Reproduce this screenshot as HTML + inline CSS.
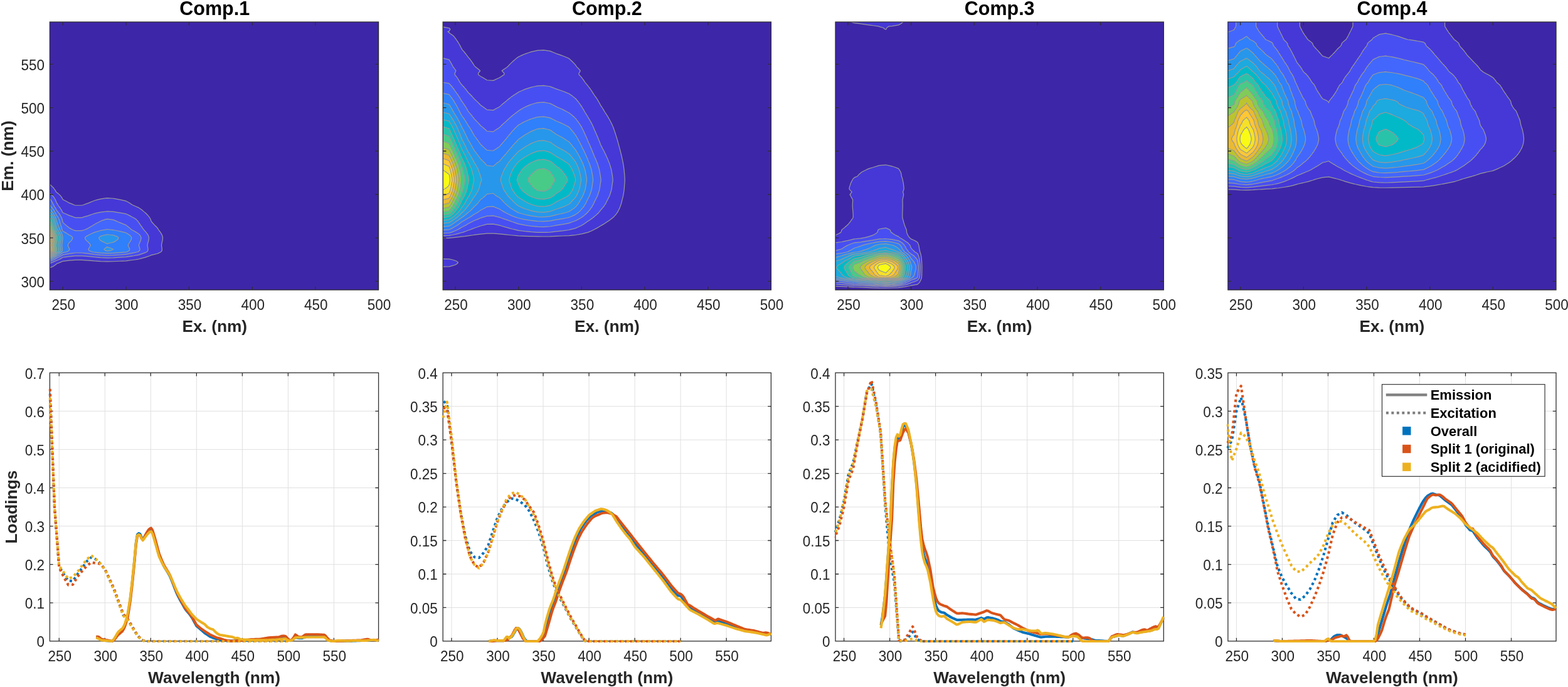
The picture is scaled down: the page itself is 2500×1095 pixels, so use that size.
<!DOCTYPE html>
<html lang="en"><head><meta charset="utf-8"><title>PARAFAC split validation: Comp.1 - Comp.4</title>
<style>html,body{margin:0;padding:0;background:#fff}body{width:2500px;height:1095px;overflow:hidden}svg{display:block}text{font-family:'Liberation Sans', Arial, Helvetica, sans-serif}.t{font-size:22.5px;fill:#262626}.l{font-size:26.3px;font-weight:700;fill:#262626}.h{font-size:30.5px;font-weight:700;fill:#000}.g{font-size:22px;font-weight:700;fill:#000}.ax{fill:none;stroke:#2e2e2e;stroke-width:1.3}.gr{fill:none;stroke:#e0e0e0;stroke-width:1}.cl{fill:none;stroke:#999999;stroke-width:1.2;stroke-linejoin:round}.em{fill:none;stroke-width:4.1;stroke-linejoin:round;stroke-linecap:butt}.ex{fill:none;stroke-width:4.1;stroke-linejoin:round;stroke-dasharray:4 4.47}</style></head><body>
<svg width="2500" height="1095" viewBox="0 0 2500 1095">
<rect width="2500" height="1095" fill="#fff"/>
<g id="eem1">
<clipPath id="cp0"><rect x="79.4" y="35" width="524.15" height="427.05"/></clipPath>
<rect x="79.4" y="35" width="524.15" height="427.05" fill="#3e26a8"/>
<g clip-path="url(#cp0)">
<path fill="#4538d7" fill-rule="evenodd" d="M78.83 426.43 L78.83 427.04 L80.41 426.43 L85.18 424.36 L88.3 422.28 L90.11 420.63 L90.82 420.2 L96.18 418.13 L100.17 416.3 L102.24 416.05 L110.24 415.14 L120.31 414.29 L130.38 414.29 L140.44 415.04 L150.51 415.9 L153.13 416.05 L160.58 416.55 L170.65 416.95 L180.71 416.77 L190.78 416.27 L194.93 416.05 L200.85 415.78 L210.92 414.52 L215.01 413.97 L220.98 413.04 L225.3 411.9 L231.05 410.36 L232.65 409.82 L238.74 407.74 L241.12 406.59 L245.53 405.67 L251.19 404.23 L252.46 403.59 L256.79 401.51 L258.13 399.44 L258.39 397.36 L258.12 395.28 L257.79 393.2 L257.44 391.13 L257.74 389.05 L258.16 386.97 L258.67 384.9 L259.1 382.82 L259.37 380.74 L259.45 378.67 L259.06 376.59 L258.24 374.51 L257.15 372.44 L255.84 370.36 L254.37 368.28 L252.7 366.2 L251.53 364.13 L251.19 363.5 L249.81 362.05 L247.69 359.97 L245.7 357.9 L243.85 355.82 L241.97 353.74 L241.12 352.72 L240.8 351.67 L240.13 349.59 L238.96 347.51 L237.49 345.44 L235.83 343.36 L233.92 341.28 L231.72 339.21 L231.05 338.63 L229.13 337.13 L226.77 335.05 L224.09 332.97 L220.99 330.9 L220.98 330.9 L216.01 328.82 L211.44 326.74 L210.92 326.43 L208.34 324.67 L204.97 322.59 L201.18 320.51 L200.85 320.34 L192.19 318.44 L190.78 318.15 L181.48 316.36 L180.71 316.24 L170.65 315.62 L165.01 316.36 L160.58 317.06 L155.24 318.44 L150.51 319.76 L148.51 320.51 L143.39 322.59 L140.44 323.9 L138.16 324.67 L132.38 326.74 L130.38 327.27 L120.31 327.27 L118.57 326.74 L113.56 324.67 L110.24 323.41 L108.9 322.59 L105.2 320.51 L101.02 318.44 L100.17 318.05 L99.4 316.36 L98.16 314.28 L96.58 312.21 L94.66 310.13 L92.24 308.05 L90.11 306.56 L89.57 305.97 L88.4 303.9 L87.09 301.82 L85.53 299.74 L83.63 297.67 L81.28 295.59 L78.83 293.77 L78.83 295.59 L78.83 297.67 L78.83 299.74 L78.83 301.82 L78.83 303.9 L78.83 305.97 L78.83 308.05 L78.83 310.13 L78.83 312.21 L78.83 314.28 L78.83 316.36 L78.83 318.44 L78.83 320.51 L78.83 322.59 L78.83 324.67 L78.83 326.74 L78.83 328.82 L78.83 330.9 L78.83 332.97 L78.83 335.05 L78.83 337.13 L78.83 339.21 L78.83 341.28 L78.83 343.36 L78.83 345.44 L78.83 347.51 L78.83 349.59 L78.83 351.67 L78.83 353.74 L78.83 355.82 L78.83 357.9 L78.83 359.97 L78.83 362.05 L78.83 364.13 L78.83 366.2 L78.83 368.28 L78.83 370.36 L78.83 372.44 L78.83 374.51 L78.83 376.59 L78.83 378.67 L78.83 380.74 L78.83 382.82 L78.83 384.9 L78.83 386.97 L78.83 389.05 L78.83 391.13 L78.83 393.2 L78.83 395.28 L78.83 397.36 L78.83 399.44 L78.83 401.51 L78.83 403.59 L78.83 405.67 L78.83 407.74 L78.83 409.82 L78.83 411.9 L78.83 413.97 L78.83 416.05 L78.83 418.13 L78.83 420.2 L78.83 422.28 L78.83 424.36 L78.83 426.43Z"/>
<path fill="#484ff2" fill-rule="evenodd" d="M78.83 418.13 L78.83 419.9 L83.69 418.13 L88.56 416.05 L90.11 415.26 L93.57 413.97 L97.44 411.9 L100.17 410.23 L102.9 409.82 L110.24 408.84 L120.31 407.84 L130.38 407.84 L140.44 408.72 L150.51 409.72 L151.99 409.82 L160.58 410.54 L170.65 411.03 L180.71 410.81 L190.78 410.2 L196.41 409.82 L200.85 409.58 L210.92 408.11 L213.33 407.74 L220.98 406.36 L223.32 405.67 L228.94 403.59 L231.05 402.84 L234.17 401.51 L235.77 399.44 L236.09 397.36 L235.76 395.28 L235.37 393.2 L234.94 391.13 L235.31 389.05 L235.81 386.97 L236.43 384.9 L236.95 382.82 L237.27 380.74 L237.37 378.67 L236.9 376.59 L235.92 374.51 L234.6 372.44 L233.02 370.36 L231.25 368.28 L231.05 368.07 L229.23 366.2 L227.81 364.13 L226.4 362.05 L224.87 359.97 L223.44 357.9 L222.1 355.82 L220.98 354.1 L220.65 353.74 L218.94 351.67 L217.11 349.59 L213.91 347.51 L210.92 345.94 L210.06 345.44 L206.2 343.36 L201.79 341.28 L200.85 340.88 L191.67 339.21 L190.78 339.05 L180.71 337.45 L175.25 337.13 L170.65 336.79 L168.48 337.13 L160.58 338.15 L155.63 339.21 L150.51 340.4 L147.7 341.28 L141.72 343.36 L140.44 343.84 L134.87 345.44 L130.38 346.84 L120.31 346.84 L116.41 345.44 L110.24 343.43 L110.11 343.36 L105.79 341.28 L100.79 339.21 L100.17 338.97 L99.14 337.13 L98.09 335.05 L96.9 332.97 L95.52 330.9 L93.89 328.82 L92.4 326.74 L91.23 324.67 L90.11 322.86 L90.01 322.59 L89.2 320.51 L88.29 318.44 L87.25 316.36 L85.88 314.28 L84.14 312.21 L82.01 310.13 L79.34 308.05 L78.83 307.71 L78.83 308.05 L78.83 310.13 L78.83 312.21 L78.83 314.28 L78.83 316.36 L78.83 318.44 L78.83 320.51 L78.83 322.59 L78.83 324.67 L78.83 326.74 L78.83 328.82 L78.83 330.9 L78.83 332.97 L78.83 335.05 L78.83 337.13 L78.83 339.21 L78.83 341.28 L78.83 343.36 L78.83 345.44 L78.83 347.51 L78.83 349.59 L78.83 351.67 L78.83 353.74 L78.83 355.82 L78.83 357.9 L78.83 359.97 L78.83 362.05 L78.83 364.13 L78.83 366.2 L78.83 368.28 L78.83 370.36 L78.83 372.44 L78.83 374.51 L78.83 376.59 L78.83 378.67 L78.83 380.74 L78.83 382.82 L78.83 384.9 L78.83 386.97 L78.83 389.05 L78.83 391.13 L78.83 393.2 L78.83 395.28 L78.83 397.36 L78.83 399.44 L78.83 401.51 L78.83 403.59 L78.83 405.67 L78.83 407.74 L78.83 409.82 L78.83 411.9 L78.83 413.97 L78.83 416.05 L78.83 418.13Z"/>
<path fill="#4367fd" fill-rule="evenodd" d="M78.83 416.05 L78.83 416.87 L81.22 416.05 L86.41 413.97 L89.62 411.9 L90.11 411.59 L94.14 409.82 L98.23 407.74 L100.17 406.3 L103.77 405.67 L110.24 404.32 L115.4 403.59 L120.31 402.99 L130.38 402.99 L136.04 403.59 L140.44 404.14 L150.49 405.67 L150.51 405.67 L160.58 406.66 L170.65 407.23 L180.71 406.97 L190.78 406.26 L198.36 405.67 L200.85 405.46 L209.45 403.59 L210.92 403.3 L219.87 401.51 L220.98 400.84 L222.59 399.44 L223.06 397.36 L222.57 395.28 L221.97 393.2 L221.34 391.13 L221.89 389.05 L222.65 386.97 L223.58 384.9 L224.36 382.82 L224.84 380.74 L225 378.67 L224.28 376.59 L222.8 374.51 L220.98 372.61 L220.75 372.44 L217.51 370.36 L213.88 368.28 L210.92 366.76 L209.94 366.2 L207.49 364.13 L205.05 362.05 L202.41 359.97 L200.85 358.65 L198.83 357.9 L193.76 355.82 L190.78 354.61 L188.57 353.74 L183.77 351.67 L180.71 350.41 L175.58 349.59 L170.65 349.11 L168.33 349.59 L162.32 351.67 L160.58 352.29 L158.02 353.74 L154.03 355.82 L150.51 357.69 L150.21 357.9 L146.85 359.97 L143.27 362.05 L140.44 363.82 L139.79 364.13 L135.08 366.2 L130.38 367.64 L120.31 367.64 L116.23 366.2 L112.14 364.13 L110.24 363.13 L108.98 362.05 L106.4 359.97 L103.98 357.9 L101.72 355.82 L100.17 354.41 L100.03 353.74 L99.6 351.67 L99.16 349.59 L98.37 347.51 L97.39 345.44 L96.27 343.36 L94.99 341.28 L93.51 339.21 L91.78 337.13 L90.21 335.05 L90.11 334.93 L89.18 332.97 L88.03 330.9 L86.68 328.82 L85.44 326.74 L84.47 324.67 L83.4 322.59 L82.18 320.51 L80.82 318.44 L79.26 316.36 L78.83 315.9 L78.83 316.36 L78.83 318.44 L78.83 320.51 L78.83 322.59 L78.83 324.67 L78.83 326.74 L78.83 328.82 L78.83 330.9 L78.83 332.97 L78.83 335.05 L78.83 337.13 L78.83 339.21 L78.83 341.28 L78.83 343.36 L78.83 345.44 L78.83 347.51 L78.83 349.59 L78.83 351.67 L78.83 353.74 L78.83 355.82 L78.83 357.9 L78.83 359.97 L78.83 362.05 L78.83 364.13 L78.83 366.2 L78.83 368.28 L78.83 370.36 L78.83 372.44 L78.83 374.51 L78.83 376.59 L78.83 378.67 L78.83 380.74 L78.83 382.82 L78.83 384.9 L78.83 386.97 L78.83 389.05 L78.83 391.13 L78.83 393.2 L78.83 395.28 L78.83 397.36 L78.83 399.44 L78.83 401.51 L78.83 403.59 L78.83 405.67 L78.83 407.74 L78.83 409.82 L78.83 411.9 L78.83 413.97 L78.83 416.05Z"/>
<path fill="#2f80fa" fill-rule="evenodd" d="M78.83 413.97 L78.83 414.68 L80.8 413.97 L85.08 411.9 L88.7 409.82 L90.11 408.97 L93.02 407.74 L96.56 405.67 L99.06 403.59 L100.17 402.68 L106.34 401.51 L109.98 399.44 L110.24 398.67 L111.01 397.36 L110.24 396.09 L109.95 395.28 L109.06 393.2 L108.1 391.13 L108.93 389.05 L110.07 386.97 L110.24 386.73 L112.32 384.9 L114.32 382.82 L115.54 380.74 L115.94 378.67 L114.12 376.59 L110.34 374.51 L110.24 374.47 L107.32 372.44 L103.74 370.36 L100.18 368.51 L100.08 368.28 L99.19 366.2 L98.56 364.13 L97.93 362.05 L97.25 359.97 L96.61 357.9 L96.02 355.82 L95.41 353.74 L94.85 351.67 L94.25 349.59 L93.2 347.51 L91.89 345.44 L90.41 343.36 L90.11 342.97 L89.33 341.28 L88.24 339.21 L86.97 337.13 L85.8 335.05 L84.49 332.97 L82.96 330.9 L81.16 328.82 L79.51 326.74 L78.83 325.63 L78.83 326.74 L78.83 328.82 L78.83 330.9 L78.83 332.97 L78.83 335.05 L78.83 337.13 L78.83 339.21 L78.83 341.28 L78.83 343.36 L78.83 345.44 L78.83 347.51 L78.83 349.59 L78.83 351.67 L78.83 353.74 L78.83 355.82 L78.83 357.9 L78.83 359.97 L78.83 362.05 L78.83 364.13 L78.83 366.2 L78.83 368.28 L78.83 370.36 L78.83 372.44 L78.83 374.51 L78.83 376.59 L78.83 378.67 L78.83 380.74 L78.83 382.82 L78.83 384.9 L78.83 386.97 L78.83 389.05 L78.83 391.13 L78.83 393.2 L78.83 395.28 L78.83 397.36 L78.83 399.44 L78.83 401.51 L78.83 403.59 L78.83 405.67 L78.83 407.74 L78.83 409.82 L78.83 411.9 L78.83 413.97ZM169.61 403.59 L170.65 403.66 L172.86 403.59 L180.71 403.38 L190.78 402.65 L200.85 401.81 L202.35 401.51 L206.07 399.44 L206.8 397.36 L206.05 395.28 L205.13 393.2 L204.15 391.13 L205 389.05 L206.17 386.97 L207.6 384.9 L208.8 382.82 L209.53 380.74 L209.77 378.67 L208.67 376.59 L206.4 374.51 L203.35 372.44 L200.85 370.99 L198.29 370.36 L190.78 368.62 L189.25 368.28 L180.71 366.53 L176.52 366.2 L170.65 365.51 L167.88 366.2 L160.58 367.44 L157.5 368.28 L150.54 370.36 L150.51 370.37 L145.58 372.44 L141.45 374.51 L140.44 375.17 L137.51 376.59 L135.41 378.67 L135.87 380.74 L137.28 382.82 L139.58 384.9 L140.44 385.57 L141.76 386.97 L143.34 389.05 L144.49 391.13 L143.17 393.2 L141.93 395.28 L140.91 397.36 L141.89 399.44 L146.93 401.51 L150.51 402.03 L160.58 403.06 L169.61 403.59Z"/>
<path fill="#2797eb" fill-rule="evenodd" d="M78.83 411.9 L78.83 412.66 L80.55 411.9 L85.07 409.82 L88.83 407.74 L90.11 406.76 L92.23 405.67 L95.36 403.59 L98.27 401.51 L99.17 399.44 L99.35 397.36 L99.17 395.28 L98.94 393.2 L98.71 391.13 L98.91 389.05 L99.19 386.97 L99.54 384.9 L99.83 382.82 L100.01 380.74 L100.06 378.67 L99.8 376.59 L99.25 374.51 L98.52 372.44 L97.63 370.36 L96.64 368.28 L95.52 366.2 L94.73 364.13 L93.95 362.05 L93.1 359.97 L92.3 357.9 L91.56 355.82 L90.8 353.74 L90.11 351.7 L90.1 351.67 L89.69 349.59 L88.96 347.51 L88.06 345.44 L87.03 343.36 L85.85 341.28 L84.49 339.21 L82.9 337.13 L81.45 335.05 L79.8 332.97 L78.83 331.88 L78.83 332.97 L78.83 335.05 L78.83 337.13 L78.83 339.21 L78.83 341.28 L78.83 343.36 L78.83 345.44 L78.83 347.51 L78.83 349.59 L78.83 351.67 L78.83 353.74 L78.83 355.82 L78.83 357.9 L78.83 359.97 L78.83 362.05 L78.83 364.13 L78.83 366.2 L78.83 368.28 L78.83 370.36 L78.83 372.44 L78.83 374.51 L78.83 376.59 L78.83 378.67 L78.83 380.74 L78.83 382.82 L78.83 384.9 L78.83 386.97 L78.83 389.05 L78.83 391.13 L78.83 393.2 L78.83 395.28 L78.83 397.36 L78.83 399.44 L78.83 401.51 L78.83 403.59 L78.83 405.67 L78.83 407.74 L78.83 409.82 L78.83 411.9ZM168.11 399.44 L170.65 399.89 L176.04 399.44 L180.71 397.5 L180.85 397.36 L180.71 397.23 L175.85 395.28 L170.65 393.56 L168.2 395.28 L165.76 397.36 L168.11 399.44ZM167.8 386.97 L170.65 388.55 L176.69 386.97 L180.71 386.13 L183.03 384.9 L186.34 382.82 L188.36 380.74 L189.02 378.67 L186 376.59 L180.71 374.82 L178.31 374.51 L170.65 373.73 L167.04 374.51 L160.58 376.33 L160 376.59 L157.68 378.67 L158.18 380.74 L159.74 382.82 L160.58 383.52 L163.19 384.9 L167.8 386.97Z"/>
<path fill="#1caadf" fill-rule="evenodd" d="M78.83 409.82 L78.83 410.93 L81.43 409.82 L85.95 407.74 L88.89 405.67 L90.11 404.53 L91.66 403.59 L95.16 401.51 L96.23 399.44 L96.44 397.36 L96.23 395.28 L95.96 393.2 L95.68 391.13 L95.92 389.05 L96.26 386.97 L96.67 384.9 L97.02 382.82 L97.24 380.74 L97.3 378.67 L96.99 376.59 L96.33 374.51 L95.45 372.44 L94.39 370.36 L93.2 368.28 L91.85 366.2 L90.9 364.13 L90.11 362.36 L90.03 362.05 L89.46 359.97 L88.94 357.9 L88.44 355.82 L87.94 353.74 L87.47 351.67 L86.98 349.59 L86.11 347.51 L85.02 345.44 L83.79 343.36 L82.38 341.28 L80.74 339.21 L78.83 337.13 L78.83 339.21 L78.83 341.28 L78.83 343.36 L78.83 345.44 L78.83 347.51 L78.83 349.59 L78.83 351.67 L78.83 353.74 L78.83 355.82 L78.83 357.9 L78.83 359.97 L78.83 362.05 L78.83 364.13 L78.83 366.2 L78.83 368.28 L78.83 370.36 L78.83 372.44 L78.83 374.51 L78.83 376.59 L78.83 378.67 L78.83 380.74 L78.83 382.82 L78.83 384.9 L78.83 386.97 L78.83 389.05 L78.83 391.13 L78.83 393.2 L78.83 395.28 L78.83 397.36 L78.83 399.44 L78.83 401.51 L78.83 403.59 L78.83 405.67 L78.83 407.74 L78.83 409.82Z"/>
<path fill="#01b9c7" fill-rule="evenodd" d="M78.83 407.74 L78.83 409.48 L83.07 407.74 L86.5 405.67 L88.92 403.59 L90.11 402.58 L92.04 401.51 L93.3 399.44 L93.54 397.36 L93.29 395.28 L92.98 393.2 L92.65 391.13 L92.93 389.05 L93.33 386.97 L93.81 384.9 L94.22 382.82 L94.46 380.74 L94.55 378.67 L94.17 376.59 L93.41 374.51 L92.38 372.44 L91.14 370.36 L90.11 368.79 L89.91 368.28 L89.04 366.2 L88.43 364.13 L87.83 362.05 L87.17 359.97 L86.55 357.9 L85.98 355.82 L85.39 353.74 L84.85 351.67 L84.27 349.59 L83.26 347.51 L81.99 345.44 L80.55 343.36 L78.9 341.28 L78.83 341.2 L78.83 341.28 L78.83 343.36 L78.83 345.44 L78.83 347.51 L78.83 349.59 L78.83 351.67 L78.83 353.74 L78.83 355.82 L78.83 357.9 L78.83 359.97 L78.83 362.05 L78.83 364.13 L78.83 366.2 L78.83 368.28 L78.83 370.36 L78.83 372.44 L78.83 374.51 L78.83 376.59 L78.83 378.67 L78.83 380.74 L78.83 382.82 L78.83 384.9 L78.83 386.97 L78.83 389.05 L78.83 391.13 L78.83 393.2 L78.83 395.28 L78.83 397.36 L78.83 399.44 L78.83 401.51 L78.83 403.59 L78.83 405.67 L78.83 407.74Z"/>
<path fill="#29c3aa" fill-rule="evenodd" d="M78.83 407.74 L78.83 408.3 L80.19 407.74 L84.11 405.67 L86.87 403.59 L89.45 401.51 L90.11 399.81 L90.36 399.44 L90.64 397.36 L90.35 395.28 L90.11 393.87 L90.04 393.2 L89.84 391.13 L90.02 389.05 L90.11 388.3 L90.39 386.97 L90.94 384.9 L91.41 382.82 L91.69 380.74 L91.79 378.67 L91.36 376.59 L90.48 374.51 L90.11 373.83 L89.66 372.44 L88.88 370.36 L88.01 368.28 L87.02 366.2 L86.32 364.13 L85.62 362.05 L84.87 359.97 L84.17 357.9 L83.51 355.82 L82.84 353.74 L82.22 351.67 L81.56 349.59 L80.4 347.51 L78.95 345.44 L78.83 345.27 L78.83 345.44 L78.83 347.51 L78.83 349.59 L78.83 351.67 L78.83 353.74 L78.83 355.82 L78.83 357.9 L78.83 359.97 L78.83 362.05 L78.83 364.13 L78.83 366.2 L78.83 368.28 L78.83 370.36 L78.83 372.44 L78.83 374.51 L78.83 376.59 L78.83 378.67 L78.83 380.74 L78.83 382.82 L78.83 384.9 L78.83 386.97 L78.83 389.05 L78.83 391.13 L78.83 393.2 L78.83 395.28 L78.83 397.36 L78.83 399.44 L78.83 401.51 L78.83 403.59 L78.83 405.67 L78.83 407.74Z"/>
<path fill="#48cb86" fill-rule="evenodd" d="M78.83 405.67 L78.83 407.11 L81.72 405.67 L84.83 403.59 L87.73 401.51 L88.62 399.44 L88.8 397.36 L88.61 395.28 L88.4 393.2 L88.16 391.13 L88.36 389.05 L88.64 386.97 L88.99 384.9 L89.28 382.82 L89.45 380.74 L89.51 378.67 L89.25 376.59 L88.7 374.51 L87.97 372.44 L87.09 370.36 L86.1 368.28 L84.99 366.2 L84.2 364.13 L83.42 362.05 L82.58 359.97 L81.78 357.9 L81.05 355.82 L80.29 353.74 L79.59 351.67 L78.85 349.59 L78.83 349.56 L78.83 349.59 L78.83 351.67 L78.83 353.74 L78.83 355.82 L78.83 357.9 L78.83 359.97 L78.83 362.05 L78.83 364.13 L78.83 366.2 L78.83 368.28 L78.83 370.36 L78.83 372.44 L78.83 374.51 L78.83 376.59 L78.83 378.67 L78.83 380.74 L78.83 382.82 L78.83 384.9 L78.83 386.97 L78.83 389.05 L78.83 391.13 L78.83 393.2 L78.83 395.28 L78.83 397.36 L78.83 399.44 L78.83 401.51 L78.83 403.59 L78.83 405.67Z"/>
<path fill="#81cc59" fill-rule="evenodd" d="M78.83 405.67 L78.83 405.91 L79.32 405.67 L82.78 403.59 L86.01 401.51 L87 399.44 L87.19 397.36 L86.99 395.28 L86.75 393.2 L86.48 391.13 L86.71 389.05 L87.02 386.97 L87.4 384.9 L87.72 382.82 L87.92 380.74 L87.98 378.67 L87.69 376.59 L87.09 374.51 L86.27 372.44 L85.29 370.36 L84.2 368.28 L82.96 366.2 L82.09 364.13 L81.22 362.05 L80.28 359.97 L79.4 357.9 L78.83 356.44 L78.83 357.9 L78.83 359.97 L78.83 362.05 L78.83 364.13 L78.83 366.2 L78.83 368.28 L78.83 370.36 L78.83 372.44 L78.83 374.51 L78.83 376.59 L78.83 378.67 L78.83 380.74 L78.83 382.82 L78.83 384.9 L78.83 386.97 L78.83 389.05 L78.83 391.13 L78.83 393.2 L78.83 395.28 L78.83 397.36 L78.83 399.44 L78.83 401.51 L78.83 403.59 L78.83 405.67Z"/>
<path fill="#bbc42f" fill-rule="evenodd" d="M78.83 403.59 L78.83 404.71 L80.74 403.59 L84.28 401.51 L85.37 399.44 L85.59 397.36 L85.37 395.28 L85.1 393.2 L84.81 391.13 L85.06 389.05 L85.4 386.97 L85.82 384.9 L86.17 382.82 L86.39 380.74 L86.46 378.67 L86.14 376.59 L85.47 374.51 L84.57 372.44 L83.5 370.36 L82.29 368.28 L80.93 366.2 L79.97 364.13 L79.02 362.05 L78.83 361.66 L78.83 362.05 L78.83 364.13 L78.83 366.2 L78.83 368.28 L78.83 370.36 L78.83 372.44 L78.83 374.51 L78.83 376.59 L78.83 378.67 L78.83 380.74 L78.83 382.82 L78.83 384.9 L78.83 386.97 L78.83 389.05 L78.83 391.13 L78.83 393.2 L78.83 395.28 L78.83 397.36 L78.83 399.44 L78.83 401.51 L78.83 403.59Z"/>
<path fill="#eaba31" fill-rule="evenodd" d="M78.83 401.51 L78.83 403.53 L82.56 401.51 L83.75 399.44 L83.98 397.36 L83.74 395.28 L83.45 393.2 L83.13 391.13 L83.41 389.05 L83.78 386.97 L84.24 384.9 L84.62 382.82 L84.86 380.74 L84.93 378.67 L84.58 376.59 L83.85 374.51 L82.88 372.44 L81.71 370.36 L80.39 368.28 L78.9 366.2 L78.83 366.05 L78.83 366.2 L78.83 368.28 L78.83 370.36 L78.83 372.44 L78.83 374.51 L78.83 376.59 L78.83 378.67 L78.83 380.74 L78.83 382.82 L78.83 384.9 L78.83 386.97 L78.83 389.05 L78.83 391.13 L78.83 393.2 L78.83 395.28 L78.83 397.36 L78.83 399.44 L78.83 401.51Z"/>
<path fill="#fec735" fill-rule="evenodd" d="M78.83 401.51 L78.83 402.59 L80.84 401.51 L82.13 399.44 L82.38 397.36 L82.12 395.28 L81.8 393.2 L81.46 391.13 L81.75 389.05 L82.16 386.97 L82.65 384.9 L83.07 382.82 L83.32 380.74 L83.41 378.67 L83.03 376.59 L82.24 374.51 L81.18 372.44 L79.91 370.36 L78.83 368.76 L78.83 370.36 L78.83 372.44 L78.83 374.51 L78.83 376.59 L78.83 378.67 L78.83 380.74 L78.83 382.82 L78.83 384.9 L78.83 386.97 L78.83 389.05 L78.83 391.13 L78.83 393.2 L78.83 395.28 L78.83 397.36 L78.83 399.44 L78.83 401.51Z"/>
<path fill="#f5e128" fill-rule="evenodd" d="M78.83 401.51 L78.83 401.66 L79.11 401.51 L80.5 399.44 L80.77 397.36 L80.49 395.28 L80.15 393.2 L79.78 391.13 L80.1 389.05 L80.54 386.97 L81.07 384.9 L81.52 382.82 L81.79 380.74 L81.88 378.67 L81.47 376.59 L80.62 374.51 L79.48 372.44 L78.83 371.42 L78.83 372.44 L78.83 374.51 L78.83 376.59 L78.83 378.67 L78.83 380.74 L78.83 382.82 L78.83 384.9 L78.83 386.97 L78.83 389.05 L78.83 391.13 L78.83 393.2 L78.83 395.28 L78.83 397.36 L78.83 399.44 L78.83 401.51Z"/>
<path fill="#f9fb15" fill-rule="evenodd" d="M78.83 399.44 L78.83 399.5 L78.88 399.44 L79.17 397.36 L78.87 395.28 L78.83 395.08 L78.83 395.28 L78.83 397.36 L78.83 399.44ZM78.83 386.97 L78.83 387.35 L78.92 386.97 L79.49 384.9 L79.97 382.82 L80.26 380.74 L80.36 378.67 L79.92 376.59 L79.01 374.51 L78.83 374.2 L78.83 374.51 L78.83 376.59 L78.83 378.67 L78.83 380.74 L78.83 382.82 L78.83 384.9 L78.83 386.97Z"/>
<path class="cl" d="M78.83 427.04 L80.41 426.43 L85.18 424.36 L88.3 422.28 L90.11 420.63 L90.82 420.2 L96.18 418.13 L100.17 416.3 L102.24 416.05 L110.24 415.14 L120.31 414.29 L130.38 414.29 L140.44 415.04 L150.51 415.9 L153.13 416.05 L160.58 416.55 L170.65 416.95 L180.71 416.77 L190.78 416.27 L194.93 416.05 L200.85 415.78 L210.92 414.52 L215.01 413.97 L220.98 413.04 L225.3 411.9 L231.05 410.36 L232.65 409.82 L238.74 407.74 L241.12 406.59 L245.53 405.67 L251.19 404.23 L252.46 403.59 L256.79 401.51 L258.13 399.44 L258.39 397.36 L258.12 395.28 L257.79 393.2 L257.44 391.13 L257.74 389.05 L258.16 386.97 L258.67 384.9 L259.1 382.82 L259.37 380.74 L259.45 378.67 L259.06 376.59 L258.24 374.51 L257.15 372.44 L255.84 370.36 L254.37 368.28 L252.7 366.2 L251.53 364.13 L251.19 363.5 L249.81 362.05 L247.69 359.97 L245.7 357.9 L243.85 355.82 L241.97 353.74 L241.12 352.72 L240.8 351.67 L240.13 349.59 L238.96 347.51 L237.49 345.44 L235.83 343.36 L233.92 341.28 L231.72 339.21 L231.05 338.63 L229.13 337.13 L226.77 335.05 L224.09 332.97 L220.99 330.9 L220.98 330.9 L216.01 328.82 L211.44 326.74 L210.92 326.43 L208.34 324.67 L204.97 322.59 L201.18 320.51 L200.85 320.34 L192.19 318.44 L190.78 318.15 L181.48 316.36 L180.71 316.24 L170.65 315.62 L165.01 316.36 L160.58 317.06 L155.24 318.44 L150.51 319.76 L148.51 320.51 L143.39 322.59 L140.44 323.9 L138.16 324.67 L132.38 326.74 L130.38 327.27 L120.31 327.27 L118.57 326.74 L113.56 324.67 L110.24 323.41 L108.9 322.59 L105.2 320.51 L101.02 318.44 L100.17 318.05 L99.4 316.36 L98.16 314.28 L96.58 312.21 L94.66 310.13 L92.24 308.05 L90.11 306.56 L89.57 305.97 L88.4 303.9 L87.09 301.82 L85.53 299.74 L83.63 297.67 L81.28 295.59 L78.83 293.77M78.83 419.9 L83.69 418.13 L88.56 416.05 L90.11 415.26 L93.57 413.97 L97.44 411.9 L100.17 410.23 L102.9 409.82 L110.24 408.84 L120.31 407.84 L130.38 407.84 L140.44 408.72 L150.51 409.72 L151.99 409.82 L160.58 410.54 L170.65 411.03 L180.71 410.81 L190.78 410.2 L196.41 409.82 L200.85 409.58 L210.92 408.11 L213.33 407.74 L220.98 406.36 L223.32 405.67 L228.94 403.59 L231.05 402.84 L234.17 401.51 L235.77 399.44 L236.09 397.36 L235.76 395.28 L235.37 393.2 L234.94 391.13 L235.31 389.05 L235.81 386.97 L236.43 384.9 L236.95 382.82 L237.27 380.74 L237.37 378.67 L236.9 376.59 L235.92 374.51 L234.6 372.44 L233.02 370.36 L231.25 368.28 L231.05 368.07 L229.23 366.2 L227.81 364.13 L226.4 362.05 L224.87 359.97 L223.44 357.9 L222.1 355.82 L220.98 354.1 L220.65 353.74 L218.94 351.67 L217.11 349.59 L213.91 347.51 L210.92 345.94 L210.06 345.44 L206.2 343.36 L201.79 341.28 L200.85 340.88 L191.67 339.21 L190.78 339.05 L180.71 337.45 L175.25 337.13 L170.65 336.79 L168.48 337.13 L160.58 338.15 L155.63 339.21 L150.51 340.4 L147.7 341.28 L141.72 343.36 L140.44 343.84 L134.87 345.44 L130.38 346.84 L120.31 346.84 L116.41 345.44 L110.24 343.43 L110.11 343.36 L105.79 341.28 L100.79 339.21 L100.17 338.97 L99.14 337.13 L98.09 335.05 L96.9 332.97 L95.52 330.9 L93.89 328.82 L92.4 326.74 L91.23 324.67 L90.11 322.86 L90.01 322.59 L89.2 320.51 L88.29 318.44 L87.25 316.36 L85.88 314.28 L84.14 312.21 L82.01 310.13 L79.34 308.05 L78.83 307.71M78.83 416.87 L81.22 416.05 L86.41 413.97 L89.62 411.9 L90.11 411.59 L94.14 409.82 L98.23 407.74 L100.17 406.3 L103.77 405.67 L110.24 404.32 L115.4 403.59 L120.31 402.99 L130.38 402.99 L136.04 403.59 L140.44 404.14 L150.49 405.67 L150.51 405.67 L160.58 406.66 L170.65 407.23 L180.71 406.97 L190.78 406.26 L198.36 405.67 L200.85 405.46 L209.45 403.59 L210.92 403.3 L219.87 401.51 L220.98 400.84 L222.59 399.44 L223.06 397.36 L222.57 395.28 L221.97 393.2 L221.34 391.13 L221.89 389.05 L222.65 386.97 L223.58 384.9 L224.36 382.82 L224.84 380.74 L225 378.67 L224.28 376.59 L222.8 374.51 L220.98 372.61 L220.75 372.44 L217.51 370.36 L213.88 368.28 L210.92 366.76 L209.94 366.2 L207.49 364.13 L205.05 362.05 L202.41 359.97 L200.85 358.65 L198.83 357.9 L193.76 355.82 L190.78 354.61 L188.57 353.74 L183.77 351.67 L180.71 350.41 L175.58 349.59 L170.65 349.11 L168.33 349.59 L162.32 351.67 L160.58 352.29 L158.02 353.74 L154.03 355.82 L150.51 357.69 L150.21 357.9 L146.85 359.97 L143.27 362.05 L140.44 363.82 L139.79 364.13 L135.08 366.2 L130.38 367.64 L120.31 367.64 L116.23 366.2 L112.14 364.13 L110.24 363.13 L108.98 362.05 L106.4 359.97 L103.98 357.9 L101.72 355.82 L100.17 354.41 L100.03 353.74 L99.6 351.67 L99.16 349.59 L98.37 347.51 L97.39 345.44 L96.27 343.36 L94.99 341.28 L93.51 339.21 L91.78 337.13 L90.21 335.05 L90.11 334.93 L89.18 332.97 L88.03 330.9 L86.68 328.82 L85.44 326.74 L84.47 324.67 L83.4 322.59 L82.18 320.51 L80.82 318.44 L79.26 316.36 L78.83 315.9M78.83 414.68 L80.8 413.97 L85.08 411.9 L88.7 409.82 L90.11 408.97 L93.02 407.74 L96.56 405.67 L99.06 403.59 L100.17 402.68 L106.34 401.51 L109.98 399.44 L110.24 398.67 L111.01 397.36 L110.24 396.09 L109.95 395.28 L109.06 393.2 L108.1 391.13 L108.93 389.05 L110.07 386.97 L110.24 386.73 L112.32 384.9 L114.32 382.82 L115.54 380.74 L115.94 378.67 L114.12 376.59 L110.34 374.51 L110.24 374.47 L107.32 372.44 L103.74 370.36 L100.18 368.51 L100.08 368.28 L99.19 366.2 L98.56 364.13 L97.93 362.05 L97.25 359.97 L96.61 357.9 L96.02 355.82 L95.41 353.74 L94.85 351.67 L94.25 349.59 L93.2 347.51 L91.89 345.44 L90.41 343.36 L90.11 342.97 L89.33 341.28 L88.24 339.21 L86.97 337.13 L85.8 335.05 L84.49 332.97 L82.96 330.9 L81.16 328.82 L79.51 326.74 L78.83 325.63M169.61 403.59 L170.65 403.66 L172.86 403.59 L180.71 403.38 L190.78 402.65 L200.85 401.81 L202.35 401.51 L206.07 399.44 L206.8 397.36 L206.05 395.28 L205.13 393.2 L204.15 391.13 L205 389.05 L206.17 386.97 L207.6 384.9 L208.8 382.82 L209.53 380.74 L209.77 378.67 L208.67 376.59 L206.4 374.51 L203.35 372.44 L200.85 370.99 L198.29 370.36 L190.78 368.62 L189.25 368.28 L180.71 366.53 L176.52 366.2 L170.65 365.51 L167.88 366.2 L160.58 367.44 L157.5 368.28 L150.54 370.36 L150.51 370.37 L145.58 372.44 L141.45 374.51 L140.44 375.17 L137.51 376.59 L135.41 378.67 L135.87 380.74 L137.28 382.82 L139.58 384.9 L140.44 385.57 L141.76 386.97 L143.34 389.05 L144.49 391.13 L143.17 393.2 L141.93 395.28 L140.91 397.36 L141.89 399.44 L146.93 401.51 L150.51 402.03 L160.58 403.06ZM78.83 412.66 L80.55 411.9 L85.07 409.82 L88.83 407.74 L90.11 406.76 L92.23 405.67 L95.36 403.59 L98.27 401.51 L99.17 399.44 L99.35 397.36 L99.17 395.28 L98.94 393.2 L98.71 391.13 L98.91 389.05 L99.19 386.97 L99.54 384.9 L99.83 382.82 L100.01 380.74 L100.06 378.67 L99.8 376.59 L99.25 374.51 L98.52 372.44 L97.63 370.36 L96.64 368.28 L95.52 366.2 L94.73 364.13 L93.95 362.05 L93.1 359.97 L92.3 357.9 L91.56 355.82 L90.8 353.74 L90.11 351.7 L90.1 351.67 L89.69 349.59 L88.96 347.51 L88.06 345.44 L87.03 343.36 L85.85 341.28 L84.49 339.21 L82.9 337.13 L81.45 335.05 L79.8 332.97 L78.83 331.88M168.11 399.44 L170.65 399.89 L176.04 399.44 L180.71 397.5 L180.85 397.36 L180.71 397.23 L175.85 395.28 L170.65 393.56 L168.2 395.28 L165.76 397.36ZM167.8 386.97 L170.65 388.55 L176.69 386.97 L180.71 386.13 L183.03 384.9 L186.34 382.82 L188.36 380.74 L189.02 378.67 L186 376.59 L180.71 374.82 L178.31 374.51 L170.65 373.73 L167.04 374.51 L160.58 376.33 L160 376.59 L157.68 378.67 L158.18 380.74 L159.74 382.82 L160.58 383.52 L163.19 384.9ZM78.83 410.93 L81.43 409.82 L85.95 407.74 L88.89 405.67 L90.11 404.53 L91.66 403.59 L95.16 401.51 L96.23 399.44 L96.44 397.36 L96.23 395.28 L95.96 393.2 L95.68 391.13 L95.92 389.05 L96.26 386.97 L96.67 384.9 L97.02 382.82 L97.24 380.74 L97.3 378.67 L96.99 376.59 L96.33 374.51 L95.45 372.44 L94.39 370.36 L93.2 368.28 L91.85 366.2 L90.9 364.13 L90.11 362.36 L90.03 362.05 L89.46 359.97 L88.94 357.9 L88.44 355.82 L87.94 353.74 L87.47 351.67 L86.98 349.59 L86.11 347.51 L85.02 345.44 L83.79 343.36 L82.38 341.28 L80.74 339.21 L78.83 337.13M78.83 409.48 L83.07 407.74 L86.5 405.67 L88.92 403.59 L90.11 402.58 L92.04 401.51 L93.3 399.44 L93.54 397.36 L93.29 395.28 L92.98 393.2 L92.65 391.13 L92.93 389.05 L93.33 386.97 L93.81 384.9 L94.22 382.82 L94.46 380.74 L94.55 378.67 L94.17 376.59 L93.41 374.51 L92.38 372.44 L91.14 370.36 L90.11 368.79 L89.91 368.28 L89.04 366.2 L88.43 364.13 L87.83 362.05 L87.17 359.97 L86.55 357.9 L85.98 355.82 L85.39 353.74 L84.85 351.67 L84.27 349.59 L83.26 347.51 L81.99 345.44 L80.55 343.36 L78.9 341.28 L78.83 341.2M78.83 408.3 L80.19 407.74 L84.11 405.67 L86.87 403.59 L89.45 401.51 L90.11 399.81 L90.36 399.44 L90.64 397.36 L90.35 395.28 L90.11 393.87 L90.04 393.2 L89.84 391.13 L90.02 389.05 L90.11 388.3 L90.39 386.97 L90.94 384.9 L91.41 382.82 L91.69 380.74 L91.79 378.67 L91.36 376.59 L90.48 374.51 L90.11 373.83 L89.66 372.44 L88.88 370.36 L88.01 368.28 L87.02 366.2 L86.32 364.13 L85.62 362.05 L84.87 359.97 L84.17 357.9 L83.51 355.82 L82.84 353.74 L82.22 351.67 L81.56 349.59 L80.4 347.51 L78.95 345.44 L78.83 345.27M78.83 407.11 L81.72 405.67 L84.83 403.59 L87.73 401.51 L88.62 399.44 L88.8 397.36 L88.61 395.28 L88.4 393.2 L88.16 391.13 L88.36 389.05 L88.64 386.97 L88.99 384.9 L89.28 382.82 L89.45 380.74 L89.51 378.67 L89.25 376.59 L88.7 374.51 L87.97 372.44 L87.09 370.36 L86.1 368.28 L84.99 366.2 L84.2 364.13 L83.42 362.05 L82.58 359.97 L81.78 357.9 L81.05 355.82 L80.29 353.74 L79.59 351.67 L78.85 349.59 L78.83 349.56M78.83 405.91 L79.32 405.67 L82.78 403.59 L86.01 401.51 L87 399.44 L87.19 397.36 L86.99 395.28 L86.75 393.2 L86.48 391.13 L86.71 389.05 L87.02 386.97 L87.4 384.9 L87.72 382.82 L87.92 380.74 L87.98 378.67 L87.69 376.59 L87.09 374.51 L86.27 372.44 L85.29 370.36 L84.2 368.28 L82.96 366.2 L82.09 364.13 L81.22 362.05 L80.28 359.97 L79.4 357.9 L78.83 356.44M78.83 404.71 L80.74 403.59 L84.28 401.51 L85.37 399.44 L85.59 397.36 L85.37 395.28 L85.1 393.2 L84.81 391.13 L85.06 389.05 L85.4 386.97 L85.82 384.9 L86.17 382.82 L86.39 380.74 L86.46 378.67 L86.14 376.59 L85.47 374.51 L84.57 372.44 L83.5 370.36 L82.29 368.28 L80.93 366.2 L79.97 364.13 L79.02 362.05 L78.83 361.66M78.83 403.53 L82.56 401.51 L83.75 399.44 L83.98 397.36 L83.74 395.28 L83.45 393.2 L83.13 391.13 L83.41 389.05 L83.78 386.97 L84.24 384.9 L84.62 382.82 L84.86 380.74 L84.93 378.67 L84.58 376.59 L83.85 374.51 L82.88 372.44 L81.71 370.36 L80.39 368.28 L78.9 366.2 L78.83 366.05M78.83 402.59 L80.84 401.51 L82.13 399.44 L82.38 397.36 L82.12 395.28 L81.8 393.2 L81.46 391.13 L81.75 389.05 L82.16 386.97 L82.65 384.9 L83.07 382.82 L83.32 380.74 L83.41 378.67 L83.03 376.59 L82.24 374.51 L81.18 372.44 L79.91 370.36 L78.83 368.76M78.83 401.66 L79.11 401.51 L80.5 399.44 L80.77 397.36 L80.49 395.28 L80.15 393.2 L79.78 391.13 L80.1 389.05 L80.54 386.97 L81.07 384.9 L81.52 382.82 L81.79 380.74 L81.88 378.67 L81.47 376.59 L80.62 374.51 L79.48 372.44 L78.83 371.42M78.83 399.5 L78.88 399.44 L79.17 397.36 L78.87 395.28 L78.83 395.08M78.83 387.35 L78.92 386.97 L79.49 384.9 L79.97 382.82 L80.26 380.74 L80.36 378.67 L79.92 376.59 L79.01 374.51 L78.83 374.2"/>
</g>
<path class="ax" d="M100.17 462.05v-5.2M100.17 35v5.2M200.85 462.05v-5.2M200.85 35v5.2M301.52 462.05v-5.2M301.52 35v5.2M402.2 462.05v-5.2M402.2 35v5.2M502.87 462.05v-5.2M502.87 35v5.2M79.4 448.45h5.2M603.55 448.45h-5.2M79.4 379.22h5.2M603.55 379.22h-5.2M79.4 309.99h5.2M603.55 309.99h-5.2M79.4 240.76h5.2M603.55 240.76h-5.2M79.4 171.53h5.2M603.55 171.53h-5.2M79.4 102.3h5.2M603.55 102.3h-5.2"/>
<rect class="ax" x="79.4" y="35" width="524.15" height="427.05"/>
<text class="t" transform="translate(101.17 493.95) scale(1 1.04)" text-anchor="middle">250</text>
<text class="t" transform="translate(201.85 493.95) scale(1 1.04)" text-anchor="middle">300</text>
<text class="t" transform="translate(302.52 493.95) scale(1 1.04)" text-anchor="middle">350</text>
<text class="t" transform="translate(403.2 493.95) scale(1 1.04)" text-anchor="middle">400</text>
<text class="t" transform="translate(503.87 493.95) scale(1 1.04)" text-anchor="middle">450</text>
<text class="t" transform="translate(604.55 493.95) scale(1 1.04)" text-anchor="middle">500</text>
<text class="t" transform="translate(71 457.75) scale(1 1.04)" text-anchor="end">300</text>
<text class="t" transform="translate(71 388.52) scale(1 1.04)" text-anchor="end">350</text>
<text class="t" transform="translate(71 319.29) scale(1 1.04)" text-anchor="end">400</text>
<text class="t" transform="translate(71 250.06) scale(1 1.04)" text-anchor="end">450</text>
<text class="t" transform="translate(71 180.83) scale(1 1.04)" text-anchor="end">500</text>
<text class="t" transform="translate(71 111.6) scale(1 1.04)" text-anchor="end">550</text>
<text class="l" transform="translate(21.3 248.53) rotate(-90)" text-anchor="middle">Em. (nm)</text>
<text class="h" x="342.27" y="24.1" text-anchor="middle">Comp.1</text>
<text class="l" x="342.27" y="528.6" text-anchor="middle">Ex. (nm)</text>
</g>
<g id="load1">
<clipPath id="cq0"><rect x="77.35" y="592.15" width="528.25" height="431.8"/></clipPath>
<path class="gr" d="M94.25 594.2V1021.9M167.27 594.2V1021.9M240.3 594.2V1021.9M313.32 594.2V1021.9M386.35 594.2V1021.9M459.38 594.2V1021.9M532.4 594.2V1021.9M79.4 960.8H603.55M79.4 899.7H603.55M79.4 838.6H603.55M79.4 777.5H603.55M79.4 716.4H603.55M79.4 655.3H603.55"/>
<path class="ax" d="M94.25 1021.9v-5.2M94.25 594.2v5.2M167.27 1021.9v-5.2M167.27 594.2v5.2M240.3 1021.9v-5.2M240.3 594.2v5.2M313.32 1021.9v-5.2M313.32 594.2v5.2M386.35 1021.9v-5.2M386.35 594.2v5.2M459.38 1021.9v-5.2M459.38 594.2v5.2M532.4 1021.9v-5.2M532.4 594.2v5.2M79.4 960.8h5.2M603.55 960.8h-5.2M79.4 899.7h5.2M603.55 899.7h-5.2M79.4 838.6h5.2M603.55 838.6h-5.2M79.4 777.5h5.2M603.55 777.5h-5.2M79.4 716.4h5.2M603.55 716.4h-5.2M79.4 655.3h5.2M603.55 655.3h-5.2"/>
<rect class="ax" x="79.4" y="594.2" width="524.15" height="427.7"/>
<g clip-path="url(#cq0)">
<path class="em" stroke="#0072bd" d="M153.25 1015.56 L155.44 1015.87 L157.64 1016.58 L159.83 1018.41 L162.02 1019.88 L164.21 1020.34 L166.4 1020.79 L168.59 1021.09 L170.78 1021.27 L172.97 1021.45 L175.16 1021.67 L177.35 1021.98 L179.54 1021.55 L181.73 1019.1 L183.92 1016.33 L186.12 1012.67 L188.31 1009.49 L190.5 1007.66 L192.69 1005.92 L194.88 1004.46 L197.07 1001.01 L199.26 996.24 L201.45 988.64 L203.64 980.13 L205.83 967.04 L208.02 952.35 L210.21 933.29 L212.4 912.46 L214.6 890.47 L216.79 865.52 L218.98 851.96 L221.17 850.1 L223.36 851.1 L225.55 856.4 L227.74 859.47 L229.93 856.42 L232.12 853.36 L234.31 850.31 L236.5 847.41 L238.69 844.97 L240.88 844.15 L243.07 847.82 L245.27 855.19 L247.46 862.83 L249.65 871.04 L251.84 879.29 L254.03 886.64 L256.22 891.53 L258.41 896.33 L260.6 900.92 L262.79 904.92 L264.98 908.43 L267.17 911.96 L269.36 915.56 L271.55 919.9 L273.75 925.34 L275.94 930.83 L278.13 936.45 L280.32 942.08 L282.51 947.24 L284.7 951.49 L286.89 955.74 L289.08 959.73 L291.27 963.57 L293.46 967.4 L295.65 971.23 L297.84 973.84 L300.03 976.36 L302.23 979.02 L304.42 982.08 L306.61 985.39 L308.8 989.43 L310.99 993.46 L313.18 997.49 L315.37 999.47 L317.56 1001.3 L319.75 1003.14 L321.94 1005.06 L324.13 1007.04 L326.32 1008.95 L328.51 1010.41 L330.7 1011.86 L332.9 1013.32 L335.09 1014.77 L337.28 1015.65 L339.47 1016.48 L341.66 1017.31 L343.85 1018.15 L346.04 1018.82 L348.23 1019.36 L350.42 1019.85 L352.61 1020.22 L354.8 1020.59 L356.99 1020.95 L359.18 1021.06 L361.38 1021.16 L363.57 1021.25 L365.76 1021.34 L367.95 1021.43 L370.14 1021.52 L372.33 1021.56 L374.52 1021.47 L376.71 1021.38 L378.9 1021.29 L381.09 1021.2 L383.28 1021.11 L385.47 1021.01 L387.66 1020.92 L389.86 1020.83 L392.05 1020.74 L394.24 1020.65 L396.43 1020.56 L398.62 1020.46 L400.81 1020.37 L403 1020.28 L405.19 1020.19 L407.38 1020.1 L409.57 1020.01 L411.76 1019.91 L413.95 1019.82 L416.14 1019.68 L418.33 1019.41 L420.53 1019.13 L422.72 1018.86 L424.91 1018.58 L427.1 1018.31 L429.29 1018.03 L431.48 1017.87 L433.67 1017.78 L435.86 1017.68 L438.05 1017.59 L440.24 1017.5 L442.43 1017.41 L444.62 1017.32 L446.81 1016.97 L449.01 1016.6 L451.2 1016.24 L453.39 1016.75 L455.58 1017.85 L457.77 1018.95 L459.96 1020 L462.15 1020.92 L464.34 1021.15 L466.53 1019.5 L468.72 1017.85 L470.91 1016.2 L473.1 1016.52 L475.29 1016.98 L477.49 1017.31 L479.68 1017.31 L481.87 1017.12 L484.06 1016.38 L486.25 1015.65 L488.44 1014.92 L490.63 1014.87 L492.82 1014.87 L495.01 1014.87 L497.2 1014.87 L499.39 1014.87 L501.58 1014.87 L503.77 1014.87 L505.96 1014.87 L508.16 1014.87 L510.35 1014.87 L512.54 1014.87 L514.73 1014.87 L516.92 1014.87 L519.11 1015.97 L521.3 1017.8 L523.49 1019.63 L525.68 1021.08 L527.87 1021.44 L530.06 1021.81 L532.25 1022.18 L534.44 1022.11 L536.64 1022.02 L538.83 1021.93 L541.02 1021.84 L543.21 1021.75 L545.4 1021.66 L547.59 1021.59 L549.78 1021.59 L551.97 1021.59 L554.16 1021.59 L556.35 1021.59 L558.54 1021.59 L560.73 1021.59 L562.92 1021.53 L565.12 1021.44 L567.31 1021.35 L569.5 1021.26 L571.69 1021.17 L573.88 1021.08 L576.07 1020.98 L578.26 1020.98 L580.45 1020.98 L582.64 1020.98 L584.83 1020.98 L587.02 1020.98 L589.21 1020.98 L591.4 1020.98 L593.59 1020.98 L595.79 1020.98 L597.98 1020.98 L600.17 1020.98 L603.67 1020.98"/>
<path class="ex" stroke="#0072bd" stroke-dashoffset="6.04" d="M79.64 625.05 L86.95 808.35 L94.25 903.05 L101.55 914.66 L108.86 925.66 L116.16 926.27 L123.46 915.27 L130.76 905.5 L138.06 895.11 L145.37 888.39 L152.67 891.45 L159.97 898.17 L167.27 907.33 L174.58 923.22 L181.88 939.71 L189.18 959.88 L196.49 980.04 L203.79 987.37 L211.09 999.59 L218.39 1011.81 L225.69 1020.37 L233 1022.2 L240.3 1022.2 L247.6 1022.2 L254.91 1022.2 L262.21 1022.2 L269.51 1022.2 L276.81 1022.2 L284.12 1022.2 L291.42 1022.2 L298.72 1022.2 L306.02 1022.2 L313.32 1022.2 L320.63 1022.2 L327.93 1022.2 L335.23 1022.2 L342.53 1022.2 L349.84 1022.2 L357.14 1022.2 L364.44 1022.2 L371.75 1022.2 L379.05 1022.2 L386.35 1022.2 L393.65 1022.2 L400.95 1022.2 L408.26 1022.2 L415.56 1022.2 L422.86 1022.2 L430.16 1022.2 L437.47 1022.2 L444.77 1022.2 L452.07 1022.2 L459.38 1022.2"/>
<path class="em" stroke="#d95319" d="M153.25 1014.87 L155.44 1014.87 L157.64 1015.36 L159.83 1017.19 L162.02 1018.66 L164.21 1019.11 L166.4 1019.57 L168.59 1019.98 L170.78 1020.34 L172.97 1020.71 L175.16 1021.14 L177.35 1021.75 L179.54 1021.71 L181.73 1019.88 L183.92 1017.72 L186.12 1014.66 L188.31 1011.94 L190.5 1010.1 L192.69 1008.27 L194.88 1006.44 L197.07 1002.84 L199.26 998.08 L201.45 991.42 L203.64 983.79 L205.83 970.7 L208.02 956.02 L210.21 936.95 L212.4 915.95 L214.6 893.65 L216.79 868.57 L218.98 854.79 L221.17 852.49 L223.36 853.07 L225.55 857.94 L227.74 860.37 L229.93 856.09 L232.12 851.98 L234.31 848.31 L236.5 844.97 L238.69 842.53 L240.88 841.59 L243.07 844.8 L245.27 851.85 L247.46 859.19 L249.65 867.37 L251.84 875.62 L254.03 883.14 L256.22 888.64 L258.41 893.98 L260.6 898.92 L262.79 903.09 L264.98 906.6 L267.17 910.13 L269.36 913.73 L271.55 918.06 L273.75 923.5 L275.94 928.99 L278.13 934.62 L280.32 940.24 L282.51 945.41 L284.7 949.65 L286.89 953.9 L289.08 958 L291.27 962 L293.46 966 L295.65 970 L297.84 972.62 L300.03 975.14 L302.23 977.8 L304.42 980.86 L306.61 984.12 L308.8 987.97 L310.99 991.82 L313.18 995.67 L315.37 997.64 L317.56 999.47 L319.75 1001.3 L321.94 1002.93 L324.13 1004.41 L326.32 1005.9 L328.51 1007.35 L330.7 1008.81 L332.9 1010.26 L335.09 1011.72 L337.28 1012.72 L339.47 1013.69 L341.66 1014.66 L343.85 1015.64 L346.04 1016.38 L348.23 1016.92 L350.42 1017.51 L352.61 1018.24 L354.8 1018.97 L356.99 1019.71 L359.18 1020.27 L361.38 1020.82 L363.57 1021.37 L365.76 1021.59 L367.95 1021.59 L370.14 1021.59 L372.33 1021.56 L374.52 1021.47 L376.71 1021.38 L378.9 1021.29 L381.09 1021.2 L383.28 1021.11 L385.47 1021.01 L387.66 1020.76 L389.86 1020.39 L392.05 1020.02 L394.24 1019.71 L396.43 1019.52 L398.62 1019.34 L400.81 1019.16 L403 1019.06 L405.19 1018.97 L407.38 1018.88 L409.57 1018.78 L411.76 1018.69 L413.95 1018.6 L416.14 1018.44 L418.33 1018.07 L420.53 1017.7 L422.72 1017.34 L424.91 1016.97 L427.1 1016.6 L429.29 1016.24 L431.48 1016.04 L433.67 1015.94 L435.86 1015.85 L438.05 1015.76 L440.24 1015.67 L442.43 1015.58 L444.62 1015.49 L446.81 1014.62 L449.01 1013.71 L451.2 1013.65 L453.39 1013.65 L455.58 1014.3 L457.77 1016.74 L459.96 1018.94 L462.15 1020.47 L464.34 1020.86 L466.53 1018.11 L468.72 1015.11 L470.91 1011.45 L473.1 1012.91 L475.29 1014.75 L477.49 1015.08 L479.68 1015.31 L481.87 1015.05 L484.06 1013.45 L486.25 1011.84 L488.44 1011.2 L490.63 1011.2 L492.82 1011.2 L495.01 1011.2 L497.2 1011.2 L499.39 1011.2 L501.58 1011.2 L503.77 1011.23 L505.96 1011.32 L508.16 1011.41 L510.35 1011.5 L512.54 1011.59 L514.73 1011.68 L516.92 1011.78 L519.11 1013.46 L521.3 1016.21 L523.49 1018.69 L525.68 1020.51 L527.87 1021.06 L530.06 1021.61 L532.25 1022.16 L534.44 1022.11 L536.64 1022.02 L538.83 1021.93 L541.02 1021.84 L543.21 1021.75 L545.4 1021.66 L547.59 1021.56 L549.78 1021.47 L551.97 1021.38 L554.16 1021.29 L556.35 1021.2 L558.54 1021.11 L560.73 1021.01 L562.92 1020.92 L565.12 1020.83 L567.31 1020.74 L569.5 1020.65 L571.69 1020.56 L573.88 1020.46 L576.07 1020.37 L578.26 1020 L580.45 1019.61 L582.64 1019.21 L584.83 1018.82 L587.02 1018.78 L589.21 1019.69 L591.4 1020.37 L593.59 1020.37 L595.79 1020.37 L597.98 1020.37 L600.17 1020.15 L603.67 1019.79"/>
<path class="ex" stroke="#d95319" stroke-dashoffset="4.61" d="M79.64 615.88 L86.95 808.35 L94.25 904.28 L101.55 919.55 L108.86 932.38 L116.16 931.77 L123.46 919.55 L130.76 910.39 L138.06 902.44 L145.37 896.33 L152.67 897.56 L159.97 898.78 L167.27 907.33 L174.58 922.61 L181.88 938.49 L189.18 958.66 L196.49 978.82 L203.79 986.76 L211.09 998.98 L218.39 1011.2 L225.69 1019.76 L233 1022.2 L240.3 1022.2 L247.6 1022.2 L254.91 1022.2 L262.21 1022.2 L269.51 1022.2 L276.81 1022.2 L284.12 1022.2 L291.42 1022.2 L298.72 1022.2 L306.02 1022.2 L313.32 1022.2 L320.63 1022.2 L327.93 1022.2 L335.23 1022.2 L342.53 1022.2 L349.84 1022.2 L357.14 1022.2 L364.44 1022.2 L371.75 1022.2 L379.05 1022.2 L386.35 1022.2 L393.65 1022.2 L400.95 1022.2 L408.26 1022.2 L415.56 1022.2 L422.86 1022.2 L430.16 1022.2 L437.47 1022.2 L444.77 1022.2 L452.07 1022.2 L459.38 1022.2"/>
<path class="em" stroke="#edb120" d="M153.25 1016.33 L155.44 1017.25 L157.64 1018.25 L159.83 1019.47 L162.02 1020.43 L164.21 1020.66 L166.4 1020.89 L168.59 1021.09 L170.78 1021.27 L172.97 1021.45 L175.16 1021.67 L177.35 1021.98 L179.54 1021.39 L181.73 1018.33 L183.92 1015.03 L186.12 1011.06 L188.31 1007.58 L190.5 1005.44 L192.69 1003.48 L194.88 1002.01 L197.07 998.57 L199.26 993.8 L201.45 986.2 L203.64 977.68 L205.83 964.59 L208.02 949.91 L210.21 930.84 L212.4 910.39 L214.6 889 L216.79 865.67 L218.98 853.41 L221.17 851.98 L223.36 853.18 L225.55 858.34 L227.74 861.3 L229.93 858.25 L232.12 855.27 L234.31 852.53 L236.5 849.94 L238.69 847.8 L240.88 847.09 L243.07 850.3 L245.27 857.64 L247.46 865.27 L249.65 873.05 L251.84 880.85 L254.03 887.78 L256.22 892.36 L258.41 896.85 L260.6 901.08 L262.79 904.78 L264.98 908.01 L267.17 911.26 L269.36 914.53 L271.55 918.44 L273.75 923.31 L275.94 928.27 L278.13 933.48 L280.32 938.69 L282.51 943.5 L284.7 947.52 L286.89 951.55 L289.08 955.26 L291.27 958.76 L293.46 962.26 L295.65 965.75 L297.84 968.55 L300.03 971.3 L302.23 974.13 L304.42 977.19 L306.61 980.02 L308.8 982.22 L310.99 984.42 L313.18 986.62 L315.37 988.13 L317.56 989.6 L319.75 991.06 L321.94 992.39 L324.13 993.63 L326.32 995 L328.51 997.22 L330.7 999.44 L332.9 1000.73 L335.09 1001.96 L337.28 1002.61 L339.47 1003.22 L341.66 1005.4 L343.85 1007.69 L346.04 1009.48 L348.23 1010.82 L350.42 1011.91 L352.61 1012.28 L354.8 1012.64 L356.99 1013.01 L359.18 1013.38 L361.38 1013.74 L363.57 1014.11 L365.76 1014.48 L367.95 1014.84 L370.14 1015.21 L372.33 1015.85 L374.52 1017.22 L376.71 1017.03 L378.9 1016.72 L381.09 1017.84 L383.28 1019.06 L385.47 1019.27 L387.66 1019.4 L389.86 1019.53 L392.05 1019.66 L394.24 1019.78 L396.43 1019.87 L398.62 1019.96 L400.81 1020.06 L403 1020.15 L405.19 1020.24 L407.38 1020.33 L409.57 1020.37 L411.76 1020.37 L413.95 1020.37 L416.14 1020.37 L418.33 1020.37 L420.53 1020.37 L422.72 1020.37 L424.91 1020.28 L427.1 1020.19 L429.29 1020.1 L431.48 1020.01 L433.67 1019.91 L435.86 1019.82 L438.05 1019.71 L440.24 1019.52 L442.43 1019.34 L444.62 1019.16 L446.81 1018.9 L449.01 1018.64 L451.2 1018.38 L453.39 1018.12 L455.58 1018.33 L457.77 1019.86 L459.96 1020.98 L462.15 1020.98 L464.34 1020.98 L466.53 1019.88 L468.72 1018.05 L470.91 1016.21 L473.1 1016.09 L475.29 1016.09 L477.49 1016.09 L479.68 1016.09 L481.87 1016.04 L484.06 1015.86 L486.25 1015.67 L488.44 1015.49 L490.63 1015.48 L492.82 1015.48 L495.01 1015.48 L497.2 1015.48 L499.39 1015.48 L501.58 1015.48 L503.77 1015.48 L505.96 1015.48 L508.16 1015.48 L510.35 1015.48 L512.54 1015.48 L514.73 1015.48 L516.92 1015.48 L519.11 1016.95 L521.3 1019.39 L523.49 1020.7 L525.68 1021.25 L527.87 1021.8 L530.06 1022.13 L532.25 1021.87 L534.44 1021.61 L536.64 1021.34 L538.83 1021.08 L541.02 1021.03 L543.21 1021.12 L545.4 1021.22 L547.59 1021.31 L549.78 1021.4 L551.97 1021.49 L554.16 1021.58 L556.35 1021.5 L558.54 1021.41 L560.73 1021.32 L562.92 1021.23 L565.12 1021.14 L567.31 1021.05 L569.5 1020.98 L571.69 1020.98 L573.88 1020.98 L576.07 1020.98 L578.26 1020.98 L580.45 1020.98 L582.64 1020.98 L584.83 1020.87 L587.02 1020.68 L589.21 1020.5 L591.4 1020.31 L593.59 1020.08 L595.79 1019.85 L597.98 1020.09 L600.17 1020.64 L603.67 1021.52"/>
<path class="ex" stroke="#edb120" stroke-dashoffset="6.02" d="M79.64 631.16 L86.95 808.35 L94.25 901.83 L101.55 912.22 L108.86 922.61 L116.16 919.55 L123.46 911.61 L130.76 901.83 L138.06 892.06 L145.37 885.34 L152.67 890.83 L159.97 898.17 L167.27 907.94 L174.58 924.44 L181.88 940.94 L189.18 961.1 L196.49 981.26 L203.79 988.59 L211.09 1000.81 L218.39 1012.42 L225.69 1020.37 L233 1022.2 L240.3 1022.2 L247.6 1022.2 L254.91 1022.2 L262.21 1022.2 L269.51 1022.2 L276.81 1022.2 L284.12 1022.2 L291.42 1022.2 L298.72 1022.2 L306.02 1022.2 L313.32 1022.2 L320.63 1022.2 L327.93 1022.2 L335.23 1022.2 L342.53 1022.2 L349.84 1022.2 L357.14 1022.2 L364.44 1022.2 L371.75 1022.2 L379.05 1022.2 L386.35 1022.2 L393.65 1022.2 L400.95 1022.2 L408.26 1022.2 L415.56 1022.2 L422.86 1022.2 L430.16 1022.2 L437.47 1022.2 L444.77 1022.2 L452.07 1022.2 L459.38 1022.2"/>
</g>
<text class="t" transform="translate(95.15 1053.8) scale(1 1.04)" text-anchor="middle">250</text>
<text class="t" transform="translate(168.17 1053.8) scale(1 1.04)" text-anchor="middle">300</text>
<text class="t" transform="translate(241.2 1053.8) scale(1 1.04)" text-anchor="middle">350</text>
<text class="t" transform="translate(314.22 1053.8) scale(1 1.04)" text-anchor="middle">400</text>
<text class="t" transform="translate(387.25 1053.8) scale(1 1.04)" text-anchor="middle">450</text>
<text class="t" transform="translate(460.27 1053.8) scale(1 1.04)" text-anchor="middle">500</text>
<text class="t" transform="translate(533.3 1053.8) scale(1 1.04)" text-anchor="middle">550</text>
<text class="t" transform="translate(71 1031.2) scale(1 1.04)" text-anchor="end">0</text>
<text class="t" transform="translate(71 970.1) scale(1 1.04)" text-anchor="end">0.1</text>
<text class="t" transform="translate(71 909) scale(1 1.04)" text-anchor="end">0.2</text>
<text class="t" transform="translate(71 847.9) scale(1 1.04)" text-anchor="end">0.3</text>
<text class="t" transform="translate(71 786.8) scale(1 1.04)" text-anchor="end">0.4</text>
<text class="t" transform="translate(71 725.7) scale(1 1.04)" text-anchor="end">0.5</text>
<text class="t" transform="translate(71 664.6) scale(1 1.04)" text-anchor="end">0.6</text>
<text class="t" transform="translate(71 603.5) scale(1 1.04)" text-anchor="end">0.7</text>
<text class="l" transform="translate(27 808.05) rotate(-90)" text-anchor="middle">Loadings</text>
<text class="l" x="341.47" y="1088.5" text-anchor="middle">Wavelength (nm)</text>
</g>
<g id="eem2">
<clipPath id="cp1"><rect x="706.2" y="35" width="523.2" height="427.05"/></clipPath>
<rect x="706.2" y="35" width="523.2" height="427.05" fill="#3e26a8"/>
<g clip-path="url(#cp1)">
<path fill="#4538d7" fill-rule="evenodd" d="M704.68 424.36 L704.68 425.19 L715.96 424.84 L718.42 424.36 L725.75 422.28 L726.03 422.11 L729.13 420.2 L730.47 418.13 L727.49 416.05 L726.03 415.52 L721.7 413.97 L715.96 412.9 L704.68 412.59 L704.68 413.97 L704.68 416.05 L704.68 418.13 L704.68 420.2 L704.68 422.28 L704.68 424.36ZM704.68 378.67 L704.68 379.6 L715.96 379.45 L723.95 378.67 L726.03 378.44 L736.09 377.15 L740.88 376.59 L746.16 375.81 L755.7 374.51 L756.23 374.43 L766.3 373.16 L774.13 372.44 L776.36 372.21 L786.43 372.11 L790.85 372.44 L796.5 372.82 L806.57 373.94 L811.71 374.51 L816.63 375 L826.7 375.83 L836.77 376.33 L843.53 376.59 L846.84 376.7 L856.9 376.95 L866.97 377 L877.04 376.84 L882.9 376.59 L887.11 376.39 L897.17 376.01 L907.24 375.54 L917.31 374.57 L917.69 374.51 L927.38 372.86 L929.42 372.44 L937.36 370.36 L937.44 370.32 L942.47 368.28 L946.63 366.2 L947.51 365.71 L950.74 364.13 L954.41 362.05 L957.53 359.97 L957.58 359.94 L961.41 357.9 L964.82 355.82 L967.65 353.86 L967.81 353.74 L970.89 351.67 L973.88 349.59 L976.49 347.51 L977.71 346.43 L978.77 345.44 L980.67 343.36 L982.39 341.28 L983.94 339.21 L985.21 337.13 L986.29 335.05 L987.29 332.97 L987.78 331.9 L988.22 330.9 L989.06 328.82 L989.77 326.74 L990.44 324.67 L991 322.59 L991.49 320.51 L991.99 318.44 L992.54 316.36 L993.08 314.28 L993.56 312.21 L993.92 310.13 L994.27 308.05 L994.6 305.97 L994.93 303.9 L995.16 301.82 L995.37 299.74 L995.52 297.67 L995.64 295.59 L995.79 293.51 L995.96 291.44 L996.12 289.36 L996.23 287.28 L996.15 285.21 L996.08 283.13 L995.94 281.05 L995.76 278.97 L995.58 276.9 L995.4 274.82 L995.22 272.74 L995.03 270.67 L994.77 268.59 L994.47 266.51 L994.15 264.44 L993.83 262.36 L993.49 260.28 L993.08 258.21 L992.66 256.13 L992.23 254.05 L991.78 251.98 L991.31 249.9 L990.83 247.82 L990.33 245.74 L989.81 243.67 L989.3 241.59 L988.77 239.51 L988.22 237.44 L987.78 235.86 L987.64 235.36 L987.11 233.28 L986.57 231.21 L986.01 229.13 L985.43 227.05 L984.82 224.98 L984.24 222.9 L983.63 220.82 L983 218.74 L982.35 216.67 L981.67 214.59 L981 212.51 L980.34 210.44 L979.65 208.36 L978.93 206.28 L978.18 204.21 L977.71 202.94 L977.41 202.13 L976.52 200.05 L975.56 197.98 L974.56 195.9 L973.5 193.82 L972.38 191.75 L971.23 189.67 L970.06 187.59 L968.83 185.51 L967.65 183.61 L967.53 183.44 L966.18 181.36 L964.76 179.28 L963.53 177.21 L962.33 175.13 L961.06 173.05 L959.73 170.98 L958.33 168.9 L957.58 167.82 L957.08 166.82 L956.01 164.75 L954.88 162.67 L953.67 160.59 L952.4 158.51 L951.04 156.44 L949.61 154.36 L948.07 152.28 L947.51 151.55 L946.66 150.21 L945.32 148.13 L944.05 146.05 L942.7 143.98 L941.26 141.9 L939.72 139.82 L938.07 137.75 L937.44 136.99 L936.44 135.67 L934.77 133.59 L932.97 131.52 L931.54 129.44 L930.16 127.36 L928.7 125.28 L927.38 123.51 L927.14 123.21 L925.21 121.13 L923.1 119.05 L922.96 116.98 L924.17 114.9 L925.33 112.82 L923.68 110.75 L921.71 108.67 L919.59 106.59 L918.17 104.52 L917.31 103.24 L916.57 102.44 L914.62 100.36 L912.57 98.28 L910.43 96.21 L908.17 94.13 L907.24 93.32 L904.66 92.05 L899.73 89.98 L897.17 88.95 L894.2 87.9 L888.03 85.82 L887.11 85.52 L882.89 83.75 L877.63 81.67 L877.04 81.43 L866.97 79.84 L856.9 80.36 L851.31 81.67 L846.84 82.69 L843.55 83.75 L837.41 85.82 L836.77 86.05 L832.5 87.9 L828 89.98 L826.7 90.6 L824.58 92.05 L821.98 94.13 L819.55 96.21 L817.24 98.28 L816.63 98.84 L815.06 100.36 L813 102.44 L811.04 104.52 L809.08 106.59 L806.57 108.37 L806.08 108.67 L802.85 110.75 L800.15 112.82 L802.05 114.9 L804.03 116.98 L803.81 119.05 L800.35 121.13 L797.18 123.21 L796.5 123.76 L793.05 125.28 L788.59 127.36 L786.43 128.41 L776.36 127.77 L775.75 127.36 L772.55 125.28 L769.15 123.21 L766.3 121.8 L765.45 121.13 L762.64 119.05 L762.46 116.98 L764.07 114.9 L765.61 112.82 L763.42 110.75 L760.8 108.67 L757.99 106.59 L756.23 104.65 L756.14 104.52 L754.86 102.44 L753.51 100.36 L752.1 98.28 L750.62 96.21 L749.06 94.13 L747.39 92.05 L746.16 90.73 L745.64 89.98 L744.15 87.9 L742.57 85.82 L740.88 83.75 L739.07 81.67 L737.25 79.59 L736.09 77.92 L735.9 77.52 L734.88 75.44 L733.81 73.36 L732.68 71.28 L731.49 69.21 L730.21 67.13 L728.85 65.05 L727.41 62.98 L726.03 61.11 L725.88 60.9 L724.4 58.82 L722.41 56.75 L719.54 54.67 L716.28 52.59 L715.96 51.61 L713.79 50.52 L715.96 49.86 L716.75 48.44 L717.87 46.36 L715.96 44.56 L714.2 44.29 L704.68 42.56 L704.68 44.29 L704.68 46.36 L704.68 48.44 L704.68 50.52 L704.68 52.59 L704.68 54.67 L704.68 56.75 L704.68 58.82 L704.68 60.9 L704.68 62.98 L704.68 65.05 L704.68 67.13 L704.68 69.21 L704.68 71.28 L704.68 73.36 L704.68 75.44 L704.68 77.52 L704.68 79.59 L704.68 81.67 L704.68 83.75 L704.68 85.82 L704.68 87.9 L704.68 89.98 L704.68 92.05 L704.68 94.13 L704.68 96.21 L704.68 98.28 L704.68 100.36 L704.68 102.44 L704.68 104.52 L704.68 106.59 L704.68 108.67 L704.68 110.75 L704.68 112.82 L704.68 114.9 L704.68 116.98 L704.68 119.05 L704.68 121.13 L704.68 123.21 L704.68 125.28 L704.68 127.36 L704.68 129.44 L704.68 131.52 L704.68 133.59 L704.68 135.67 L704.68 137.75 L704.68 139.82 L704.68 141.9 L704.68 143.98 L704.68 146.05 L704.68 148.13 L704.68 150.21 L704.68 152.28 L704.68 154.36 L704.68 156.44 L704.68 158.51 L704.68 160.59 L704.68 162.67 L704.68 164.75 L704.68 166.82 L704.68 168.9 L704.68 170.98 L704.68 173.05 L704.68 175.13 L704.68 177.21 L704.68 179.28 L704.68 181.36 L704.68 183.44 L704.68 185.51 L704.68 187.59 L704.68 189.67 L704.68 191.75 L704.68 193.82 L704.68 195.9 L704.68 197.98 L704.68 200.05 L704.68 202.13 L704.68 204.21 L704.68 206.28 L704.68 208.36 L704.68 210.44 L704.68 212.51 L704.68 214.59 L704.68 216.67 L704.68 218.74 L704.68 220.82 L704.68 222.9 L704.68 224.98 L704.68 227.05 L704.68 229.13 L704.68 231.21 L704.68 233.28 L704.68 235.36 L704.68 237.44 L704.68 239.51 L704.68 241.59 L704.68 243.67 L704.68 245.74 L704.68 247.82 L704.68 249.9 L704.68 251.98 L704.68 254.05 L704.68 256.13 L704.68 258.21 L704.68 260.28 L704.68 262.36 L704.68 264.44 L704.68 266.51 L704.68 268.59 L704.68 270.67 L704.68 272.74 L704.68 274.82 L704.68 276.9 L704.68 278.97 L704.68 281.05 L704.68 283.13 L704.68 285.21 L704.68 287.28 L704.68 289.36 L704.68 291.44 L704.68 293.51 L704.68 295.59 L704.68 297.67 L704.68 299.74 L704.68 301.82 L704.68 303.9 L704.68 305.97 L704.68 308.05 L704.68 310.13 L704.68 312.21 L704.68 314.28 L704.68 316.36 L704.68 318.44 L704.68 320.51 L704.68 322.59 L704.68 324.67 L704.68 326.74 L704.68 328.82 L704.68 330.9 L704.68 332.97 L704.68 335.05 L704.68 337.13 L704.68 339.21 L704.68 341.28 L704.68 343.36 L704.68 345.44 L704.68 347.51 L704.68 349.59 L704.68 351.67 L704.68 353.74 L704.68 355.82 L704.68 357.9 L704.68 359.97 L704.68 362.05 L704.68 364.13 L704.68 366.2 L704.68 368.28 L704.68 370.36 L704.68 372.44 L704.68 374.51 L704.68 376.59 L704.68 378.67Z"/>
<path fill="#484ff2" fill-rule="evenodd" d="M704.68 374.51 L704.68 375.65 L715.96 375.36 L720.99 374.51 L726.03 373.47 L730.52 372.44 L736.09 370.79 L737.96 370.36 L743.73 368.28 L746.16 367.26 L749.31 366.2 L754.73 364.13 L756.23 363.48 L760.72 362.05 L766.3 360.03 L766.53 359.97 L774.7 357.9 L776.36 357.44 L786.43 357.17 L790.05 357.9 L796.5 359.11 L799.13 359.97 L806.18 362.05 L806.57 362.16 L813.21 364.13 L816.63 365.03 L821.58 366.2 L826.7 367.3 L833.77 368.28 L836.77 368.67 L846.84 369.69 L856.79 370.36 L856.9 370.36 L866.97 370.47 L870.5 370.36 L877.04 370.06 L887.11 368.83 L892.58 368.28 L897.17 367.8 L907.24 366.51 L908.53 366.2 L916.38 364.13 L917.31 363.86 L921.65 362.05 L925.95 359.97 L927.38 359.21 L929.68 357.9 L932.94 355.82 L935.8 353.74 L937.44 352.6 L938.87 351.67 L942.08 349.59 L944.88 347.51 L947.31 345.44 L947.51 345.24 L949.84 343.36 L952.17 341.28 L954.28 339.21 L956 337.13 L957.46 335.05 L957.58 334.88 L959.38 332.97 L961.22 330.9 L962.86 328.82 L964.25 326.74 L965.57 324.67 L966.67 322.59 L967.63 320.51 L967.65 320.48 L968.63 318.44 L969.74 316.36 L970.8 314.28 L971.78 312.21 L972.49 310.13 L973.19 308.05 L973.86 305.97 L974.51 303.9 L974.96 301.82 L975.38 299.74 L975.69 297.67 L975.92 295.59 L976.22 293.51 L976.56 291.44 L976.9 289.36 L977.1 287.28 L976.96 285.21 L976.81 283.13 L976.54 281.05 L976.17 278.97 L975.81 276.9 L975.45 274.82 L975.09 272.74 L974.72 270.67 L974.19 268.59 L973.58 266.51 L972.95 264.44 L972.3 262.36 L971.63 260.28 L970.82 258.21 L969.98 256.13 L969.1 254.05 L968.2 251.98 L967.65 250.72 L967.28 249.9 L966.33 247.82 L965.35 245.74 L964.33 243.67 L963.33 241.59 L962.28 239.51 L961.2 237.44 L960.07 235.36 L959.02 233.28 L957.97 231.21 L957.58 230.46 L957.09 229.13 L956.3 227.05 L955.47 224.98 L954.68 222.9 L953.86 220.82 L953 218.74 L952.12 216.67 L951.19 214.59 L950.29 212.51 L949.39 210.44 L948.45 208.36 L947.51 206.35 L947.49 206.28 L946.69 204.21 L945.85 202.13 L944.91 200.05 L943.88 197.98 L942.8 195.9 L941.66 193.82 L940.47 191.75 L939.23 189.67 L937.98 187.59 L937.44 186.73 L936.76 185.51 L935.54 183.44 L934.25 181.36 L932.88 179.28 L931.71 177.21 L930.55 175.13 L929.34 173.05 L928.07 170.98 L927.38 169.89 L926.73 168.9 L925.34 166.82 L923.86 164.75 L922.3 162.67 L920.64 160.59 L918.88 158.51 L917.31 156.76 L916.92 156.44 L914.33 154.36 L911.57 152.28 L908.62 150.21 L907.24 149.25 L904.32 148.13 L899.28 146.05 L897.17 145.22 L893.58 143.98 L887.26 141.9 L887.11 141.85 L882.18 139.82 L877.04 137.84 L876.39 137.75 L866.97 136.38 L856.9 136.86 L852.76 137.75 L846.84 139.07 L844.44 139.82 L838.14 141.9 L836.77 142.37 L832.99 143.98 L828.38 146.05 L826.7 146.84 L824.79 148.13 L821.49 150.21 L818.32 152.28 L816.63 153.45 L815.37 154.36 L812.63 156.44 L810.06 158.51 L807.63 160.59 L806.57 161.54 L805.11 162.67 L802.55 164.75 L800.14 166.82 L797.85 168.9 L796.5 170.18 L794.96 170.98 L791.08 173.05 L787.39 175.13 L786.43 175.69 L779.03 175.13 L776.36 174.93 L773.96 173.05 L771.18 170.98 L768.25 168.9 L766.3 167.57 L765.62 166.82 L763.66 164.75 L761.58 162.67 L759.38 160.59 L757.04 158.51 L756.23 157.82 L755.1 156.44 L753.31 154.36 L751.4 152.28 L749.37 150.21 L747.26 148.13 L746.16 146.98 L745.51 146.05 L743.99 143.98 L742.37 141.9 L740.63 139.82 L738.77 137.75 L736.78 135.67 L736.09 134.98 L735.12 133.59 L733.58 131.52 L732.35 129.44 L731.16 127.36 L729.9 125.28 L728.57 123.21 L726.89 121.13 L726.03 120.12 L725.17 119.05 L725.07 116.98 L726 114.9 L726.03 114.85 L727 112.82 L726.03 111.38 L725.62 110.75 L724.1 108.67 L722.46 106.59 L721.36 104.52 L720.26 102.44 L719.1 100.36 L717.89 98.28 L716.62 96.21 L715.96 95.16 L712.06 94.13 L704.68 92.28 L704.68 94.13 L704.68 96.21 L704.68 98.28 L704.68 100.36 L704.68 102.44 L704.68 104.52 L704.68 106.59 L704.68 108.67 L704.68 110.75 L704.68 112.82 L704.68 114.9 L704.68 116.98 L704.68 119.05 L704.68 121.13 L704.68 123.21 L704.68 125.28 L704.68 127.36 L704.68 129.44 L704.68 131.52 L704.68 133.59 L704.68 135.67 L704.68 137.75 L704.68 139.82 L704.68 141.9 L704.68 143.98 L704.68 146.05 L704.68 148.13 L704.68 150.21 L704.68 152.28 L704.68 154.36 L704.68 156.44 L704.68 158.51 L704.68 160.59 L704.68 162.67 L704.68 164.75 L704.68 166.82 L704.68 168.9 L704.68 170.98 L704.68 173.05 L704.68 175.13 L704.68 177.21 L704.68 179.28 L704.68 181.36 L704.68 183.44 L704.68 185.51 L704.68 187.59 L704.68 189.67 L704.68 191.75 L704.68 193.82 L704.68 195.9 L704.68 197.98 L704.68 200.05 L704.68 202.13 L704.68 204.21 L704.68 206.28 L704.68 208.36 L704.68 210.44 L704.68 212.51 L704.68 214.59 L704.68 216.67 L704.68 218.74 L704.68 220.82 L704.68 222.9 L704.68 224.98 L704.68 227.05 L704.68 229.13 L704.68 231.21 L704.68 233.28 L704.68 235.36 L704.68 237.44 L704.68 239.51 L704.68 241.59 L704.68 243.67 L704.68 245.74 L704.68 247.82 L704.68 249.9 L704.68 251.98 L704.68 254.05 L704.68 256.13 L704.68 258.21 L704.68 260.28 L704.68 262.36 L704.68 264.44 L704.68 266.51 L704.68 268.59 L704.68 270.67 L704.68 272.74 L704.68 274.82 L704.68 276.9 L704.68 278.97 L704.68 281.05 L704.68 283.13 L704.68 285.21 L704.68 287.28 L704.68 289.36 L704.68 291.44 L704.68 293.51 L704.68 295.59 L704.68 297.67 L704.68 299.74 L704.68 301.82 L704.68 303.9 L704.68 305.97 L704.68 308.05 L704.68 310.13 L704.68 312.21 L704.68 314.28 L704.68 316.36 L704.68 318.44 L704.68 320.51 L704.68 322.59 L704.68 324.67 L704.68 326.74 L704.68 328.82 L704.68 330.9 L704.68 332.97 L704.68 335.05 L704.68 337.13 L704.68 339.21 L704.68 341.28 L704.68 343.36 L704.68 345.44 L704.68 347.51 L704.68 349.59 L704.68 351.67 L704.68 353.74 L704.68 355.82 L704.68 357.9 L704.68 359.97 L704.68 362.05 L704.68 364.13 L704.68 366.2 L704.68 368.28 L704.68 370.36 L704.68 372.44 L704.68 374.51Z"/>
<path fill="#4367fd" fill-rule="evenodd" d="M704.68 370.36 L704.68 371.7 L715.96 371.26 L719.57 370.36 L724.76 368.28 L726.03 367.7 L729.31 366.2 L733.19 364.13 L736.09 362.3 L736.64 362.05 L740.81 359.97 L744.41 357.9 L746.16 356.78 L748.1 355.82 L751.96 353.74 L755.85 351.67 L756.23 351.47 L761.25 349.59 L766.12 347.51 L766.3 347.43 L773 345.44 L776.36 344.28 L786.43 343.94 L792.41 345.44 L796.5 346.34 L799.53 347.51 L805.53 349.59 L806.57 349.92 L811.48 351.67 L816.63 353.48 L817.45 353.74 L823.47 355.82 L826.7 356.84 L831.71 357.9 L836.77 358.9 L843.77 359.97 L846.84 360.42 L856.9 361.44 L866.97 361.66 L877.04 360.99 L882.71 359.97 L887.11 359.14 L895.23 357.9 L897.17 357.58 L906.45 355.82 L907.24 355.66 L912.37 353.74 L917.31 351.94 L917.85 351.67 L922.05 349.59 L925.71 347.51 L927.38 346.46 L928.9 345.44 L931.59 343.36 L934.01 341.28 L936.2 339.21 L937.44 337.78 L938.07 337.13 L939.8 335.05 L941.41 332.97 L942.91 330.9 L944.25 328.82 L945.39 326.74 L946.47 324.67 L947.38 322.59 L947.51 322.24 L948.33 320.51 L949.35 318.44 L950.48 316.36 L951.56 314.28 L952.56 312.21 L953.28 310.13 L953.99 308.05 L954.67 305.97 L955.33 303.9 L955.8 301.82 L956.22 299.74 L956.54 297.67 L956.78 295.59 L957.08 293.51 L957.43 291.44 L957.58 290.51 L957.85 289.36 L958.15 287.28 L957.94 285.21 L957.72 283.13 L957.58 282.39 L957.4 281.05 L957.02 278.97 L956.66 276.9 L956.29 274.82 L955.92 272.74 L955.55 270.67 L955.01 268.59 L954.39 266.51 L953.75 264.44 L953.09 262.36 L952.4 260.28 L951.58 258.21 L950.72 256.13 L949.84 254.05 L948.92 251.98 L947.97 249.9 L947.51 248.91 L947.1 247.82 L946.29 245.74 L945.46 243.67 L944.64 241.59 L943.79 239.51 L942.9 237.44 L941.97 235.36 L941.12 233.28 L940.25 231.21 L939.35 229.13 L938.42 227.05 L937.44 224.98 L937.44 224.97 L936.62 222.9 L935.76 220.82 L934.88 218.74 L933.95 216.67 L932.99 214.59 L932.05 212.51 L931.12 210.44 L930.14 208.36 L929.13 206.28 L928.08 204.21 L927.38 202.86 L926.99 202.13 L925.75 200.05 L924.41 197.98 L922.99 195.9 L921.51 193.82 L919.94 191.75 L918.33 189.67 L917.31 188.36 L916.5 187.59 L914.25 185.51 L911.86 183.44 L909.34 181.36 L907.24 179.72 L906.25 179.28 L902.29 177.21 L898.37 175.13 L897.17 174.51 L893.96 173.05 L889.18 170.98 L887.11 170.1 L884.91 168.9 L880.97 166.82 L877.04 164.85 L876.5 164.75 L866.97 162.94 L856.9 163.57 L852.7 164.75 L846.84 166.46 L845.94 166.82 L841.02 168.9 L836.77 170.78 L836.41 170.98 L832.7 173.05 L829.16 175.13 L826.7 176.64 L826.05 177.21 L823.59 179.28 L820.72 181.36 L818 183.44 L816.63 184.53 L815.46 185.51 L813.08 187.59 L810.82 189.67 L808.6 191.75 L806.57 193.69 L806.41 193.82 L803.97 195.9 L801.66 197.98 L799.46 200.05 L797.44 202.13 L796.5 203.21 L794.92 204.21 L791.71 206.28 L788.64 208.36 L786.43 209.9 L776.36 208.98 L775.72 208.36 L773.51 206.28 L771.21 204.21 L768.81 202.13 L766.3 200.21 L766.17 200.05 L764.39 197.98 L762.51 195.9 L760.53 193.82 L758.45 191.75 L756.31 189.67 L756.23 189.59 L754.81 187.59 L753.25 185.51 L751.61 183.44 L749.87 181.36 L748.03 179.28 L746.45 177.21 L746.16 176.81 L745.25 175.13 L744.09 173.05 L742.86 170.98 L741.57 168.9 L740.22 166.82 L738.79 164.75 L737.27 162.67 L736.09 161.13 L735.81 160.59 L734.67 158.51 L733.46 156.44 L732.18 154.36 L730.81 152.28 L729.35 150.21 L727.83 148.13 L726.4 146.05 L726.03 145.54 L724.99 143.98 L723.53 141.9 L721.97 139.82 L720.3 137.75 L718.51 135.67 L716.59 133.59 L715.96 132.94 L707.54 131.52 L704.68 130.88 L704.68 131.52 L704.68 133.59 L704.68 135.67 L704.68 137.75 L704.68 139.82 L704.68 141.9 L704.68 143.98 L704.68 146.05 L704.68 148.13 L704.68 150.21 L704.68 152.28 L704.68 154.36 L704.68 156.44 L704.68 158.51 L704.68 160.59 L704.68 162.67 L704.68 164.75 L704.68 166.82 L704.68 168.9 L704.68 170.98 L704.68 173.05 L704.68 175.13 L704.68 177.21 L704.68 179.28 L704.68 181.36 L704.68 183.44 L704.68 185.51 L704.68 187.59 L704.68 189.67 L704.68 191.75 L704.68 193.82 L704.68 195.9 L704.68 197.98 L704.68 200.05 L704.68 202.13 L704.68 204.21 L704.68 206.28 L704.68 208.36 L704.68 210.44 L704.68 212.51 L704.68 214.59 L704.68 216.67 L704.68 218.74 L704.68 220.82 L704.68 222.9 L704.68 224.98 L704.68 227.05 L704.68 229.13 L704.68 231.21 L704.68 233.28 L704.68 235.36 L704.68 237.44 L704.68 239.51 L704.68 241.59 L704.68 243.67 L704.68 245.74 L704.68 247.82 L704.68 249.9 L704.68 251.98 L704.68 254.05 L704.68 256.13 L704.68 258.21 L704.68 260.28 L704.68 262.36 L704.68 264.44 L704.68 266.51 L704.68 268.59 L704.68 270.67 L704.68 272.74 L704.68 274.82 L704.68 276.9 L704.68 278.97 L704.68 281.05 L704.68 283.13 L704.68 285.21 L704.68 287.28 L704.68 289.36 L704.68 291.44 L704.68 293.51 L704.68 295.59 L704.68 297.67 L704.68 299.74 L704.68 301.82 L704.68 303.9 L704.68 305.97 L704.68 308.05 L704.68 310.13 L704.68 312.21 L704.68 314.28 L704.68 316.36 L704.68 318.44 L704.68 320.51 L704.68 322.59 L704.68 324.67 L704.68 326.74 L704.68 328.82 L704.68 330.9 L704.68 332.97 L704.68 335.05 L704.68 337.13 L704.68 339.21 L704.68 341.28 L704.68 343.36 L704.68 345.44 L704.68 347.51 L704.68 349.59 L704.68 351.67 L704.68 353.74 L704.68 355.82 L704.68 357.9 L704.68 359.97 L704.68 362.05 L704.68 364.13 L704.68 366.2 L704.68 368.28 L704.68 370.36Z"/>
<path fill="#2f80fa" fill-rule="evenodd" d="M704.68 366.2 L704.68 366.8 L713.33 366.2 L715.96 366.02 L720.15 364.13 L724.05 362.05 L726.03 360.86 L727.54 359.97 L730.75 357.9 L733.54 355.82 L736 353.74 L736.09 353.67 L739.68 351.67 L743.29 349.59 L746.16 347.71 L746.56 347.51 L750.39 345.44 L753.6 343.36 L756.23 341.49 L756.63 341.28 L760.49 339.21 L763.64 337.13 L766.3 335.06 L766.32 335.05 L770.44 332.97 L774.29 330.9 L776.36 329.66 L786.43 329.08 L790.63 330.9 L795.98 332.97 L796.5 333.17 L799.29 335.05 L802.58 337.13 L806.46 339.21 L806.57 339.25 L810.49 341.28 L814.92 343.36 L816.63 344.11 L819.9 345.44 L825.88 347.51 L826.7 347.78 L835.11 349.59 L836.77 349.92 L846.84 351.51 L848.29 351.67 L856.9 352.67 L866.97 352.93 L877.04 352.15 L879.4 351.67 L887.11 350.17 L890.85 349.59 L897.17 348.55 L902.56 347.51 L907.24 346.54 L910.1 345.44 L914.76 343.36 L917.31 342.12 L918.57 341.28 L921.48 339.21 L923.84 337.13 L925.86 335.05 L927.38 333.38 L927.73 332.97 L929.49 330.9 L931.06 328.82 L932.39 326.74 L933.65 324.67 L934.71 322.59 L935.63 320.51 L936.57 318.44 L937.44 316.7 L937.64 316.36 L938.77 314.28 L939.82 312.21 L940.59 310.13 L941.33 308.05 L942.05 305.97 L942.75 303.9 L943.23 301.82 L943.68 299.74 L944.01 297.67 L944.27 295.59 L944.59 293.51 L944.95 291.44 L945.31 289.36 L945.53 287.28 L945.37 285.21 L945.22 283.13 L944.92 281.05 L944.53 278.97 L944.14 276.9 L943.76 274.82 L943.37 272.74 L942.97 270.67 L942.41 268.59 L941.76 266.51 L941.08 264.44 L940.39 262.36 L939.66 260.28 L938.79 258.21 L937.89 256.13 L937.44 255.12 L937.02 254.05 L936.17 251.98 L935.29 249.9 L934.39 247.82 L933.45 245.74 L932.47 243.67 L931.51 241.59 L930.51 239.51 L929.47 237.44 L928.39 235.36 L927.39 233.28 L927.38 233.24 L926.39 231.21 L925.34 229.13 L924.25 227.05 L923.12 224.98 L922.02 222.9 L920.89 220.82 L919.72 218.74 L918.49 216.67 L917.31 214.74 L917.19 214.59 L915.56 212.51 L913.94 210.44 L912.25 208.36 L910.5 206.28 L908.67 204.21 L907.24 202.64 L906.42 202.13 L902.68 200.05 L898.61 197.98 L897.17 197.27 L894.03 195.9 L889.04 193.82 L887.11 193.04 L884.63 191.75 L880.6 189.67 L877.04 187.86 L875.7 187.59 L866.97 185.9 L856.9 186.54 L853.24 187.59 L846.84 189.49 L846.41 189.67 L841.37 191.75 L836.77 193.69 L836.52 193.82 L832.64 195.9 L828.96 197.98 L826.7 199.3 L825.8 200.05 L823.48 202.13 L821.44 204.21 L819.47 206.28 L817.58 208.36 L816.63 209.44 L815.79 210.44 L814.08 212.51 L812.35 214.59 L810.6 216.67 L808.91 218.74 L807.28 220.82 L806.57 221.76 L805.56 222.9 L803.77 224.98 L801.92 227.05 L800.13 229.13 L798.42 231.21 L796.77 233.28 L796.5 233.63 L793.98 235.36 L790.68 237.44 L787.51 239.51 L786.43 240.25 L778.11 239.51 L776.36 239.36 L774.25 237.44 L771.88 235.36 L769.7 233.28 L767.49 231.21 L766.3 230.12 L765.62 229.13 L764.18 227.05 L762.67 224.98 L761.22 222.9 L759.72 220.82 L758.15 218.74 L756.53 216.67 L756.23 216.29 L755.28 214.59 L754.16 212.51 L753.04 210.44 L751.87 208.36 L750.67 206.28 L749.41 204.21 L748.09 202.13 L746.61 200.05 L746.16 199.47 L745.32 197.98 L744.1 195.9 L742.82 193.82 L741.48 191.75 L740.09 189.67 L738.68 187.59 L737.19 185.51 L736.09 184.05 L735.78 183.44 L734.67 181.36 L733.49 179.28 L732.49 177.21 L731.5 175.13 L730.46 173.05 L729.36 170.98 L728.21 168.9 L727.01 166.82 L726.03 165.21 L725.76 164.75 L724.55 162.67 L723.27 160.59 L721.91 158.51 L720.47 156.44 L718.93 154.36 L717.3 152.28 L715.96 150.67 L713.62 150.21 L704.68 148.44 L704.68 150.21 L704.68 152.28 L704.68 154.36 L704.68 156.44 L704.68 158.51 L704.68 160.59 L704.68 162.67 L704.68 164.75 L704.68 166.82 L704.68 168.9 L704.68 170.98 L704.68 173.05 L704.68 175.13 L704.68 177.21 L704.68 179.28 L704.68 181.36 L704.68 183.44 L704.68 185.51 L704.68 187.59 L704.68 189.67 L704.68 191.75 L704.68 193.82 L704.68 195.9 L704.68 197.98 L704.68 200.05 L704.68 202.13 L704.68 204.21 L704.68 206.28 L704.68 208.36 L704.68 210.44 L704.68 212.51 L704.68 214.59 L704.68 216.67 L704.68 218.74 L704.68 220.82 L704.68 222.9 L704.68 224.98 L704.68 227.05 L704.68 229.13 L704.68 231.21 L704.68 233.28 L704.68 235.36 L704.68 237.44 L704.68 239.51 L704.68 241.59 L704.68 243.67 L704.68 245.74 L704.68 247.82 L704.68 249.9 L704.68 251.98 L704.68 254.05 L704.68 256.13 L704.68 258.21 L704.68 260.28 L704.68 262.36 L704.68 264.44 L704.68 266.51 L704.68 268.59 L704.68 270.67 L704.68 272.74 L704.68 274.82 L704.68 276.9 L704.68 278.97 L704.68 281.05 L704.68 283.13 L704.68 285.21 L704.68 287.28 L704.68 289.36 L704.68 291.44 L704.68 293.51 L704.68 295.59 L704.68 297.67 L704.68 299.74 L704.68 301.82 L704.68 303.9 L704.68 305.97 L704.68 308.05 L704.68 310.13 L704.68 312.21 L704.68 314.28 L704.68 316.36 L704.68 318.44 L704.68 320.51 L704.68 322.59 L704.68 324.67 L704.68 326.74 L704.68 328.82 L704.68 330.9 L704.68 332.97 L704.68 335.05 L704.68 337.13 L704.68 339.21 L704.68 341.28 L704.68 343.36 L704.68 345.44 L704.68 347.51 L704.68 349.59 L704.68 351.67 L704.68 353.74 L704.68 355.82 L704.68 357.9 L704.68 359.97 L704.68 362.05 L704.68 364.13 L704.68 366.2Z"/>
<path fill="#2797eb" fill-rule="evenodd" d="M704.68 359.97 L704.68 361.44 L715.96 360.47 L716.89 359.97 L720.48 357.9 L723.61 355.82 L726.03 354.02 L726.41 353.74 L729.52 351.67 L732.53 349.59 L735.17 347.51 L736.09 346.71 L738.14 345.44 L741.02 343.36 L743.61 341.28 L745.96 339.21 L746.16 338.99 L748.55 337.13 L750.82 335.05 L752.93 332.97 L754.91 330.9 L756.23 329.35 L756.87 328.82 L759.07 326.74 L761.16 324.67 L762.9 322.59 L764.42 320.51 L765.97 318.44 L766.3 318.05 L768.61 316.36 L771.34 314.28 L773.85 312.21 L775.69 310.13 L776.36 309.35 L786.43 308.24 L788.68 310.13 L791.24 312.21 L794.74 314.28 L796.5 315.26 L797.58 316.36 L799.71 318.44 L801.62 320.51 L803.49 322.59 L805.64 324.67 L806.57 325.43 L807.95 326.74 L810.24 328.82 L812.93 330.9 L815.95 332.97 L816.63 333.43 L819.23 335.05 L822.77 337.13 L826.7 339.09 L827.03 339.21 L834.14 341.28 L836.77 342 L843.03 343.36 L846.84 344.14 L855.89 345.44 L856.9 345.57 L866.97 345.86 L871.81 345.44 L877.04 344.94 L883.31 343.36 L887.11 342.34 L892.1 341.28 L897.17 340.15 L900.84 339.21 L907.24 337.23 L907.43 337.13 L910.72 335.05 L913.79 332.97 L916.65 330.9 L917.31 330.37 L918.75 328.82 L920.41 326.74 L921.98 324.67 L923.29 322.59 L924.43 320.51 L925.6 318.44 L926.9 316.36 L927.38 315.57 L928.14 314.28 L929.29 312.21 L930.13 310.13 L930.94 308.05 L931.73 305.97 L932.5 303.9 L933.03 301.82 L933.52 299.74 L933.89 297.67 L934.16 295.59 L934.51 293.51 L934.91 291.44 L935.31 289.36 L935.54 287.28 L935.37 285.21 L935.2 283.13 L934.88 281.05 L934.45 278.97 L934.02 276.9 L933.6 274.82 L933.18 272.74 L932.74 270.67 L932.13 268.59 L931.41 266.51 L930.67 264.44 L929.91 262.36 L929.11 260.28 L928.16 258.21 L927.38 256.55 L927.18 256.13 L926.16 254.05 L925.1 251.98 L924.02 249.9 L922.89 247.82 L921.72 245.74 L920.51 243.67 L919.31 241.59 L918.07 239.51 L917.31 238.27 L916.62 237.44 L914.86 235.36 L913.24 233.28 L911.59 231.21 L909.88 229.13 L908.1 227.05 L907.24 226.08 L905.51 224.98 L902.4 222.9 L899.19 220.82 L897.17 219.56 L895.71 218.74 L891.86 216.67 L887.86 214.59 L887.11 214.19 L884.74 212.51 L881.83 210.44 L878.81 208.36 L877.04 207.18 L873.6 206.28 L866.97 204.59 L856.9 205.44 L854.67 206.28 L849.31 208.36 L846.84 209.35 L844.87 210.44 L841.23 212.51 L837.58 214.59 L836.77 215.03 L834.33 216.67 L831.33 218.74 L828.46 220.82 L826.7 222.13 L825.97 222.9 L824.05 224.98 L822.05 227.05 L820.14 229.13 L818.3 231.21 L816.63 233.15 L816.53 233.28 L814.82 235.36 L812.96 237.44 L811.17 239.51 L809.46 241.59 L807.82 243.67 L806.57 245.21 L806.07 245.74 L804.15 247.82 L802.3 249.9 L800.53 251.98 L798.8 254.05 L797.13 256.13 L796.5 256.94 L794.67 258.21 L791.78 260.28 L789.36 262.36 L787.04 264.44 L786.43 264.99 L781.78 264.44 L776.36 263.8 L775.2 262.36 L773.46 260.28 L771.38 258.21 L769.22 256.13 L766.98 254.05 L766.3 253.43 L765.3 251.98 L763.87 249.9 L762.37 247.82 L760.81 245.74 L759.2 243.67 L757.62 241.59 L756.23 239.83 L756.05 239.51 L754.89 237.44 L753.67 235.36 L752.55 233.28 L751.42 231.21 L750.24 229.13 L749.01 227.05 L747.73 224.98 L746.5 222.9 L746.16 222.34 L745.49 220.82 L744.54 218.74 L743.55 216.67 L742.52 214.59 L741.51 212.51 L740.51 210.44 L739.47 208.36 L738.39 206.28 L737.26 204.21 L736.09 202.13 L736.09 202.13 L735.2 200.05 L734.23 197.98 L733.22 195.9 L732.15 193.82 L731.02 191.75 L729.86 189.67 L728.68 187.59 L727.44 185.51 L726.13 183.44 L726.03 183.28 L724.87 181.36 L723.56 179.28 L722.43 177.21 L721.32 175.13 L720.16 173.05 L718.93 170.98 L717.65 168.9 L716.29 166.82 L715.96 166.32 L709.62 164.75 L704.68 163.57 L704.68 164.75 L704.68 166.82 L704.68 168.9 L704.68 170.98 L704.68 173.05 L704.68 175.13 L704.68 177.21 L704.68 179.28 L704.68 181.36 L704.68 183.44 L704.68 185.51 L704.68 187.59 L704.68 189.67 L704.68 191.75 L704.68 193.82 L704.68 195.9 L704.68 197.98 L704.68 200.05 L704.68 202.13 L704.68 204.21 L704.68 206.28 L704.68 208.36 L704.68 210.44 L704.68 212.51 L704.68 214.59 L704.68 216.67 L704.68 218.74 L704.68 220.82 L704.68 222.9 L704.68 224.98 L704.68 227.05 L704.68 229.13 L704.68 231.21 L704.68 233.28 L704.68 235.36 L704.68 237.44 L704.68 239.51 L704.68 241.59 L704.68 243.67 L704.68 245.74 L704.68 247.82 L704.68 249.9 L704.68 251.98 L704.68 254.05 L704.68 256.13 L704.68 258.21 L704.68 260.28 L704.68 262.36 L704.68 264.44 L704.68 266.51 L704.68 268.59 L704.68 270.67 L704.68 272.74 L704.68 274.82 L704.68 276.9 L704.68 278.97 L704.68 281.05 L704.68 283.13 L704.68 285.21 L704.68 287.28 L704.68 289.36 L704.68 291.44 L704.68 293.51 L704.68 295.59 L704.68 297.67 L704.68 299.74 L704.68 301.82 L704.68 303.9 L704.68 305.97 L704.68 308.05 L704.68 310.13 L704.68 312.21 L704.68 314.28 L704.68 316.36 L704.68 318.44 L704.68 320.51 L704.68 322.59 L704.68 324.67 L704.68 326.74 L704.68 328.82 L704.68 330.9 L704.68 332.97 L704.68 335.05 L704.68 337.13 L704.68 339.21 L704.68 341.28 L704.68 343.36 L704.68 345.44 L704.68 347.51 L704.68 349.59 L704.68 351.67 L704.68 353.74 L704.68 355.82 L704.68 357.9 L704.68 359.97Z"/>
<path fill="#1caadf" fill-rule="evenodd" d="M704.68 355.82 L704.68 356.08 L707.3 355.82 L715.96 354.92 L717.78 353.74 L721.11 351.67 L724.36 349.59 L726.03 348.4 L727.33 347.51 L730.08 345.44 L732.39 343.36 L734.47 341.28 L736.09 339.5 L736.48 339.21 L738.77 337.13 L740.72 335.05 L742.54 332.97 L744.23 330.9 L745.74 328.82 L746.16 328.16 L747.37 326.74 L749.07 324.67 L750.49 322.59 L751.73 320.51 L752.99 318.44 L754.4 316.36 L755.74 314.28 L756.23 313.48 L757.33 312.21 L758.66 310.13 L759.95 308.05 L761.2 305.97 L762.41 303.9 L763.26 301.82 L764.04 299.74 L764.62 297.67 L765.05 295.59 L765.61 293.51 L766.25 291.44 L766.3 291.27 L767.24 289.36 L767.87 287.28 L767.42 285.21 L766.98 283.13 L766.3 281.47 L766.19 281.05 L765.51 278.97 L764.84 276.9 L764.17 274.82 L763.49 272.74 L762.8 270.67 L761.83 268.59 L760.69 266.51 L759.52 264.44 L758.31 262.36 L757.05 260.28 L756.23 259.14 L755.76 258.21 L754.7 256.13 L753.6 254.05 L752.45 251.98 L751.28 249.9 L750.06 247.82 L748.79 245.74 L747.48 243.67 L746.18 241.59 L746.16 241.55 L745.22 239.51 L744.21 237.44 L743.17 235.36 L742.21 233.28 L741.24 231.21 L740.22 229.13 L739.17 227.05 L738.07 224.98 L737.01 222.9 L736.09 221.16 L735.97 220.82 L735.21 218.74 L734.42 216.67 L733.59 214.59 L732.78 212.51 L731.98 210.44 L731.15 208.36 L730.28 206.28 L729.37 204.21 L728.43 202.13 L727.37 200.05 L726.2 197.98 L726.03 197.67 L725.09 195.9 L723.94 193.82 L722.73 191.75 L721.48 189.67 L720.22 187.59 L718.88 185.51 L717.47 183.44 L715.98 181.36 L715.96 181.33 L706.91 179.28 L704.68 178.69 L704.68 179.28 L704.68 181.36 L704.68 183.44 L704.68 185.51 L704.68 187.59 L704.68 189.67 L704.68 191.75 L704.68 193.82 L704.68 195.9 L704.68 197.98 L704.68 200.05 L704.68 202.13 L704.68 204.21 L704.68 206.28 L704.68 208.36 L704.68 210.44 L704.68 212.51 L704.68 214.59 L704.68 216.67 L704.68 218.74 L704.68 220.82 L704.68 222.9 L704.68 224.98 L704.68 227.05 L704.68 229.13 L704.68 231.21 L704.68 233.28 L704.68 235.36 L704.68 237.44 L704.68 239.51 L704.68 241.59 L704.68 243.67 L704.68 245.74 L704.68 247.82 L704.68 249.9 L704.68 251.98 L704.68 254.05 L704.68 256.13 L704.68 258.21 L704.68 260.28 L704.68 262.36 L704.68 264.44 L704.68 266.51 L704.68 268.59 L704.68 270.67 L704.68 272.74 L704.68 274.82 L704.68 276.9 L704.68 278.97 L704.68 281.05 L704.68 283.13 L704.68 285.21 L704.68 287.28 L704.68 289.36 L704.68 291.44 L704.68 293.51 L704.68 295.59 L704.68 297.67 L704.68 299.74 L704.68 301.82 L704.68 303.9 L704.68 305.97 L704.68 308.05 L704.68 310.13 L704.68 312.21 L704.68 314.28 L704.68 316.36 L704.68 318.44 L704.68 320.51 L704.68 322.59 L704.68 324.67 L704.68 326.74 L704.68 328.82 L704.68 330.9 L704.68 332.97 L704.68 335.05 L704.68 337.13 L704.68 339.21 L704.68 341.28 L704.68 343.36 L704.68 345.44 L704.68 347.51 L704.68 349.59 L704.68 351.67 L704.68 353.74 L704.68 355.82ZM852.78 337.13 L856.9 337.9 L866.97 338.32 L876.37 337.13 L877.04 337.03 L882.44 335.05 L887.11 333.22 L887.92 332.97 L894.52 330.9 L897.17 329.98 L900.09 328.82 L904.6 326.74 L907.24 325.48 L908.18 324.67 L910.24 322.59 L912.04 320.51 L913.87 318.44 L915.91 316.36 L917.31 314.88 L917.73 314.28 L919.1 312.21 L920.1 310.13 L921.07 308.05 L922.01 305.97 L922.92 303.9 L923.56 301.82 L924.15 299.74 L924.58 297.67 L924.91 295.59 L925.33 293.51 L925.81 291.44 L926.28 289.36 L926.56 287.28 L926.36 285.21 L926.15 283.13 L925.77 281.05 L925.25 278.97 L924.75 276.9 L924.25 274.82 L923.74 272.74 L923.22 270.67 L922.48 268.59 L921.63 266.51 L920.74 264.44 L919.83 262.36 L918.89 260.28 L917.75 258.21 L917.31 257.42 L916.35 256.13 L914.75 254.05 L913.09 251.98 L911.38 249.9 L909.62 247.82 L907.77 245.74 L907.24 245.15 L904.87 243.67 L901.62 241.59 L898.24 239.51 L897.17 238.88 L894.45 237.44 L890.39 235.36 L887.11 233.53 L886.77 233.28 L883.93 231.21 L880.98 229.13 L877.92 227.05 L877.04 226.47 L871.27 224.98 L866.97 223.81 L856.9 224.72 L856.26 224.98 L850.82 227.05 L846.84 228.63 L845.93 229.13 L842.24 231.21 L838.7 233.28 L836.77 234.42 L835.47 235.36 L832.31 237.44 L829.28 239.51 L826.7 241.35 L826.46 241.59 L824.45 243.67 L822.4 245.74 L820.42 247.82 L818.52 249.9 L816.69 251.98 L816.63 252.04 L814.93 254.05 L813.24 256.13 L811.62 258.21 L810.05 260.28 L808.74 262.36 L807.49 264.44 L806.57 266 L806.21 266.51 L804.81 268.59 L803.61 270.67 L802.76 272.74 L801.93 274.82 L801.11 276.9 L800.28 278.97 L799.43 281.05 L798.8 283.13 L798.47 285.21 L798.14 287.28 L798.6 289.36 L799.37 291.44 L800.15 293.51 L800.84 295.59 L801.38 297.67 L802.08 299.74 L803.05 301.82 L804.09 303.9 L805.58 305.97 L806.57 307.31 L807.03 308.05 L808.38 310.13 L809.76 312.21 L811.65 314.28 L813.71 316.36 L815.86 318.44 L816.63 319.28 L817.81 320.51 L819.74 322.59 L821.96 324.67 L824.61 326.74 L826.7 328.31 L827.68 328.82 L832.26 330.9 L836.77 332.73 L837.51 332.97 L844.11 335.05 L846.84 335.87 L852.78 337.13Z"/>
<path fill="#01b9c7" fill-rule="evenodd" d="M704.68 349.59 L704.68 351.17 L715.96 350.11 L716.86 349.59 L720.17 347.51 L723.04 345.44 L725.45 343.36 L726.03 342.83 L727.81 341.28 L730.01 339.21 L731.8 337.13 L733.32 335.05 L734.74 332.97 L736.06 330.9 L736.09 330.84 L737.81 328.82 L739.3 326.74 L740.72 324.67 L741.91 322.59 L742.94 320.51 L744 318.44 L745.17 316.36 L746.16 314.53 L746.34 314.28 L747.79 312.21 L748.84 310.13 L749.87 308.05 L750.86 305.97 L751.82 303.9 L752.49 301.82 L753.11 299.74 L753.56 297.67 L753.91 295.59 L754.35 293.51 L754.85 291.44 L755.35 289.36 L755.65 287.28 L755.43 285.21 L755.22 283.13 L754.81 281.05 L754.27 278.97 L753.74 276.9 L753.21 274.82 L752.67 272.74 L752.13 270.67 L751.36 268.59 L750.45 266.51 L749.52 264.44 L748.57 262.36 L747.57 260.28 L746.37 258.21 L746.16 257.85 L745.42 256.13 L744.5 254.05 L743.55 251.98 L742.57 249.9 L741.55 247.82 L740.49 245.74 L739.39 243.67 L738.31 241.59 L737.19 239.51 L736.09 237.56 L736.05 237.44 L735.23 235.36 L734.48 233.28 L733.72 231.21 L732.93 229.13 L732.11 227.05 L731.25 224.98 L730.43 222.9 L729.57 220.82 L728.68 218.74 L727.76 216.67 L726.79 214.59 L726.03 212.89 L725.87 212.51 L725.03 210.44 L724.16 208.36 L723.25 206.28 L722.31 204.21 L721.32 202.13 L720.21 200.05 L718.99 197.98 L717.72 195.9 L716.38 193.82 L715.96 193.2 L710.16 191.75 L704.68 190.39 L704.68 191.75 L704.68 193.82 L704.68 195.9 L704.68 197.98 L704.68 200.05 L704.68 202.13 L704.68 204.21 L704.68 206.28 L704.68 208.36 L704.68 210.44 L704.68 212.51 L704.68 214.59 L704.68 216.67 L704.68 218.74 L704.68 220.82 L704.68 222.9 L704.68 224.98 L704.68 227.05 L704.68 229.13 L704.68 231.21 L704.68 233.28 L704.68 235.36 L704.68 237.44 L704.68 239.51 L704.68 241.59 L704.68 243.67 L704.68 245.74 L704.68 247.82 L704.68 249.9 L704.68 251.98 L704.68 254.05 L704.68 256.13 L704.68 258.21 L704.68 260.28 L704.68 262.36 L704.68 264.44 L704.68 266.51 L704.68 268.59 L704.68 270.67 L704.68 272.74 L704.68 274.82 L704.68 276.9 L704.68 278.97 L704.68 281.05 L704.68 283.13 L704.68 285.21 L704.68 287.28 L704.68 289.36 L704.68 291.44 L704.68 293.51 L704.68 295.59 L704.68 297.67 L704.68 299.74 L704.68 301.82 L704.68 303.9 L704.68 305.97 L704.68 308.05 L704.68 310.13 L704.68 312.21 L704.68 314.28 L704.68 316.36 L704.68 318.44 L704.68 320.51 L704.68 322.59 L704.68 324.67 L704.68 326.74 L704.68 328.82 L704.68 330.9 L704.68 332.97 L704.68 335.05 L704.68 337.13 L704.68 339.21 L704.68 341.28 L704.68 343.36 L704.68 345.44 L704.68 347.51 L704.68 349.59ZM859.78 328.82 L866.97 329.22 L869.37 328.82 L877.04 327.37 L878.32 326.74 L882.44 324.67 L885.89 322.59 L887.11 321.76 L889.5 320.51 L893.6 318.44 L897.17 316.82 L898.08 316.36 L902.02 314.28 L905.65 312.21 L907.24 310.97 L907.86 310.13 L909.34 308.05 L910.78 305.97 L912.17 303.9 L913.14 301.82 L914.04 299.74 L914.7 297.67 L915.2 295.59 L915.84 293.51 L916.57 291.44 L917.29 289.36 L917.31 289.25 L917.62 287.28 L917.39 285.21 L917.31 284.51 L917.1 283.13 L916.51 281.05 L915.72 278.97 L914.95 276.9 L914.19 274.82 L913.41 272.74 L912.62 270.67 L911.5 268.59 L910.19 266.51 L908.84 264.44 L907.45 262.36 L907.24 262.05 L905.09 260.28 L902.09 258.21 L898.97 256.13 L897.17 254.97 L895.57 254.05 L891.85 251.98 L888.04 249.9 L887.11 249.4 L884.84 247.82 L881.76 245.74 L878.58 243.67 L877.04 242.64 L873.05 241.59 L866.97 240.03 L856.9 240.89 L855.05 241.59 L849.7 243.67 L846.84 244.76 L844.96 245.74 L841.11 247.82 L837.41 249.9 L836.77 250.27 L834.34 251.98 L831.44 254.05 L828.65 256.13 L826.7 257.63 L826.17 258.21 L824.31 260.28 L822.75 262.36 L821.25 264.44 L819.8 266.51 L818.39 268.59 L817.19 270.67 L816.63 272.02 L816.34 272.74 L815.52 274.82 L814.72 276.9 L813.9 278.97 L813.07 281.05 L812.45 283.13 L812.12 285.21 L811.8 287.28 L812.25 289.36 L813.01 291.44 L813.77 293.51 L814.45 295.59 L814.98 297.67 L815.68 299.74 L816.62 301.82 L816.63 301.84 L817.67 303.9 L819.17 305.97 L820.72 308.05 L822.31 310.13 L823.96 312.21 L826.21 314.28 L826.7 314.71 L829.41 316.36 L832.97 318.44 L836.16 320.51 L836.77 320.92 L839.79 322.59 L844.11 324.67 L846.84 325.78 L850.14 326.74 L856.9 328.64 L859.78 328.82Z"/>
<path fill="#29c3aa" fill-rule="evenodd" d="M704.68 345.44 L704.68 346.98 L715.96 345.75 L716.43 345.44 L719.19 343.36 L721.67 341.28 L723.92 339.21 L725.75 337.13 L726.03 336.77 L727.46 335.05 L729.07 332.97 L730.58 330.9 L731.93 328.82 L733.08 326.74 L734.16 324.67 L735.07 322.59 L735.86 320.51 L736.09 319.91 L736.94 318.44 L738.29 316.36 L739.57 314.28 L740.75 312.21 L741.61 310.13 L742.45 308.05 L743.26 305.97 L744.04 303.9 L744.59 301.82 L745.1 299.74 L745.47 297.67 L745.76 295.59 L746.12 293.51 L746.16 293.3 L746.67 291.44 L747.24 289.36 L747.58 287.28 L747.34 285.21 L747.09 283.13 L746.63 281.05 L746.16 279.49 L746.05 278.97 L745.61 276.9 L745.18 274.82 L744.74 272.74 L744.3 270.67 L743.67 268.59 L742.93 266.51 L742.17 264.44 L741.38 262.36 L740.57 260.28 L739.59 258.21 L738.58 256.13 L737.52 254.05 L736.43 251.98 L736.09 251.34 L735.57 249.9 L734.79 247.82 L733.98 245.74 L733.14 243.67 L732.32 241.59 L731.46 239.51 L730.57 237.44 L729.64 235.36 L728.78 233.28 L727.91 231.21 L727.01 229.13 L726.07 227.05 L726.03 226.96 L725.19 224.98 L724.34 222.9 L723.47 220.82 L722.56 218.74 L721.61 216.67 L720.62 214.59 L719.66 212.51 L718.7 210.44 L717.7 208.36 L716.67 206.28 L715.96 204.91 L713.8 204.21 L707.25 202.13 L704.68 201.4 L704.68 202.13 L704.68 204.21 L704.68 206.28 L704.68 208.36 L704.68 210.44 L704.68 212.51 L704.68 214.59 L704.68 216.67 L704.68 218.74 L704.68 220.82 L704.68 222.9 L704.68 224.98 L704.68 227.05 L704.68 229.13 L704.68 231.21 L704.68 233.28 L704.68 235.36 L704.68 237.44 L704.68 239.51 L704.68 241.59 L704.68 243.67 L704.68 245.74 L704.68 247.82 L704.68 249.9 L704.68 251.98 L704.68 254.05 L704.68 256.13 L704.68 258.21 L704.68 260.28 L704.68 262.36 L704.68 264.44 L704.68 266.51 L704.68 268.59 L704.68 270.67 L704.68 272.74 L704.68 274.82 L704.68 276.9 L704.68 278.97 L704.68 281.05 L704.68 283.13 L704.68 285.21 L704.68 287.28 L704.68 289.36 L704.68 291.44 L704.68 293.51 L704.68 295.59 L704.68 297.67 L704.68 299.74 L704.68 301.82 L704.68 303.9 L704.68 305.97 L704.68 308.05 L704.68 310.13 L704.68 312.21 L704.68 314.28 L704.68 316.36 L704.68 318.44 L704.68 320.51 L704.68 322.59 L704.68 324.67 L704.68 326.74 L704.68 328.82 L704.68 330.9 L704.68 332.97 L704.68 335.05 L704.68 337.13 L704.68 339.21 L704.68 341.28 L704.68 343.36 L704.68 345.44ZM855.18 316.36 L856.9 316.91 L866.97 317.62 L872.86 316.36 L877.04 315.44 L879.09 314.28 L882.52 312.21 L885.03 310.13 L887.11 308.36 L887.58 308.05 L890.73 305.97 L893.79 303.9 L895.93 301.82 L897.17 300.52 L897.83 299.74 L899.14 297.67 L900.14 295.59 L901.41 293.51 L902.85 291.44 L904.27 289.36 L905.13 287.28 L904.52 285.21 L903.9 283.13 L902.73 281.05 L901.17 278.97 L899.64 276.9 L898.12 274.82 L897.17 273.54 L896.51 272.74 L894.78 270.67 L892.32 268.59 L889.45 266.51 L887.11 264.87 L886.64 264.44 L884.37 262.36 L881.99 260.28 L879.15 258.21 L877.04 256.71 L874.95 256.13 L867.29 254.05 L866.97 253.97 L866.01 254.05 L856.9 254.87 L853.75 256.13 L848.73 258.21 L846.84 259.01 L844.67 260.28 L841.7 262.36 L838.85 264.44 L836.77 266 L836.2 266.51 L833.97 268.59 L832.06 270.67 L830.71 272.74 L829.38 274.82 L828.07 276.9 L826.76 278.97 L826.7 279.06 L825.77 281.05 L825.05 283.13 L824.66 285.21 L824.28 287.28 L824.82 289.36 L825.7 291.44 L826.59 293.51 L826.7 293.81 L827.64 295.59 L828.5 297.67 L829.63 299.74 L831.16 301.82 L832.83 303.9 L835.2 305.97 L836.77 307.31 L837.83 308.05 L840.87 310.13 L844.01 312.21 L846.84 313.58 L848.83 314.28 L855.18 316.36Z"/>
<path fill="#48cb86" fill-rule="evenodd" d="M704.68 341.28 L704.68 342.56 L714.51 341.28 L715.96 341.09 L718.24 339.21 L720.3 337.13 L722.05 335.05 L723.68 332.97 L725.21 330.9 L726.03 329.66 L726.63 328.82 L727.91 326.74 L729.13 324.67 L730.15 322.59 L731.04 320.51 L731.95 318.44 L732.96 316.36 L733.92 314.28 L734.81 312.21 L735.46 310.13 L736.09 308.05 L736.09 308.04 L737 305.97 L737.88 303.9 L738.5 301.82 L739.07 299.74 L739.49 297.67 L739.81 295.59 L740.21 293.51 L740.67 291.44 L741.13 289.36 L741.4 287.28 L741.21 285.21 L741.01 283.13 L740.64 281.05 L740.14 278.97 L739.65 276.9 L739.16 274.82 L738.67 272.74 L738.16 270.67 L737.46 268.59 L736.62 266.51 L736.09 265.21 L735.88 264.44 L735.29 262.36 L734.67 260.28 L733.94 258.21 L733.17 256.13 L732.38 254.05 L731.56 251.98 L730.72 249.9 L729.84 247.82 L728.93 245.74 L727.99 243.67 L727.06 241.59 L726.1 239.51 L726.03 239.36 L725.19 237.44 L724.25 235.36 L723.39 233.28 L722.51 231.21 L721.6 229.13 L720.66 227.05 L719.67 224.98 L718.72 222.9 L717.73 220.82 L716.71 218.74 L715.96 217.27 L714.12 216.67 L707.66 214.59 L704.68 213.6 L704.68 214.59 L704.68 216.67 L704.68 218.74 L704.68 220.82 L704.68 222.9 L704.68 224.98 L704.68 227.05 L704.68 229.13 L704.68 231.21 L704.68 233.28 L704.68 235.36 L704.68 237.44 L704.68 239.51 L704.68 241.59 L704.68 243.67 L704.68 245.74 L704.68 247.82 L704.68 249.9 L704.68 251.98 L704.68 254.05 L704.68 256.13 L704.68 258.21 L704.68 260.28 L704.68 262.36 L704.68 264.44 L704.68 266.51 L704.68 268.59 L704.68 270.67 L704.68 272.74 L704.68 274.82 L704.68 276.9 L704.68 278.97 L704.68 281.05 L704.68 283.13 L704.68 285.21 L704.68 287.28 L704.68 289.36 L704.68 291.44 L704.68 293.51 L704.68 295.59 L704.68 297.67 L704.68 299.74 L704.68 301.82 L704.68 303.9 L704.68 305.97 L704.68 308.05 L704.68 310.13 L704.68 312.21 L704.68 314.28 L704.68 316.36 L704.68 318.44 L704.68 320.51 L704.68 322.59 L704.68 324.67 L704.68 326.74 L704.68 328.82 L704.68 330.9 L704.68 332.97 L704.68 335.05 L704.68 337.13 L704.68 339.21 L704.68 341.28ZM858.21 303.9 L866.97 304.85 L869.89 303.9 L874.39 301.82 L877.04 300.5 L877.63 299.74 L878.85 297.67 L879.78 295.59 L880.96 293.51 L882.3 291.44 L883.62 289.36 L884.42 287.28 L883.85 285.21 L883.28 283.13 L882.19 281.05 L880.73 278.97 L879.31 276.9 L877.9 274.82 L877.04 273.56 L875.61 272.74 L871.96 270.67 L866.97 268.66 L856.9 270 L855.79 270.67 L853.3 272.74 L850.85 274.82 L848.45 276.9 L846.84 278.28 L846.24 278.97 L844.42 281.05 L843.06 283.13 L842.34 285.21 L841.63 287.28 L842.63 289.36 L844.28 291.44 L845.96 293.51 L846.84 294.75 L847.66 295.59 L849.24 297.67 L851.31 299.74 L854.13 301.82 L856.9 303.7 L858.21 303.9Z"/>
<path fill="#81cc59" fill-rule="evenodd" d="M704.68 337.13 L704.68 337.9 L709.52 337.13 L715.96 335.97 L716.8 335.05 L718.61 332.97 L720.3 330.9 L721.81 328.82 L723.09 326.74 L724.3 324.67 L725.32 322.59 L726.03 320.94 L726.22 320.51 L727.23 318.44 L728.35 316.36 L729.42 314.28 L730.41 312.21 L731.13 310.13 L731.83 308.05 L732.51 305.97 L733.17 303.9 L733.63 301.82 L734.05 299.74 L734.36 297.67 L734.6 295.59 L734.9 293.51 L735.24 291.44 L735.58 289.36 L735.78 287.28 L735.64 285.21 L735.49 283.13 L735.21 281.05 L734.84 278.97 L734.48 276.9 L734.12 274.82 L733.75 272.74 L733.38 270.67 L732.85 268.59 L732.23 266.51 L731.6 264.44 L730.94 262.36 L730.26 260.28 L729.44 258.21 L728.59 256.13 L727.71 254.05 L726.8 251.98 L726.03 250.25 L725.88 249.9 L725.01 247.82 L724.1 245.74 L723.17 243.67 L722.24 241.59 L721.28 239.51 L720.28 237.44 L719.24 235.36 L718.29 233.28 L717.31 231.21 L716.3 229.13 L715.96 228.45 L711.82 227.05 L705.44 224.98 L704.68 224.72 L704.68 224.98 L704.68 227.05 L704.68 229.13 L704.68 231.21 L704.68 233.28 L704.68 235.36 L704.68 237.44 L704.68 239.51 L704.68 241.59 L704.68 243.67 L704.68 245.74 L704.68 247.82 L704.68 249.9 L704.68 251.98 L704.68 254.05 L704.68 256.13 L704.68 258.21 L704.68 260.28 L704.68 262.36 L704.68 264.44 L704.68 266.51 L704.68 268.59 L704.68 270.67 L704.68 272.74 L704.68 274.82 L704.68 276.9 L704.68 278.97 L704.68 281.05 L704.68 283.13 L704.68 285.21 L704.68 287.28 L704.68 289.36 L704.68 291.44 L704.68 293.51 L704.68 295.59 L704.68 297.67 L704.68 299.74 L704.68 301.82 L704.68 303.9 L704.68 305.97 L704.68 308.05 L704.68 310.13 L704.68 312.21 L704.68 314.28 L704.68 316.36 L704.68 318.44 L704.68 320.51 L704.68 322.59 L704.68 324.67 L704.68 326.74 L704.68 328.82 L704.68 330.9 L704.68 332.97 L704.68 335.05 L704.68 337.13Z"/>
<path fill="#bbc42f" fill-rule="evenodd" d="M704.68 330.9 L704.68 332.45 L712.7 330.9 L715.96 330.21 L717.06 328.82 L718.47 326.74 L719.8 324.67 L720.92 322.59 L721.89 320.51 L722.88 318.44 L723.99 316.36 L725.04 314.28 L726.02 312.21 L726.03 312.18 L726.81 310.13 L727.58 308.05 L728.32 305.97 L729.04 303.9 L729.55 301.82 L730.01 299.74 L730.36 297.67 L730.62 295.59 L730.95 293.51 L731.33 291.44 L731.7 289.36 L731.92 287.28 L731.76 285.21 L731.6 283.13 L731.3 281.05 L730.89 278.97 L730.49 276.9 L730.09 274.82 L729.69 272.74 L729.28 270.67 L728.7 268.59 L728.02 266.51 L727.32 264.44 L726.6 262.36 L726.03 260.77 L725.87 260.28 L725.06 258.21 L724.23 256.13 L723.36 254.05 L722.46 251.98 L721.54 249.9 L720.58 247.82 L719.58 245.74 L718.55 243.67 L717.54 241.59 L716.48 239.51 L715.96 238.52 L712.59 237.44 L705.92 235.36 L704.68 234.94 L704.68 235.36 L704.68 237.44 L704.68 239.51 L704.68 241.59 L704.68 243.67 L704.68 245.74 L704.68 247.82 L704.68 249.9 L704.68 251.98 L704.68 254.05 L704.68 256.13 L704.68 258.21 L704.68 260.28 L704.68 262.36 L704.68 264.44 L704.68 266.51 L704.68 268.59 L704.68 270.67 L704.68 272.74 L704.68 274.82 L704.68 276.9 L704.68 278.97 L704.68 281.05 L704.68 283.13 L704.68 285.21 L704.68 287.28 L704.68 289.36 L704.68 291.44 L704.68 293.51 L704.68 295.59 L704.68 297.67 L704.68 299.74 L704.68 301.82 L704.68 303.9 L704.68 305.97 L704.68 308.05 L704.68 310.13 L704.68 312.21 L704.68 314.28 L704.68 316.36 L704.68 318.44 L704.68 320.51 L704.68 322.59 L704.68 324.67 L704.68 326.74 L704.68 328.82 L704.68 330.9Z"/>
<path fill="#eaba31" fill-rule="evenodd" d="M704.68 324.67 L704.68 326.49 L712.12 324.67 L715.96 323.55 L716.52 322.59 L717.58 320.51 L718.66 318.44 L719.87 316.36 L721.02 314.28 L722.08 312.21 L722.85 310.13 L723.6 308.05 L724.33 305.97 L725.04 303.9 L725.53 301.82 L725.99 299.74 L726.03 299.5 L726.35 297.67 L726.64 295.59 L727 293.51 L727.41 291.44 L727.82 289.36 L728.06 287.28 L727.89 285.21 L727.71 283.13 L727.38 281.05 L726.93 278.97 L726.5 276.9 L726.06 274.82 L726.03 274.64 L725.67 272.74 L725.26 270.67 L724.7 268.59 L724.03 266.51 L723.35 264.44 L722.65 262.36 L721.91 260.28 L721.04 258.21 L720.12 256.13 L719.18 254.05 L718.2 251.98 L717.19 249.9 L716.15 247.82 L715.96 247.46 L710.71 245.74 L704.68 243.83 L704.68 245.74 L704.68 247.82 L704.68 249.9 L704.68 251.98 L704.68 254.05 L704.68 256.13 L704.68 258.21 L704.68 260.28 L704.68 262.36 L704.68 264.44 L704.68 266.51 L704.68 268.59 L704.68 270.67 L704.68 272.74 L704.68 274.82 L704.68 276.9 L704.68 278.97 L704.68 281.05 L704.68 283.13 L704.68 285.21 L704.68 287.28 L704.68 289.36 L704.68 291.44 L704.68 293.51 L704.68 295.59 L704.68 297.67 L704.68 299.74 L704.68 301.82 L704.68 303.9 L704.68 305.97 L704.68 308.05 L704.68 310.13 L704.68 312.21 L704.68 314.28 L704.68 316.36 L704.68 318.44 L704.68 320.51 L704.68 322.59 L704.68 324.67Z"/>
<path fill="#fec735" fill-rule="evenodd" d="M704.68 318.44 L704.68 319.18 L707.1 318.44 L714.71 316.36 L715.96 316.01 L716.99 314.28 L718.14 312.21 L718.98 310.13 L719.79 308.05 L720.58 305.97 L721.34 303.9 L721.88 301.82 L722.37 299.74 L722.73 297.67 L723.01 295.59 L723.36 293.51 L723.76 291.44 L724.15 289.36 L724.39 287.28 L724.22 285.21 L724.05 283.13 L723.73 281.05 L723.3 278.97 L722.87 276.9 L722.45 274.82 L722.03 272.74 L721.59 270.67 L720.98 268.59 L720.26 266.51 L719.52 264.44 L718.76 262.36 L717.96 260.28 L717.01 258.21 L716.02 256.13 L715.96 255.99 L710.37 254.05 L704.68 252.14 L704.68 254.05 L704.68 256.13 L704.68 258.21 L704.68 260.28 L704.68 262.36 L704.68 264.44 L704.68 266.51 L704.68 268.59 L704.68 270.67 L704.68 272.74 L704.68 274.82 L704.68 276.9 L704.68 278.97 L704.68 281.05 L704.68 283.13 L704.68 285.21 L704.68 287.28 L704.68 289.36 L704.68 291.44 L704.68 293.51 L704.68 295.59 L704.68 297.67 L704.68 299.74 L704.68 301.82 L704.68 303.9 L704.68 305.97 L704.68 308.05 L704.68 310.13 L704.68 312.21 L704.68 314.28 L704.68 316.36 L704.68 318.44Z"/>
<path fill="#f5e128" fill-rule="evenodd" d="M704.68 312.21 L704.68 312.51 L705.72 312.21 L711 310.13 L715.96 308.11 L715.98 308.05 L716.83 305.97 L717.65 303.9 L718.23 301.82 L718.76 299.74 L719.15 297.67 L719.45 295.59 L719.83 293.51 L720.26 291.44 L720.68 289.36 L720.94 287.28 L720.75 285.21 L720.57 283.13 L720.22 281.05 L719.75 278.97 L719.3 276.9 L718.85 274.82 L718.39 272.74 L717.92 270.67 L717.26 268.59 L716.48 266.51 L715.96 265.13 L714.38 264.44 L709.6 262.36 L704.68 260.31 L704.68 262.36 L704.68 264.44 L704.68 266.51 L704.68 268.59 L704.68 270.67 L704.68 272.74 L704.68 274.82 L704.68 276.9 L704.68 278.97 L704.68 281.05 L704.68 283.13 L704.68 285.21 L704.68 287.28 L704.68 289.36 L704.68 291.44 L704.68 293.51 L704.68 295.59 L704.68 297.67 L704.68 299.74 L704.68 301.82 L704.68 303.9 L704.68 305.97 L704.68 308.05 L704.68 310.13 L704.68 312.21Z"/>
<path fill="#f9fb15" fill-rule="evenodd" d="M704.68 301.82 L704.68 303.7 L707.93 301.82 L711.24 299.74 L713.67 297.67 L715.53 295.59 L715.96 295.22 L716.29 293.51 L716.75 291.44 L717.2 289.36 L717.48 287.28 L717.28 285.21 L717.09 283.13 L716.71 281.05 L716.21 278.97 L715.96 277.88 L714.6 276.9 L711.78 274.82 L708.91 272.74 L705.99 270.67 L704.68 270 L704.68 270.67 L704.68 272.74 L704.68 274.82 L704.68 276.9 L704.68 278.97 L704.68 281.05 L704.68 283.13 L704.68 285.21 L704.68 287.28 L704.68 289.36 L704.68 291.44 L704.68 293.51 L704.68 295.59 L704.68 297.67 L704.68 299.74 L704.68 301.82Z"/>
<path class="cl" d="M704.68 425.19 L715.96 424.84 L718.42 424.36 L725.75 422.28 L726.03 422.11 L729.13 420.2 L730.47 418.13 L727.49 416.05 L726.03 415.52 L721.7 413.97 L715.96 412.9 L704.68 412.59M704.68 379.6 L715.96 379.45 L723.95 378.67 L726.03 378.44 L736.09 377.15 L740.88 376.59 L746.16 375.81 L755.7 374.51 L756.23 374.43 L766.3 373.16 L774.13 372.44 L776.36 372.21 L786.43 372.11 L790.85 372.44 L796.5 372.82 L806.57 373.94 L811.71 374.51 L816.63 375 L826.7 375.83 L836.77 376.33 L843.53 376.59 L846.84 376.7 L856.9 376.95 L866.97 377 L877.04 376.84 L882.9 376.59 L887.11 376.39 L897.17 376.01 L907.24 375.54 L917.31 374.57 L917.69 374.51 L927.38 372.86 L929.42 372.44 L937.36 370.36 L937.44 370.32 L942.47 368.28 L946.63 366.2 L947.51 365.71 L950.74 364.13 L954.41 362.05 L957.53 359.97 L957.58 359.94 L961.41 357.9 L964.82 355.82 L967.65 353.86 L967.81 353.74 L970.89 351.67 L973.88 349.59 L976.49 347.51 L977.71 346.43 L978.77 345.44 L980.67 343.36 L982.39 341.28 L983.94 339.21 L985.21 337.13 L986.29 335.05 L987.29 332.97 L987.78 331.9 L988.22 330.9 L989.06 328.82 L989.77 326.74 L990.44 324.67 L991 322.59 L991.49 320.51 L991.99 318.44 L992.54 316.36 L993.08 314.28 L993.56 312.21 L993.92 310.13 L994.27 308.05 L994.6 305.97 L994.93 303.9 L995.16 301.82 L995.37 299.74 L995.52 297.67 L995.64 295.59 L995.79 293.51 L995.96 291.44 L996.12 289.36 L996.23 287.28 L996.15 285.21 L996.08 283.13 L995.94 281.05 L995.76 278.97 L995.58 276.9 L995.4 274.82 L995.22 272.74 L995.03 270.67 L994.77 268.59 L994.47 266.51 L994.15 264.44 L993.83 262.36 L993.49 260.28 L993.08 258.21 L992.66 256.13 L992.23 254.05 L991.78 251.98 L991.31 249.9 L990.83 247.82 L990.33 245.74 L989.81 243.67 L989.3 241.59 L988.77 239.51 L988.22 237.44 L987.78 235.86 L987.64 235.36 L987.11 233.28 L986.57 231.21 L986.01 229.13 L985.43 227.05 L984.82 224.98 L984.24 222.9 L983.63 220.82 L983 218.74 L982.35 216.67 L981.67 214.59 L981 212.51 L980.34 210.44 L979.65 208.36 L978.93 206.28 L978.18 204.21 L977.71 202.94 L977.41 202.13 L976.52 200.05 L975.56 197.98 L974.56 195.9 L973.5 193.82 L972.38 191.75 L971.23 189.67 L970.06 187.59 L968.83 185.51 L967.65 183.61 L967.53 183.44 L966.18 181.36 L964.76 179.28 L963.53 177.21 L962.33 175.13 L961.06 173.05 L959.73 170.98 L958.33 168.9 L957.58 167.82 L957.08 166.82 L956.01 164.75 L954.88 162.67 L953.67 160.59 L952.4 158.51 L951.04 156.44 L949.61 154.36 L948.07 152.28 L947.51 151.55 L946.66 150.21 L945.32 148.13 L944.05 146.05 L942.7 143.98 L941.26 141.9 L939.72 139.82 L938.07 137.75 L937.44 136.99 L936.44 135.67 L934.77 133.59 L932.97 131.52 L931.54 129.44 L930.16 127.36 L928.7 125.28 L927.38 123.51 L927.14 123.21 L925.21 121.13 L923.1 119.05 L922.96 116.98 L924.17 114.9 L925.33 112.82 L923.68 110.75 L921.71 108.67 L919.59 106.59 L918.17 104.52 L917.31 103.24 L916.57 102.44 L914.62 100.36 L912.57 98.28 L910.43 96.21 L908.17 94.13 L907.24 93.32 L904.66 92.05 L899.73 89.98 L897.17 88.95 L894.2 87.9 L888.03 85.82 L887.11 85.52 L882.89 83.75 L877.63 81.67 L877.04 81.43 L866.97 79.84 L856.9 80.36 L851.31 81.67 L846.84 82.69 L843.55 83.75 L837.41 85.82 L836.77 86.05 L832.5 87.9 L828 89.98 L826.7 90.6 L824.58 92.05 L821.98 94.13 L819.55 96.21 L817.24 98.28 L816.63 98.84 L815.06 100.36 L813 102.44 L811.04 104.52 L809.08 106.59 L806.57 108.37 L806.08 108.67 L802.85 110.75 L800.15 112.82 L802.05 114.9 L804.03 116.98 L803.81 119.05 L800.35 121.13 L797.18 123.21 L796.5 123.76 L793.05 125.28 L788.59 127.36 L786.43 128.41 L776.36 127.77 L775.75 127.36 L772.55 125.28 L769.15 123.21 L766.3 121.8 L765.45 121.13 L762.64 119.05 L762.46 116.98 L764.07 114.9 L765.61 112.82 L763.42 110.75 L760.8 108.67 L757.99 106.59 L756.23 104.65 L756.14 104.52 L754.86 102.44 L753.51 100.36 L752.1 98.28 L750.62 96.21 L749.06 94.13 L747.39 92.05 L746.16 90.73 L745.64 89.98 L744.15 87.9 L742.57 85.82 L740.88 83.75 L739.07 81.67 L737.25 79.59 L736.09 77.92 L735.9 77.52 L734.88 75.44 L733.81 73.36 L732.68 71.28 L731.49 69.21 L730.21 67.13 L728.85 65.05 L727.41 62.98 L726.03 61.11 L725.88 60.9 L724.4 58.82 L722.41 56.75 L719.54 54.67 L716.28 52.59 L715.96 51.61 L713.79 50.52 L715.96 49.86 L716.75 48.44 L717.87 46.36 L715.96 44.56 L714.2 44.29 L704.68 42.56M704.68 375.65 L715.96 375.36 L720.99 374.51 L726.03 373.47 L730.52 372.44 L736.09 370.79 L737.96 370.36 L743.73 368.28 L746.16 367.26 L749.31 366.2 L754.73 364.13 L756.23 363.48 L760.72 362.05 L766.3 360.03 L766.53 359.97 L774.7 357.9 L776.36 357.44 L786.43 357.17 L790.05 357.9 L796.5 359.11 L799.13 359.97 L806.18 362.05 L806.57 362.16 L813.21 364.13 L816.63 365.03 L821.58 366.2 L826.7 367.3 L833.77 368.28 L836.77 368.67 L846.84 369.69 L856.79 370.36 L856.9 370.36 L866.97 370.47 L870.5 370.36 L877.04 370.06 L887.11 368.83 L892.58 368.28 L897.17 367.8 L907.24 366.51 L908.53 366.2 L916.38 364.13 L917.31 363.86 L921.65 362.05 L925.95 359.97 L927.38 359.21 L929.68 357.9 L932.94 355.82 L935.8 353.74 L937.44 352.6 L938.87 351.67 L942.08 349.59 L944.88 347.51 L947.31 345.44 L947.51 345.24 L949.84 343.36 L952.17 341.28 L954.28 339.21 L956 337.13 L957.46 335.05 L957.58 334.88 L959.38 332.97 L961.22 330.9 L962.86 328.82 L964.25 326.74 L965.57 324.67 L966.67 322.59 L967.63 320.51 L967.65 320.48 L968.63 318.44 L969.74 316.36 L970.8 314.28 L971.78 312.21 L972.49 310.13 L973.19 308.05 L973.86 305.97 L974.51 303.9 L974.96 301.82 L975.38 299.74 L975.69 297.67 L975.92 295.59 L976.22 293.51 L976.56 291.44 L976.9 289.36 L977.1 287.28 L976.96 285.21 L976.81 283.13 L976.54 281.05 L976.17 278.97 L975.81 276.9 L975.45 274.82 L975.09 272.74 L974.72 270.67 L974.19 268.59 L973.58 266.51 L972.95 264.44 L972.3 262.36 L971.63 260.28 L970.82 258.21 L969.98 256.13 L969.1 254.05 L968.2 251.98 L967.65 250.72 L967.28 249.9 L966.33 247.82 L965.35 245.74 L964.33 243.67 L963.33 241.59 L962.28 239.51 L961.2 237.44 L960.07 235.36 L959.02 233.28 L957.97 231.21 L957.58 230.46 L957.09 229.13 L956.3 227.05 L955.47 224.98 L954.68 222.9 L953.86 220.82 L953 218.74 L952.12 216.67 L951.19 214.59 L950.29 212.51 L949.39 210.44 L948.45 208.36 L947.51 206.35 L947.49 206.28 L946.69 204.21 L945.85 202.13 L944.91 200.05 L943.88 197.98 L942.8 195.9 L941.66 193.82 L940.47 191.75 L939.23 189.67 L937.98 187.59 L937.44 186.73 L936.76 185.51 L935.54 183.44 L934.25 181.36 L932.88 179.28 L931.71 177.21 L930.55 175.13 L929.34 173.05 L928.07 170.98 L927.38 169.89 L926.73 168.9 L925.34 166.82 L923.86 164.75 L922.3 162.67 L920.64 160.59 L918.88 158.51 L917.31 156.76 L916.92 156.44 L914.33 154.36 L911.57 152.28 L908.62 150.21 L907.24 149.25 L904.32 148.13 L899.28 146.05 L897.17 145.22 L893.58 143.98 L887.26 141.9 L887.11 141.85 L882.18 139.82 L877.04 137.84 L876.39 137.75 L866.97 136.38 L856.9 136.86 L852.76 137.75 L846.84 139.07 L844.44 139.82 L838.14 141.9 L836.77 142.37 L832.99 143.98 L828.38 146.05 L826.7 146.84 L824.79 148.13 L821.49 150.21 L818.32 152.28 L816.63 153.45 L815.37 154.36 L812.63 156.44 L810.06 158.51 L807.63 160.59 L806.57 161.54 L805.11 162.67 L802.55 164.75 L800.14 166.82 L797.85 168.9 L796.5 170.18 L794.96 170.98 L791.08 173.05 L787.39 175.13 L786.43 175.69 L779.03 175.13 L776.36 174.93 L773.96 173.05 L771.18 170.98 L768.25 168.9 L766.3 167.57 L765.62 166.82 L763.66 164.75 L761.58 162.67 L759.38 160.59 L757.04 158.51 L756.23 157.82 L755.1 156.44 L753.31 154.36 L751.4 152.28 L749.37 150.21 L747.26 148.13 L746.16 146.98 L745.51 146.05 L743.99 143.98 L742.37 141.9 L740.63 139.82 L738.77 137.75 L736.78 135.67 L736.09 134.98 L735.12 133.59 L733.58 131.52 L732.35 129.44 L731.16 127.36 L729.9 125.28 L728.57 123.21 L726.89 121.13 L726.03 120.12 L725.17 119.05 L725.07 116.98 L726 114.9 L726.03 114.85 L727 112.82 L726.03 111.38 L725.62 110.75 L724.1 108.67 L722.46 106.59 L721.36 104.52 L720.26 102.44 L719.1 100.36 L717.89 98.28 L716.62 96.21 L715.96 95.16 L712.06 94.13 L704.68 92.28M704.68 371.7 L715.96 371.26 L719.57 370.36 L724.76 368.28 L726.03 367.7 L729.31 366.2 L733.19 364.13 L736.09 362.3 L736.64 362.05 L740.81 359.97 L744.41 357.9 L746.16 356.78 L748.1 355.82 L751.96 353.74 L755.85 351.67 L756.23 351.47 L761.25 349.59 L766.12 347.51 L766.3 347.43 L773 345.44 L776.36 344.28 L786.43 343.94 L792.41 345.44 L796.5 346.34 L799.53 347.51 L805.53 349.59 L806.57 349.92 L811.48 351.67 L816.63 353.48 L817.45 353.74 L823.47 355.82 L826.7 356.84 L831.71 357.9 L836.77 358.9 L843.77 359.97 L846.84 360.42 L856.9 361.44 L866.97 361.66 L877.04 360.99 L882.71 359.97 L887.11 359.14 L895.23 357.9 L897.17 357.58 L906.45 355.82 L907.24 355.66 L912.37 353.74 L917.31 351.94 L917.85 351.67 L922.05 349.59 L925.71 347.51 L927.38 346.46 L928.9 345.44 L931.59 343.36 L934.01 341.28 L936.2 339.21 L937.44 337.78 L938.07 337.13 L939.8 335.05 L941.41 332.97 L942.91 330.9 L944.25 328.82 L945.39 326.74 L946.47 324.67 L947.38 322.59 L947.51 322.24 L948.33 320.51 L949.35 318.44 L950.48 316.36 L951.56 314.28 L952.56 312.21 L953.28 310.13 L953.99 308.05 L954.67 305.97 L955.33 303.9 L955.8 301.82 L956.22 299.74 L956.54 297.67 L956.78 295.59 L957.08 293.51 L957.43 291.44 L957.58 290.51 L957.85 289.36 L958.15 287.28 L957.94 285.21 L957.72 283.13 L957.58 282.39 L957.4 281.05 L957.02 278.97 L956.66 276.9 L956.29 274.82 L955.92 272.74 L955.55 270.67 L955.01 268.59 L954.39 266.51 L953.75 264.44 L953.09 262.36 L952.4 260.28 L951.58 258.21 L950.72 256.13 L949.84 254.05 L948.92 251.98 L947.97 249.9 L947.51 248.91 L947.1 247.82 L946.29 245.74 L945.46 243.67 L944.64 241.59 L943.79 239.51 L942.9 237.44 L941.97 235.36 L941.12 233.28 L940.25 231.21 L939.35 229.13 L938.42 227.05 L937.44 224.98 L937.44 224.97 L936.62 222.9 L935.76 220.82 L934.88 218.74 L933.95 216.67 L932.99 214.59 L932.05 212.51 L931.12 210.44 L930.14 208.36 L929.13 206.28 L928.08 204.21 L927.38 202.86 L926.99 202.13 L925.75 200.05 L924.41 197.98 L922.99 195.9 L921.51 193.82 L919.94 191.75 L918.33 189.67 L917.31 188.36 L916.5 187.59 L914.25 185.51 L911.86 183.44 L909.34 181.36 L907.24 179.72 L906.25 179.28 L902.29 177.21 L898.37 175.13 L897.17 174.51 L893.96 173.05 L889.18 170.98 L887.11 170.1 L884.91 168.9 L880.97 166.82 L877.04 164.85 L876.5 164.75 L866.97 162.94 L856.9 163.57 L852.7 164.75 L846.84 166.46 L845.94 166.82 L841.02 168.9 L836.77 170.78 L836.41 170.98 L832.7 173.05 L829.16 175.13 L826.7 176.64 L826.05 177.21 L823.59 179.28 L820.72 181.36 L818 183.44 L816.63 184.53 L815.46 185.51 L813.08 187.59 L810.82 189.67 L808.6 191.75 L806.57 193.69 L806.41 193.82 L803.97 195.9 L801.66 197.98 L799.46 200.05 L797.44 202.13 L796.5 203.21 L794.92 204.21 L791.71 206.28 L788.64 208.36 L786.43 209.9 L776.36 208.98 L775.72 208.36 L773.51 206.28 L771.21 204.21 L768.81 202.13 L766.3 200.21 L766.17 200.05 L764.39 197.98 L762.51 195.9 L760.53 193.82 L758.45 191.75 L756.31 189.67 L756.23 189.59 L754.81 187.59 L753.25 185.51 L751.61 183.44 L749.87 181.36 L748.03 179.28 L746.45 177.21 L746.16 176.81 L745.25 175.13 L744.09 173.05 L742.86 170.98 L741.57 168.9 L740.22 166.82 L738.79 164.75 L737.27 162.67 L736.09 161.13 L735.81 160.59 L734.67 158.51 L733.46 156.44 L732.18 154.36 L730.81 152.28 L729.35 150.21 L727.83 148.13 L726.4 146.05 L726.03 145.54 L724.99 143.98 L723.53 141.9 L721.97 139.82 L720.3 137.75 L718.51 135.67 L716.59 133.59 L715.96 132.94 L707.54 131.52 L704.68 130.88M704.68 366.8 L713.33 366.2 L715.96 366.02 L720.15 364.13 L724.05 362.05 L726.03 360.86 L727.54 359.97 L730.75 357.9 L733.54 355.82 L736 353.74 L736.09 353.67 L739.68 351.67 L743.29 349.59 L746.16 347.71 L746.56 347.51 L750.39 345.44 L753.6 343.36 L756.23 341.49 L756.63 341.28 L760.49 339.21 L763.64 337.13 L766.3 335.06 L766.32 335.05 L770.44 332.97 L774.29 330.9 L776.36 329.66 L786.43 329.08 L790.63 330.9 L795.98 332.97 L796.5 333.17 L799.29 335.05 L802.58 337.13 L806.46 339.21 L806.57 339.25 L810.49 341.28 L814.92 343.36 L816.63 344.11 L819.9 345.44 L825.88 347.51 L826.7 347.78 L835.11 349.59 L836.77 349.92 L846.84 351.51 L848.29 351.67 L856.9 352.67 L866.97 352.93 L877.04 352.15 L879.4 351.67 L887.11 350.17 L890.85 349.59 L897.17 348.55 L902.56 347.51 L907.24 346.54 L910.1 345.44 L914.76 343.36 L917.31 342.12 L918.57 341.28 L921.48 339.21 L923.84 337.13 L925.86 335.05 L927.38 333.38 L927.73 332.97 L929.49 330.9 L931.06 328.82 L932.39 326.74 L933.65 324.67 L934.71 322.59 L935.63 320.51 L936.57 318.44 L937.44 316.7 L937.64 316.36 L938.77 314.28 L939.82 312.21 L940.59 310.13 L941.33 308.05 L942.05 305.97 L942.75 303.9 L943.23 301.82 L943.68 299.74 L944.01 297.67 L944.27 295.59 L944.59 293.51 L944.95 291.44 L945.31 289.36 L945.53 287.28 L945.37 285.21 L945.22 283.13 L944.92 281.05 L944.53 278.97 L944.14 276.9 L943.76 274.82 L943.37 272.74 L942.97 270.67 L942.41 268.59 L941.76 266.51 L941.08 264.44 L940.39 262.36 L939.66 260.28 L938.79 258.21 L937.89 256.13 L937.44 255.12 L937.02 254.05 L936.17 251.98 L935.29 249.9 L934.39 247.82 L933.45 245.74 L932.47 243.67 L931.51 241.59 L930.51 239.51 L929.47 237.44 L928.39 235.36 L927.39 233.28 L927.38 233.24 L926.39 231.21 L925.34 229.13 L924.25 227.05 L923.12 224.98 L922.02 222.9 L920.89 220.82 L919.72 218.74 L918.49 216.67 L917.31 214.74 L917.19 214.59 L915.56 212.51 L913.94 210.44 L912.25 208.36 L910.5 206.28 L908.67 204.21 L907.24 202.64 L906.42 202.13 L902.68 200.05 L898.61 197.98 L897.17 197.27 L894.03 195.9 L889.04 193.82 L887.11 193.04 L884.63 191.75 L880.6 189.67 L877.04 187.86 L875.7 187.59 L866.97 185.9 L856.9 186.54 L853.24 187.59 L846.84 189.49 L846.41 189.67 L841.37 191.75 L836.77 193.69 L836.52 193.82 L832.64 195.9 L828.96 197.98 L826.7 199.3 L825.8 200.05 L823.48 202.13 L821.44 204.21 L819.47 206.28 L817.58 208.36 L816.63 209.44 L815.79 210.44 L814.08 212.51 L812.35 214.59 L810.6 216.67 L808.91 218.74 L807.28 220.82 L806.57 221.76 L805.56 222.9 L803.77 224.98 L801.92 227.05 L800.13 229.13 L798.42 231.21 L796.77 233.28 L796.5 233.63 L793.98 235.36 L790.68 237.44 L787.51 239.51 L786.43 240.25 L778.11 239.51 L776.36 239.36 L774.25 237.44 L771.88 235.36 L769.7 233.28 L767.49 231.21 L766.3 230.12 L765.62 229.13 L764.18 227.05 L762.67 224.98 L761.22 222.9 L759.72 220.82 L758.15 218.74 L756.53 216.67 L756.23 216.29 L755.28 214.59 L754.16 212.51 L753.04 210.44 L751.87 208.36 L750.67 206.28 L749.41 204.21 L748.09 202.13 L746.61 200.05 L746.16 199.47 L745.32 197.98 L744.1 195.9 L742.82 193.82 L741.48 191.75 L740.09 189.67 L738.68 187.59 L737.19 185.51 L736.09 184.05 L735.78 183.44 L734.67 181.36 L733.49 179.28 L732.49 177.21 L731.5 175.13 L730.46 173.05 L729.36 170.98 L728.21 168.9 L727.01 166.82 L726.03 165.21 L725.76 164.75 L724.55 162.67 L723.27 160.59 L721.91 158.51 L720.47 156.44 L718.93 154.36 L717.3 152.28 L715.96 150.67 L713.62 150.21 L704.68 148.44M704.68 361.44 L715.96 360.47 L716.89 359.97 L720.48 357.9 L723.61 355.82 L726.03 354.02 L726.41 353.74 L729.52 351.67 L732.53 349.59 L735.17 347.51 L736.09 346.71 L738.14 345.44 L741.02 343.36 L743.61 341.28 L745.96 339.21 L746.16 338.99 L748.55 337.13 L750.82 335.05 L752.93 332.97 L754.91 330.9 L756.23 329.35 L756.87 328.82 L759.07 326.74 L761.16 324.67 L762.9 322.59 L764.42 320.51 L765.97 318.44 L766.3 318.05 L768.61 316.36 L771.34 314.28 L773.85 312.21 L775.69 310.13 L776.36 309.35 L786.43 308.24 L788.68 310.13 L791.24 312.21 L794.74 314.28 L796.5 315.26 L797.58 316.36 L799.71 318.44 L801.62 320.51 L803.49 322.59 L805.64 324.67 L806.57 325.43 L807.95 326.74 L810.24 328.82 L812.93 330.9 L815.95 332.97 L816.63 333.43 L819.23 335.05 L822.77 337.13 L826.7 339.09 L827.03 339.21 L834.14 341.28 L836.77 342 L843.03 343.36 L846.84 344.14 L855.89 345.44 L856.9 345.57 L866.97 345.86 L871.81 345.44 L877.04 344.94 L883.31 343.36 L887.11 342.34 L892.1 341.28 L897.17 340.15 L900.84 339.21 L907.24 337.23 L907.43 337.13 L910.72 335.05 L913.79 332.97 L916.65 330.9 L917.31 330.37 L918.75 328.82 L920.41 326.74 L921.98 324.67 L923.29 322.59 L924.43 320.51 L925.6 318.44 L926.9 316.36 L927.38 315.57 L928.14 314.28 L929.29 312.21 L930.13 310.13 L930.94 308.05 L931.73 305.97 L932.5 303.9 L933.03 301.82 L933.52 299.74 L933.89 297.67 L934.16 295.59 L934.51 293.51 L934.91 291.44 L935.31 289.36 L935.54 287.28 L935.37 285.21 L935.2 283.13 L934.88 281.05 L934.45 278.97 L934.02 276.9 L933.6 274.82 L933.18 272.74 L932.74 270.67 L932.13 268.59 L931.41 266.51 L930.67 264.44 L929.91 262.36 L929.11 260.28 L928.16 258.21 L927.38 256.55 L927.18 256.13 L926.16 254.05 L925.1 251.98 L924.02 249.9 L922.89 247.82 L921.72 245.74 L920.51 243.67 L919.31 241.59 L918.07 239.51 L917.31 238.27 L916.62 237.44 L914.86 235.36 L913.24 233.28 L911.59 231.21 L909.88 229.13 L908.1 227.05 L907.24 226.08 L905.51 224.98 L902.4 222.9 L899.19 220.82 L897.17 219.56 L895.71 218.74 L891.86 216.67 L887.86 214.59 L887.11 214.19 L884.74 212.51 L881.83 210.44 L878.81 208.36 L877.04 207.18 L873.6 206.28 L866.97 204.59 L856.9 205.44 L854.67 206.28 L849.31 208.36 L846.84 209.35 L844.87 210.44 L841.23 212.51 L837.58 214.59 L836.77 215.03 L834.33 216.67 L831.33 218.74 L828.46 220.82 L826.7 222.13 L825.97 222.9 L824.05 224.98 L822.05 227.05 L820.14 229.13 L818.3 231.21 L816.63 233.15 L816.53 233.28 L814.82 235.36 L812.96 237.44 L811.17 239.51 L809.46 241.59 L807.82 243.67 L806.57 245.21 L806.07 245.74 L804.15 247.82 L802.3 249.9 L800.53 251.98 L798.8 254.05 L797.13 256.13 L796.5 256.94 L794.67 258.21 L791.78 260.28 L789.36 262.36 L787.04 264.44 L786.43 264.99 L781.78 264.44 L776.36 263.8 L775.2 262.36 L773.46 260.28 L771.38 258.21 L769.22 256.13 L766.98 254.05 L766.3 253.43 L765.3 251.98 L763.87 249.9 L762.37 247.82 L760.81 245.74 L759.2 243.67 L757.62 241.59 L756.23 239.83 L756.05 239.51 L754.89 237.44 L753.67 235.36 L752.55 233.28 L751.42 231.21 L750.24 229.13 L749.01 227.05 L747.73 224.98 L746.5 222.9 L746.16 222.34 L745.49 220.82 L744.54 218.74 L743.55 216.67 L742.52 214.59 L741.51 212.51 L740.51 210.44 L739.47 208.36 L738.39 206.28 L737.26 204.21 L736.09 202.13 L736.09 202.13 L735.2 200.05 L734.23 197.98 L733.22 195.9 L732.15 193.82 L731.02 191.75 L729.86 189.67 L728.68 187.59 L727.44 185.51 L726.13 183.44 L726.03 183.28 L724.87 181.36 L723.56 179.28 L722.43 177.21 L721.32 175.13 L720.16 173.05 L718.93 170.98 L717.65 168.9 L716.29 166.82 L715.96 166.32 L709.62 164.75 L704.68 163.57M704.68 356.08 L707.3 355.82 L715.96 354.92 L717.78 353.74 L721.11 351.67 L724.36 349.59 L726.03 348.4 L727.33 347.51 L730.08 345.44 L732.39 343.36 L734.47 341.28 L736.09 339.5 L736.48 339.21 L738.77 337.13 L740.72 335.05 L742.54 332.97 L744.23 330.9 L745.74 328.82 L746.16 328.16 L747.37 326.74 L749.07 324.67 L750.49 322.59 L751.73 320.51 L752.99 318.44 L754.4 316.36 L755.74 314.28 L756.23 313.48 L757.33 312.21 L758.66 310.13 L759.95 308.05 L761.2 305.97 L762.41 303.9 L763.26 301.82 L764.04 299.74 L764.62 297.67 L765.05 295.59 L765.61 293.51 L766.25 291.44 L766.3 291.27 L767.24 289.36 L767.87 287.28 L767.42 285.21 L766.98 283.13 L766.3 281.47 L766.19 281.05 L765.51 278.97 L764.84 276.9 L764.17 274.82 L763.49 272.74 L762.8 270.67 L761.83 268.59 L760.69 266.51 L759.52 264.44 L758.31 262.36 L757.05 260.28 L756.23 259.14 L755.76 258.21 L754.7 256.13 L753.6 254.05 L752.45 251.98 L751.28 249.9 L750.06 247.82 L748.79 245.74 L747.48 243.67 L746.18 241.59 L746.16 241.55 L745.22 239.51 L744.21 237.44 L743.17 235.36 L742.21 233.28 L741.24 231.21 L740.22 229.13 L739.17 227.05 L738.07 224.98 L737.01 222.9 L736.09 221.16 L735.97 220.82 L735.21 218.74 L734.42 216.67 L733.59 214.59 L732.78 212.51 L731.98 210.44 L731.15 208.36 L730.28 206.28 L729.37 204.21 L728.43 202.13 L727.37 200.05 L726.2 197.98 L726.03 197.67 L725.09 195.9 L723.94 193.82 L722.73 191.75 L721.48 189.67 L720.22 187.59 L718.88 185.51 L717.47 183.44 L715.98 181.36 L715.96 181.33 L706.91 179.28 L704.68 178.69M852.78 337.13 L856.9 337.9 L866.97 338.32 L876.37 337.13 L877.04 337.03 L882.44 335.05 L887.11 333.22 L887.92 332.97 L894.52 330.9 L897.17 329.98 L900.09 328.82 L904.6 326.74 L907.24 325.48 L908.18 324.67 L910.24 322.59 L912.04 320.51 L913.87 318.44 L915.91 316.36 L917.31 314.88 L917.73 314.28 L919.1 312.21 L920.1 310.13 L921.07 308.05 L922.01 305.97 L922.92 303.9 L923.56 301.82 L924.15 299.74 L924.58 297.67 L924.91 295.59 L925.33 293.51 L925.81 291.44 L926.28 289.36 L926.56 287.28 L926.36 285.21 L926.15 283.13 L925.77 281.05 L925.25 278.97 L924.75 276.9 L924.25 274.82 L923.74 272.74 L923.22 270.67 L922.48 268.59 L921.63 266.51 L920.74 264.44 L919.83 262.36 L918.89 260.28 L917.75 258.21 L917.31 257.42 L916.35 256.13 L914.75 254.05 L913.09 251.98 L911.38 249.9 L909.62 247.82 L907.77 245.74 L907.24 245.15 L904.87 243.67 L901.62 241.59 L898.24 239.51 L897.17 238.88 L894.45 237.44 L890.39 235.36 L887.11 233.53 L886.77 233.28 L883.93 231.21 L880.98 229.13 L877.92 227.05 L877.04 226.47 L871.27 224.98 L866.97 223.81 L856.9 224.72 L856.26 224.98 L850.82 227.05 L846.84 228.63 L845.93 229.13 L842.24 231.21 L838.7 233.28 L836.77 234.42 L835.47 235.36 L832.31 237.44 L829.28 239.51 L826.7 241.35 L826.46 241.59 L824.45 243.67 L822.4 245.74 L820.42 247.82 L818.52 249.9 L816.69 251.98 L816.63 252.04 L814.93 254.05 L813.24 256.13 L811.62 258.21 L810.05 260.28 L808.74 262.36 L807.49 264.44 L806.57 266 L806.21 266.51 L804.81 268.59 L803.61 270.67 L802.76 272.74 L801.93 274.82 L801.11 276.9 L800.28 278.97 L799.43 281.05 L798.8 283.13 L798.47 285.21 L798.14 287.28 L798.6 289.36 L799.37 291.44 L800.15 293.51 L800.84 295.59 L801.38 297.67 L802.08 299.74 L803.05 301.82 L804.09 303.9 L805.58 305.97 L806.57 307.31 L807.03 308.05 L808.38 310.13 L809.76 312.21 L811.65 314.28 L813.71 316.36 L815.86 318.44 L816.63 319.28 L817.81 320.51 L819.74 322.59 L821.96 324.67 L824.61 326.74 L826.7 328.31 L827.68 328.82 L832.26 330.9 L836.77 332.73 L837.51 332.97 L844.11 335.05 L846.84 335.87ZM704.68 351.17 L715.96 350.11 L716.86 349.59 L720.17 347.51 L723.04 345.44 L725.45 343.36 L726.03 342.83 L727.81 341.28 L730.01 339.21 L731.8 337.13 L733.32 335.05 L734.74 332.97 L736.06 330.9 L736.09 330.84 L737.81 328.82 L739.3 326.74 L740.72 324.67 L741.91 322.59 L742.94 320.51 L744 318.44 L745.17 316.36 L746.16 314.53 L746.34 314.28 L747.79 312.21 L748.84 310.13 L749.87 308.05 L750.86 305.97 L751.82 303.9 L752.49 301.82 L753.11 299.74 L753.56 297.67 L753.91 295.59 L754.35 293.51 L754.85 291.44 L755.35 289.36 L755.65 287.28 L755.43 285.21 L755.22 283.13 L754.81 281.05 L754.27 278.97 L753.74 276.9 L753.21 274.82 L752.67 272.74 L752.13 270.67 L751.36 268.59 L750.45 266.51 L749.52 264.44 L748.57 262.36 L747.57 260.28 L746.37 258.21 L746.16 257.85 L745.42 256.13 L744.5 254.05 L743.55 251.98 L742.57 249.9 L741.55 247.82 L740.49 245.74 L739.39 243.67 L738.31 241.59 L737.19 239.51 L736.09 237.56 L736.05 237.44 L735.23 235.36 L734.48 233.28 L733.72 231.21 L732.93 229.13 L732.11 227.05 L731.25 224.98 L730.43 222.9 L729.57 220.82 L728.68 218.74 L727.76 216.67 L726.79 214.59 L726.03 212.89 L725.87 212.51 L725.03 210.44 L724.16 208.36 L723.25 206.28 L722.31 204.21 L721.32 202.13 L720.21 200.05 L718.99 197.98 L717.72 195.9 L716.38 193.82 L715.96 193.2 L710.16 191.75 L704.68 190.39M859.78 328.82 L866.97 329.22 L869.37 328.82 L877.04 327.37 L878.32 326.74 L882.44 324.67 L885.89 322.59 L887.11 321.76 L889.5 320.51 L893.6 318.44 L897.17 316.82 L898.08 316.36 L902.02 314.28 L905.65 312.21 L907.24 310.97 L907.86 310.13 L909.34 308.05 L910.78 305.97 L912.17 303.9 L913.14 301.82 L914.04 299.74 L914.7 297.67 L915.2 295.59 L915.84 293.51 L916.57 291.44 L917.29 289.36 L917.31 289.25 L917.62 287.28 L917.39 285.21 L917.31 284.51 L917.1 283.13 L916.51 281.05 L915.72 278.97 L914.95 276.9 L914.19 274.82 L913.41 272.74 L912.62 270.67 L911.5 268.59 L910.19 266.51 L908.84 264.44 L907.45 262.36 L907.24 262.05 L905.09 260.28 L902.09 258.21 L898.97 256.13 L897.17 254.97 L895.57 254.05 L891.85 251.98 L888.04 249.9 L887.11 249.4 L884.84 247.82 L881.76 245.74 L878.58 243.67 L877.04 242.64 L873.05 241.59 L866.97 240.03 L856.9 240.89 L855.05 241.59 L849.7 243.67 L846.84 244.76 L844.96 245.74 L841.11 247.82 L837.41 249.9 L836.77 250.27 L834.34 251.98 L831.44 254.05 L828.65 256.13 L826.7 257.63 L826.17 258.21 L824.31 260.28 L822.75 262.36 L821.25 264.44 L819.8 266.51 L818.39 268.59 L817.19 270.67 L816.63 272.02 L816.34 272.74 L815.52 274.82 L814.72 276.9 L813.9 278.97 L813.07 281.05 L812.45 283.13 L812.12 285.21 L811.8 287.28 L812.25 289.36 L813.01 291.44 L813.77 293.51 L814.45 295.59 L814.98 297.67 L815.68 299.74 L816.62 301.82 L816.63 301.84 L817.67 303.9 L819.17 305.97 L820.72 308.05 L822.31 310.13 L823.96 312.21 L826.21 314.28 L826.7 314.71 L829.41 316.36 L832.97 318.44 L836.16 320.51 L836.77 320.92 L839.79 322.59 L844.11 324.67 L846.84 325.78 L850.14 326.74 L856.9 328.64ZM704.68 346.98 L715.96 345.75 L716.43 345.44 L719.19 343.36 L721.67 341.28 L723.92 339.21 L725.75 337.13 L726.03 336.77 L727.46 335.05 L729.07 332.97 L730.58 330.9 L731.93 328.82 L733.08 326.74 L734.16 324.67 L735.07 322.59 L735.86 320.51 L736.09 319.91 L736.94 318.44 L738.29 316.36 L739.57 314.28 L740.75 312.21 L741.61 310.13 L742.45 308.05 L743.26 305.97 L744.04 303.9 L744.59 301.82 L745.1 299.74 L745.47 297.67 L745.76 295.59 L746.12 293.51 L746.16 293.3 L746.67 291.44 L747.24 289.36 L747.58 287.28 L747.34 285.21 L747.09 283.13 L746.63 281.05 L746.16 279.49 L746.05 278.97 L745.61 276.9 L745.18 274.82 L744.74 272.74 L744.3 270.67 L743.67 268.59 L742.93 266.51 L742.17 264.44 L741.38 262.36 L740.57 260.28 L739.59 258.21 L738.58 256.13 L737.52 254.05 L736.43 251.98 L736.09 251.34 L735.57 249.9 L734.79 247.82 L733.98 245.74 L733.14 243.67 L732.32 241.59 L731.46 239.51 L730.57 237.44 L729.64 235.36 L728.78 233.28 L727.91 231.21 L727.01 229.13 L726.07 227.05 L726.03 226.96 L725.19 224.98 L724.34 222.9 L723.47 220.82 L722.56 218.74 L721.61 216.67 L720.62 214.59 L719.66 212.51 L718.7 210.44 L717.7 208.36 L716.67 206.28 L715.96 204.91 L713.8 204.21 L707.25 202.13 L704.68 201.4M855.18 316.36 L856.9 316.91 L866.97 317.62 L872.86 316.36 L877.04 315.44 L879.09 314.28 L882.52 312.21 L885.03 310.13 L887.11 308.36 L887.58 308.05 L890.73 305.97 L893.79 303.9 L895.93 301.82 L897.17 300.52 L897.83 299.74 L899.14 297.67 L900.14 295.59 L901.41 293.51 L902.85 291.44 L904.27 289.36 L905.13 287.28 L904.52 285.21 L903.9 283.13 L902.73 281.05 L901.17 278.97 L899.64 276.9 L898.12 274.82 L897.17 273.54 L896.51 272.74 L894.78 270.67 L892.32 268.59 L889.45 266.51 L887.11 264.87 L886.64 264.44 L884.37 262.36 L881.99 260.28 L879.15 258.21 L877.04 256.71 L874.95 256.13 L867.29 254.05 L866.97 253.97 L866.01 254.05 L856.9 254.87 L853.75 256.13 L848.73 258.21 L846.84 259.01 L844.67 260.28 L841.7 262.36 L838.85 264.44 L836.77 266 L836.2 266.51 L833.97 268.59 L832.06 270.67 L830.71 272.74 L829.38 274.82 L828.07 276.9 L826.76 278.97 L826.7 279.06 L825.77 281.05 L825.05 283.13 L824.66 285.21 L824.28 287.28 L824.82 289.36 L825.7 291.44 L826.59 293.51 L826.7 293.81 L827.64 295.59 L828.5 297.67 L829.63 299.74 L831.16 301.82 L832.83 303.9 L835.2 305.97 L836.77 307.31 L837.83 308.05 L840.87 310.13 L844.01 312.21 L846.84 313.58 L848.83 314.28ZM704.68 342.56 L714.51 341.28 L715.96 341.09 L718.24 339.21 L720.3 337.13 L722.05 335.05 L723.68 332.97 L725.21 330.9 L726.03 329.66 L726.63 328.82 L727.91 326.74 L729.13 324.67 L730.15 322.59 L731.04 320.51 L731.95 318.44 L732.96 316.36 L733.92 314.28 L734.81 312.21 L735.46 310.13 L736.09 308.05 L736.09 308.04 L737 305.97 L737.88 303.9 L738.5 301.82 L739.07 299.74 L739.49 297.67 L739.81 295.59 L740.21 293.51 L740.67 291.44 L741.13 289.36 L741.4 287.28 L741.21 285.21 L741.01 283.13 L740.64 281.05 L740.14 278.97 L739.65 276.9 L739.16 274.82 L738.67 272.74 L738.16 270.67 L737.46 268.59 L736.62 266.51 L736.09 265.21 L735.88 264.44 L735.29 262.36 L734.67 260.28 L733.94 258.21 L733.17 256.13 L732.38 254.05 L731.56 251.98 L730.72 249.9 L729.84 247.82 L728.93 245.74 L727.99 243.67 L727.06 241.59 L726.1 239.51 L726.03 239.36 L725.19 237.44 L724.25 235.36 L723.39 233.28 L722.51 231.21 L721.6 229.13 L720.66 227.05 L719.67 224.98 L718.72 222.9 L717.73 220.82 L716.71 218.74 L715.96 217.27 L714.12 216.67 L707.66 214.59 L704.68 213.6M858.21 303.9 L866.97 304.85 L869.89 303.9 L874.39 301.82 L877.04 300.5 L877.63 299.74 L878.85 297.67 L879.78 295.59 L880.96 293.51 L882.3 291.44 L883.62 289.36 L884.42 287.28 L883.85 285.21 L883.28 283.13 L882.19 281.05 L880.73 278.97 L879.31 276.9 L877.9 274.82 L877.04 273.56 L875.61 272.74 L871.96 270.67 L866.97 268.66 L856.9 270 L855.79 270.67 L853.3 272.74 L850.85 274.82 L848.45 276.9 L846.84 278.28 L846.24 278.97 L844.42 281.05 L843.06 283.13 L842.34 285.21 L841.63 287.28 L842.63 289.36 L844.28 291.44 L845.96 293.51 L846.84 294.75 L847.66 295.59 L849.24 297.67 L851.31 299.74 L854.13 301.82 L856.9 303.7ZM704.68 337.9 L709.52 337.13 L715.96 335.97 L716.8 335.05 L718.61 332.97 L720.3 330.9 L721.81 328.82 L723.09 326.74 L724.3 324.67 L725.32 322.59 L726.03 320.94 L726.22 320.51 L727.23 318.44 L728.35 316.36 L729.42 314.28 L730.41 312.21 L731.13 310.13 L731.83 308.05 L732.51 305.97 L733.17 303.9 L733.63 301.82 L734.05 299.74 L734.36 297.67 L734.6 295.59 L734.9 293.51 L735.24 291.44 L735.58 289.36 L735.78 287.28 L735.64 285.21 L735.49 283.13 L735.21 281.05 L734.84 278.97 L734.48 276.9 L734.12 274.82 L733.75 272.74 L733.38 270.67 L732.85 268.59 L732.23 266.51 L731.6 264.44 L730.94 262.36 L730.26 260.28 L729.44 258.21 L728.59 256.13 L727.71 254.05 L726.8 251.98 L726.03 250.25 L725.88 249.9 L725.01 247.82 L724.1 245.74 L723.17 243.67 L722.24 241.59 L721.28 239.51 L720.28 237.44 L719.24 235.36 L718.29 233.28 L717.31 231.21 L716.3 229.13 L715.96 228.45 L711.82 227.05 L705.44 224.98 L704.68 224.72M704.68 332.45 L712.7 330.9 L715.96 330.21 L717.06 328.82 L718.47 326.74 L719.8 324.67 L720.92 322.59 L721.89 320.51 L722.88 318.44 L723.99 316.36 L725.04 314.28 L726.02 312.21 L726.03 312.18 L726.81 310.13 L727.58 308.05 L728.32 305.97 L729.04 303.9 L729.55 301.82 L730.01 299.74 L730.36 297.67 L730.62 295.59 L730.95 293.51 L731.33 291.44 L731.7 289.36 L731.92 287.28 L731.76 285.21 L731.6 283.13 L731.3 281.05 L730.89 278.97 L730.49 276.9 L730.09 274.82 L729.69 272.74 L729.28 270.67 L728.7 268.59 L728.02 266.51 L727.32 264.44 L726.6 262.36 L726.03 260.77 L725.87 260.28 L725.06 258.21 L724.23 256.13 L723.36 254.05 L722.46 251.98 L721.54 249.9 L720.58 247.82 L719.58 245.74 L718.55 243.67 L717.54 241.59 L716.48 239.51 L715.96 238.52 L712.59 237.44 L705.92 235.36 L704.68 234.94M704.68 326.49 L712.12 324.67 L715.96 323.55 L716.52 322.59 L717.58 320.51 L718.66 318.44 L719.87 316.36 L721.02 314.28 L722.08 312.21 L722.85 310.13 L723.6 308.05 L724.33 305.97 L725.04 303.9 L725.53 301.82 L725.99 299.74 L726.03 299.5 L726.35 297.67 L726.64 295.59 L727 293.51 L727.41 291.44 L727.82 289.36 L728.06 287.28 L727.89 285.21 L727.71 283.13 L727.38 281.05 L726.93 278.97 L726.5 276.9 L726.06 274.82 L726.03 274.64 L725.67 272.74 L725.26 270.67 L724.7 268.59 L724.03 266.51 L723.35 264.44 L722.65 262.36 L721.91 260.28 L721.04 258.21 L720.12 256.13 L719.18 254.05 L718.2 251.98 L717.19 249.9 L716.15 247.82 L715.96 247.46 L710.71 245.74 L704.68 243.83M704.68 319.18 L707.1 318.44 L714.71 316.36 L715.96 316.01 L716.99 314.28 L718.14 312.21 L718.98 310.13 L719.79 308.05 L720.58 305.97 L721.34 303.9 L721.88 301.82 L722.37 299.74 L722.73 297.67 L723.01 295.59 L723.36 293.51 L723.76 291.44 L724.15 289.36 L724.39 287.28 L724.22 285.21 L724.05 283.13 L723.73 281.05 L723.3 278.97 L722.87 276.9 L722.45 274.82 L722.03 272.74 L721.59 270.67 L720.98 268.59 L720.26 266.51 L719.52 264.44 L718.76 262.36 L717.96 260.28 L717.01 258.21 L716.02 256.13 L715.96 255.99 L710.37 254.05 L704.68 252.14M704.68 312.51 L705.72 312.21 L711 310.13 L715.96 308.11 L715.98 308.05 L716.83 305.97 L717.65 303.9 L718.23 301.82 L718.76 299.74 L719.15 297.67 L719.45 295.59 L719.83 293.51 L720.26 291.44 L720.68 289.36 L720.94 287.28 L720.75 285.21 L720.57 283.13 L720.22 281.05 L719.75 278.97 L719.3 276.9 L718.85 274.82 L718.39 272.74 L717.92 270.67 L717.26 268.59 L716.48 266.51 L715.96 265.13 L714.38 264.44 L709.6 262.36 L704.68 260.31M704.68 303.7 L707.93 301.82 L711.24 299.74 L713.67 297.67 L715.53 295.59 L715.96 295.22 L716.29 293.51 L716.75 291.44 L717.2 289.36 L717.48 287.28 L717.28 285.21 L717.09 283.13 L716.71 281.05 L716.21 278.97 L715.96 277.88 L714.6 276.9 L711.78 274.82 L708.91 272.74 L705.99 270.67 L704.68 270"/>
</g>
<path class="ax" d="M726.03 462.05v-5.2M726.03 35v5.2M826.7 462.05v-5.2M826.7 35v5.2M927.38 462.05v-5.2M927.38 35v5.2M1028.05 462.05v-5.2M1028.05 35v5.2M1128.73 462.05v-5.2M1128.73 35v5.2M706.2 448.45h5.2M1229.4 448.45h-5.2M706.2 379.22h5.2M1229.4 379.22h-5.2M706.2 309.99h5.2M1229.4 309.99h-5.2M706.2 240.76h5.2M1229.4 240.76h-5.2M706.2 171.53h5.2M1229.4 171.53h-5.2M706.2 102.3h5.2M1229.4 102.3h-5.2"/>
<rect class="ax" x="706.2" y="35" width="523.2" height="427.05"/>
<text class="t" transform="translate(727.03 493.95) scale(1 1.04)" text-anchor="middle">250</text>
<text class="t" transform="translate(827.7 493.95) scale(1 1.04)" text-anchor="middle">300</text>
<text class="t" transform="translate(928.38 493.95) scale(1 1.04)" text-anchor="middle">350</text>
<text class="t" transform="translate(1029.05 493.95) scale(1 1.04)" text-anchor="middle">400</text>
<text class="t" transform="translate(1129.73 493.95) scale(1 1.04)" text-anchor="middle">450</text>
<text class="t" transform="translate(1230.4 493.95) scale(1 1.04)" text-anchor="middle">500</text>
<text class="h" x="967.8" y="24.1" text-anchor="middle">Comp.2</text>
<text class="l" x="967.8" y="528.6" text-anchor="middle">Ex. (nm)</text>
</g>
<g id="load2">
<clipPath id="cq1"><rect x="704.15" y="592.15" width="527.3" height="431.8"/></clipPath>
<path class="gr" d="M719.97 594.2V1021.9M793 594.2V1021.9M866.02 594.2V1021.9M939.05 594.2V1021.9M1012.07 594.2V1021.9M1085.1 594.2V1021.9M1158.12 594.2V1021.9M706.2 968.44H1229.4M706.2 914.98H1229.4M706.2 861.51H1229.4M706.2 808.05H1229.4M706.2 754.59H1229.4M706.2 701.12H1229.4M706.2 647.66H1229.4"/>
<path class="ax" d="M719.97 1021.9v-5.2M719.97 594.2v5.2M793 1021.9v-5.2M793 594.2v5.2M866.02 1021.9v-5.2M866.02 594.2v5.2M939.05 1021.9v-5.2M939.05 594.2v5.2M1012.07 1021.9v-5.2M1012.07 594.2v5.2M1085.1 1021.9v-5.2M1085.1 594.2v5.2M1158.12 1021.9v-5.2M1158.12 594.2v5.2M706.2 968.44h5.2M1229.4 968.44h-5.2M706.2 914.98h5.2M1229.4 914.98h-5.2M706.2 861.51h5.2M1229.4 861.51h-5.2M706.2 808.05h5.2M1229.4 808.05h-5.2M706.2 754.59h5.2M1229.4 754.59h-5.2M706.2 701.12h5.2M1229.4 701.12h-5.2M706.2 647.66h5.2M1229.4 647.66h-5.2"/>
<rect class="ax" x="706.2" y="594.2" width="523.2" height="427.7"/>
<g clip-path="url(#cq1)">
<path class="em" stroke="#0072bd" d="M778.97 1022.09 L781.16 1021.69 L783.36 1021.29 L785.55 1021.13 L787.74 1021.13 L789.93 1021.13 L792.12 1021.13 L794.31 1021.13 L796.5 1021.13 L798.69 1021.13 L800.88 1021.13 L803.07 1021.13 L805.26 1020.01 L807.45 1018.81 L809.64 1017.67 L811.84 1016.7 L814.03 1015.74 L816.22 1014.78 L818.41 1011.22 L820.6 1007.48 L822.79 1003.64 L824.98 1000.99 L827.17 1001.63 L829.36 1004.19 L831.55 1008.04 L833.74 1013.09 L835.93 1017.57 L838.12 1020.24 L840.32 1022.2 L842.51 1022.2 L844.7 1022.2 L846.89 1022.2 L849.08 1022.2 L851.27 1022.2 L853.46 1022.2 L855.65 1022.2 L857.84 1022.2 L860.03 1020.92 L862.22 1018.78 L864.41 1016 L866.6 1012.79 L868.79 1006.01 L870.99 996.84 L873.18 988.09 L875.37 980.47 L877.56 972.85 L879.75 966.6 L881.94 961.25 L884.13 955.91 L886.32 949.34 L888.51 941.96 L890.7 935.86 L892.89 929.84 L895.08 923.86 L897.27 917.98 L899.47 912.1 L901.66 905.92 L903.85 898.9 L906.04 891.89 L908.23 885.39 L910.42 879.23 L912.61 873.08 L914.8 867.33 L916.99 861.74 L919.18 856.14 L921.37 851.59 L923.56 847.2 L925.75 842.88 L927.95 839.65 L930.14 836.41 L932.33 833.18 L934.52 830.18 L936.71 827.85 L938.9 825.52 L941.09 823.18 L943.28 821.49 L945.47 820.23 L947.66 818.97 L949.85 817.71 L952.04 816.45 L954.23 815.87 L956.42 815.34 L958.62 814.8 L960.81 814.27 L963 814.38 L965.19 814.54 L967.38 814.7 L969.57 815.34 L971.76 816.31 L973.95 817.27 L976.14 818.66 L978.33 821.22 L980.52 823.79 L982.71 826.36 L984.9 829.52 L987.1 832.73 L989.29 835.94 L991.48 838.95 L993.67 841.84 L995.86 844.73 L998.05 847.53 L1000.24 850.09 L1002.43 852.66 L1004.62 855.23 L1006.81 858.39 L1009 861.6 L1011.19 864.81 L1013.38 867.63 L1015.58 870.2 L1017.77 872.76 L1019.96 875.33 L1022.15 877.89 L1024.34 880.46 L1026.53 883.03 L1028.72 885.74 L1030.91 888.47 L1033.1 891.2 L1035.29 893.92 L1037.48 896.65 L1039.67 899.38 L1041.86 902.06 L1044.05 904.63 L1046.25 907.19 L1048.44 909.76 L1050.63 912.32 L1052.82 914.89 L1055.01 917.46 L1057.2 920.21 L1059.39 923.1 L1061.58 925.99 L1063.77 928.88 L1065.96 931.76 L1068.15 934.65 L1070.34 937.54 L1072.53 940.08 L1074.73 942.6 L1076.92 945.12 L1079.11 947.64 L1081.3 949.49 L1083.49 949.49 L1085.68 950.26 L1087.87 953.15 L1090.06 956.03 L1092.25 958.92 L1094.44 961.81 L1096.63 964.7 L1098.82 967.58 L1101.01 969.41 L1103.21 970.53 L1105.4 971.66 L1107.59 972.78 L1109.78 973.9 L1111.97 975.02 L1114.16 976.15 L1116.35 977.42 L1118.54 978.7 L1120.73 979.99 L1122.92 981.27 L1125.11 982.55 L1127.3 983.84 L1129.49 985.14 L1131.68 986.52 L1133.88 987.89 L1136.07 989.27 L1138.26 990.64 L1140.45 990.87 L1142.64 990.34 L1144.83 990.41 L1147.02 990.89 L1149.21 991.37 L1151.4 991.85 L1153.59 992.34 L1155.78 992.82 L1157.97 993.3 L1160.16 994.08 L1162.36 994.88 L1164.55 995.68 L1166.74 996.48 L1168.93 997.29 L1171.12 998.09 L1173.31 998.91 L1175.5 999.79 L1177.69 1000.68 L1179.88 1001.56 L1182.07 1002.44 L1184.26 1003.32 L1186.45 1004.2 L1188.64 1004.75 L1190.84 1005.07 L1193.03 1005.39 L1195.22 1005.71 L1197.41 1006.03 L1199.6 1006.35 L1201.79 1006.67 L1203.98 1007.14 L1206.17 1007.63 L1208.36 1008.11 L1210.55 1008.59 L1212.74 1009.07 L1214.93 1009.55 L1217.12 1010.06 L1219.31 1010.67 L1221.51 1011.27 L1223.7 1011.32 L1225.89 1010.99 L1229.39 1010.48"/>
<path class="ex" stroke="#0072bd" stroke-dashoffset="5.39" d="M705.37 637.27 L712.67 644.75 L719.97 703.56 L727.27 767.18 L734.58 816.9 L741.88 854.33 L749.18 878.92 L756.48 888.01 L763.79 889.08 L771.09 881.06 L778.39 869.3 L785.69 846.84 L793 825.46 L800.3 811.02 L807.6 800.87 L814.9 794.45 L822.21 795.52 L829.51 799.8 L836.81 805.14 L844.11 814.77 L851.41 829.74 L858.72 847.91 L866.02 871.44 L873.32 901.37 L880.62 925.43 L887.93 945.64 L895.23 958.04 L902.53 971.95 L909.84 985.85 L917.14 997.93 L924.44 1009.9 L931.74 1021.13 L939.05 1022.2 L946.35 1022.2 L953.65 1022.2 L960.95 1022.2 L968.25 1022.2 L975.56 1022.2 L982.86 1022.2 L990.16 1022.2 L997.47 1022.2 L1004.77 1022.2 L1012.07 1022.2 L1019.37 1022.2 L1026.67 1022.2 L1033.98 1022.2 L1041.28 1022.2 L1048.58 1022.2 L1055.88 1022.2 L1063.19 1022.2 L1070.49 1022.2 L1077.79 1022.2 L1085.1 1022.2"/>
<path class="em" stroke="#d95319" d="M778.97 1022.2 L781.16 1022.2 L783.36 1022.2 L785.55 1022.04 L787.74 1021.77 L789.93 1021.5 L792.12 1021.24 L794.31 1021.13 L796.5 1021.13 L798.69 1021.13 L800.88 1021.13 L803.07 1021.13 L805.26 1020.76 L807.45 1020.36 L809.64 1019.46 L811.84 1017.22 L814.03 1014.97 L816.22 1012.73 L818.41 1008.58 L820.6 1004.31 L822.79 1001.03 L824.98 1001.67 L827.17 1004.88 L829.36 1009.08 L831.55 1013.36 L833.74 1017.64 L835.93 1019.92 L838.12 1022.06 L840.32 1022.2 L842.51 1022.2 L844.7 1022.2 L846.89 1022.2 L849.08 1022.2 L851.27 1022.2 L853.46 1022.2 L855.65 1022.2 L857.84 1022.2 L860.03 1022.2 L862.22 1020.7 L864.41 1019.1 L866.6 1016.5 L868.79 1013.82 L870.99 1006.8 L873.18 999.47 L875.37 991.83 L877.56 983.99 L879.75 976.15 L881.94 969.59 L884.13 963.89 L886.32 958.19 L888.51 951.67 L890.7 944.62 L892.89 938.53 L895.08 932.52 L897.27 926.62 L899.47 921.04 L901.66 915.46 L903.85 909.63 L906.04 902.82 L908.23 896 L910.42 889.52 L912.61 883.32 L914.8 877.12 L916.99 871.29 L919.18 865.69 L921.37 860.1 L923.56 855.52 L925.75 851.32 L927.95 847.12 L930.14 843.85 L932.33 840.64 L934.52 837.43 L936.71 834.38 L938.9 831.76 L941.09 829.13 L943.28 826.51 L945.47 824.63 L947.66 823.26 L949.85 822.04 L952.04 821.23 L954.23 820.38 L956.42 819.38 L958.62 818.37 L960.81 817.81 L963 817.55 L965.19 817.28 L967.38 817.01 L969.57 817.29 L971.76 817.93 L973.95 818.57 L976.14 819.38 L978.33 820.67 L980.52 821.95 L982.71 823.23 L984.9 826.01 L987.1 828.9 L989.29 831.79 L991.48 834.58 L993.67 837.31 L995.86 840.03 L998.05 842.76 L1000.24 845.49 L1002.43 848.21 L1004.62 850.94 L1006.81 853.81 L1009 856.7 L1011.19 859.59 L1013.38 862.38 L1015.58 865.11 L1017.77 867.83 L1019.96 870.56 L1022.15 873.29 L1024.34 876.01 L1026.53 878.74 L1028.72 881.47 L1030.91 884.19 L1033.1 886.92 L1035.29 889.65 L1037.48 892.37 L1039.67 895.1 L1041.86 897.78 L1044.05 900.35 L1046.25 902.91 L1048.44 905.48 L1050.63 908.05 L1052.82 910.61 L1055.01 913.18 L1057.2 915.94 L1059.39 918.82 L1061.58 921.71 L1063.77 924.6 L1065.96 927.49 L1068.15 930.37 L1070.34 933.26 L1072.53 935.8 L1074.73 938.32 L1076.92 940.85 L1079.11 943.37 L1081.3 945.4 L1083.49 946.09 L1085.68 947.13 L1087.87 949.11 L1090.06 951.63 L1092.25 955.64 L1094.44 959.65 L1096.63 963.66 L1098.82 964.45 L1101.01 965.59 L1103.21 967.11 L1105.4 968.64 L1107.59 969.98 L1109.78 971.32 L1111.97 972.66 L1114.16 973.99 L1116.35 975.28 L1118.54 976.56 L1120.73 977.85 L1122.92 979.13 L1125.11 980.41 L1127.3 981.7 L1129.49 982.96 L1131.68 984.16 L1133.88 985.36 L1136.07 986.57 L1138.26 987.77 L1140.45 988.97 L1142.64 987.81 L1144.83 986.47 L1147.02 987.08 L1149.21 987.83 L1151.4 988.58 L1153.59 989.32 L1155.78 990.07 L1157.97 990.82 L1160.16 991.71 L1162.36 992.61 L1164.55 993.51 L1166.74 994.4 L1168.93 995.3 L1171.12 996.2 L1173.31 997.1 L1175.5 998.02 L1177.69 998.93 L1179.88 999.85 L1182.07 1000.76 L1184.26 1001.67 L1186.45 1002.59 L1188.64 1003.15 L1190.84 1003.47 L1193.03 1003.79 L1195.22 1004.11 L1197.41 1004.43 L1199.6 1004.75 L1201.79 1005.07 L1203.98 1005.63 L1206.17 1006.21 L1208.36 1006.79 L1210.55 1007.36 L1212.74 1007.94 L1214.93 1008.52 L1217.12 1008.88 L1219.31 1008.64 L1221.51 1008.4 L1223.7 1008.78 L1225.89 1009.58 L1229.39 1010.87"/>
<path class="ex" stroke="#d95319" stroke-dashoffset="7.36" d="M705.37 649.57 L712.67 651.17 L719.97 703.56 L727.27 767.18 L734.58 819.04 L741.88 858.6 L749.18 886.41 L756.48 900.31 L763.79 904.58 L771.09 896.03 L778.39 879.99 L785.69 856.47 L793 831.87 L800.3 813.7 L807.6 798.73 L814.9 791.24 L822.21 789.1 L829.51 791.24 L836.81 796.59 L844.11 807.28 L851.41 816.9 L858.72 837.22 L866.02 861.28 L873.32 891.22 L880.62 918.48 L887.93 939.87 L895.23 953.77 L902.53 968.74 L909.84 982.64 L917.14 995.47 L924.44 1008.3 L931.74 1020.06 L939.05 1022.2 L946.35 1022.2 L953.65 1022.2 L960.95 1022.2 L968.25 1022.2 L975.56 1022.2 L982.86 1022.2 L990.16 1022.2 L997.47 1022.2 L1004.77 1022.2 L1012.07 1022.2 L1019.37 1022.2 L1026.67 1022.2 L1033.98 1022.2 L1041.28 1022.2 L1048.58 1022.2 L1055.88 1022.2 L1063.19 1022.2 L1070.49 1022.2 L1077.79 1022.2 L1085.1 1022.2"/>
<path class="em" stroke="#edb120" d="M778.97 1022.09 L781.16 1021.69 L783.36 1021.29 L785.55 1020.65 L787.74 1020.17 L789.93 1020.57 L792.12 1020.97 L794.31 1021.13 L796.5 1021.13 L798.69 1021.13 L800.88 1021.13 L803.07 1021.13 L805.26 1018.22 L807.45 1015.1 L809.64 1015.07 L811.84 1017.74 L814.03 1015.93 L816.22 1013.79 L818.41 1010.15 L820.6 1006.41 L822.79 1002.42 L824.98 1000.81 L827.17 1001.61 L829.36 1004.58 L831.55 1008.76 L833.74 1014.34 L835.93 1018.21 L838.12 1021.95 L840.32 1022.2 L842.51 1022.2 L844.7 1022.2 L846.89 1022.2 L849.08 1022.2 L851.27 1022.2 L853.46 1022.2 L855.65 1022.2 L857.84 1021.49 L860.03 1018.81 L862.22 1015.93 L864.41 1012.45 L866.6 1007.27 L868.79 997.38 L870.99 988.09 L873.18 980.47 L875.37 972.85 L877.56 966.6 L879.75 961.25 L881.94 955.91 L884.13 949.34 L886.32 941.96 L888.51 935.86 L890.7 929.84 L892.89 923.86 L895.08 917.98 L897.27 912.1 L899.47 905.96 L901.66 899.12 L903.85 892.27 L906.04 885.64 L908.23 879.18 L910.42 872.73 L912.61 866.96 L914.8 861.36 L916.99 855.77 L919.18 851.09 L921.37 846.48 L923.56 842.21 L925.75 838.85 L927.95 835.5 L930.14 832.15 L932.33 829.23 L934.52 826.61 L936.71 823.98 L938.9 821.36 L941.09 819.75 L943.28 818.21 L945.47 816.68 L947.66 815.14 L949.85 813.84 L952.04 813.17 L954.23 812.5 L956.42 811.83 L958.62 811.16 L960.81 811.47 L963 812.03 L965.19 812.59 L967.38 813.38 L969.57 814.66 L971.76 816.26 L973.95 817.87 L976.14 819.98 L978.33 823.51 L980.52 827.04 L982.71 830.57 L984.9 833.8 L987.1 837.01 L989.29 840.21 L991.48 843.23 L993.67 846.12 L995.86 849 L998.05 851.8 L1000.24 854.37 L1002.43 856.94 L1004.62 859.5 L1006.81 862.97 L1009 866.5 L1011.19 870.02 L1013.38 872.88 L1015.58 875.29 L1017.77 877.69 L1019.96 880.1 L1022.15 882.5 L1024.34 884.91 L1026.53 887.31 L1028.72 890.02 L1030.91 892.75 L1033.1 895.47 L1035.29 898.2 L1037.48 900.93 L1039.67 903.65 L1041.86 906.38 L1044.05 909.11 L1046.25 911.83 L1048.44 914.56 L1050.63 917.29 L1052.82 920.01 L1055.01 922.74 L1057.2 925.61 L1059.39 928.58 L1061.58 931.54 L1063.77 934.51 L1065.96 937.48 L1068.15 940.45 L1070.34 943.41 L1072.53 945.86 L1074.73 948.26 L1076.92 950.67 L1079.11 953.07 L1081.3 954.98 L1083.49 955.51 L1085.68 956.53 L1087.87 958.87 L1090.06 961.21 L1092.25 963.56 L1094.44 966.02 L1096.63 968.49 L1098.82 970.96 L1101.01 972.62 L1103.21 973.74 L1105.4 974.86 L1107.59 975.99 L1109.78 977.11 L1111.97 978.23 L1114.16 979.36 L1116.35 980.63 L1118.54 981.91 L1120.73 983.19 L1122.92 984.48 L1125.11 985.76 L1127.3 987.04 L1129.49 988.35 L1131.68 989.73 L1133.88 991.1 L1136.07 992.47 L1138.26 993.85 L1140.45 993.92 L1142.64 993.12 L1144.83 993.16 L1147.02 993.77 L1149.21 994.38 L1151.4 994.99 L1153.59 995.6 L1155.78 996.21 L1157.97 996.82 L1160.16 997.56 L1162.36 998.32 L1164.55 999.07 L1166.74 999.82 L1168.93 1000.58 L1171.12 1001.33 L1173.31 1002.05 L1175.5 1002.66 L1177.69 1003.27 L1179.88 1003.88 L1182.07 1004.48 L1184.26 1005.09 L1186.45 1005.7 L1188.64 1006.13 L1190.84 1006.43 L1193.03 1006.74 L1195.22 1007.04 L1197.41 1007.35 L1199.6 1007.65 L1201.79 1007.96 L1203.98 1008.4 L1206.17 1008.85 L1208.36 1009.3 L1210.55 1009.75 L1212.74 1010.19 L1214.93 1010.64 L1217.12 1011.13 L1219.31 1011.73 L1221.51 1012.34 L1223.7 1012.1 L1225.89 1011.29 L1229.39 1010.01"/>
<path class="ex" stroke="#edb120" stroke-dashoffset="3.98" d="M705.37 670.42 L712.67 640.48 L719.97 695.01 L727.27 763.44 L734.58 816.9 L741.88 856.47 L749.18 887.47 L756.48 900.31 L763.79 905.65 L771.09 897.1 L778.39 881.06 L785.69 857.54 L793 830.8 L800.3 812.95 L807.6 795.52 L814.9 786.97 L822.21 784.18 L829.51 789.1 L836.81 795.52 L844.11 808.35 L851.41 821.18 L858.72 841.5 L866.02 866.09 L873.32 896.03 L880.62 921.69 L887.93 943.08 L895.23 955.91 L902.53 970.88 L909.84 984.78 L917.14 997.07 L924.44 1009.37 L931.74 1021.13 L939.05 1022.2 L946.35 1022.2 L953.65 1022.2 L960.95 1022.2 L968.25 1022.2 L975.56 1022.2 L982.86 1022.2 L990.16 1022.2 L997.47 1022.2 L1004.77 1022.2 L1012.07 1022.2 L1019.37 1022.2 L1026.67 1022.2 L1033.98 1022.2 L1041.28 1022.2 L1048.58 1022.2 L1055.88 1022.2 L1063.19 1022.2 L1070.49 1022.2 L1077.79 1022.2 L1085.1 1022.2"/>
</g>
<text class="t" transform="translate(720.87 1053.8) scale(1 1.04)" text-anchor="middle">250</text>
<text class="t" transform="translate(793.89 1053.8) scale(1 1.04)" text-anchor="middle">300</text>
<text class="t" transform="translate(866.92 1053.8) scale(1 1.04)" text-anchor="middle">350</text>
<text class="t" transform="translate(939.95 1053.8) scale(1 1.04)" text-anchor="middle">400</text>
<text class="t" transform="translate(1012.97 1053.8) scale(1 1.04)" text-anchor="middle">450</text>
<text class="t" transform="translate(1086 1053.8) scale(1 1.04)" text-anchor="middle">500</text>
<text class="t" transform="translate(1159.02 1053.8) scale(1 1.04)" text-anchor="middle">550</text>
<text class="t" transform="translate(697.8 1031.2) scale(1 1.04)" text-anchor="end">0</text>
<text class="t" transform="translate(697.8 977.74) scale(1 1.04)" text-anchor="end">0.05</text>
<text class="t" transform="translate(697.8 924.27) scale(1 1.04)" text-anchor="end">0.1</text>
<text class="t" transform="translate(697.8 870.81) scale(1 1.04)" text-anchor="end">0.15</text>
<text class="t" transform="translate(697.8 817.35) scale(1 1.04)" text-anchor="end">0.2</text>
<text class="t" transform="translate(697.8 763.89) scale(1 1.04)" text-anchor="end">0.25</text>
<text class="t" transform="translate(697.8 710.42) scale(1 1.04)" text-anchor="end">0.3</text>
<text class="t" transform="translate(697.8 656.96) scale(1 1.04)" text-anchor="end">0.35</text>
<text class="t" transform="translate(697.8 603.5) scale(1 1.04)" text-anchor="end">0.4</text>
<text class="l" x="967.8" y="1088.5" text-anchor="middle">Wavelength (nm)</text>
</g>
<g id="eem3">
<clipPath id="cp2"><rect x="1332" y="35" width="523.3" height="427.05"/></clipPath>
<rect x="1332" y="35" width="523.3" height="427.05" fill="#3e26a8"/>
<g clip-path="url(#cp2)">
<path fill="#4538d7" fill-rule="evenodd" d="M1360.63 457.59 L1361.99 457.69 L1372.06 457.97 L1382.13 458.43 L1392.19 458.79 L1402.26 459.17 L1412.33 459.26 L1422.4 459.01 L1432.46 458.57 L1438.66 457.59 L1442.53 457.06 L1451.2 455.51 L1452.6 455.18 L1462.64 453.43 L1462.67 453.43 L1465.08 451.36 L1466.57 449.28 L1467.61 447.2 L1468.6 445.13 L1469.3 443.05 L1469.55 440.97 L1469.69 438.9 L1469.77 436.82 L1469.81 434.74 L1469.86 432.67 L1469.91 430.59 L1469.96 428.51 L1469.99 426.43 L1469.96 424.36 L1469.9 422.28 L1469.81 420.2 L1469.69 418.13 L1469.55 416.05 L1469.35 413.97 L1469.12 411.9 L1468.89 409.82 L1468.61 407.74 L1468.21 405.67 L1467.59 403.59 L1466.84 401.51 L1466.41 399.44 L1465.95 397.36 L1465.56 395.28 L1465.27 393.2 L1464.87 391.13 L1464.15 389.05 L1463.29 386.97 L1462.67 385.93 L1460.99 384.9 L1456.88 382.82 L1452.6 380.84 L1452.49 380.74 L1450.07 378.67 L1448.53 376.59 L1447.26 374.51 L1446.37 372.44 L1445.63 370.36 L1445.45 368.28 L1445.28 366.2 L1444.32 364.13 L1443.4 362.05 L1442.6 359.97 L1442.53 359.8 L1441.96 357.9 L1441.29 355.82 L1440.64 353.74 L1440.11 351.67 L1439.55 349.59 L1438.96 347.51 L1438.78 345.44 L1438.81 343.36 L1438.84 341.28 L1438.88 339.21 L1438.94 337.13 L1439.01 335.05 L1439.08 332.97 L1439.15 330.9 L1439.21 328.82 L1439.21 326.74 L1439.17 324.67 L1439.13 322.59 L1439.08 320.51 L1439.04 318.44 L1439.47 316.36 L1439.91 314.28 L1440.34 312.21 L1440.75 310.13 L1440.22 308.05 L1439.59 305.97 L1440.3 303.9 L1441.05 301.82 L1441.19 299.74 L1440.95 297.67 L1440.7 295.59 L1440.44 293.51 L1440.18 291.44 L1439.77 289.36 L1439.35 287.28 L1438.91 285.21 L1438.17 283.13 L1437.39 281.05 L1437.11 278.97 L1436.82 276.9 L1436.31 274.82 L1435.15 272.74 L1433.88 270.67 L1432.47 268.59 L1432.46 268.58 L1426.97 266.51 L1422.4 265.04 L1419.61 264.44 L1412.33 262.78 L1402.26 263.64 L1399.7 264.44 L1392.8 266.51 L1392.19 266.72 L1385.62 268.59 L1382.13 270.13 L1380.99 270.67 L1376.82 272.74 L1373.03 274.82 L1372.06 276.01 L1370.66 276.9 L1368.77 278.97 L1366.93 281.05 L1361.99 283.08 L1361.94 283.13 L1359.99 285.21 L1358.83 287.28 L1357.72 289.36 L1356.64 291.44 L1355.95 293.51 L1355.27 295.59 L1354.61 297.67 L1353.97 299.74 L1354.34 301.82 L1356.32 303.9 L1358.19 305.97 L1356.53 308.05 L1355.14 310.13 L1356.22 312.21 L1357.34 314.28 L1358.51 316.36 L1359.64 318.44 L1359.53 320.51 L1359.41 322.59 L1359.3 324.67 L1359.18 326.74 L1359.19 328.82 L1359.36 330.9 L1359.54 332.97 L1359.72 335.05 L1359.9 337.13 L1360.07 339.21 L1360.16 341.28 L1360.24 343.36 L1360.32 345.44 L1359.84 347.51 L1358.29 349.59 L1356.83 351.67 L1355.43 353.74 L1353.71 355.82 L1351.95 357.9 L1351.92 357.93 L1349.58 359.97 L1347.34 362.05 L1344.8 364.13 L1342.13 366.2 L1341.86 367.34 L1341.47 368.28 L1340.62 370.36 L1336.99 372.44 L1332.67 374.51 L1330.58 375.19 L1330.58 376.59 L1330.58 378.67 L1330.58 380.74 L1330.58 382.82 L1330.58 384.9 L1330.58 386.97 L1330.58 389.05 L1330.58 391.13 L1330.58 393.2 L1330.58 395.28 L1330.58 397.36 L1330.58 399.44 L1330.58 401.51 L1330.58 403.59 L1330.58 405.67 L1330.58 407.74 L1330.58 409.82 L1330.58 411.9 L1330.58 413.97 L1330.58 416.05 L1330.58 418.13 L1330.58 420.2 L1330.58 422.28 L1330.58 424.36 L1330.58 426.43 L1330.58 428.51 L1330.58 430.59 L1330.58 432.67 L1330.58 434.74 L1330.58 436.82 L1330.58 438.9 L1330.58 440.97 L1330.58 443.05 L1330.58 445.13 L1330.58 447.2 L1330.58 449.28 L1330.58 451.36 L1330.58 453.43 L1330.58 455.51 L1330.58 456.29 L1341.86 456.68 L1351.92 457.15 L1360.63 457.59ZM1410.47 46.36 L1412.33 47.02 L1413.05 46.36 L1413.88 44.29 L1416.72 42.21 L1422.4 41.61 L1430.95 40.13 L1432.46 39.88 L1436.2 38.05 L1441.15 33.9 L1432.46 33.9 L1422.4 33.9 L1412.33 33.9 L1402.26 33.9 L1392.19 33.9 L1382.13 33.9 L1372.06 33.9 L1361.99 33.9 L1354.07 33.9 L1361.99 36.63 L1372.06 37.78 L1373.39 38.05 L1382.13 39.41 L1387.67 40.13 L1392.19 40.76 L1401.89 42.21 L1402.26 42.58 L1408.33 44.29 L1410.47 46.36Z"/>
<path fill="#484ff2" fill-rule="evenodd" d="M1373.83 455.51 L1382.13 455.93 L1392.19 456.35 L1402.26 456.77 L1412.33 456.88 L1422.4 456.59 L1432.46 456.09 L1436.06 455.51 L1442.53 454.21 L1445.99 453.43 L1451.47 451.36 L1452.6 450.75 L1457.28 449.28 L1462.21 447.2 L1462.67 447.04 L1464.46 445.13 L1465.86 443.05 L1466.36 440.97 L1466.64 438.9 L1466.8 436.82 L1466.89 434.74 L1466.99 432.67 L1467.09 430.59 L1467.19 428.51 L1467.24 426.43 L1467.19 424.36 L1467.07 422.28 L1466.88 420.2 L1466.65 418.13 L1466.37 416.05 L1465.96 413.97 L1465.51 411.9 L1465.05 409.82 L1464.49 407.74 L1463.68 405.67 L1462.67 403.93 L1462.12 403.59 L1458.56 401.51 L1456.51 399.44 L1454.33 397.36 L1452.6 395.38 L1452.55 395.28 L1451.89 393.2 L1450.99 391.13 L1449.36 389.05 L1447.42 386.97 L1444.43 384.9 L1442.53 383.81 L1441.07 382.82 L1437.95 380.74 L1434.43 378.67 L1432.46 376.84 L1431.73 376.59 L1427.16 374.51 L1423.93 372.44 L1422.4 371.25 L1420.75 370.36 L1419.88 368.28 L1418.99 366.2 L1414.16 364.13 L1412.33 363.28 L1407.61 364.13 L1402.26 365 L1400.17 366.2 L1399.5 368.28 L1398.84 370.36 L1395.99 372.44 L1392.6 374.51 L1392.19 374.68 L1386.63 376.59 L1382.13 377.8 L1379.18 378.67 L1372.06 379.88 L1363.31 380.74 L1361.99 380.86 L1354.28 382.82 L1351.92 383.41 L1344.48 384.9 L1341.86 385.49 L1331.93 386.97 L1330.58 387.25 L1330.58 389.05 L1330.58 391.13 L1330.58 393.2 L1330.58 395.28 L1330.58 397.36 L1330.58 399.44 L1330.58 401.51 L1330.58 403.59 L1330.58 405.67 L1330.58 407.74 L1330.58 409.82 L1330.58 411.9 L1330.58 413.97 L1330.58 416.05 L1330.58 418.13 L1330.58 420.2 L1330.58 422.28 L1330.58 424.36 L1330.58 426.43 L1330.58 428.51 L1330.58 430.59 L1330.58 432.67 L1330.58 434.74 L1330.58 436.82 L1330.58 438.9 L1330.58 440.97 L1330.58 443.05 L1330.58 445.13 L1330.58 447.2 L1330.58 449.28 L1330.58 451.36 L1330.58 452.9 L1338.86 453.43 L1341.86 453.59 L1351.92 454.36 L1361.99 455.17 L1372.06 455.43 L1373.83 455.51Z"/>
<path fill="#4367fd" fill-rule="evenodd" d="M1371.02 453.43 L1372.06 453.47 L1382.13 454.11 L1392.19 454.62 L1402.26 455.14 L1412.33 455.28 L1422.4 454.92 L1432.46 454.31 L1436.76 453.43 L1442.53 451.46 L1442.84 451.36 L1447.87 449.28 L1451.37 447.2 L1452.6 446.55 L1457.1 445.13 L1462.07 443.05 L1462.67 442.4 L1463.17 440.97 L1463.6 438.9 L1463.83 436.82 L1463.96 434.74 L1464.11 432.67 L1464.26 430.59 L1464.41 428.51 L1464.5 426.43 L1464.42 424.36 L1464.23 422.28 L1463.95 420.2 L1463.6 418.13 L1463.18 416.05 L1462.67 414.26 L1462.46 413.97 L1460.84 411.9 L1459.2 409.82 L1457.2 407.74 L1454.31 405.67 L1452.6 404.8 L1451.31 403.59 L1448.78 401.51 L1447.31 399.44 L1445.76 397.36 L1444.46 395.28 L1443.47 393.2 L1442.53 391.75 L1442.23 391.13 L1440.45 389.05 L1438.32 386.97 L1435.06 384.9 L1432.46 383.56 L1428.31 382.82 L1422.4 381.7 L1414.4 380.74 L1412.33 380.48 L1406.97 380.74 L1402.26 380.95 L1392.19 382.67 L1391.19 382.82 L1382.13 384.08 L1377.13 384.9 L1372.06 385.81 L1361.99 386.85 L1361.53 386.97 L1355.92 389.05 L1351.92 390.8 L1350.94 391.13 L1347.15 393.2 L1344.38 395.28 L1341.86 396.71 L1339.95 397.36 L1332.44 399.44 L1330.58 399.95 L1330.58 401.51 L1330.58 403.59 L1330.58 405.67 L1330.58 407.74 L1330.58 409.82 L1330.58 411.9 L1330.58 413.97 L1330.58 416.05 L1330.58 418.13 L1330.58 420.2 L1330.58 422.28 L1330.58 424.36 L1330.58 426.43 L1330.58 428.51 L1330.58 430.59 L1330.58 432.67 L1330.58 434.74 L1330.58 436.82 L1330.58 438.9 L1330.58 440.97 L1330.58 443.05 L1330.58 445.13 L1330.58 447.2 L1330.58 449.28 L1330.58 449.37 L1341.86 450.42 L1348.92 451.36 L1351.92 451.7 L1361.99 453.05 L1371.02 453.43Z"/>
<path fill="#2f80fa" fill-rule="evenodd" d="M1397.45 453.43 L1402.26 453.75 L1412.33 453.92 L1422.4 453.44 L1422.53 453.43 L1432.46 452.54 L1436.46 451.36 L1441.35 449.28 L1442.53 448.64 L1445.59 447.2 L1450.07 445.13 L1452.6 443.52 L1453.89 443.05 L1456.29 440.97 L1457.64 438.9 L1458.36 436.82 L1458.79 434.74 L1459.27 432.67 L1459.74 430.59 L1460.21 428.51 L1460.49 426.43 L1460.25 424.36 L1459.65 422.28 L1458.75 420.2 L1457.66 418.13 L1456.31 416.05 L1454.41 413.97 L1452.6 412.21 L1452.44 411.9 L1451.4 409.82 L1450.13 407.74 L1448.3 405.67 L1445.5 403.59 L1442.53 401.74 L1442.23 401.51 L1440.81 399.44 L1439.31 397.36 L1438.04 395.28 L1437.08 393.2 L1435.76 391.13 L1433.39 389.05 L1432.46 388.33 L1427.71 386.97 L1422.4 385.89 L1414.73 384.9 L1412.33 384.61 L1406.13 384.9 L1402.26 385.08 L1392.19 386.94 L1391.98 386.97 L1382.58 389.05 L1382.13 389.16 L1374.84 391.13 L1372.06 392.43 L1368.96 393.2 L1362.67 395.28 L1361.99 395.44 L1358.94 397.36 L1354.97 399.44 L1351.92 401.1 L1350.91 401.51 L1341.86 403.5 L1341.24 403.59 L1330.58 405.17 L1330.58 405.67 L1330.58 407.74 L1330.58 409.82 L1330.58 411.9 L1330.58 413.97 L1330.58 416.05 L1330.58 418.13 L1330.58 420.2 L1330.58 422.28 L1330.58 424.36 L1330.58 426.43 L1330.58 428.51 L1330.58 430.59 L1330.58 432.67 L1330.58 434.74 L1330.58 436.82 L1330.58 438.9 L1330.58 440.97 L1330.58 443.05 L1330.58 445.13 L1330.58 446.34 L1340.82 447.2 L1341.86 447.32 L1351.92 448.96 L1353.56 449.28 L1361.99 450.74 L1372.06 451.31 L1372.53 451.36 L1382.13 452.26 L1392.19 453.01 L1397.45 453.43Z"/>
<path fill="#2797eb" fill-rule="evenodd" d="M1393.03 451.36 L1402.26 452.23 L1412.33 452.47 L1422.4 451.81 L1426.75 451.36 L1432.46 450.68 L1436.28 449.28 L1440.54 447.2 L1442.53 446.3 L1445.4 445.13 L1449.33 443.05 L1450.75 440.97 L1451.56 438.9 L1451.98 436.82 L1452.24 434.74 L1452.52 432.67 L1452.6 432.07 L1453.02 430.59 L1453.62 428.51 L1453.96 426.43 L1453.66 424.36 L1452.91 422.28 L1452.6 421.7 L1452.21 420.2 L1451.56 418.13 L1450.77 416.05 L1449.64 413.97 L1448.36 411.9 L1447.06 409.82 L1445.48 407.74 L1443.19 405.67 L1442.53 405.23 L1440.46 403.59 L1437.38 401.51 L1435.61 399.44 L1433.73 397.36 L1432.46 395.68 L1431.67 395.28 L1428.67 393.2 L1424.56 391.13 L1422.4 390.48 L1415.2 389.05 L1412.33 388.53 L1404.92 389.05 L1402.26 389.24 L1395.33 391.13 L1392.19 392.61 L1390.7 393.2 L1386.7 395.28 L1382.13 397.09 L1381.48 397.36 L1375.33 399.44 L1372.06 400.57 L1366.98 401.51 L1361.99 401.98 L1355.9 403.59 L1351.92 404.75 L1347.92 405.67 L1341.86 407.63 L1341.33 407.74 L1333.65 409.82 L1330.58 410.8 L1330.58 411.9 L1330.58 413.97 L1330.58 416.05 L1330.58 418.13 L1330.58 420.2 L1330.58 422.28 L1330.58 424.36 L1330.58 426.43 L1330.58 428.51 L1330.58 430.59 L1330.58 432.67 L1330.58 434.74 L1330.58 436.82 L1330.58 438.9 L1330.58 440.97 L1330.58 443.05 L1330.58 444.01 L1341.71 445.13 L1341.86 445.14 L1351.92 446.58 L1355.69 447.2 L1361.99 448.46 L1372.06 449.15 L1373.13 449.28 L1382.13 450.33 L1392.19 451.27 L1393.03 451.36Z"/>
<path fill="#1caadf" fill-rule="evenodd" d="M1389.81 449.28 L1392.19 449.53 L1402.26 450.68 L1412.33 450.97 L1422.4 450.18 L1429.34 449.28 L1432.46 448.84 L1436.32 447.2 L1441.22 445.13 L1442.53 444.42 L1445.45 443.05 L1447.16 440.97 L1448.12 438.9 L1448.63 436.82 L1448.94 434.74 L1449.28 432.67 L1449.61 430.59 L1449.95 428.51 L1450.15 426.43 L1449.98 424.36 L1449.55 422.28 L1448.91 420.2 L1448.13 418.13 L1447.18 416.05 L1445.82 413.97 L1444.29 411.9 L1442.73 409.82 L1442.53 409.59 L1441.29 407.74 L1439.29 405.67 L1436.23 403.59 L1432.53 401.51 L1432.46 401.44 L1427.33 399.44 L1422.4 397.6 L1421.45 397.36 L1414.91 395.28 L1412.33 394.19 L1405.67 395.28 L1402.26 395.68 L1398.31 397.36 L1392.42 399.44 L1392.2 399.52 L1385.42 401.51 L1382.13 402.02 L1373.3 403.59 L1372.06 403.82 L1361.99 404.83 L1358.98 405.67 L1353.71 407.74 L1351.92 408.72 L1349.22 409.82 L1344.88 411.9 L1341.86 413.34 L1339.69 413.97 L1333.11 416.05 L1330.58 417.16 L1330.58 418.13 L1330.58 420.2 L1330.58 422.28 L1330.58 424.36 L1330.58 426.43 L1330.58 428.51 L1330.58 430.59 L1330.58 432.67 L1330.58 434.74 L1330.58 436.82 L1330.58 438.9 L1330.58 439.84 L1333.19 440.97 L1341.46 443.05 L1341.86 443.09 L1351.92 444.74 L1353.89 445.13 L1361.99 446.53 L1372.06 447.11 L1372.99 447.2 L1382.13 448.43 L1389.81 449.28Z"/>
<path fill="#01b9c7" fill-rule="evenodd" d="M1406.67 449.28 L1412.33 449.47 L1414.52 449.28 L1422.4 448.57 L1431.56 447.2 L1432.46 447.1 L1437.82 445.13 L1441.83 443.05 L1442.53 442.09 L1443.56 440.97 L1444.68 438.9 L1445.28 436.82 L1445.64 434.74 L1446.03 432.67 L1446.43 430.59 L1446.82 428.51 L1447.05 426.43 L1446.85 424.36 L1446.35 422.28 L1445.6 420.2 L1444.7 418.13 L1443.58 416.05 L1442.53 414.65 L1442.14 413.97 L1440.84 411.9 L1439.52 409.82 L1437.9 407.74 L1435.57 405.67 L1432.46 403.83 L1431.29 403.59 L1422.4 401.83 L1419.86 401.51 L1412.33 399.68 L1402.26 400.6 L1399.52 401.51 L1392.19 402.8 L1387.22 403.59 L1382.13 404.42 L1375.45 405.67 L1372.06 406.54 L1363.6 407.74 L1361.99 408.04 L1358.39 409.82 L1354.89 411.9 L1351.92 413.68 L1351.25 413.97 L1346.84 416.05 L1343.74 418.13 L1341.86 419.66 L1340.74 420.2 L1337.11 422.28 L1334.67 424.36 L1333.71 426.43 L1334.83 428.51 L1336.75 430.59 L1338.65 432.67 L1340.57 434.74 L1341.86 436.31 L1342.1 436.82 L1343.78 438.9 L1346.9 440.97 L1351.92 442.87 L1352.28 443.05 L1361.99 444.98 L1364.12 445.13 L1372.06 445.65 L1382.13 446.77 L1386.85 447.2 L1392.19 447.84 L1402.26 449.14 L1406.67 449.28Z"/>
<path fill="#29c3aa" fill-rule="evenodd" d="M1398.99 447.2 L1402.26 447.65 L1412.33 448.02 L1420.55 447.2 L1422.4 447.06 L1432.46 445.85 L1434.42 445.13 L1439 443.05 L1440.66 440.97 L1441.6 438.9 L1442.1 436.82 L1442.39 434.74 L1442.53 433.86 L1442.79 432.67 L1443.24 430.59 L1443.69 428.51 L1443.95 426.43 L1443.73 424.36 L1443.15 422.28 L1442.53 420.76 L1442.36 420.2 L1441.61 418.13 L1440.68 416.05 L1439.36 413.97 L1437.87 411.9 L1436.36 409.82 L1434.51 407.74 L1432.46 406.11 L1430.92 405.67 L1422.4 403.89 L1420.11 403.59 L1412.33 402.57 L1402.26 403.06 L1399.32 403.59 L1392.19 404.92 L1387.7 405.67 L1382.13 406.93 L1378.91 407.74 L1372.88 409.82 L1372.06 410.14 L1363.8 411.9 L1361.99 412.26 L1358.8 413.97 L1355.32 416.05 L1352.88 418.13 L1351.92 419.1 L1350.42 420.2 L1348.04 422.28 L1346.44 424.36 L1345.81 426.43 L1346.54 428.51 L1347.8 430.59 L1349.05 432.67 L1350.31 434.74 L1351.43 436.82 L1351.92 437.36 L1352.91 438.9 L1355.37 440.97 L1359.74 443.05 L1361.99 443.5 L1372.06 444.23 L1379.21 445.13 L1382.13 445.47 L1392.19 446.48 L1398.99 447.2Z"/>
<path fill="#48cb86" fill-rule="evenodd" d="M1390.44 445.13 L1392.19 445.31 L1402.26 446.47 L1412.33 446.76 L1422.4 445.97 L1428.86 445.13 L1432.46 444.62 L1436.18 443.05 L1438.04 440.97 L1439.09 438.9 L1439.65 436.82 L1439.98 434.74 L1440.36 432.67 L1440.72 430.59 L1441.09 428.51 L1441.31 426.43 L1441.12 424.36 L1440.65 422.28 L1439.95 420.2 L1439.1 418.13 L1438.06 416.05 L1436.58 413.97 L1434.9 411.9 L1433.2 409.82 L1432.46 409.05 L1429.12 407.74 L1422.4 405.86 L1421.37 405.67 L1412.33 404.42 L1402.26 404.93 L1398.37 405.67 L1392.19 407.27 L1390.1 407.74 L1383.23 409.82 L1382.13 410.2 L1377.64 411.9 L1372.16 413.97 L1372.06 414.01 L1362.57 416.05 L1361.99 416.22 L1359.48 418.13 L1357.24 420.2 L1355.39 422.28 L1354.15 424.36 L1353.66 426.43 L1354.23 428.51 L1355.2 430.59 L1356.17 432.67 L1357.15 434.74 L1358.02 436.82 L1359.51 438.9 L1361.99 440.77 L1362.69 440.97 L1372.06 442.6 L1373.46 443.05 L1382.13 444.21 L1390.44 445.13Z"/>
<path fill="#81cc59" fill-rule="evenodd" d="M1399.69 445.13 L1402.26 445.43 L1412.33 445.75 L1419.63 445.13 L1422.4 444.88 L1432.46 443.42 L1433.35 443.05 L1435.42 440.97 L1436.59 438.9 L1437.21 436.82 L1437.58 434.74 L1437.99 432.67 L1438.4 430.59 L1438.81 428.51 L1439.05 426.43 L1438.85 424.36 L1438.32 422.28 L1437.54 420.2 L1436.6 418.13 L1435.44 416.05 L1433.79 413.97 L1432.46 412.47 L1431.14 411.9 L1426.42 409.82 L1422.4 408.33 L1420.03 407.74 L1412.33 406.31 L1402.26 407.01 L1399.39 407.74 L1393.38 409.82 L1392.19 410.29 L1387.42 411.9 L1382.13 413.66 L1381.27 413.97 L1375.87 416.05 L1372.08 418.13 L1372.06 418.14 L1365.94 420.2 L1361.99 421.8 L1361.53 422.28 L1360.15 424.36 L1359.61 426.43 L1360.24 428.51 L1361.33 430.59 L1361.99 431.88 L1363.01 432.67 L1365.7 434.74 L1368.09 436.82 L1372.06 438.84 L1372.12 438.9 L1375.94 440.97 L1382.13 442.88 L1382.73 443.05 L1392.19 444.18 L1399.69 445.13Z"/>
<path fill="#bbc42f" fill-rule="evenodd" d="M1392.1 443.05 L1392.19 443.06 L1402.26 444.42 L1412.33 444.76 L1422.4 443.83 L1427.62 443.05 L1432.46 441.3 L1432.8 440.97 L1434.08 438.9 L1434.77 436.82 L1435.17 434.74 L1435.63 432.67 L1436.08 430.59 L1436.53 428.51 L1436.79 426.43 L1436.57 424.36 L1435.99 422.28 L1435.13 420.2 L1434.1 418.13 L1432.82 416.05 L1432.46 415.62 L1428.84 413.97 L1423.74 411.9 L1422.4 411.33 L1417.07 409.82 L1412.33 408.66 L1402.26 409.61 L1401.62 409.82 L1396.18 411.9 L1392.19 413.42 L1390.48 413.97 L1384.47 416.05 L1382.13 417.18 L1380.27 418.13 L1376.87 420.2 L1374.07 422.28 L1372.18 424.36 L1372.06 424.7 L1370.83 426.43 L1372.06 427.93 L1372.3 428.51 L1373.79 430.59 L1375.26 432.67 L1376.74 434.74 L1378.06 436.82 L1380.31 438.9 L1382.13 439.82 L1384.55 440.97 L1392.1 443.05Z"/>
<path fill="#eaba31" fill-rule="evenodd" d="M1399.5 443.05 L1402.26 443.42 L1412.33 443.8 L1419.88 443.05 L1422.4 442.47 L1426.77 440.97 L1430.26 438.9 L1432.13 436.82 L1432.46 436.18 L1432.77 434.74 L1433.26 432.67 L1433.75 430.59 L1434.25 428.51 L1434.53 426.43 L1434.29 424.36 L1433.66 422.28 L1432.73 420.2 L1432.46 419.71 L1430.3 418.13 L1426.83 416.05 L1422.4 414.17 L1421.72 413.97 L1414.01 411.9 L1412.33 411.43 L1407.98 411.9 L1402.26 412.47 L1398.11 413.97 L1392.95 416.05 L1392.19 416.46 L1388.54 418.13 L1384.79 420.2 L1382.13 421.98 L1381.69 422.28 L1379.64 424.36 L1378.83 426.43 L1379.77 428.51 L1381.39 430.59 L1382.13 431.56 L1383 432.67 L1384.64 434.74 L1386.1 436.82 L1388.59 438.9 L1392.19 440.53 L1393.01 440.97 L1399.5 443.05Z"/>
<path fill="#fec735" fill-rule="evenodd" d="M1399.85 440.97 L1402.26 441.72 L1412.33 442.58 L1419.42 440.97 L1422.4 439.81 L1424.03 438.9 L1426.05 436.82 L1427.24 434.74 L1428.57 432.67 L1429.89 430.59 L1431.22 428.51 L1432 426.43 L1431.33 424.36 L1429.64 422.28 L1427.12 420.2 L1424.07 418.13 L1422.4 417.18 L1419.51 416.05 L1412.33 414.03 L1402.26 415.1 L1399.78 416.05 L1395.85 418.13 L1392.65 420.2 L1392.19 420.55 L1389.41 422.28 L1387.16 424.36 L1386.27 426.43 L1387.3 428.51 L1389.07 430.59 L1390.83 432.67 L1392.19 434.26 L1392.52 434.74 L1393.77 436.82 L1395.89 438.9 L1399.85 440.97Z"/>
<path fill="#f5e128" fill-rule="evenodd" d="M1402.82 438.9 L1412.33 440.27 L1416.01 438.9 L1419.04 436.82 L1420.81 434.74 L1422.4 433.09 L1422.69 432.67 L1424.11 430.59 L1425.55 428.51 L1426.38 426.43 L1425.66 424.36 L1423.84 422.28 L1422.4 421.16 L1420.63 420.2 L1416.07 418.13 L1412.33 416.72 L1402.66 418.13 L1402.26 418.2 L1398.93 420.2 L1396.09 422.28 L1394.17 424.36 L1393.42 426.43 L1394.29 428.51 L1395.8 430.59 L1397.29 432.67 L1398.8 434.74 L1400.14 436.82 L1402.26 438.75 L1402.82 438.9Z"/>
<path fill="#f9fb15" fill-rule="evenodd" d="M1411.88 434.74 L1412.33 434.94 L1412.5 434.74 L1414.64 432.67 L1416.76 430.59 L1418.89 428.51 L1420.12 426.43 L1419.06 424.36 L1416.35 422.28 L1412.33 420.21 L1402.26 422.22 L1402.17 422.28 L1400.12 424.36 L1399.32 426.43 L1400.25 428.51 L1401.86 430.59 L1402.26 431.11 L1406.36 432.67 L1411.88 434.74Z"/>
<path class="cl" d="M1330.58 456.29 L1341.86 456.68 L1351.92 457.15 L1360.63 457.59 L1361.99 457.69 L1372.06 457.97 L1382.13 458.43 L1392.19 458.79 L1402.26 459.17 L1412.33 459.26 L1422.4 459.01 L1432.46 458.57 L1438.66 457.59 L1442.53 457.06 L1451.2 455.51 L1452.6 455.18 L1462.64 453.43 L1462.67 453.43 L1465.08 451.36 L1466.57 449.28 L1467.61 447.2 L1468.6 445.13 L1469.3 443.05 L1469.55 440.97 L1469.69 438.9 L1469.77 436.82 L1469.81 434.74 L1469.86 432.67 L1469.91 430.59 L1469.96 428.51 L1469.99 426.43 L1469.96 424.36 L1469.9 422.28 L1469.81 420.2 L1469.69 418.13 L1469.55 416.05 L1469.35 413.97 L1469.12 411.9 L1468.89 409.82 L1468.61 407.74 L1468.21 405.67 L1467.59 403.59 L1466.84 401.51 L1466.41 399.44 L1465.95 397.36 L1465.56 395.28 L1465.27 393.2 L1464.87 391.13 L1464.15 389.05 L1463.29 386.97 L1462.67 385.93 L1460.99 384.9 L1456.88 382.82 L1452.6 380.84 L1452.49 380.74 L1450.07 378.67 L1448.53 376.59 L1447.26 374.51 L1446.37 372.44 L1445.63 370.36 L1445.45 368.28 L1445.28 366.2 L1444.32 364.13 L1443.4 362.05 L1442.6 359.97 L1442.53 359.8 L1441.96 357.9 L1441.29 355.82 L1440.64 353.74 L1440.11 351.67 L1439.55 349.59 L1438.96 347.51 L1438.78 345.44 L1438.81 343.36 L1438.84 341.28 L1438.88 339.21 L1438.94 337.13 L1439.01 335.05 L1439.08 332.97 L1439.15 330.9 L1439.21 328.82 L1439.21 326.74 L1439.17 324.67 L1439.13 322.59 L1439.08 320.51 L1439.04 318.44 L1439.47 316.36 L1439.91 314.28 L1440.34 312.21 L1440.75 310.13 L1440.22 308.05 L1439.59 305.97 L1440.3 303.9 L1441.05 301.82 L1441.19 299.74 L1440.95 297.67 L1440.7 295.59 L1440.44 293.51 L1440.18 291.44 L1439.77 289.36 L1439.35 287.28 L1438.91 285.21 L1438.17 283.13 L1437.39 281.05 L1437.11 278.97 L1436.82 276.9 L1436.31 274.82 L1435.15 272.74 L1433.88 270.67 L1432.47 268.59 L1432.46 268.58 L1426.97 266.51 L1422.4 265.04 L1419.61 264.44 L1412.33 262.78 L1402.26 263.64 L1399.7 264.44 L1392.8 266.51 L1392.19 266.72 L1385.62 268.59 L1382.13 270.13 L1380.99 270.67 L1376.82 272.74 L1373.03 274.82 L1372.06 276.01 L1370.66 276.9 L1368.77 278.97 L1366.93 281.05 L1361.99 283.08 L1361.94 283.13 L1359.99 285.21 L1358.83 287.28 L1357.72 289.36 L1356.64 291.44 L1355.95 293.51 L1355.27 295.59 L1354.61 297.67 L1353.97 299.74 L1354.34 301.82 L1356.32 303.9 L1358.19 305.97 L1356.53 308.05 L1355.14 310.13 L1356.22 312.21 L1357.34 314.28 L1358.51 316.36 L1359.64 318.44 L1359.53 320.51 L1359.41 322.59 L1359.3 324.67 L1359.18 326.74 L1359.19 328.82 L1359.36 330.9 L1359.54 332.97 L1359.72 335.05 L1359.9 337.13 L1360.07 339.21 L1360.16 341.28 L1360.24 343.36 L1360.32 345.44 L1359.84 347.51 L1358.29 349.59 L1356.83 351.67 L1355.43 353.74 L1353.71 355.82 L1351.95 357.9 L1351.92 357.93 L1349.58 359.97 L1347.34 362.05 L1344.8 364.13 L1342.13 366.2 L1341.86 367.34 L1341.47 368.28 L1340.62 370.36 L1336.99 372.44 L1332.67 374.51 L1330.58 375.19M1354.07 33.9 L1361.99 36.63 L1372.06 37.78 L1373.39 38.05 L1382.13 39.41 L1387.67 40.13 L1392.19 40.76 L1401.89 42.21 L1402.26 42.58 L1408.33 44.29 L1410.47 46.36 L1412.33 47.02 L1413.05 46.36 L1413.88 44.29 L1416.72 42.21 L1422.4 41.61 L1430.95 40.13 L1432.46 39.88 L1436.2 38.05 L1441.15 33.9M1330.58 452.9 L1338.86 453.43 L1341.86 453.59 L1351.92 454.36 L1361.99 455.17 L1372.06 455.43 L1373.83 455.51 L1382.13 455.93 L1392.19 456.35 L1402.26 456.77 L1412.33 456.88 L1422.4 456.59 L1432.46 456.09 L1436.06 455.51 L1442.53 454.21 L1445.99 453.43 L1451.47 451.36 L1452.6 450.75 L1457.28 449.28 L1462.21 447.2 L1462.67 447.04 L1464.46 445.13 L1465.86 443.05 L1466.36 440.97 L1466.64 438.9 L1466.8 436.82 L1466.89 434.74 L1466.99 432.67 L1467.09 430.59 L1467.19 428.51 L1467.24 426.43 L1467.19 424.36 L1467.07 422.28 L1466.88 420.2 L1466.65 418.13 L1466.37 416.05 L1465.96 413.97 L1465.51 411.9 L1465.05 409.82 L1464.49 407.74 L1463.68 405.67 L1462.67 403.93 L1462.12 403.59 L1458.56 401.51 L1456.51 399.44 L1454.33 397.36 L1452.6 395.38 L1452.55 395.28 L1451.89 393.2 L1450.99 391.13 L1449.36 389.05 L1447.42 386.97 L1444.43 384.9 L1442.53 383.81 L1441.07 382.82 L1437.95 380.74 L1434.43 378.67 L1432.46 376.84 L1431.73 376.59 L1427.16 374.51 L1423.93 372.44 L1422.4 371.25 L1420.75 370.36 L1419.88 368.28 L1418.99 366.2 L1414.16 364.13 L1412.33 363.28 L1407.61 364.13 L1402.26 365 L1400.17 366.2 L1399.5 368.28 L1398.84 370.36 L1395.99 372.44 L1392.6 374.51 L1392.19 374.68 L1386.63 376.59 L1382.13 377.8 L1379.18 378.67 L1372.06 379.88 L1363.31 380.74 L1361.99 380.86 L1354.28 382.82 L1351.92 383.41 L1344.48 384.9 L1341.86 385.49 L1331.93 386.97 L1330.58 387.25M1330.58 449.37 L1341.86 450.42 L1348.92 451.36 L1351.92 451.7 L1361.99 453.05 L1371.02 453.43 L1372.06 453.47 L1382.13 454.11 L1392.19 454.62 L1402.26 455.14 L1412.33 455.28 L1422.4 454.92 L1432.46 454.31 L1436.76 453.43 L1442.53 451.46 L1442.84 451.36 L1447.87 449.28 L1451.37 447.2 L1452.6 446.55 L1457.1 445.13 L1462.07 443.05 L1462.67 442.4 L1463.17 440.97 L1463.6 438.9 L1463.83 436.82 L1463.96 434.74 L1464.11 432.67 L1464.26 430.59 L1464.41 428.51 L1464.5 426.43 L1464.42 424.36 L1464.23 422.28 L1463.95 420.2 L1463.6 418.13 L1463.18 416.05 L1462.67 414.26 L1462.46 413.97 L1460.84 411.9 L1459.2 409.82 L1457.2 407.74 L1454.31 405.67 L1452.6 404.8 L1451.31 403.59 L1448.78 401.51 L1447.31 399.44 L1445.76 397.36 L1444.46 395.28 L1443.47 393.2 L1442.53 391.75 L1442.23 391.13 L1440.45 389.05 L1438.32 386.97 L1435.06 384.9 L1432.46 383.56 L1428.31 382.82 L1422.4 381.7 L1414.4 380.74 L1412.33 380.48 L1406.97 380.74 L1402.26 380.95 L1392.19 382.67 L1391.19 382.82 L1382.13 384.08 L1377.13 384.9 L1372.06 385.81 L1361.99 386.85 L1361.53 386.97 L1355.92 389.05 L1351.92 390.8 L1350.94 391.13 L1347.15 393.2 L1344.38 395.28 L1341.86 396.71 L1339.95 397.36 L1332.44 399.44 L1330.58 399.95M1330.58 446.34 L1340.82 447.2 L1341.86 447.32 L1351.92 448.96 L1353.56 449.28 L1361.99 450.74 L1372.06 451.31 L1372.53 451.36 L1382.13 452.26 L1392.19 453.01 L1397.45 453.43 L1402.26 453.75 L1412.33 453.92 L1422.4 453.44 L1422.53 453.43 L1432.46 452.54 L1436.46 451.36 L1441.35 449.28 L1442.53 448.64 L1445.59 447.2 L1450.07 445.13 L1452.6 443.52 L1453.89 443.05 L1456.29 440.97 L1457.64 438.9 L1458.36 436.82 L1458.79 434.74 L1459.27 432.67 L1459.74 430.59 L1460.21 428.51 L1460.49 426.43 L1460.25 424.36 L1459.65 422.28 L1458.75 420.2 L1457.66 418.13 L1456.31 416.05 L1454.41 413.97 L1452.6 412.21 L1452.44 411.9 L1451.4 409.82 L1450.13 407.74 L1448.3 405.67 L1445.5 403.59 L1442.53 401.74 L1442.23 401.51 L1440.81 399.44 L1439.31 397.36 L1438.04 395.28 L1437.08 393.2 L1435.76 391.13 L1433.39 389.05 L1432.46 388.33 L1427.71 386.97 L1422.4 385.89 L1414.73 384.9 L1412.33 384.61 L1406.13 384.9 L1402.26 385.08 L1392.19 386.94 L1391.98 386.97 L1382.58 389.05 L1382.13 389.16 L1374.84 391.13 L1372.06 392.43 L1368.96 393.2 L1362.67 395.28 L1361.99 395.44 L1358.94 397.36 L1354.97 399.44 L1351.92 401.1 L1350.91 401.51 L1341.86 403.5 L1341.24 403.59 L1330.58 405.17M1330.58 444.01 L1341.71 445.13 L1341.86 445.14 L1351.92 446.58 L1355.69 447.2 L1361.99 448.46 L1372.06 449.15 L1373.13 449.28 L1382.13 450.33 L1392.19 451.27 L1393.03 451.36 L1402.26 452.23 L1412.33 452.47 L1422.4 451.81 L1426.75 451.36 L1432.46 450.68 L1436.28 449.28 L1440.54 447.2 L1442.53 446.3 L1445.4 445.13 L1449.33 443.05 L1450.75 440.97 L1451.56 438.9 L1451.98 436.82 L1452.24 434.74 L1452.52 432.67 L1452.6 432.07 L1453.02 430.59 L1453.62 428.51 L1453.96 426.43 L1453.66 424.36 L1452.91 422.28 L1452.6 421.7 L1452.21 420.2 L1451.56 418.13 L1450.77 416.05 L1449.64 413.97 L1448.36 411.9 L1447.06 409.82 L1445.48 407.74 L1443.19 405.67 L1442.53 405.23 L1440.46 403.59 L1437.38 401.51 L1435.61 399.44 L1433.73 397.36 L1432.46 395.68 L1431.67 395.28 L1428.67 393.2 L1424.56 391.13 L1422.4 390.48 L1415.2 389.05 L1412.33 388.53 L1404.92 389.05 L1402.26 389.24 L1395.33 391.13 L1392.19 392.61 L1390.7 393.2 L1386.7 395.28 L1382.13 397.09 L1381.48 397.36 L1375.33 399.44 L1372.06 400.57 L1366.98 401.51 L1361.99 401.98 L1355.9 403.59 L1351.92 404.75 L1347.92 405.67 L1341.86 407.63 L1341.33 407.74 L1333.65 409.82 L1330.58 410.8M1330.58 439.84 L1333.19 440.97 L1341.46 443.05 L1341.86 443.09 L1351.92 444.74 L1353.89 445.13 L1361.99 446.53 L1372.06 447.11 L1372.99 447.2 L1382.13 448.43 L1389.81 449.28 L1392.19 449.53 L1402.26 450.68 L1412.33 450.97 L1422.4 450.18 L1429.34 449.28 L1432.46 448.84 L1436.32 447.2 L1441.22 445.13 L1442.53 444.42 L1445.45 443.05 L1447.16 440.97 L1448.12 438.9 L1448.63 436.82 L1448.94 434.74 L1449.28 432.67 L1449.61 430.59 L1449.95 428.51 L1450.15 426.43 L1449.98 424.36 L1449.55 422.28 L1448.91 420.2 L1448.13 418.13 L1447.18 416.05 L1445.82 413.97 L1444.29 411.9 L1442.73 409.82 L1442.53 409.59 L1441.29 407.74 L1439.29 405.67 L1436.23 403.59 L1432.53 401.51 L1432.46 401.44 L1427.33 399.44 L1422.4 397.6 L1421.45 397.36 L1414.91 395.28 L1412.33 394.19 L1405.67 395.28 L1402.26 395.68 L1398.31 397.36 L1392.42 399.44 L1392.2 399.52 L1385.42 401.51 L1382.13 402.02 L1373.3 403.59 L1372.06 403.82 L1361.99 404.83 L1358.98 405.67 L1353.71 407.74 L1351.92 408.72 L1349.22 409.82 L1344.88 411.9 L1341.86 413.34 L1339.69 413.97 L1333.11 416.05 L1330.58 417.16M1406.67 449.28 L1412.33 449.47 L1414.52 449.28 L1422.4 448.57 L1431.56 447.2 L1432.46 447.1 L1437.82 445.13 L1441.83 443.05 L1442.53 442.09 L1443.56 440.97 L1444.68 438.9 L1445.28 436.82 L1445.64 434.74 L1446.03 432.67 L1446.43 430.59 L1446.82 428.51 L1447.05 426.43 L1446.85 424.36 L1446.35 422.28 L1445.6 420.2 L1444.7 418.13 L1443.58 416.05 L1442.53 414.65 L1442.14 413.97 L1440.84 411.9 L1439.52 409.82 L1437.9 407.74 L1435.57 405.67 L1432.46 403.83 L1431.29 403.59 L1422.4 401.83 L1419.86 401.51 L1412.33 399.68 L1402.26 400.6 L1399.52 401.51 L1392.19 402.8 L1387.22 403.59 L1382.13 404.42 L1375.45 405.67 L1372.06 406.54 L1363.6 407.74 L1361.99 408.04 L1358.39 409.82 L1354.89 411.9 L1351.92 413.68 L1351.25 413.97 L1346.84 416.05 L1343.74 418.13 L1341.86 419.66 L1340.74 420.2 L1337.11 422.28 L1334.67 424.36 L1333.71 426.43 L1334.83 428.51 L1336.75 430.59 L1338.65 432.67 L1340.57 434.74 L1341.86 436.31 L1342.1 436.82 L1343.78 438.9 L1346.9 440.97 L1351.92 442.87 L1352.28 443.05 L1361.99 444.98 L1364.12 445.13 L1372.06 445.65 L1382.13 446.77 L1386.85 447.2 L1392.19 447.84 L1402.26 449.14ZM1398.99 447.2 L1402.26 447.65 L1412.33 448.02 L1420.55 447.2 L1422.4 447.06 L1432.46 445.85 L1434.42 445.13 L1439 443.05 L1440.66 440.97 L1441.6 438.9 L1442.1 436.82 L1442.39 434.74 L1442.53 433.86 L1442.79 432.67 L1443.24 430.59 L1443.69 428.51 L1443.95 426.43 L1443.73 424.36 L1443.15 422.28 L1442.53 420.76 L1442.36 420.2 L1441.61 418.13 L1440.68 416.05 L1439.36 413.97 L1437.87 411.9 L1436.36 409.82 L1434.51 407.74 L1432.46 406.11 L1430.92 405.67 L1422.4 403.89 L1420.11 403.59 L1412.33 402.57 L1402.26 403.06 L1399.32 403.59 L1392.19 404.92 L1387.7 405.67 L1382.13 406.93 L1378.91 407.74 L1372.88 409.82 L1372.06 410.14 L1363.8 411.9 L1361.99 412.26 L1358.8 413.97 L1355.32 416.05 L1352.88 418.13 L1351.92 419.1 L1350.42 420.2 L1348.04 422.28 L1346.44 424.36 L1345.81 426.43 L1346.54 428.51 L1347.8 430.59 L1349.05 432.67 L1350.31 434.74 L1351.43 436.82 L1351.92 437.36 L1352.91 438.9 L1355.37 440.97 L1359.74 443.05 L1361.99 443.5 L1372.06 444.23 L1379.21 445.13 L1382.13 445.47 L1392.19 446.48ZM1390.44 445.13 L1392.19 445.31 L1402.26 446.47 L1412.33 446.76 L1422.4 445.97 L1428.86 445.13 L1432.46 444.62 L1436.18 443.05 L1438.04 440.97 L1439.09 438.9 L1439.65 436.82 L1439.98 434.74 L1440.36 432.67 L1440.72 430.59 L1441.09 428.51 L1441.31 426.43 L1441.12 424.36 L1440.65 422.28 L1439.95 420.2 L1439.1 418.13 L1438.06 416.05 L1436.58 413.97 L1434.9 411.9 L1433.2 409.82 L1432.46 409.05 L1429.12 407.74 L1422.4 405.86 L1421.37 405.67 L1412.33 404.42 L1402.26 404.93 L1398.37 405.67 L1392.19 407.27 L1390.1 407.74 L1383.23 409.82 L1382.13 410.2 L1377.64 411.9 L1372.16 413.97 L1372.06 414.01 L1362.57 416.05 L1361.99 416.22 L1359.48 418.13 L1357.24 420.2 L1355.39 422.28 L1354.15 424.36 L1353.66 426.43 L1354.23 428.51 L1355.2 430.59 L1356.17 432.67 L1357.15 434.74 L1358.02 436.82 L1359.51 438.9 L1361.99 440.77 L1362.69 440.97 L1372.06 442.6 L1373.46 443.05 L1382.13 444.21ZM1399.69 445.13 L1402.26 445.43 L1412.33 445.75 L1419.63 445.13 L1422.4 444.88 L1432.46 443.42 L1433.35 443.05 L1435.42 440.97 L1436.59 438.9 L1437.21 436.82 L1437.58 434.74 L1437.99 432.67 L1438.4 430.59 L1438.81 428.51 L1439.05 426.43 L1438.85 424.36 L1438.32 422.28 L1437.54 420.2 L1436.6 418.13 L1435.44 416.05 L1433.79 413.97 L1432.46 412.47 L1431.14 411.9 L1426.42 409.82 L1422.4 408.33 L1420.03 407.74 L1412.33 406.31 L1402.26 407.01 L1399.39 407.74 L1393.38 409.82 L1392.19 410.29 L1387.42 411.9 L1382.13 413.66 L1381.27 413.97 L1375.87 416.05 L1372.08 418.13 L1372.06 418.14 L1365.94 420.2 L1361.99 421.8 L1361.53 422.28 L1360.15 424.36 L1359.61 426.43 L1360.24 428.51 L1361.33 430.59 L1361.99 431.88 L1363.01 432.67 L1365.7 434.74 L1368.09 436.82 L1372.06 438.84 L1372.12 438.9 L1375.94 440.97 L1382.13 442.88 L1382.73 443.05 L1392.19 444.18ZM1392.1 443.05 L1392.19 443.06 L1402.26 444.42 L1412.33 444.76 L1422.4 443.83 L1427.62 443.05 L1432.46 441.3 L1432.8 440.97 L1434.08 438.9 L1434.77 436.82 L1435.17 434.74 L1435.63 432.67 L1436.08 430.59 L1436.53 428.51 L1436.79 426.43 L1436.57 424.36 L1435.99 422.28 L1435.13 420.2 L1434.1 418.13 L1432.82 416.05 L1432.46 415.62 L1428.84 413.97 L1423.74 411.9 L1422.4 411.33 L1417.07 409.82 L1412.33 408.66 L1402.26 409.61 L1401.62 409.82 L1396.18 411.9 L1392.19 413.42 L1390.48 413.97 L1384.47 416.05 L1382.13 417.18 L1380.27 418.13 L1376.87 420.2 L1374.07 422.28 L1372.18 424.36 L1372.06 424.7 L1370.83 426.43 L1372.06 427.93 L1372.3 428.51 L1373.79 430.59 L1375.26 432.67 L1376.74 434.74 L1378.06 436.82 L1380.31 438.9 L1382.13 439.82 L1384.55 440.97ZM1399.5 443.05 L1402.26 443.42 L1412.33 443.8 L1419.88 443.05 L1422.4 442.47 L1426.77 440.97 L1430.26 438.9 L1432.13 436.82 L1432.46 436.18 L1432.77 434.74 L1433.26 432.67 L1433.75 430.59 L1434.25 428.51 L1434.53 426.43 L1434.29 424.36 L1433.66 422.28 L1432.73 420.2 L1432.46 419.71 L1430.3 418.13 L1426.83 416.05 L1422.4 414.17 L1421.72 413.97 L1414.01 411.9 L1412.33 411.43 L1407.98 411.9 L1402.26 412.47 L1398.11 413.97 L1392.95 416.05 L1392.19 416.46 L1388.54 418.13 L1384.79 420.2 L1382.13 421.98 L1381.69 422.28 L1379.64 424.36 L1378.83 426.43 L1379.77 428.51 L1381.39 430.59 L1382.13 431.56 L1383 432.67 L1384.64 434.74 L1386.1 436.82 L1388.59 438.9 L1392.19 440.53 L1393.01 440.97ZM1399.85 440.97 L1402.26 441.72 L1412.33 442.58 L1419.42 440.97 L1422.4 439.81 L1424.03 438.9 L1426.05 436.82 L1427.24 434.74 L1428.57 432.67 L1429.89 430.59 L1431.22 428.51 L1432 426.43 L1431.33 424.36 L1429.64 422.28 L1427.12 420.2 L1424.07 418.13 L1422.4 417.18 L1419.51 416.05 L1412.33 414.03 L1402.26 415.1 L1399.78 416.05 L1395.85 418.13 L1392.65 420.2 L1392.19 420.55 L1389.41 422.28 L1387.16 424.36 L1386.27 426.43 L1387.3 428.51 L1389.07 430.59 L1390.83 432.67 L1392.19 434.26 L1392.52 434.74 L1393.77 436.82 L1395.89 438.9ZM1402.82 438.9 L1412.33 440.27 L1416.01 438.9 L1419.04 436.82 L1420.81 434.74 L1422.4 433.09 L1422.69 432.67 L1424.11 430.59 L1425.55 428.51 L1426.38 426.43 L1425.66 424.36 L1423.84 422.28 L1422.4 421.16 L1420.63 420.2 L1416.07 418.13 L1412.33 416.72 L1402.66 418.13 L1402.26 418.2 L1398.93 420.2 L1396.09 422.28 L1394.17 424.36 L1393.42 426.43 L1394.29 428.51 L1395.8 430.59 L1397.29 432.67 L1398.8 434.74 L1400.14 436.82 L1402.26 438.75ZM1411.88 434.74 L1412.33 434.94 L1412.5 434.74 L1414.64 432.67 L1416.76 430.59 L1418.89 428.51 L1420.12 426.43 L1419.06 424.36 L1416.35 422.28 L1412.33 420.21 L1402.26 422.22 L1402.17 422.28 L1400.12 424.36 L1399.32 426.43 L1400.25 428.51 L1401.86 430.59 L1402.26 431.11 L1406.36 432.67Z"/>
</g>
<path class="ax" d="M1351.92 462.05v-5.2M1351.92 35v5.2M1452.6 462.05v-5.2M1452.6 35v5.2M1553.27 462.05v-5.2M1553.27 35v5.2M1653.95 462.05v-5.2M1653.95 35v5.2M1754.62 462.05v-5.2M1754.62 35v5.2M1332 448.45h5.2M1855.3 448.45h-5.2M1332 379.22h5.2M1855.3 379.22h-5.2M1332 309.99h5.2M1855.3 309.99h-5.2M1332 240.76h5.2M1855.3 240.76h-5.2M1332 171.53h5.2M1855.3 171.53h-5.2M1332 102.3h5.2M1855.3 102.3h-5.2"/>
<rect class="ax" x="1332" y="35" width="523.3" height="427.05"/>
<text class="t" transform="translate(1352.92 493.95) scale(1 1.04)" text-anchor="middle">250</text>
<text class="t" transform="translate(1453.6 493.95) scale(1 1.04)" text-anchor="middle">300</text>
<text class="t" transform="translate(1554.27 493.95) scale(1 1.04)" text-anchor="middle">350</text>
<text class="t" transform="translate(1654.95 493.95) scale(1 1.04)" text-anchor="middle">400</text>
<text class="t" transform="translate(1755.62 493.95) scale(1 1.04)" text-anchor="middle">450</text>
<text class="t" transform="translate(1856.3 493.95) scale(1 1.04)" text-anchor="middle">500</text>
<text class="h" x="1593.65" y="24.1" text-anchor="middle">Comp.3</text>
<text class="l" x="1593.65" y="528.6" text-anchor="middle">Ex. (nm)</text>
</g>
<g id="load3">
<clipPath id="cq2"><rect x="1329.95" y="592.15" width="527.4" height="431.8"/></clipPath>
<path class="gr" d="M1345.6 594.2V1021.9M1418.62 594.2V1021.9M1491.65 594.2V1021.9M1564.67 594.2V1021.9M1637.7 594.2V1021.9M1710.72 594.2V1021.9M1783.75 594.2V1021.9M1332 968.44H1855.3M1332 914.98H1855.3M1332 861.51H1855.3M1332 808.05H1855.3M1332 754.59H1855.3M1332 701.12H1855.3M1332 647.66H1855.3"/>
<path class="ax" d="M1345.6 1021.9v-5.2M1345.6 594.2v5.2M1418.62 1021.9v-5.2M1418.62 594.2v5.2M1491.65 1021.9v-5.2M1491.65 594.2v5.2M1564.67 1021.9v-5.2M1564.67 594.2v5.2M1637.7 1021.9v-5.2M1637.7 594.2v5.2M1710.72 1021.9v-5.2M1710.72 594.2v5.2M1783.75 1021.9v-5.2M1783.75 594.2v5.2M1332 968.44h5.2M1855.3 968.44h-5.2M1332 914.98h5.2M1855.3 914.98h-5.2M1332 861.51h5.2M1855.3 861.51h-5.2M1332 808.05h5.2M1855.3 808.05h-5.2M1332 754.59h5.2M1855.3 754.59h-5.2M1332 701.12h5.2M1855.3 701.12h-5.2M1332 647.66h5.2M1855.3 647.66h-5.2"/>
<rect class="ax" x="1332" y="594.2" width="523.3" height="427.7"/>
<g clip-path="url(#cq2)">
<path class="em" stroke="#0072bd" d="M1404.6 996.32 L1406.79 983.49 L1408.99 966.17 L1411.18 948.53 L1413.37 919.66 L1415.56 889.51 L1417.75 859.25 L1419.94 829.57 L1422.13 776.7 L1424.32 738.53 L1426.51 714.91 L1428.7 701.34 L1430.89 696.39 L1433.08 698.98 L1435.27 696.27 L1437.47 687.52 L1439.66 680.54 L1441.85 678.4 L1444.04 678.13 L1446.23 682.99 L1448.42 688.19 L1450.61 698.16 L1452.8 708.13 L1454.99 720.97 L1457.18 735.73 L1459.37 754.07 L1461.56 775.27 L1463.75 803.46 L1465.95 830.96 L1468.14 854.76 L1470.33 872.35 L1472.52 882.66 L1474.71 890.24 L1476.9 895.43 L1479.09 901.92 L1481.28 912.01 L1483.47 922.09 L1485.66 934.4 L1487.85 946.54 L1490.04 956.44 L1492.23 965.06 L1494.42 970.11 L1496.62 973.44 L1498.81 974.8 L1501 975.9 L1503.19 976.3 L1505.38 976.7 L1507.57 978.38 L1509.76 980.09 L1511.95 981.34 L1514.14 982.6 L1516.33 983.85 L1518.52 985.03 L1520.71 985.98 L1522.9 986.93 L1525.1 987.88 L1527.29 988.16 L1529.48 988.1 L1531.67 988.05 L1533.86 987.99 L1536.05 987.89 L1538.24 987.79 L1540.43 987.69 L1542.62 987.59 L1544.81 987.49 L1547 987.49 L1549.19 987.56 L1551.38 987.63 L1553.58 987.7 L1555.77 987.77 L1557.96 987.07 L1560.15 986.32 L1562.34 985.57 L1564.53 984.83 L1566.72 985.77 L1568.91 986.84 L1571.1 985.63 L1573.29 984.26 L1575.48 983.99 L1577.67 984.45 L1579.86 984.92 L1582.05 985.38 L1584.25 985.85 L1586.44 986.54 L1588.63 987.24 L1590.82 987.94 L1593.01 989.05 L1595.2 990.15 L1597.39 990.53 L1599.58 990.91 L1601.77 991.53 L1603.96 992.82 L1606.15 994.1 L1608.34 995.38 L1610.53 997.12 L1612.73 998.88 L1614.92 1000.64 L1617.11 1001.93 L1619.3 1002.89 L1621.49 1003.85 L1623.68 1004.81 L1625.87 1005.78 L1628.06 1006.74 L1630.25 1007.7 L1632.44 1008.21 L1634.63 1008.7 L1636.82 1009.18 L1639.01 1009.75 L1641.21 1010.4 L1643.4 1011.04 L1645.59 1011.68 L1647.78 1012.32 L1649.97 1012.96 L1652.16 1013.6 L1654.35 1014.24 L1656.54 1014.89 L1658.73 1015.53 L1660.92 1015.59 L1663.11 1015.27 L1665.3 1014.95 L1667.49 1014.72 L1669.68 1014.72 L1671.88 1014.72 L1674.07 1014.72 L1676.26 1014.72 L1678.45 1014.72 L1680.64 1014.72 L1682.83 1014.76 L1685.02 1014.84 L1687.21 1014.92 L1689.4 1015 L1691.59 1015.08 L1693.78 1015.16 L1695.97 1015.24 L1698.16 1015.4 L1700.36 1015.56 L1702.55 1015.72 L1704.74 1015.21 L1706.93 1014.24 L1709.12 1013.28 L1711.31 1012.66 L1713.5 1012.98 L1715.69 1013.3 L1717.88 1013.62 L1720.07 1014.54 L1722.26 1015.51 L1724.45 1016.47 L1726.64 1017.05 L1728.84 1017.37 L1731.03 1017.69 L1733.22 1018.01 L1735.41 1018.33 L1737.6 1018.65 L1739.79 1018.97 L1741.98 1019.59 L1744.17 1020.23 L1746.36 1020.87 L1748.55 1021.13 L1750.74 1021.13 L1752.93 1021.13 L1755.12 1021.18 L1757.31 1021.36 L1759.51 1021.53 L1761.7 1021.71 L1763.89 1021.89 L1766.08 1022.07 L1768.27 1021.34 L1770.46 1018.14 L1772.65 1015.62 L1774.84 1015.02 L1777.03 1014.42 L1779.22 1013.82 L1781.41 1013.22 L1783.6 1012.62 L1785.79 1012.88 L1787.99 1013.2 L1790.18 1013.52 L1792.37 1013.18 L1794.56 1012.41 L1796.75 1011.64 L1798.94 1010.77 L1801.13 1009.62 L1803.32 1008.46 L1805.51 1007.31 L1807.7 1007.68 L1809.89 1008.16 L1812.08 1008.64 L1814.27 1008.55 L1816.47 1008.06 L1818.66 1007.58 L1820.85 1007.14 L1823.04 1006.82 L1825.23 1006.5 L1827.42 1006.18 L1829.61 1005.86 L1831.8 1005.54 L1833.99 1005.22 L1836.18 1004.51 L1838.37 1003.55 L1840.56 1002.59 L1842.75 1001.96 L1844.94 1002.22 L1847.14 1001.16 L1849.33 996.46 L1851.52 991.77 L1855.02 984.33"/>
<path class="ex" stroke="#0072bd" stroke-dashoffset="1.83" d="M1330.99 847.91 L1338.3 828.67 L1345.6 798.73 L1352.9 755.32 L1360.2 737.78 L1367.51 702.82 L1374.81 668.28 L1382.11 624.44 L1389.41 611.61 L1396.72 644.75 L1404.02 690.73 L1411.32 805.14 L1418.62 888.54 L1425.93 928.11 L1433.23 1022.2 L1440.53 1022.2 L1447.83 1016.85 L1455.14 1007.23 L1462.44 1018.99 L1469.74 1022.2 L1477.04 1022.2 L1484.35 1022.2 L1491.65 1022.2 L1498.95 1022.2 L1506.25 1022.2 L1513.56 1022.2 L1520.86 1022.2 L1528.16 1022.2 L1535.46 1022.2 L1542.77 1022.2 L1550.07 1022.2 L1557.37 1022.2 L1564.67 1022.2 L1571.98 1022.2 L1579.28 1022.2 L1586.58 1022.2 L1593.88 1022.2 L1601.19 1022.2 L1608.49 1022.2 L1615.79 1022.2 L1623.09 1022.2 L1630.4 1022.2 L1637.7 1022.2 L1645 1022.2 L1652.3 1022.2 L1659.61 1022.2 L1666.91 1022.2 L1674.21 1022.2 L1681.51 1022.2 L1688.82 1022.2 L1696.12 1022.2 L1703.42 1022.2 L1710.72 1022.2"/>
<path class="em" stroke="#d95319" d="M1404.6 993.97 L1406.79 990.36 L1408.99 986.13 L1411.18 981.85 L1413.37 959.61 L1415.56 922.87 L1417.75 888.54 L1419.94 857 L1422.13 826.93 L1424.32 769.54 L1426.51 737.14 L1428.7 716.48 L1430.89 702.37 L1433.08 702.62 L1435.27 701.85 L1437.47 695.44 L1439.66 689.59 L1441.85 685.31 L1444.04 683.09 L1446.23 686.49 L1448.42 690.24 L1450.61 698.91 L1452.8 707.58 L1454.99 719.13 L1457.18 732.6 L1459.37 749.07 L1461.56 767.5 L1463.75 790.76 L1465.95 814.77 L1468.14 839.89 L1470.33 859.06 L1472.52 868.23 L1474.71 875.52 L1476.9 881.18 L1479.09 888.09 L1481.28 898.4 L1483.47 908.71 L1485.66 922.98 L1487.85 936.74 L1490.04 945.33 L1492.23 952.98 L1494.42 958.03 L1496.62 961.35 L1498.81 962.71 L1501 963.94 L1503.19 964.78 L1505.38 965.63 L1507.57 966.21 L1509.76 967.03 L1511.95 968.63 L1514.14 970.21 L1516.33 971.7 L1518.52 973.17 L1520.71 974.57 L1522.9 975.96 L1525.1 977.36 L1527.29 977.73 L1529.48 977.59 L1531.67 977.44 L1533.86 977.3 L1536.05 977.55 L1538.24 977.83 L1540.43 978.11 L1542.62 978.4 L1544.81 978.68 L1547 978.91 L1549.19 979.12 L1551.38 979.32 L1553.58 979.53 L1555.77 979.74 L1557.96 979.05 L1560.15 978.3 L1562.34 977.56 L1564.53 976.81 L1566.72 976.01 L1568.91 975.21 L1571.1 974.21 L1573.29 973.2 L1575.48 973.65 L1577.67 975.07 L1579.86 976.32 L1582.05 977.07 L1584.25 977.83 L1586.44 978.37 L1588.63 978.91 L1590.82 979.45 L1593.01 979.99 L1595.2 980.66 L1597.39 983.11 L1599.58 985.55 L1601.77 987.48 L1603.96 987.99 L1606.15 988.51 L1608.34 989.02 L1610.53 990.16 L1612.73 991.35 L1614.92 992.53 L1617.11 993.64 L1619.3 994.7 L1621.49 995.76 L1623.68 996.88 L1625.87 998.16 L1628.06 999.45 L1630.25 1000.73 L1632.44 1001.8 L1634.63 1002.86 L1636.82 1003.92 L1639.01 1004.86 L1641.21 1005.73 L1643.4 1006.6 L1645.59 1007.36 L1647.78 1007.84 L1649.97 1008.32 L1652.16 1008.8 L1654.35 1009.43 L1656.54 1010.07 L1658.73 1010.72 L1660.92 1010.78 L1663.11 1010.46 L1665.3 1010.14 L1667.49 1009.99 L1669.68 1010.31 L1671.88 1010.63 L1674.07 1010.95 L1676.26 1011.27 L1678.45 1011.59 L1680.64 1011.91 L1682.83 1012.28 L1685.02 1012.68 L1687.21 1013.08 L1689.4 1013.49 L1691.59 1013.89 L1693.78 1014.29 L1695.97 1014.69 L1698.16 1015.01 L1700.36 1015.34 L1702.55 1015.66 L1704.74 1014.82 L1706.93 1013.22 L1709.12 1011.61 L1711.31 1010.76 L1713.5 1009.96 L1715.69 1009.65 L1717.88 1010.72 L1720.07 1012.04 L1722.26 1014.05 L1724.45 1016.05 L1726.64 1016.74 L1728.84 1016.55 L1731.03 1016.35 L1733.22 1016.3 L1735.41 1016.62 L1737.6 1017.5 L1739.79 1019.9 L1741.98 1020.81 L1744.17 1021.61 L1746.36 1022.2 L1748.55 1022.2 L1750.74 1022.2 L1752.93 1022.2 L1755.12 1022.2 L1757.31 1022.2 L1759.51 1022.2 L1761.7 1022.2 L1763.89 1022.2 L1766.08 1022.2 L1768.27 1021.2 L1770.46 1017.46 L1772.65 1014.47 L1774.84 1013.53 L1777.03 1012.59 L1779.22 1011.66 L1781.41 1011.03 L1783.6 1011.23 L1785.79 1011.43 L1787.99 1011.83 L1790.18 1012.36 L1792.37 1012.19 L1794.56 1011.55 L1796.75 1010.91 L1798.94 1010.22 L1801.13 1009.42 L1803.32 1008.62 L1805.51 1007.82 L1807.7 1007.77 L1809.89 1007.77 L1812.08 1007.77 L1814.27 1007.15 L1816.47 1006.12 L1818.66 1005.1 L1820.85 1004.16 L1823.04 1003.46 L1825.23 1003.24 L1827.42 1004.31 L1829.61 1004.74 L1831.8 1003.42 L1833.99 1002.09 L1836.18 1000.95 L1838.37 999.92 L1840.56 998.89 L1842.75 998.36 L1844.94 999.16 L1847.14 998.75 L1849.33 995.01 L1851.52 991.41 L1855.02 986.27"/>
<path class="ex" stroke="#d95319" stroke-dashoffset="3.53" d="M1330.99 856.47 L1338.3 838.29 L1345.6 808.35 L1352.9 765.58 L1360.2 747.4 L1367.51 705.7 L1374.81 669.35 L1382.11 626.58 L1389.41 606.26 L1396.72 641.55 L1404.02 687.52 L1411.32 797.66 L1418.62 863.95 L1425.93 917.41 L1433.23 1020.06 L1440.53 1022.2 L1447.83 1011.51 L1455.14 998.68 L1462.44 1015.78 L1469.74 1022.2 L1477.04 1022.2 L1484.35 1022.2 L1491.65 1022.2 L1498.95 1022.2 L1506.25 1022.2 L1513.56 1022.2 L1520.86 1022.2 L1528.16 1022.2 L1535.46 1022.2 L1542.77 1022.2 L1550.07 1022.2 L1557.37 1022.2 L1564.67 1022.2 L1571.98 1022.2 L1579.28 1022.2 L1586.58 1022.2 L1593.88 1022.2 L1601.19 1022.2 L1608.49 1022.2 L1615.79 1022.2 L1623.09 1022.2 L1630.4 1022.2 L1637.7 1022.2 L1645 1022.2 L1652.3 1022.2 L1659.61 1022.2 L1666.91 1022.2 L1674.21 1022.2 L1681.51 1022.2 L1688.82 1022.2 L1696.12 1022.2 L1703.42 1022.2 L1710.72 1022.2"/>
<path class="em" stroke="#edb120" d="M1404.6 1001.24 L1406.79 986.81 L1408.99 967.08 L1411.18 946.98 L1413.37 917.65 L1415.56 887.37 L1417.75 857 L1419.94 826.93 L1422.13 773.28 L1424.32 734.79 L1426.51 711.09 L1428.7 697.21 L1430.89 692.39 L1433.08 695.49 L1435.27 692.84 L1437.47 683.6 L1439.66 676.4 L1441.85 674.8 L1444.04 674.96 L1446.23 679.97 L1448.42 685.35 L1450.61 696.06 L1452.8 706.77 L1454.99 720.4 L1457.18 735.99 L1459.37 756.01 L1461.56 778.98 L1463.75 808.91 L1465.95 837.17 L1468.14 861.46 L1470.33 879.49 L1472.52 890.25 L1474.71 897.72 L1476.9 902.3 L1479.09 908.38 L1481.28 918.6 L1483.47 928.81 L1485.66 942.08 L1487.85 955.2 L1490.04 965.91 L1492.23 974.81 L1494.42 978.73 L1496.62 981.25 L1498.81 982.17 L1501 982.73 L1503.19 982.29 L1505.38 981.84 L1507.57 983.98 L1509.76 986.18 L1511.95 987.44 L1514.14 988.69 L1516.33 989.95 L1518.52 991.24 L1520.71 992.64 L1522.9 994.04 L1525.1 995.43 L1527.29 995.17 L1529.48 994.08 L1531.67 992.99 L1533.86 991.91 L1536.05 991.66 L1538.24 991.48 L1540.43 991.3 L1542.62 991.12 L1544.81 990.94 L1547 990.99 L1549.19 991.2 L1551.38 991.41 L1553.58 991.61 L1555.77 991.82 L1557.96 990.69 L1560.15 989.46 L1562.34 988.23 L1564.53 987 L1566.72 988.91 L1568.91 991.05 L1571.1 989.91 L1573.29 988.53 L1575.48 988.1 L1577.67 988.28 L1579.86 988.47 L1582.05 988.65 L1584.25 988.84 L1586.44 989.61 L1588.63 990.37 L1590.82 991.14 L1593.01 992.1 L1595.2 992.98 L1597.39 992.6 L1599.58 992.22 L1601.77 992.31 L1603.96 993.69 L1606.15 995.07 L1608.34 996.45 L1610.53 997.77 L1612.73 999.08 L1614.92 1000.4 L1617.11 1001.33 L1619.3 1002 L1621.49 1002.67 L1623.68 1003.17 L1625.87 1003.17 L1628.06 1003.17 L1630.25 1003.17 L1632.44 1003.5 L1634.63 1003.85 L1636.82 1004.2 L1639.01 1004.56 L1641.21 1004.91 L1643.4 1005.26 L1645.59 1005.52 L1647.78 1005.52 L1649.97 1005.52 L1652.16 1005.52 L1654.35 1004.47 L1656.54 1005.82 L1658.73 1008.81 L1660.92 1009.8 L1663.11 1009.45 L1665.3 1009.09 L1667.49 1008.92 L1669.68 1009.26 L1671.88 1009.6 L1674.07 1009.93 L1676.26 1010.27 L1678.45 1010.61 L1680.64 1010.95 L1682.83 1011.39 L1685.02 1011.9 L1687.21 1012.41 L1689.4 1012.93 L1691.59 1013.44 L1693.78 1013.95 L1695.97 1014.47 L1698.16 1014.86 L1700.36 1015.25 L1702.55 1015.63 L1704.74 1015.4 L1706.93 1014.76 L1709.12 1014.12 L1711.31 1013.73 L1713.5 1014.05 L1715.69 1014.37 L1717.88 1014.69 L1720.07 1016.81 L1722.26 1019.06 L1724.45 1021.3 L1726.64 1022.2 L1728.84 1022.2 L1731.03 1022.2 L1733.22 1022.2 L1735.41 1022.2 L1737.6 1022.2 L1739.79 1022.2 L1741.98 1022.2 L1744.17 1022.2 L1746.36 1022.2 L1748.55 1022.2 L1750.74 1022.2 L1752.93 1022.2 L1755.12 1022.2 L1757.31 1022.2 L1759.51 1022.2 L1761.7 1022.2 L1763.89 1022.2 L1766.08 1022.2 L1768.27 1021.34 L1770.46 1018.14 L1772.65 1015.62 L1774.84 1015.02 L1777.03 1014.42 L1779.22 1013.82 L1781.41 1013.22 L1783.6 1012.62 L1785.79 1012.97 L1787.99 1013.38 L1790.18 1013.8 L1792.37 1013.45 L1794.56 1012.58 L1796.75 1011.71 L1798.94 1010.81 L1801.13 1009.82 L1803.32 1008.83 L1805.51 1007.83 L1807.7 1008.21 L1809.89 1008.7 L1812.08 1009.18 L1814.27 1009.08 L1816.47 1008.6 L1818.66 1008.12 L1820.85 1007.67 L1823.04 1007.32 L1825.23 1006.97 L1827.42 1006.61 L1829.61 1006.29 L1831.8 1005.97 L1833.99 1005.65 L1836.18 1005 L1838.37 1004.13 L1840.56 1003.27 L1842.75 1002.7 L1844.94 1002.97 L1847.14 1001.81 L1849.33 996.73 L1851.52 991.58 L1855.02 983.03"/>
<path class="ex" stroke="#edb120" stroke-dashoffset="4.11" d="M1330.99 852.19 L1338.3 830.8 L1345.6 797.66 L1352.9 759.16 L1360.2 738.85 L1367.51 702.82 L1374.81 668.28 L1382.11 623.37 L1389.41 620.16 L1396.72 647.96 L1404.02 690.73 L1411.32 800.87 L1418.62 861.81 L1425.93 917.41 L1433.23 1021.13 L1440.53 1022.2 L1447.83 1020.06 L1455.14 1017.92 L1462.44 1021.13 L1469.74 1022.2 L1477.04 1022.2 L1484.35 1022.2 L1491.65 1022.2 L1498.95 1022.2 L1506.25 1022.2 L1513.56 1022.2 L1520.86 1022.2 L1528.16 1022.2 L1535.46 1022.2 L1542.77 1022.2 L1550.07 1022.2 L1557.37 1022.2 L1564.67 1022.2 L1571.98 1022.2 L1579.28 1022.2 L1586.58 1022.2 L1593.88 1022.2 L1601.19 1022.2 L1608.49 1022.2 L1615.79 1022.2 L1623.09 1022.2 L1630.4 1022.2 L1637.7 1022.2 L1645 1022.2 L1652.3 1022.2 L1659.61 1022.2 L1666.91 1022.2 L1674.21 1022.2 L1681.51 1022.2 L1688.82 1022.2 L1696.12 1022.2 L1703.42 1022.2 L1710.72 1022.2"/>
</g>
<text class="t" transform="translate(1346.5 1053.8) scale(1 1.04)" text-anchor="middle">250</text>
<text class="t" transform="translate(1419.53 1053.8) scale(1 1.04)" text-anchor="middle">300</text>
<text class="t" transform="translate(1492.55 1053.8) scale(1 1.04)" text-anchor="middle">350</text>
<text class="t" transform="translate(1565.58 1053.8) scale(1 1.04)" text-anchor="middle">400</text>
<text class="t" transform="translate(1638.6 1053.8) scale(1 1.04)" text-anchor="middle">450</text>
<text class="t" transform="translate(1711.62 1053.8) scale(1 1.04)" text-anchor="middle">500</text>
<text class="t" transform="translate(1784.65 1053.8) scale(1 1.04)" text-anchor="middle">550</text>
<text class="t" transform="translate(1323.6 1031.2) scale(1 1.04)" text-anchor="end">0</text>
<text class="t" transform="translate(1323.6 977.74) scale(1 1.04)" text-anchor="end">0.05</text>
<text class="t" transform="translate(1323.6 924.27) scale(1 1.04)" text-anchor="end">0.1</text>
<text class="t" transform="translate(1323.6 870.81) scale(1 1.04)" text-anchor="end">0.15</text>
<text class="t" transform="translate(1323.6 817.35) scale(1 1.04)" text-anchor="end">0.2</text>
<text class="t" transform="translate(1323.6 763.89) scale(1 1.04)" text-anchor="end">0.25</text>
<text class="t" transform="translate(1323.6 710.42) scale(1 1.04)" text-anchor="end">0.3</text>
<text class="t" transform="translate(1323.6 656.96) scale(1 1.04)" text-anchor="end">0.35</text>
<text class="t" transform="translate(1323.6 603.5) scale(1 1.04)" text-anchor="end">0.4</text>
<text class="l" x="1593.65" y="1088.5" text-anchor="middle">Wavelength (nm)</text>
</g>
<g id="eem4">
<clipPath id="cp3"><rect x="1957.85" y="35" width="523.15" height="427.05"/></clipPath>
<rect x="1957.85" y="35" width="523.15" height="427.05" fill="#3e26a8"/>
<g clip-path="url(#cp3)">
<path fill="#4538d7" fill-rule="evenodd" d="M1956.28 301.82 L1956.28 301.96 L1967.56 302.16 L1977.62 302.81 L1987.69 303.05 L1997.76 302.66 L2007.83 302.01 L2011.24 301.82 L2017.89 301.4 L2027.96 300.87 L2038.03 299.77 L2038.24 299.74 L2048.1 298.26 L2051.66 297.67 L2058.16 296.35 L2061.38 295.59 L2068.23 293.55 L2068.42 293.51 L2077.57 291.44 L2078.3 291.23 L2086.07 289.36 L2088.37 288.69 L2093.07 287.28 L2098.43 285.42 L2099.19 285.21 L2107.43 283.13 L2108.5 282.83 L2118.57 281.9 L2123.43 283.13 L2128.64 284.32 L2132 285.21 L2138.7 287.17 L2138.99 287.28 L2145.15 289.36 L2148.77 290.35 L2152.14 291.44 L2158.84 293.11 L2160.37 293.51 L2168.91 295.38 L2169.86 295.59 L2178.97 297.28 L2181.52 297.67 L2189.04 298.65 L2199.11 299.11 L2209.18 299.23 L2219.24 299.09 L2229.31 298.88 L2239.38 298.61 L2249.45 298.38 L2259.51 298.12 L2269.58 297.8 L2270.85 297.67 L2279.65 296.61 L2287.02 295.59 L2289.72 295.17 L2298.99 293.51 L2299.78 293.35 L2309.84 291.44 L2309.85 291.43 L2319.5 289.36 L2319.92 289.25 L2326.22 287.28 L2329.99 285.91 L2332.19 285.21 L2339.35 283.13 L2340.06 282.9 L2346.95 281.05 L2350.12 280.08 L2353.73 278.97 L2359.66 276.9 L2360.19 276.7 L2368.01 274.82 L2370.26 274.24 L2377.74 272.74 L2380.32 272.15 L2384.11 270.67 L2388.73 268.59 L2390.39 267.79 L2393.26 266.51 L2397.58 264.44 L2400.46 262.74 L2401.09 262.36 L2404.3 260.28 L2407.27 258.21 L2409.88 256.13 L2410.53 255.49 L2412.17 254.05 L2414.44 251.98 L2416.6 249.9 L2418.5 247.82 L2420.23 245.74 L2420.59 245.29 L2421.7 243.67 L2423.05 241.59 L2424.27 239.51 L2425.43 237.44 L2426.5 235.36 L2427.28 233.28 L2428.05 231.21 L2428.61 229.13 L2428.96 227.05 L2429.27 224.98 L2429.5 222.9 L2429.58 220.82 L2429.37 218.74 L2429.13 216.67 L2428.83 214.59 L2428.49 212.51 L2428.07 210.44 L2427.65 208.36 L2427.22 206.28 L2426.43 204.21 L2425.68 202.13 L2425.11 200.05 L2424.53 197.98 L2424.18 195.9 L2423.85 193.82 L2423.38 191.75 L2422.55 189.67 L2421.69 187.59 L2420.81 185.51 L2420.59 184.92 L2419.97 183.44 L2419.14 181.36 L2418.29 179.28 L2417.43 177.21 L2415.61 175.13 L2413.72 173.05 L2412.33 170.98 L2411.12 168.9 L2410.53 167.9 L2409.97 166.82 L2409.21 164.75 L2408.95 162.67 L2408.21 160.59 L2406.73 158.51 L2405.18 156.44 L2403.6 154.36 L2402.28 152.28 L2400.92 150.21 L2400.46 149.52 L2399.51 148.13 L2398.05 146.05 L2396.67 143.98 L2395.43 141.9 L2394.16 139.82 L2392.84 137.75 L2391.49 135.67 L2390.39 134.72 L2389.21 133.59 L2386.58 131.52 L2385.13 129.44 L2383.62 127.36 L2381.96 125.28 L2380.32 123.58 L2379.73 123.21 L2376.37 121.13 L2372.86 119.05 L2370.26 117.86 L2368.85 116.98 L2365.13 114.9 L2362.38 112.82 L2360.19 110.94 L2360.05 110.75 L2358.58 108.67 L2357.04 106.59 L2355.17 104.52 L2353.21 102.44 L2351.14 100.36 L2350.12 99.37 L2349.06 98.28 L2347.1 96.21 L2345.23 94.13 L2343.27 92.05 L2341.21 89.98 L2340.05 88.85 L2339.29 87.9 L2337.8 85.82 L2336.28 83.75 L2334.7 81.67 L2333.04 79.59 L2331.19 77.52 L2329.99 76.33 L2329.24 75.44 L2327.41 73.36 L2326.49 71.28 L2325.91 69.21 L2323.94 67.13 L2321.28 65.05 L2319.92 64.01 L2318.38 62.98 L2316.88 60.9 L2315.33 58.82 L2313.71 56.75 L2312.07 54.67 L2310.47 52.59 L2309.85 51.82 L2308.99 50.52 L2307.58 48.44 L2306.3 46.36 L2305.05 44.29 L2303.76 42.21 L2303.59 40.13 L2303.59 38.05 L2303.59 33.9 L2299.78 33.9 L2289.72 33.9 L2279.65 33.9 L2269.58 33.9 L2259.51 33.9 L2249.45 33.9 L2239.38 33.9 L2229.31 33.9 L2219.24 33.9 L2209.18 33.9 L2199.11 33.9 L2189.04 33.9 L2178.97 33.9 L2168.91 33.9 L2158.84 33.9 L2156.97 33.9 L2156.97 38.05 L2156.97 40.13 L2156.84 42.21 L2155.84 44.29 L2154.88 46.36 L2153.89 48.44 L2152.79 50.52 L2151.74 52.59 L2150.72 54.67 L2149.68 56.75 L2148.77 58.59 L2148.63 58.82 L2147.33 60.9 L2146.08 62.98 L2143.54 65.05 L2141.1 67.13 L2139.28 69.21 L2138.75 71.28 L2138.7 71.38 L2137.58 73.36 L2135.25 75.44 L2133.04 77.52 L2131.12 79.59 L2129.4 81.67 L2128.64 82.62 L2127.51 83.75 L2125.5 85.82 L2123.52 87.9 L2121.33 89.98 L2119.24 92.05 L2118.57 92.74 L2116.71 92.05 L2110.9 89.98 L2108.5 89.15 L2107.35 87.9 L2105.64 85.82 L2103.9 83.75 L2102.08 81.67 L2100.17 79.59 L2098.43 77.89 L2098.14 77.52 L2096.3 75.44 L2094.34 73.36 L2093.35 71.28 L2092.73 69.21 L2090.62 67.13 L2088.37 65.47 L2087.81 65.05 L2085.05 62.98 L2083.7 60.9 L2082.29 58.82 L2080.83 56.75 L2079.35 54.67 L2078.3 53.16 L2078 52.59 L2076.87 50.52 L2075.69 48.44 L2074.64 46.36 L2073.6 44.29 L2072.54 42.21 L2072.39 40.13 L2072.39 38.05 L2072.39 33.9 L2068.23 33.9 L2058.16 33.9 L2048.1 33.9 L2038.03 33.9 L2027.96 33.9 L2017.89 33.9 L2007.83 33.9 L1997.76 33.9 L1987.69 33.9 L1977.62 33.9 L1967.56 33.9 L1956.28 33.9 L1956.28 38.05 L1956.28 40.13 L1956.28 42.21 L1956.28 44.29 L1956.28 46.36 L1956.28 48.44 L1956.28 50.52 L1956.28 52.59 L1956.28 54.67 L1956.28 56.75 L1956.28 58.82 L1956.28 60.9 L1956.28 62.98 L1956.28 65.05 L1956.28 67.13 L1956.28 69.21 L1956.28 71.28 L1956.28 73.36 L1956.28 75.44 L1956.28 77.52 L1956.28 79.59 L1956.28 81.67 L1956.28 83.75 L1956.28 85.82 L1956.28 87.9 L1956.28 89.98 L1956.28 92.05 L1956.28 94.13 L1956.28 96.21 L1956.28 98.28 L1956.28 100.36 L1956.28 102.44 L1956.28 104.52 L1956.28 106.59 L1956.28 108.67 L1956.28 110.75 L1956.28 112.82 L1956.28 114.9 L1956.28 116.98 L1956.28 119.05 L1956.28 121.13 L1956.28 123.21 L1956.28 125.28 L1956.28 127.36 L1956.28 129.44 L1956.28 131.52 L1956.28 133.59 L1956.28 135.67 L1956.28 137.75 L1956.28 139.82 L1956.28 141.9 L1956.28 143.98 L1956.28 146.05 L1956.28 148.13 L1956.28 150.21 L1956.28 152.28 L1956.28 154.36 L1956.28 156.44 L1956.28 158.51 L1956.28 160.59 L1956.28 162.67 L1956.28 164.75 L1956.28 166.82 L1956.28 168.9 L1956.28 170.98 L1956.28 173.05 L1956.28 175.13 L1956.28 177.21 L1956.28 179.28 L1956.28 181.36 L1956.28 183.44 L1956.28 185.51 L1956.28 187.59 L1956.28 189.67 L1956.28 191.75 L1956.28 193.82 L1956.28 195.9 L1956.28 197.98 L1956.28 200.05 L1956.28 202.13 L1956.28 204.21 L1956.28 206.28 L1956.28 208.36 L1956.28 210.44 L1956.28 212.51 L1956.28 214.59 L1956.28 216.67 L1956.28 218.74 L1956.28 220.82 L1956.28 222.9 L1956.28 224.98 L1956.28 227.05 L1956.28 229.13 L1956.28 231.21 L1956.28 233.28 L1956.28 235.36 L1956.28 237.44 L1956.28 239.51 L1956.28 241.59 L1956.28 243.67 L1956.28 245.74 L1956.28 247.82 L1956.28 249.9 L1956.28 251.98 L1956.28 254.05 L1956.28 256.13 L1956.28 258.21 L1956.28 260.28 L1956.28 262.36 L1956.28 264.44 L1956.28 266.51 L1956.28 268.59 L1956.28 270.67 L1956.28 272.74 L1956.28 274.82 L1956.28 276.9 L1956.28 278.97 L1956.28 281.05 L1956.28 283.13 L1956.28 285.21 L1956.28 287.28 L1956.28 289.36 L1956.28 291.44 L1956.28 293.51 L1956.28 295.59 L1956.28 297.67 L1956.28 299.74 L1956.28 301.82Z"/>
<path fill="#484ff2" fill-rule="evenodd" d="M1971.64 297.67 L1977.62 298.39 L1987.69 298.88 L1997.76 298.11 L2001.46 297.67 L2007.83 296.8 L2017.88 295.59 L2017.89 295.59 L2027.96 294.51 L2032.95 293.51 L2038.03 292.32 L2041.38 291.44 L2047.49 289.36 L2048.1 289.11 L2052.8 287.28 L2057.28 285.21 L2058.16 284.85 L2062.12 283.13 L2066.18 281.05 L2068.23 279.84 L2070.61 278.97 L2075.69 276.9 L2078.3 275.69 L2080.64 274.82 L2085.7 272.74 L2088.37 271.43 L2089.92 270.67 L2093.69 268.59 L2097.1 266.51 L2098.43 265.64 L2100.75 264.44 L2104.06 262.36 L2107.1 260.28 L2108.5 259.27 L2113.04 258.21 L2118.57 256.78 L2120.56 258.21 L2123.81 260.28 L2127.32 262.36 L2128.64 263.09 L2130.6 264.44 L2134.29 266.51 L2138.36 268.59 L2138.7 268.76 L2141.7 270.67 L2145.49 272.74 L2148.77 274.24 L2149.82 274.82 L2153.89 276.9 L2158.64 278.97 L2158.84 279.06 L2163.37 281.05 L2168.91 283.09 L2168.99 283.13 L2174.69 285.21 L2178.97 286.87 L2180.13 287.28 L2186.69 289.36 L2189.04 289.98 L2199.11 290.96 L2209.18 291.23 L2219.24 290.91 L2229.31 290.47 L2239.38 289.88 L2249.45 289.39 L2249.92 289.36 L2259.52 288.79 L2269.58 288.07 L2272.73 287.28 L2279.65 285.35 L2280.13 285.21 L2288.25 283.13 L2289.72 282.71 L2295.25 281.05 L2299.78 279.48 L2301.44 278.97 L2307.57 276.9 L2309.85 276.03 L2313.5 274.82 L2319.09 272.74 L2319.92 272.38 L2323.28 270.67 L2326.81 268.59 L2329.98 266.51 L2329.99 266.51 L2333.54 264.44 L2336.43 262.36 L2339.07 260.28 L2340.05 259.47 L2341.97 258.21 L2344.78 256.13 L2347 254.05 L2349.09 251.98 L2350.12 250.91 L2351.16 249.9 L2353.06 247.82 L2354.79 245.74 L2356.44 243.67 L2358.03 241.59 L2359.44 239.51 L2360.19 238.38 L2361.24 237.44 L2363.36 235.36 L2364.93 233.28 L2366.46 231.21 L2367.59 229.13 L2368.28 227.05 L2368.91 224.98 L2369.37 222.9 L2369.54 220.82 L2369.11 218.74 L2368.63 216.67 L2368.02 214.59 L2367.35 212.51 L2366.51 210.44 L2365.66 208.36 L2364.8 206.28 L2363.22 204.21 L2361.74 202.13 L2360.6 200.05 L2360.19 199.32 L2359.75 197.98 L2359.34 195.9 L2358.95 193.82 L2358.41 191.75 L2357.43 189.67 L2356.43 187.59 L2355.4 185.51 L2354.53 183.44 L2353.7 181.36 L2352.85 179.28 L2351.99 177.21 L2350.18 175.13 L2350.12 175.07 L2348.42 173.05 L2347.14 170.98 L2346.02 168.9 L2344.88 166.82 L2344.06 164.75 L2343.77 162.67 L2342.98 160.59 L2341.38 158.51 L2340.05 156.85 L2339.8 156.44 L2338.5 154.36 L2337.41 152.28 L2336.29 150.21 L2335.13 148.13 L2333.93 146.05 L2332.79 143.98 L2331.77 141.9 L2330.72 139.82 L2329.99 138.41 L2329.7 137.75 L2328.8 135.67 L2327.17 133.59 L2325.17 131.52 L2324.06 129.44 L2322.91 127.36 L2321.65 125.28 L2320.12 123.21 L2319.92 122.95 L2318.37 121.13 L2316.52 119.05 L2314.11 116.98 L2311.37 114.9 L2309.85 113.33 L2309.44 112.82 L2307.98 110.75 L2306.46 108.67 L2304.85 106.59 L2302.92 104.52 L2300.89 102.44 L2299.78 101.35 L2298.96 100.36 L2297.14 98.28 L2295.38 96.21 L2293.69 94.13 L2291.92 92.05 L2290.06 89.98 L2289.72 89.6 L2288.18 87.9 L2286.49 85.82 L2284.77 83.75 L2282.98 81.67 L2281.1 79.59 L2279.65 78.15 L2279.03 77.52 L2276.74 75.44 L2274.32 73.36 L2273.09 71.28 L2272.32 69.21 L2269.7 67.13 L2269.58 67.06 L2259.51 65.22 L2258.45 65.05 L2249.45 63.65 L2244.64 62.98 L2239.38 61.43 L2237.9 60.9 L2231.99 58.82 L2229.31 57.91 L2225 56.75 L2219.24 55.21 L2216.52 54.67 L2209.18 53.16 L2200.37 54.67 L2199.11 54.88 L2195.89 56.75 L2192.36 58.82 L2189.04 60.85 L2189.01 60.9 L2187.68 62.98 L2184.98 65.05 L2182.37 67.13 L2180.43 69.21 L2179.87 71.28 L2178.97 73.33 L2178.96 73.36 L2177.17 75.44 L2175.48 77.52 L2174.01 79.59 L2172.69 81.67 L2171.43 83.75 L2170.23 85.82 L2169.05 87.9 L2168.91 88.12 L2167.51 89.98 L2166.03 92.05 L2164.61 94.13 L2163.26 96.21 L2161.85 98.28 L2160.4 100.36 L2159.02 102.44 L2158.84 102.72 L2157.49 104.52 L2155.99 106.59 L2154.76 108.67 L2153.58 110.75 L2152.45 112.82 L2151.17 114.9 L2149.43 116.98 L2148.77 117.86 L2147.63 119.05 L2146.09 121.13 L2144.62 123.21 L2143.21 125.28 L2142.04 127.36 L2140.99 129.44 L2139.97 131.52 L2138.7 132.92 L2137.9 133.59 L2135.8 135.67 L2134.65 137.75 L2133.53 139.82 L2132.44 141.9 L2131.38 143.98 L2130.2 146.05 L2128.96 148.13 L2128.64 148.68 L2127.51 150.21 L2126.02 152.28 L2124.57 154.36 L2122.84 156.44 L2121.16 158.51 L2119.53 160.59 L2118.73 162.67 L2118.57 163.78 L2118.14 162.67 L2115.89 160.59 L2111.38 158.51 L2108.5 157.23 L2107.94 156.44 L2106.44 154.36 L2105.19 152.28 L2103.9 150.21 L2102.57 148.13 L2101.19 146.05 L2099.88 143.98 L2098.71 141.9 L2098.43 141.42 L2097.73 139.82 L2096.8 137.75 L2095.83 135.67 L2094.08 133.59 L2091.93 131.52 L2090.75 129.44 L2089.52 127.36 L2088.37 125.59 L2088.18 125.28 L2086.65 123.21 L2085.05 121.13 L2083.38 119.05 L2081.2 116.98 L2078.72 114.9 L2078.3 114.42 L2077.24 112.82 L2076.03 110.75 L2074.77 108.67 L2073.44 106.59 L2071.84 104.52 L2070.16 102.44 L2068.39 100.36 L2068.23 100.18 L2067.28 98.28 L2066.26 96.21 L2065.29 94.13 L2064.27 92.05 L2063.2 89.98 L2062.07 87.9 L2061.06 85.82 L2060.03 83.75 L2058.95 81.67 L2058.16 80.21 L2057.84 79.59 L2056.63 77.52 L2055.24 75.44 L2053.76 73.36 L2053.02 71.28 L2052.55 69.21 L2050.95 67.13 L2048.81 65.05 L2048.1 64.37 L2046.79 62.98 L2045.84 60.9 L2044.85 58.82 L2043.83 56.75 L2042.79 54.67 L2041.77 52.59 L2040.72 50.52 L2039.62 48.44 L2038.64 46.36 L2038.03 45.04 L2037.68 44.29 L2036.71 42.21 L2036.58 40.13 L2036.58 38.05 L2036.58 33.9 L2027.96 33.9 L2017.89 33.9 L2007.83 33.9 L1997.76 33.9 L1987.69 33.9 L1977.62 33.9 L1967.56 33.9 L1956.28 33.9 L1956.28 38.05 L1956.28 40.13 L1956.28 42.21 L1956.28 44.29 L1956.28 46.36 L1956.28 48.44 L1956.28 50.52 L1956.28 52.59 L1956.28 54.67 L1956.28 56.75 L1956.28 58.82 L1956.28 60.9 L1956.28 62.98 L1956.28 65.05 L1956.28 67.13 L1956.28 69.21 L1956.28 71.28 L1956.28 73.36 L1956.28 75.44 L1956.28 77.52 L1956.28 79.59 L1956.28 81.67 L1956.28 83.75 L1956.28 85.82 L1956.28 87.9 L1956.28 89.98 L1956.28 92.05 L1956.28 94.13 L1956.28 96.21 L1956.28 98.28 L1956.28 100.36 L1956.28 102.44 L1956.28 104.52 L1956.28 106.59 L1956.28 108.67 L1956.28 110.75 L1956.28 112.82 L1956.28 114.9 L1956.28 116.98 L1956.28 119.05 L1956.28 121.13 L1956.28 123.21 L1956.28 125.28 L1956.28 127.36 L1956.28 129.44 L1956.28 131.52 L1956.28 133.59 L1956.28 135.67 L1956.28 137.75 L1956.28 139.82 L1956.28 141.9 L1956.28 143.98 L1956.28 146.05 L1956.28 148.13 L1956.28 150.21 L1956.28 152.28 L1956.28 154.36 L1956.28 156.44 L1956.28 158.51 L1956.28 160.59 L1956.28 162.67 L1956.28 164.75 L1956.28 166.82 L1956.28 168.9 L1956.28 170.98 L1956.28 173.05 L1956.28 175.13 L1956.28 177.21 L1956.28 179.28 L1956.28 181.36 L1956.28 183.44 L1956.28 185.51 L1956.28 187.59 L1956.28 189.67 L1956.28 191.75 L1956.28 193.82 L1956.28 195.9 L1956.28 197.98 L1956.28 200.05 L1956.28 202.13 L1956.28 204.21 L1956.28 206.28 L1956.28 208.36 L1956.28 210.44 L1956.28 212.51 L1956.28 214.59 L1956.28 216.67 L1956.28 218.74 L1956.28 220.82 L1956.28 222.9 L1956.28 224.98 L1956.28 227.05 L1956.28 229.13 L1956.28 231.21 L1956.28 233.28 L1956.28 235.36 L1956.28 237.44 L1956.28 239.51 L1956.28 241.59 L1956.28 243.67 L1956.28 245.74 L1956.28 247.82 L1956.28 249.9 L1956.28 251.98 L1956.28 254.05 L1956.28 256.13 L1956.28 258.21 L1956.28 260.28 L1956.28 262.36 L1956.28 264.44 L1956.28 266.51 L1956.28 268.59 L1956.28 270.67 L1956.28 272.74 L1956.28 274.82 L1956.28 276.9 L1956.28 278.97 L1956.28 281.05 L1956.28 283.13 L1956.28 285.21 L1956.28 287.28 L1956.28 289.36 L1956.28 291.44 L1956.28 293.51 L1956.28 295.59 L1956.28 296.7 L1967.56 297.1 L1971.64 297.67Z"/>
<path fill="#4367fd" fill-rule="evenodd" d="M1974.94 293.51 L1977.62 293.98 L1987.69 294.71 L1997.76 293.55 L1997.97 293.51 L2007.83 291.59 L2008.79 291.44 L2017.89 289.64 L2019.62 289.36 L2027.96 287.81 L2029.58 287.28 L2035.27 285.21 L2038.03 284.29 L2041.29 283.13 L2046.37 281.05 L2048.1 280.25 L2050.99 278.97 L2055.09 276.9 L2058.16 275.1 L2058.63 274.82 L2061.82 272.74 L2064.41 270.67 L2066.63 268.59 L2068.23 266.95 L2068.95 266.51 L2072.19 264.44 L2074.82 262.36 L2077.22 260.28 L2078.3 259.3 L2079.84 258.21 L2082.45 256.13 L2084.5 254.05 L2086.45 251.98 L2088.3 249.9 L2088.37 249.81 L2090.04 247.82 L2091.63 245.74 L2093.14 243.67 L2094.6 241.59 L2095.9 239.51 L2097.15 237.44 L2098.29 235.36 L2098.43 235 L2099.35 233.28 L2100.44 231.21 L2101.24 229.13 L2101.73 227.05 L2102.17 224.98 L2102.5 222.9 L2102.62 220.82 L2102.31 218.74 L2101.97 216.67 L2101.54 214.59 L2101.07 212.51 L2100.47 210.44 L2099.87 208.36 L2099.26 206.28 L2098.43 204.75 L2098.21 204.21 L2097.41 202.13 L2096.8 200.05 L2096.18 197.98 L2095.81 195.9 L2095.45 193.82 L2094.95 191.75 L2094.05 189.67 L2093.13 187.59 L2092.19 185.51 L2091.39 183.44 L2090.63 181.36 L2089.85 179.28 L2089.05 177.21 L2088.37 176.34 L2087.45 175.13 L2085.83 173.05 L2084.64 170.98 L2083.6 168.9 L2082.54 166.82 L2081.78 164.75 L2081.51 162.67 L2080.78 160.59 L2079.29 158.51 L2078.3 157.17 L2077.89 156.44 L2076.7 154.36 L2075.71 152.28 L2074.69 150.21 L2073.63 148.13 L2072.54 146.05 L2071.5 143.98 L2070.57 141.9 L2069.62 139.82 L2068.63 137.75 L2068.23 136.92 L2067.89 135.67 L2066.86 133.59 L2065.6 131.52 L2064.9 129.44 L2064.18 127.36 L2063.38 125.28 L2062.42 123.21 L2061.41 121.13 L2060.36 119.05 L2058.98 116.98 L2058.16 115.87 L2057.45 114.9 L2056.34 112.82 L2055.36 110.75 L2054.34 108.67 L2053.27 106.59 L2051.98 104.52 L2050.62 102.44 L2049.19 100.36 L2048.1 98.84 L2047.74 98.28 L2046.47 96.21 L2045.25 94.13 L2043.98 92.05 L2042.64 89.98 L2041.24 87.9 L2039.97 85.82 L2038.68 83.75 L2038.03 82.73 L2037.35 81.67 L2035.98 79.59 L2034.44 77.52 L2032.67 75.44 L2030.8 73.36 L2029.85 71.28 L2029.26 69.21 L2027.96 67.87 L2026.8 67.13 L2022.47 65.05 L2017.97 62.98 L2017.89 62.91 L2016.34 60.9 L2014.68 58.82 L2012.95 56.75 L2011.19 54.67 L2009.47 52.59 L2007.83 50.68 L2007.72 50.52 L2006.37 48.44 L2005.15 46.36 L2003.96 44.29 L2002.73 42.21 L2002.56 40.13 L2002.56 38.05 L2002.56 33.9 L1997.76 33.9 L1987.69 33.9 L1977.62 33.9 L1970.6 33.9 L1970.6 38.05 L1970.6 40.13 L1970.45 42.21 L1969.28 44.29 L1968.15 46.36 L1967.56 47.43 L1965.16 48.44 L1959.64 50.52 L1956.28 51.82 L1956.28 52.59 L1956.28 54.67 L1956.28 56.75 L1956.28 58.82 L1956.28 60.9 L1956.28 62.98 L1956.28 65.05 L1956.28 67.13 L1956.28 69.21 L1956.28 71.28 L1956.28 73.36 L1956.28 75.44 L1956.28 77.52 L1956.28 79.59 L1956.28 81.67 L1956.28 83.75 L1956.28 85.82 L1956.28 87.9 L1956.28 89.98 L1956.28 92.05 L1956.28 94.13 L1956.28 96.21 L1956.28 98.28 L1956.28 100.36 L1956.28 102.44 L1956.28 104.52 L1956.28 106.59 L1956.28 108.67 L1956.28 110.75 L1956.28 112.82 L1956.28 114.9 L1956.28 116.98 L1956.28 119.05 L1956.28 121.13 L1956.28 123.21 L1956.28 125.28 L1956.28 127.36 L1956.28 129.44 L1956.28 131.52 L1956.28 133.59 L1956.28 135.67 L1956.28 137.75 L1956.28 139.82 L1956.28 141.9 L1956.28 143.98 L1956.28 146.05 L1956.28 148.13 L1956.28 150.21 L1956.28 152.28 L1956.28 154.36 L1956.28 156.44 L1956.28 158.51 L1956.28 160.59 L1956.28 162.67 L1956.28 164.75 L1956.28 166.82 L1956.28 168.9 L1956.28 170.98 L1956.28 173.05 L1956.28 175.13 L1956.28 177.21 L1956.28 179.28 L1956.28 181.36 L1956.28 183.44 L1956.28 185.51 L1956.28 187.59 L1956.28 189.67 L1956.28 191.75 L1956.28 193.82 L1956.28 195.9 L1956.28 197.98 L1956.28 200.05 L1956.28 202.13 L1956.28 204.21 L1956.28 206.28 L1956.28 208.36 L1956.28 210.44 L1956.28 212.51 L1956.28 214.59 L1956.28 216.67 L1956.28 218.74 L1956.28 220.82 L1956.28 222.9 L1956.28 224.98 L1956.28 227.05 L1956.28 229.13 L1956.28 231.21 L1956.28 233.28 L1956.28 235.36 L1956.28 237.44 L1956.28 239.51 L1956.28 241.59 L1956.28 243.67 L1956.28 245.74 L1956.28 247.82 L1956.28 249.9 L1956.28 251.98 L1956.28 254.05 L1956.28 256.13 L1956.28 258.21 L1956.28 260.28 L1956.28 262.36 L1956.28 264.44 L1956.28 266.51 L1956.28 268.59 L1956.28 270.67 L1956.28 272.74 L1956.28 274.82 L1956.28 276.9 L1956.28 278.97 L1956.28 281.05 L1956.28 283.13 L1956.28 285.21 L1956.28 287.28 L1956.28 289.36 L1956.28 291.43 L1956.33 291.44 L1967.56 292.04 L1974.94 293.51ZM2188.26 281.05 L2189.04 281.3 L2199.11 282.51 L2209.18 282.84 L2219.24 282.45 L2229.31 281.9 L2239.38 281.18 L2241.54 281.05 L2249.45 280.57 L2259.51 279.87 L2269.58 279.02 L2269.75 278.97 L2276.5 276.9 L2279.65 275.81 L2282.44 274.82 L2287.75 272.74 L2289.72 271.83 L2292.17 270.67 L2296.03 268.59 L2299.5 266.51 L2299.78 266.33 L2303.34 264.44 L2306.52 262.36 L2309.42 260.28 L2309.85 259.96 L2312.61 258.21 L2315.5 256.13 L2317.77 254.05 L2319.92 251.98 L2319.92 251.98 L2321.77 249.9 L2323.4 247.82 L2324.88 245.74 L2326.3 243.67 L2327.65 241.59 L2328.87 239.51 L2329.99 237.52 L2330.04 237.44 L2331.36 235.36 L2332.33 233.28 L2333.27 231.21 L2333.97 229.13 L2334.39 227.05 L2334.78 224.98 L2335.07 222.9 L2335.17 220.82 L2334.9 218.74 L2334.61 216.67 L2334.23 214.59 L2333.82 212.51 L2333.3 210.44 L2332.78 208.36 L2332.24 206.28 L2331.27 204.21 L2330.35 202.13 L2329.99 201.05 L2329.71 200.05 L2329.13 197.98 L2328.78 195.9 L2328.45 193.82 L2327.98 191.75 L2327.15 189.67 L2326.29 187.59 L2325.41 185.51 L2324.65 183.44 L2323.94 181.36 L2323.22 179.28 L2322.48 177.21 L2320.92 175.13 L2319.92 173.84 L2319.23 173.05 L2317.92 170.98 L2316.77 168.9 L2315.6 166.82 L2314.76 164.75 L2314.46 162.67 L2313.65 160.59 L2312.01 158.51 L2310.3 156.44 L2309.85 155.89 L2308.79 154.36 L2307.6 152.28 L2306.36 150.21 L2305.09 148.13 L2303.77 146.05 L2302.52 143.98 L2301.39 141.9 L2300.24 139.82 L2299.78 139.02 L2299.2 137.75 L2298.21 135.67 L2296.42 133.59 L2294.23 131.52 L2293.02 129.44 L2291.76 127.36 L2290.38 125.28 L2289.72 124.45 L2288.75 123.21 L2287.07 121.13 L2285.32 119.05 L2283.03 116.98 L2280.42 114.9 L2279.65 114.05 L2278.56 112.82 L2276.95 110.75 L2275.27 108.67 L2273.51 106.59 L2271.38 104.52 L2269.58 102.84 L2268.17 102.44 L2260.59 100.36 L2259.51 100.08 L2251.63 98.28 L2249.45 97.76 L2242.25 96.21 L2239.38 95.54 L2234.39 94.13 L2229.31 92.74 L2226.11 92.05 L2219.24 90.62 L2215.03 89.98 L2209.18 89.1 L2202.16 89.98 L2199.11 90.36 L2195.38 92.05 L2190.98 94.13 L2189.04 95.08 L2188.13 96.21 L2186.34 98.28 L2184.52 100.36 L2182.78 102.44 L2181.13 104.52 L2179.56 106.59 L2178.97 107.51 L2178.26 108.67 L2177.02 110.75 L2175.83 112.82 L2174.48 114.9 L2172.66 116.98 L2171.05 119.05 L2169.82 121.13 L2168.91 122.74 L2168.6 123.21 L2167.26 125.28 L2166.15 127.36 L2165.15 129.44 L2164.18 131.52 L2162.43 133.59 L2160.99 135.67 L2160.21 137.75 L2159.44 139.82 L2158.84 141.5 L2158.67 141.9 L2157.8 143.98 L2156.83 146.05 L2155.81 148.13 L2154.83 150.21 L2153.87 152.28 L2152.95 154.36 L2151.84 156.44 L2150.76 158.51 L2149.72 160.59 L2149.21 162.67 L2149.02 164.75 L2148.77 165.72 L2148.4 166.82 L2147.42 168.9 L2146.46 170.98 L2145.37 173.05 L2143.87 175.13 L2142.44 177.21 L2141.76 179.28 L2141.09 181.36 L2140.44 183.44 L2139.75 185.51 L2138.93 187.59 L2138.7 188.19 L2137.92 189.67 L2136.85 191.75 L2136.26 193.82 L2135.83 195.9 L2135.38 197.98 L2134.64 200.05 L2133.91 202.13 L2132.96 204.21 L2131.95 206.28 L2131.39 208.36 L2130.85 210.44 L2130.31 212.51 L2129.89 214.59 L2129.5 216.67 L2129.19 218.74 L2128.91 220.82 L2129.02 222.9 L2129.32 224.98 L2129.72 227.05 L2130.16 229.13 L2130.88 231.21 L2131.86 233.28 L2132.87 235.36 L2134.23 237.44 L2135.72 239.51 L2137.27 241.59 L2138.7 243.31 L2138.93 243.67 L2140.23 245.74 L2141.6 247.82 L2143.1 249.9 L2144.8 251.98 L2146.59 254.05 L2148.48 256.13 L2148.77 256.39 L2150.38 258.21 L2152.46 260.28 L2154.71 262.36 L2157.16 264.44 L2158.84 265.61 L2159.96 266.51 L2162.74 268.59 L2165.83 270.67 L2168.91 272.46 L2169.34 272.74 L2173.07 274.82 L2177.35 276.9 L2178.97 277.61 L2182.33 278.97 L2188.26 281.05Z"/>
<path fill="#2f80fa" fill-rule="evenodd" d="M1977.39 289.36 L1977.62 289.42 L1987.69 290.47 L1994.56 289.36 L1997.76 288.76 L2003.1 287.28 L2007.83 285.78 L2010.11 285.21 L2017.89 283.47 L2019.79 283.13 L2027.96 281.55 L2029.44 281.05 L2034.95 278.97 L2038.03 277.63 L2039.62 276.9 L2043.69 274.82 L2047.24 272.74 L2048.1 272.15 L2050.43 270.67 L2053.27 268.59 L2055.84 266.51 L2058.16 264.44 L2058.16 264.44 L2060.13 262.36 L2061.92 260.28 L2063.59 258.21 L2065.05 256.13 L2066.2 254.05 L2067.29 251.98 L2068.23 250.09 L2068.4 249.9 L2070.03 247.82 L2071.51 245.74 L2072.93 243.67 L2074.29 241.59 L2075.5 239.51 L2076.67 237.44 L2077.73 235.36 L2078.3 233.86 L2078.59 233.28 L2079.61 231.21 L2080.36 229.13 L2080.82 227.05 L2081.24 224.98 L2081.55 222.9 L2081.66 220.82 L2081.37 218.74 L2081.05 216.67 L2080.64 214.59 L2080.2 212.51 L2079.64 210.44 L2079.07 208.36 L2078.5 206.28 L2078.3 205.89 L2077.66 204.21 L2076.92 202.13 L2076.35 200.05 L2075.77 197.98 L2075.42 195.9 L2075.08 193.82 L2074.62 191.75 L2073.78 189.67 L2072.92 187.59 L2072.04 185.51 L2071.29 183.44 L2070.58 181.36 L2069.85 179.28 L2069.11 177.21 L2068.23 176.02 L2067.86 175.13 L2066.95 173.05 L2066.28 170.98 L2065.7 168.9 L2065.1 166.82 L2064.68 164.75 L2064.53 162.67 L2064.12 160.59 L2063.28 158.51 L2062.42 156.44 L2061.53 154.36 L2060.8 152.28 L2060.03 150.21 L2059.24 148.13 L2058.43 146.05 L2058.16 145.34 L2057.67 143.98 L2057.01 141.9 L2056.32 139.82 L2055.61 137.75 L2054.89 135.67 L2053.56 133.59 L2051.95 131.52 L2051.05 129.44 L2050.13 127.36 L2049.11 125.28 L2048.1 123.58 L2047.9 123.21 L2046.78 121.13 L2045.61 119.05 L2044.08 116.98 L2042.35 114.9 L2041.07 112.82 L2039.93 110.75 L2038.76 108.67 L2038.03 107.44 L2037.53 106.59 L2036.07 104.52 L2034.54 102.44 L2032.92 100.36 L2031.22 98.28 L2029.57 96.21 L2027.98 94.13 L2027.96 94.1 L2025.36 92.05 L2022.59 89.98 L2019.67 87.9 L2017.89 86.48 L2017.28 85.82 L2015.35 83.75 L2013.32 81.67 L2011.2 79.59 L2008.83 77.52 L2007.83 76.73 L2006.57 75.44 L2004.47 73.36 L2003.41 71.28 L2002.74 69.21 L2000.46 67.13 L1997.76 65.29 L1997.27 65.05 L1992.98 62.98 L1990.87 60.9 L1988.69 58.82 L1987.69 57.91 L1986.16 58.82 L1982.79 60.9 L1979.54 62.98 L1977.62 63.56 L1975.48 65.05 L1972.59 67.13 L1970.43 69.21 L1969.8 71.28 L1968.8 73.36 L1967.56 74.64 L1964.32 75.44 L1956.28 77.5 L1956.28 77.52 L1956.28 79.59 L1956.28 81.67 L1956.28 83.75 L1956.28 85.82 L1956.28 87.9 L1956.28 89.98 L1956.28 92.05 L1956.28 94.13 L1956.28 96.21 L1956.28 98.28 L1956.28 100.36 L1956.28 102.44 L1956.28 104.52 L1956.28 106.59 L1956.28 108.67 L1956.28 110.75 L1956.28 112.82 L1956.28 114.9 L1956.28 116.98 L1956.28 119.05 L1956.28 121.13 L1956.28 123.21 L1956.28 125.28 L1956.28 127.36 L1956.28 129.44 L1956.28 131.52 L1956.28 133.59 L1956.28 135.67 L1956.28 137.75 L1956.28 139.82 L1956.28 141.9 L1956.28 143.98 L1956.28 146.05 L1956.28 148.13 L1956.28 150.21 L1956.28 152.28 L1956.28 154.36 L1956.28 156.44 L1956.28 158.51 L1956.28 160.59 L1956.28 162.67 L1956.28 164.75 L1956.28 166.82 L1956.28 168.9 L1956.28 170.98 L1956.28 173.05 L1956.28 175.13 L1956.28 177.21 L1956.28 179.28 L1956.28 181.36 L1956.28 183.44 L1956.28 185.51 L1956.28 187.59 L1956.28 189.67 L1956.28 191.75 L1956.28 193.82 L1956.28 195.9 L1956.28 197.98 L1956.28 200.05 L1956.28 202.13 L1956.28 204.21 L1956.28 206.28 L1956.28 208.36 L1956.28 210.44 L1956.28 212.51 L1956.28 214.59 L1956.28 216.67 L1956.28 218.74 L1956.28 220.82 L1956.28 222.9 L1956.28 224.98 L1956.28 227.05 L1956.28 229.13 L1956.28 231.21 L1956.28 233.28 L1956.28 235.36 L1956.28 237.44 L1956.28 239.51 L1956.28 241.59 L1956.28 243.67 L1956.28 245.74 L1956.28 247.82 L1956.28 249.9 L1956.28 251.98 L1956.28 254.05 L1956.28 256.13 L1956.28 258.21 L1956.28 260.28 L1956.28 262.36 L1956.28 264.44 L1956.28 266.51 L1956.28 268.59 L1956.28 270.67 L1956.28 272.74 L1956.28 274.82 L1956.28 276.9 L1956.28 278.97 L1956.28 281.05 L1956.28 283.13 L1956.28 285.21 L1956.28 285.54 L1967.56 286.46 L1970.1 287.28 L1977.39 289.36ZM2196.36 274.82 L2199.11 275.25 L2209.18 275.69 L2219.24 275.16 L2223.98 274.82 L2229.31 274.43 L2239.38 273.45 L2248.02 272.74 L2249.45 272.61 L2259.51 271.6 L2267.15 270.67 L2269.58 270.35 L2273.51 268.59 L2277.73 266.51 L2279.65 265.5 L2281.66 264.44 L2284.94 262.36 L2287.93 260.28 L2289.72 258.96 L2290.75 258.21 L2293.29 256.13 L2295.28 254.05 L2297.18 251.98 L2298.97 249.9 L2299.78 248.84 L2300.74 247.82 L2302.53 245.74 L2304.24 243.67 L2305.88 241.59 L2307.34 239.51 L2308.75 237.44 L2309.85 235.66 L2310.07 235.36 L2311.23 233.28 L2312.36 231.21 L2313.19 229.13 L2313.7 227.05 L2314.16 224.98 L2314.5 222.9 L2314.62 220.82 L2314.3 218.74 L2313.95 216.67 L2313.5 214.59 L2313.01 212.51 L2312.39 210.44 L2311.77 208.36 L2311.13 206.28 L2309.97 204.21 L2309.85 203.99 L2309.05 202.13 L2308.36 200.05 L2307.66 197.98 L2307.24 195.9 L2306.84 193.82 L2306.27 191.75 L2305.27 189.67 L2304.23 187.59 L2303.17 185.51 L2302.26 183.44 L2301.4 181.36 L2300.53 179.28 L2299.78 177.56 L2299.66 177.21 L2298.15 175.13 L2296.57 173.05 L2295.42 170.98 L2294.41 168.9 L2293.37 166.82 L2292.63 164.75 L2292.38 162.67 L2291.66 160.59 L2290.22 158.51 L2289.72 157.82 L2288.76 156.44 L2287.28 154.36 L2286.05 152.28 L2284.78 150.21 L2283.46 148.13 L2282.1 146.05 L2280.81 143.98 L2279.65 141.9 L2279.65 141.89 L2278.52 139.82 L2277.36 137.75 L2276.17 135.67 L2273.99 133.59 L2271.33 131.52 L2269.86 129.44 L2269.58 129.06 L2265.55 127.36 L2260.14 125.28 L2259.51 125.08 L2252.75 123.21 L2249.45 122.32 L2244.6 121.13 L2239.38 119.88 L2236.54 119.05 L2229.31 117.41 L2226.89 116.98 L2219.24 115.74 L2212.09 114.9 L2209.18 114.42 L2205.68 114.9 L2199.11 115.54 L2195.01 116.98 L2189.75 119.05 L2189.04 119.41 L2187.69 121.13 L2186.12 123.21 L2184.62 125.28 L2183.38 127.36 L2182.25 129.44 L2181.17 131.52 L2179.2 133.59 L2178.97 133.88 L2177.6 135.67 L2176.71 137.75 L2175.85 139.82 L2175.02 141.9 L2174.21 143.98 L2173.3 146.05 L2172.35 148.13 L2171.43 150.21 L2170.54 152.28 L2169.68 154.36 L2168.91 155.89 L2168.59 156.44 L2167.39 158.51 L2166.24 160.59 L2165.66 162.67 L2165.46 164.75 L2164.87 166.82 L2164.04 168.9 L2163.23 170.98 L2162.31 173.05 L2161.04 175.13 L2159.83 177.21 L2159.26 179.28 L2158.84 180.81 L2158.66 181.36 L2158 183.44 L2157.3 185.51 L2156.48 187.59 L2155.68 189.67 L2154.9 191.75 L2154.46 193.82 L2154.15 195.9 L2153.82 197.98 L2153.28 200.05 L2152.75 202.13 L2152.06 204.21 L2151.32 206.28 L2150.92 208.36 L2150.52 210.44 L2150.13 212.51 L2149.82 214.59 L2149.53 216.67 L2149.31 218.74 L2149.11 220.82 L2149.18 222.9 L2149.4 224.98 L2149.69 227.05 L2150.02 229.13 L2150.54 231.21 L2151.26 233.28 L2151.99 235.36 L2152.98 237.44 L2154.07 239.51 L2155.2 241.59 L2156.47 243.67 L2157.79 245.74 L2158.84 247.33 L2159.12 247.82 L2160.39 249.9 L2161.82 251.98 L2163.34 254.05 L2164.93 256.13 L2166.97 258.21 L2168.91 259.96 L2169.22 260.28 L2171.32 262.36 L2173.61 264.44 L2176.44 266.51 L2178.97 268.22 L2179.56 268.59 L2183.01 270.67 L2187.05 272.74 L2189.04 273.61 L2196.36 274.82Z"/>
<path fill="#2797eb" fill-rule="evenodd" d="M1983.5 285.21 L1987.69 285.76 L1990.41 285.21 L1997.76 283.9 L2000.68 283.13 L2007.65 281.05 L2007.83 280.99 L2015.53 278.97 L2017.89 278.28 L2023.85 276.9 L2027.96 275.86 L2030.36 274.82 L2034.68 272.74 L2038.03 270.77 L2038.2 270.67 L2041.29 268.59 L2044.07 266.51 L2046.59 264.44 L2048.1 262.92 L2048.71 262.36 L2050.87 260.28 L2052.88 258.21 L2054.63 256.13 L2056.02 254.05 L2057.33 251.98 L2058.16 250.59 L2058.58 249.9 L2059.73 247.82 L2060.76 245.74 L2061.76 243.67 L2062.71 241.59 L2063.55 239.51 L2064.37 237.44 L2065.12 235.36 L2065.66 233.28 L2066.2 231.21 L2066.59 229.13 L2066.84 227.05 L2067.06 224.98 L2067.22 222.9 L2067.28 220.82 L2067.12 218.74 L2066.96 216.67 L2066.74 214.59 L2066.51 212.51 L2066.22 210.44 L2065.92 208.36 L2065.62 206.28 L2065.07 204.21 L2064.55 202.13 L2064.15 200.05 L2063.74 197.98 L2063.5 195.9 L2063.26 193.82 L2062.94 191.75 L2062.35 189.67 L2061.75 187.59 L2061.13 185.51 L2060.61 183.44 L2060.11 181.36 L2059.6 179.28 L2059.08 177.21 L2058.16 175.45 L2058 175.13 L2056.91 173.05 L2056.11 170.98 L2055.41 168.9 L2054.69 166.82 L2054.18 164.75 L2054 162.67 L2053.51 160.59 L2052.51 158.51 L2051.47 156.44 L2050.4 154.36 L2049.52 152.28 L2048.6 150.21 L2048.1 149.1 L2047.71 148.13 L2046.86 146.05 L2046.05 143.98 L2045.33 141.9 L2044.59 139.82 L2043.82 137.75 L2043.04 135.67 L2041.6 133.59 L2039.85 131.52 L2038.88 129.44 L2038.03 127.67 L2037.88 127.36 L2036.8 125.28 L2035.49 123.21 L2034.13 121.13 L2032.7 119.05 L2030.83 116.98 L2028.71 114.9 L2027.96 113.9 L2026.66 112.82 L2024.47 110.75 L2022.18 108.67 L2019.77 106.59 L2017.89 105.24 L2017.15 104.52 L2014.94 102.44 L2012.61 100.36 L2010.16 98.28 L2007.83 96.26 L2007.78 96.21 L2006.11 94.13 L2004.36 92.05 L2002.53 89.98 L2000.6 87.9 L1998.86 85.82 L1997.76 84.52 L1996.86 83.75 L1994.36 81.67 L1991.75 79.59 L1988.84 77.52 L1987.69 76.79 L1985.92 77.52 L1981.43 79.59 L1977.62 81.55 L1977.52 81.67 L1975.77 83.75 L1974.1 85.82 L1972.46 87.9 L1970.63 89.98 L1968.9 92.05 L1967.56 93.73 L1966.2 94.13 L1959.4 96.21 L1956.28 97.1 L1956.28 98.28 L1956.28 100.36 L1956.28 102.44 L1956.28 104.52 L1956.28 106.59 L1956.28 108.67 L1956.28 110.75 L1956.28 112.82 L1956.28 114.9 L1956.28 116.98 L1956.28 119.05 L1956.28 121.13 L1956.28 123.21 L1956.28 125.28 L1956.28 127.36 L1956.28 129.44 L1956.28 131.52 L1956.28 133.59 L1956.28 135.67 L1956.28 137.75 L1956.28 139.82 L1956.28 141.9 L1956.28 143.98 L1956.28 146.05 L1956.28 148.13 L1956.28 150.21 L1956.28 152.28 L1956.28 154.36 L1956.28 156.44 L1956.28 158.51 L1956.28 160.59 L1956.28 162.67 L1956.28 164.75 L1956.28 166.82 L1956.28 168.9 L1956.28 170.98 L1956.28 173.05 L1956.28 175.13 L1956.28 177.21 L1956.28 179.28 L1956.28 181.36 L1956.28 183.44 L1956.28 185.51 L1956.28 187.59 L1956.28 189.67 L1956.28 191.75 L1956.28 193.82 L1956.28 195.9 L1956.28 197.98 L1956.28 200.05 L1956.28 202.13 L1956.28 204.21 L1956.28 206.28 L1956.28 208.36 L1956.28 210.44 L1956.28 212.51 L1956.28 214.59 L1956.28 216.67 L1956.28 218.74 L1956.28 220.82 L1956.28 222.9 L1956.28 224.98 L1956.28 227.05 L1956.28 229.13 L1956.28 231.21 L1956.28 233.28 L1956.28 235.36 L1956.28 237.44 L1956.28 239.51 L1956.28 241.59 L1956.28 243.67 L1956.28 245.74 L1956.28 247.82 L1956.28 249.9 L1956.28 251.98 L1956.28 254.05 L1956.28 256.13 L1956.28 258.21 L1956.28 260.28 L1956.28 262.36 L1956.28 264.44 L1956.28 266.51 L1956.28 268.59 L1956.28 270.67 L1956.28 272.74 L1956.28 274.82 L1956.28 276.9 L1956.28 278.97 L1956.28 280.75 L1959.93 281.05 L1967.56 281.65 L1972.38 283.13 L1977.62 284.55 L1983.5 285.21ZM2195.07 266.51 L2199.11 267.41 L2209.18 268.04 L2219.24 267.29 L2226.77 266.51 L2229.31 266.25 L2239.38 264.87 L2243.15 264.44 L2249.45 263.6 L2257.86 262.36 L2259.51 262.11 L2269.52 260.28 L2269.58 260.27 L2272.86 258.21 L2275.75 256.13 L2278.03 254.05 L2279.65 252.5 L2280.21 251.98 L2282.36 249.9 L2284.27 247.82 L2285.99 245.74 L2287.65 243.67 L2289.23 241.59 L2289.72 240.89 L2290.68 239.51 L2292.1 237.44 L2293.39 235.36 L2294.35 233.28 L2295.28 231.21 L2295.96 229.13 L2296.38 227.05 L2296.76 224.98 L2297.05 222.9 L2297.15 220.82 L2296.88 218.74 L2296.59 216.67 L2296.22 214.59 L2295.82 212.51 L2295.31 210.44 L2294.79 208.36 L2294.27 206.28 L2293.31 204.21 L2292.4 202.13 L2291.71 200.05 L2291.01 197.98 L2290.58 195.9 L2290.18 193.82 L2289.72 192.14 L2289.61 191.75 L2288.64 189.67 L2287.64 187.59 L2286.61 185.51 L2285.73 183.44 L2284.9 181.36 L2284.06 179.28 L2283.19 177.21 L2281.38 175.13 L2279.65 173.23 L2279.49 173.05 L2278.18 170.98 L2277.03 168.9 L2275.85 166.82 L2275.01 164.75 L2274.71 162.67 L2273.9 160.59 L2272.25 158.51 L2270.54 156.44 L2269.58 155.29 L2267.03 154.36 L2262.32 152.28 L2259.51 151.08 L2257.16 150.21 L2251.43 148.13 L2249.45 147.43 L2245.21 146.05 L2239.38 144.05 L2239.2 143.98 L2234.86 141.9 L2230.4 139.82 L2229.31 139.32 L2224.94 137.75 L2219.24 135.74 L2218.96 135.67 L2209.18 134.24 L2199.11 135.46 L2198.63 135.67 L2195.91 137.75 L2193.28 139.82 L2190.71 141.9 L2189.04 143.28 L2188.71 143.98 L2187.58 146.05 L2186.39 148.13 L2185.23 150.21 L2184.12 152.28 L2183.04 154.36 L2181.75 156.44 L2180.48 158.51 L2179.27 160.59 L2178.97 161.6 L2178.67 162.67 L2178.45 164.75 L2177.83 166.82 L2176.96 168.9 L2176.11 170.98 L2175.14 173.05 L2173.81 175.13 L2172.54 177.21 L2171.93 179.28 L2171.34 181.36 L2170.76 183.44 L2170.15 185.51 L2169.42 187.59 L2168.91 189.12 L2168.69 189.67 L2167.87 191.75 L2167.42 193.82 L2167.1 195.9 L2166.76 197.98 L2166.19 200.05 L2165.64 202.13 L2164.92 204.21 L2164.15 206.28 L2163.73 208.36 L2163.32 210.44 L2162.91 212.51 L2162.58 214.59 L2162.29 216.67 L2162.06 218.74 L2161.85 220.82 L2161.93 222.9 L2162.15 224.98 L2162.46 227.05 L2162.79 229.13 L2163.34 231.21 L2164.08 233.28 L2164.85 235.36 L2165.88 237.44 L2167.02 239.51 L2168.19 241.59 L2168.91 242.72 L2169.42 243.67 L2170.58 245.74 L2171.79 247.82 L2173.12 249.9 L2174.63 251.98 L2176.22 254.05 L2177.9 256.13 L2178.97 257.19 L2180.04 258.21 L2182.47 260.28 L2185.09 262.36 L2187.96 264.44 L2189.04 265.09 L2195.07 266.51Z"/>
<path fill="#1caadf" fill-rule="evenodd" d="M1980.95 281.05 L1987.69 281.9 L1992.06 281.05 L1997.76 279.84 L2000.5 278.97 L2006.36 276.9 L2007.83 276.32 L2012.72 274.82 L2017.89 273.04 L2019.02 272.74 L2025.73 270.67 L2027.96 269.89 L2030.18 268.59 L2033.44 266.51 L2036.39 264.44 L2038.03 263.03 L2038.81 262.36 L2041.05 260.28 L2043.13 258.21 L2044.96 256.13 L2046.4 254.05 L2047.76 251.98 L2048.1 251.45 L2049.2 249.9 L2050.52 247.82 L2051.71 245.74 L2052.86 243.67 L2053.96 241.59 L2054.94 239.51 L2055.88 237.44 L2056.74 235.36 L2057.37 233.28 L2057.99 231.21 L2058.16 230.41 L2058.45 229.13 L2058.75 227.05 L2059.01 224.98 L2059.2 222.9 L2059.27 220.82 L2059.09 218.74 L2058.89 216.67 L2058.64 214.59 L2058.35 212.51 L2058.16 211.4 L2058.01 210.44 L2057.67 208.36 L2057.32 206.28 L2056.68 204.21 L2056.08 202.13 L2055.62 200.05 L2055.15 197.98 L2054.87 195.9 L2054.6 193.82 L2054.22 191.75 L2053.55 189.67 L2052.85 187.59 L2052.14 185.51 L2051.53 183.44 L2050.96 181.36 L2050.37 179.28 L2049.78 177.21 L2048.52 175.13 L2048.1 174.45 L2047.33 173.05 L2046.5 170.98 L2045.77 168.9 L2045.02 166.82 L2044.49 164.75 L2044.31 162.67 L2043.79 160.59 L2042.75 158.51 L2041.67 156.44 L2040.56 154.36 L2039.64 152.28 L2038.69 150.21 L2038.03 148.82 L2037.71 148.13 L2036.71 146.05 L2035.77 143.98 L2034.92 141.9 L2034.05 139.82 L2033.15 137.75 L2032.23 135.67 L2030.55 133.59 L2028.49 131.52 L2027.96 130.54 L2027 129.44 L2025.12 127.36 L2023.06 125.28 L2020.56 123.21 L2017.95 121.13 L2017.89 121.08 L2015.96 119.05 L2013.38 116.98 L2010.44 114.9 L2008.27 112.82 L2007.83 112.34 L2006.75 110.75 L2005.3 108.67 L2003.77 106.59 L2001.92 104.52 L1999.98 102.44 L1997.94 100.36 L1997.76 100.18 L1995.1 98.28 L1992.27 96.21 L1989.57 94.13 L1987.69 92.74 L1984.79 94.13 L1980.63 96.21 L1977.62 97.63 L1977.01 98.28 L1974.97 100.36 L1973.04 102.44 L1971.21 104.52 L1969.46 106.59 L1968.01 108.67 L1967.56 109.35 L1963.59 110.75 L1957.9 112.82 L1956.28 113.33 L1956.28 114.9 L1956.28 116.98 L1956.28 119.05 L1956.28 121.13 L1956.28 123.21 L1956.28 125.28 L1956.28 127.36 L1956.28 129.44 L1956.28 131.52 L1956.28 133.59 L1956.28 135.67 L1956.28 137.75 L1956.28 139.82 L1956.28 141.9 L1956.28 143.98 L1956.28 146.05 L1956.28 148.13 L1956.28 150.21 L1956.28 152.28 L1956.28 154.36 L1956.28 156.44 L1956.28 158.51 L1956.28 160.59 L1956.28 162.67 L1956.28 164.75 L1956.28 166.82 L1956.28 168.9 L1956.28 170.98 L1956.28 173.05 L1956.28 175.13 L1956.28 177.21 L1956.28 179.28 L1956.28 181.36 L1956.28 183.44 L1956.28 185.51 L1956.28 187.59 L1956.28 189.67 L1956.28 191.75 L1956.28 193.82 L1956.28 195.9 L1956.28 197.98 L1956.28 200.05 L1956.28 202.13 L1956.28 204.21 L1956.28 206.28 L1956.28 208.36 L1956.28 210.44 L1956.28 212.51 L1956.28 214.59 L1956.28 216.67 L1956.28 218.74 L1956.28 220.82 L1956.28 222.9 L1956.28 224.98 L1956.28 227.05 L1956.28 229.13 L1956.28 231.21 L1956.28 233.28 L1956.28 235.36 L1956.28 237.44 L1956.28 239.51 L1956.28 241.59 L1956.28 243.67 L1956.28 245.74 L1956.28 247.82 L1956.28 249.9 L1956.28 251.98 L1956.28 254.05 L1956.28 256.13 L1956.28 258.21 L1956.28 260.28 L1956.28 262.36 L1956.28 264.44 L1956.28 266.51 L1956.28 268.59 L1956.28 270.67 L1956.28 272.74 L1956.28 274.82 L1956.28 276.03 L1965.19 276.9 L1967.56 277.12 L1972.55 278.97 L1977.62 280.61 L1980.95 281.05ZM2198.29 258.21 L2199.11 258.45 L2209.18 259.3 L2219.24 258.28 L2219.77 258.21 L2229.31 256.78 L2232.65 256.13 L2239.38 254.52 L2241.75 254.05 L2249.45 252.5 L2251.79 251.98 L2259.51 250.2 L2260.65 249.9 L2267.64 247.82 L2269.58 247.2 L2270.95 245.74 L2272.83 243.67 L2274.64 241.59 L2276.25 239.51 L2277.8 237.44 L2279.21 235.36 L2279.65 234.49 L2280.29 233.28 L2281.36 231.21 L2282.15 229.13 L2282.63 227.05 L2283.07 224.98 L2283.39 222.9 L2283.51 220.82 L2283.21 218.74 L2282.87 216.67 L2282.45 214.59 L2281.98 212.51 L2281.39 210.44 L2280.8 208.36 L2280.19 206.28 L2279.65 205.26 L2279.12 204.21 L2278.13 202.13 L2277.37 200.05 L2276.6 197.98 L2276.14 195.9 L2275.69 193.82 L2275.07 191.75 L2273.96 189.67 L2272.82 187.59 L2271.65 185.51 L2270.65 183.44 L2269.71 181.36 L2269.58 181.09 L2266.87 179.28 L2263.7 177.21 L2259.51 175.89 L2256.69 175.13 L2249.45 173.23 L2248.7 173.05 L2242.47 170.98 L2239.38 169.79 L2237.49 168.9 L2233.01 166.82 L2229.82 164.75 L2229.31 163.78 L2228.57 162.67 L2224.7 160.59 L2219.24 159.13 L2216.12 158.51 L2209.18 157.17 L2200.85 158.51 L2199.11 158.8 L2196.02 160.59 L2194.25 162.67 L2193.61 164.75 L2191.77 166.82 L2189.2 168.9 L2189.04 169.03 L2188.09 170.98 L2186.92 173.05 L2185.33 175.13 L2183.8 177.21 L2183.08 179.28 L2182.36 181.36 L2181.67 183.44 L2180.93 185.51 L2180.07 187.59 L2179.22 189.67 L2178.97 190.29 L2178.4 191.75 L2177.94 193.82 L2177.62 195.9 L2177.27 197.98 L2176.71 200.05 L2176.15 202.13 L2175.42 204.21 L2174.64 206.28 L2174.22 208.36 L2173.8 210.44 L2173.39 212.51 L2173.06 214.59 L2172.77 216.67 L2172.53 218.74 L2172.32 220.82 L2172.4 222.9 L2172.63 224.98 L2172.93 227.05 L2173.27 229.13 L2173.83 231.21 L2174.58 233.28 L2175.35 235.36 L2176.39 237.44 L2177.54 239.51 L2178.73 241.59 L2178.97 241.99 L2180.06 243.67 L2181.45 245.74 L2182.9 247.82 L2184.5 249.9 L2186.31 251.98 L2188.22 254.05 L2189.04 254.91 L2191.99 256.13 L2198.29 258.21Z"/>
<path fill="#01b9c7" fill-rule="evenodd" d="M1979.19 276.9 L1987.69 278.18 L1993.21 276.9 L1997.76 275.74 L2000.26 274.82 L2005.37 272.74 L2007.83 271.54 L2010.15 270.67 L2015.01 268.59 L2017.89 267.25 L2019.98 266.51 L2025.46 264.44 L2027.96 263.29 L2029.19 262.36 L2031.75 260.28 L2034.12 258.21 L2036.2 256.13 L2037.84 254.05 L2038.03 253.81 L2039.43 251.98 L2040.94 249.9 L2042.27 247.82 L2043.48 245.74 L2044.63 243.67 L2045.74 241.59 L2046.73 239.51 L2047.69 237.44 L2048.1 236.46 L2048.63 235.36 L2049.37 233.28 L2050.09 231.21 L2050.62 229.13 L2050.94 227.05 L2051.24 224.98 L2051.46 222.9 L2051.53 220.82 L2051.33 218.74 L2051.1 216.67 L2050.82 214.59 L2050.5 212.51 L2050.11 210.44 L2049.71 208.36 L2049.3 206.28 L2048.56 204.21 L2048.1 202.83 L2047.89 202.13 L2047.42 200.05 L2046.95 197.98 L2046.67 195.9 L2046.39 193.82 L2046.01 191.75 L2045.33 189.67 L2044.63 187.59 L2043.91 185.51 L2043.3 183.44 L2042.72 181.36 L2042.12 179.28 L2041.52 177.21 L2040.25 175.13 L2038.92 173.05 L2038.03 171.14 L2037.95 170.98 L2037.13 168.9 L2036.27 166.82 L2035.67 164.75 L2035.46 162.67 L2034.87 160.59 L2033.68 158.51 L2032.45 156.44 L2031.19 154.36 L2030.14 152.28 L2029.05 150.21 L2027.96 148.2 L2027.9 148.13 L2026.06 146.05 L2024.3 143.98 L2022.73 141.9 L2021.11 139.82 L2019.44 137.75 L2017.89 135.87 L2017.78 135.67 L2015.51 133.59 L2012.75 131.52 L2011.22 129.44 L2009.63 127.36 L2007.89 125.28 L2007.83 125.23 L2006.33 123.21 L2004.71 121.13 L2003.02 119.05 L2000.82 116.98 L1998.32 114.9 L1997.76 114.26 L1996.02 112.82 L1993.82 110.75 L1991.53 108.67 L1989.12 106.59 L1987.69 105.56 L1985.48 106.59 L1981.77 108.67 L1978.24 110.75 L1977.62 111.12 L1976.36 112.82 L1974.61 114.9 L1972.25 116.98 L1970.17 119.05 L1968.57 121.13 L1967.56 122.5 L1965.34 123.21 L1959.04 125.28 L1956.28 126.38 L1956.28 127.36 L1956.28 129.44 L1956.28 131.52 L1956.28 133.59 L1956.28 135.67 L1956.28 137.75 L1956.28 139.82 L1956.28 141.9 L1956.28 143.98 L1956.28 146.05 L1956.28 148.13 L1956.28 150.21 L1956.28 152.28 L1956.28 154.36 L1956.28 156.44 L1956.28 158.51 L1956.28 160.59 L1956.28 162.67 L1956.28 164.75 L1956.28 166.82 L1956.28 168.9 L1956.28 170.98 L1956.28 173.05 L1956.28 175.13 L1956.28 177.21 L1956.28 179.28 L1956.28 181.36 L1956.28 183.44 L1956.28 185.51 L1956.28 187.59 L1956.28 189.67 L1956.28 191.75 L1956.28 193.82 L1956.28 195.9 L1956.28 197.98 L1956.28 200.05 L1956.28 202.13 L1956.28 204.21 L1956.28 206.28 L1956.28 208.36 L1956.28 210.44 L1956.28 212.51 L1956.28 214.59 L1956.28 216.67 L1956.28 218.74 L1956.28 220.82 L1956.28 222.9 L1956.28 224.98 L1956.28 227.05 L1956.28 229.13 L1956.28 231.21 L1956.28 233.28 L1956.28 235.36 L1956.28 237.44 L1956.28 239.51 L1956.28 241.59 L1956.28 243.67 L1956.28 245.74 L1956.28 247.82 L1956.28 249.9 L1956.28 251.98 L1956.28 254.05 L1956.28 256.13 L1956.28 258.21 L1956.28 260.28 L1956.28 262.36 L1956.28 264.44 L1956.28 266.51 L1956.28 268.59 L1956.28 270.67 L1956.28 271.18 L1967.56 272.55 L1967.95 272.74 L1972.78 274.82 L1977.62 276.65 L1979.19 276.9ZM2206.64 247.82 L2209.18 248.16 L2211.29 247.82 L2219.24 246.47 L2222.35 245.74 L2229.31 244.08 L2230.68 243.67 L2237.34 241.59 L2239.38 240.89 L2244.25 239.51 L2249.45 238.01 L2251.27 237.44 L2257.32 235.36 L2259.51 234.35 L2261.52 233.28 L2265.34 231.21 L2268.16 229.13 L2269.58 227.42 L2269.68 227.05 L2270.16 224.98 L2270.52 222.9 L2270.65 220.82 L2270.31 218.74 L2269.94 216.67 L2269.58 215.07 L2269.23 214.59 L2267.56 212.51 L2265.46 210.44 L2263.34 208.36 L2261.18 206.28 L2259.51 205.4 L2256.91 204.21 L2252.68 202.13 L2249.45 200.06 L2249.44 200.05 L2245.88 197.98 L2243.75 195.9 L2241.7 193.82 L2239.38 192.14 L2238.95 191.75 L2234.85 189.67 L2230.64 187.59 L2229.31 186.95 L2225.58 185.51 L2220.98 183.44 L2219.24 182.6 L2215.76 181.36 L2209.83 179.28 L2209.18 179.06 L2208.39 179.28 L2201.28 181.36 L2199.11 182 L2197.73 183.44 L2195.62 185.51 L2193.14 187.59 L2190.72 189.67 L2189.04 191.14 L2188.77 191.75 L2188.23 193.82 L2187.85 195.9 L2187.45 197.98 L2186.79 200.05 L2186.13 202.13 L2185.28 204.21 L2184.38 206.28 L2183.89 208.36 L2183.4 210.44 L2182.92 212.51 L2182.54 214.59 L2182.19 216.67 L2181.92 218.74 L2181.67 220.82 L2181.76 222.9 L2182.03 224.98 L2182.39 227.05 L2182.78 229.13 L2183.43 231.21 L2184.3 233.28 L2185.2 235.36 L2186.42 237.44 L2187.76 239.51 L2189.04 241.44 L2189.29 241.59 L2193.11 243.67 L2197.11 245.74 L2199.11 246.75 L2206.64 247.82Z"/>
<path fill="#29c3aa" fill-rule="evenodd" d="M1977.99 272.74 L1987.69 274.43 L1993.98 272.74 L1997.76 271.55 L1999.7 270.67 L2003.77 268.59 L2007.44 266.51 L2007.83 266.28 L2011.84 264.44 L2015.53 262.36 L2017.89 260.92 L2019.29 260.28 L2023.6 258.21 L2027.39 256.13 L2027.96 255.74 L2029.48 254.05 L2031.25 251.98 L2032.94 249.9 L2034.42 247.82 L2035.77 245.74 L2037.07 243.67 L2038.03 242.06 L2038.31 241.59 L2039.44 239.51 L2040.53 237.44 L2041.52 235.36 L2042.26 233.28 L2042.97 231.21 L2043.5 229.13 L2043.82 227.05 L2044.11 224.98 L2044.33 222.9 L2044.41 220.82 L2044.2 218.74 L2043.98 216.67 L2043.7 214.59 L2043.39 212.51 L2042.99 210.44 L2042.6 208.36 L2042.2 206.28 L2041.46 204.21 L2040.76 202.13 L2040.23 200.05 L2039.69 197.98 L2039.37 195.9 L2039.05 193.82 L2038.62 191.75 L2038.03 190.17 L2037.84 189.67 L2037.06 187.59 L2036.26 185.51 L2035.57 183.44 L2034.92 181.36 L2034.26 179.28 L2033.59 177.21 L2032.17 175.13 L2030.69 173.05 L2029.6 170.98 L2028.66 168.9 L2027.96 167.41 L2027.52 166.82 L2026.42 164.75 L2026.04 162.67 L2024.97 160.59 L2022.81 158.51 L2020.57 156.44 L2018.28 154.36 L2017.89 153.94 L2016.78 152.28 L2015.35 150.21 L2013.87 148.13 L2012.33 146.05 L2010.88 143.98 L2009.57 141.9 L2008.23 139.82 L2007.83 139.21 L2007.11 137.75 L2006.08 135.67 L2004.19 133.59 L2001.88 131.52 L2000.6 129.44 L1999.27 127.36 L1997.82 125.28 L1997.76 125.22 L1995.46 123.21 L1992.97 121.13 L1990.37 119.05 L1987.69 117.41 L1983.56 119.05 L1979.55 121.13 L1977.62 122.16 L1976.76 123.21 L1975.09 125.28 L1973.71 127.36 L1972.46 129.44 L1971.25 131.52 L1969.06 133.59 L1967.56 135.34 L1966.36 135.67 L1962.12 137.75 L1958.01 139.82 L1956.28 140.71 L1956.28 141.9 L1956.28 143.98 L1956.28 146.05 L1956.28 148.13 L1956.28 150.21 L1956.28 152.28 L1956.28 154.36 L1956.28 156.44 L1956.28 158.51 L1956.28 160.59 L1956.28 162.67 L1956.28 164.75 L1956.28 166.82 L1956.28 168.9 L1956.28 170.98 L1956.28 173.05 L1956.28 175.13 L1956.28 177.21 L1956.28 179.28 L1956.28 181.36 L1956.28 183.44 L1956.28 185.51 L1956.28 187.59 L1956.28 189.67 L1956.28 191.75 L1956.28 193.82 L1956.28 195.9 L1956.28 197.98 L1956.28 200.05 L1956.28 202.13 L1956.28 204.21 L1956.28 206.28 L1956.28 208.36 L1956.28 210.44 L1956.28 212.51 L1956.28 214.59 L1956.28 216.67 L1956.28 218.74 L1956.28 220.82 L1956.28 222.9 L1956.28 224.98 L1956.28 227.05 L1956.28 229.13 L1956.28 231.21 L1956.28 233.28 L1956.28 235.36 L1956.28 237.44 L1956.28 239.51 L1956.28 241.59 L1956.28 243.67 L1956.28 245.74 L1956.28 247.82 L1956.28 249.9 L1956.28 251.98 L1956.28 254.05 L1956.28 256.13 L1956.28 258.21 L1956.28 260.28 L1956.28 262.36 L1956.28 264.44 L1956.28 265.84 L1960.81 266.51 L1967.56 267.48 L1969.46 268.59 L1973.3 270.67 L1977.62 272.67 L1977.99 272.74ZM2206.77 233.28 L2209.18 233.86 L2211.19 233.28 L2218.33 231.21 L2219.24 230.85 L2222.5 229.13 L2224.92 227.05 L2227.12 224.98 L2228.74 222.9 L2229.31 220.82 L2227.8 218.74 L2226.12 216.67 L2224 214.59 L2221.66 212.51 L2219.24 210.8 L2218.55 210.44 L2214.59 208.36 L2210.56 206.28 L2209.18 205.89 L2207.52 206.28 L2202.69 208.36 L2199.11 209.92 L2198.77 210.44 L2197.42 212.51 L2196.34 214.59 L2195.37 216.67 L2194.6 218.74 L2193.9 220.82 L2194.17 222.9 L2194.91 224.98 L2195.92 227.05 L2197.04 229.13 L2198.85 231.21 L2199.11 231.43 L2206.77 233.28Z"/>
<path fill="#48cb86" fill-rule="evenodd" d="M1979.02 268.59 L1987.69 270.49 L1993.31 268.59 L1997.76 266.95 L1998.59 266.51 L2002.32 264.44 L2005.36 262.36 L2007.83 260.52 L2008.25 260.28 L2011.77 258.21 L2014.86 256.13 L2017.29 254.05 L2017.89 253.52 L2020.24 251.98 L2023.26 249.9 L2025.92 247.82 L2027.96 246.07 L2028.2 245.74 L2029.65 243.67 L2031.04 241.59 L2032.29 239.51 L2033.49 237.44 L2034.58 235.36 L2035.38 233.28 L2036.17 231.21 L2036.74 229.13 L2037.1 227.05 L2037.42 224.98 L2037.66 222.9 L2037.74 220.82 L2037.52 218.74 L2037.28 216.67 L2036.96 214.59 L2036.62 212.51 L2036.19 210.44 L2035.76 208.36 L2035.31 206.28 L2034.5 204.21 L2033.74 202.13 L2033.16 200.05 L2032.56 197.98 L2032.2 195.9 L2031.86 193.82 L2031.38 191.75 L2030.52 189.67 L2029.64 187.59 L2028.74 185.51 L2027.97 183.44 L2027.96 183.42 L2026.81 181.36 L2025.63 179.28 L2024.42 177.21 L2021.88 175.13 L2019.23 173.05 L2017.89 171.62 L2017.46 170.98 L2016.23 168.9 L2014.96 166.82 L2014.07 164.75 L2013.75 162.67 L2012.88 160.59 L2011.12 158.51 L2009.29 156.44 L2007.83 154.81 L2007.53 154.36 L2006.39 152.28 L2005.21 150.21 L2003.99 148.13 L2002.73 146.05 L2001.53 143.98 L2000.46 141.9 L1999.36 139.82 L1998.22 137.75 L1997.76 136.92 L1996.81 135.67 L1993.94 133.59 L1990.44 131.52 L1988.5 129.44 L1987.69 128.59 L1986.45 129.44 L1983.45 131.52 L1978.05 133.59 L1977.62 133.79 L1975.81 135.67 L1974.7 137.75 L1973.63 139.82 L1972.59 141.9 L1971.57 143.98 L1970.44 146.05 L1969.25 148.13 L1968.1 150.21 L1967.56 151.21 L1965.08 152.28 L1960.43 154.36 L1956.28 155.89 L1956.28 156.44 L1956.28 158.51 L1956.28 160.59 L1956.28 162.67 L1956.28 164.75 L1956.28 166.82 L1956.28 168.9 L1956.28 170.98 L1956.28 173.05 L1956.28 175.13 L1956.28 177.21 L1956.28 179.28 L1956.28 181.36 L1956.28 183.44 L1956.28 185.51 L1956.28 187.59 L1956.28 189.67 L1956.28 191.75 L1956.28 193.82 L1956.28 195.9 L1956.28 197.98 L1956.28 200.05 L1956.28 202.13 L1956.28 204.21 L1956.28 206.28 L1956.28 208.36 L1956.28 210.44 L1956.28 212.51 L1956.28 214.59 L1956.28 216.67 L1956.28 218.74 L1956.28 220.82 L1956.28 222.9 L1956.28 224.98 L1956.28 227.05 L1956.28 229.13 L1956.28 231.21 L1956.28 233.28 L1956.28 235.36 L1956.28 237.44 L1956.28 239.51 L1956.28 241.59 L1956.28 243.67 L1956.28 245.74 L1956.28 247.82 L1956.28 249.9 L1956.28 251.98 L1956.28 254.05 L1956.28 256.13 L1956.28 258.21 L1956.28 259.96 L1957.96 260.28 L1967.56 262.05 L1967.96 262.36 L1970.83 264.44 L1974.36 266.51 L1977.62 268.27 L1979.02 268.59Z"/>
<path fill="#81cc59" fill-rule="evenodd" d="M1980.22 264.44 L1987.69 266.25 L1992.54 264.44 L1997.08 262.36 L1997.76 262.03 L2000.34 260.28 L2003.2 258.21 L2005.71 256.13 L2007.69 254.05 L2007.83 253.9 L2010.2 251.98 L2012.63 249.9 L2014.78 247.82 L2016.72 245.74 L2017.89 244.45 L2018.85 243.67 L2021.31 241.59 L2023.51 239.51 L2025.63 237.44 L2027.55 235.36 L2027.96 234.77 L2028.6 233.28 L2029.47 231.21 L2030.12 229.13 L2030.51 227.05 L2030.87 224.98 L2031.13 222.9 L2031.23 220.82 L2030.98 218.74 L2030.71 216.67 L2030.36 214.59 L2029.98 212.51 L2029.5 210.44 L2029.02 208.36 L2028.53 206.28 L2027.96 204.98 L2027.43 204.21 L2026.08 202.13 L2025.05 200.05 L2023.99 197.98 L2023.36 195.9 L2022.75 193.82 L2021.91 191.75 L2020.39 189.67 L2018.84 187.59 L2017.89 186.36 L2017.42 185.51 L2016.43 183.44 L2015.49 181.36 L2014.54 179.28 L2013.56 177.21 L2011.52 175.13 L2009.38 173.05 L2007.83 170.99 L2007.82 170.98 L2006.82 168.9 L2005.8 166.82 L2005.07 164.75 L2004.81 162.67 L2004.11 160.59 L2002.68 158.51 L2001.19 156.44 L1999.67 154.36 L1998.4 152.28 L1997.76 151.25 L1996.86 150.21 L1995.04 148.13 L1993.15 146.05 L1991.36 143.98 L1989.75 141.9 L1988.1 139.82 L1987.69 139.32 L1987.07 139.82 L1984.52 141.9 L1982.04 143.98 L1979.27 146.05 L1977.62 147.22 L1977.05 148.13 L1975.77 150.21 L1974.53 152.28 L1973.33 154.36 L1971.89 156.44 L1970.49 158.51 L1969.14 160.59 L1968.47 162.67 L1968.23 164.75 L1967.56 166.77 L1967.48 166.82 L1963.3 168.9 L1959.24 170.98 L1956.28 172.29 L1956.28 173.05 L1956.28 175.13 L1956.28 177.21 L1956.28 179.28 L1956.28 181.36 L1956.28 183.44 L1956.28 185.51 L1956.28 187.59 L1956.28 189.67 L1956.28 191.75 L1956.28 193.82 L1956.28 195.9 L1956.28 197.98 L1956.28 200.05 L1956.28 202.13 L1956.28 204.21 L1956.28 206.28 L1956.28 208.36 L1956.28 210.44 L1956.28 212.51 L1956.28 214.59 L1956.28 216.67 L1956.28 218.74 L1956.28 220.82 L1956.28 222.9 L1956.28 224.98 L1956.28 227.05 L1956.28 229.13 L1956.28 231.21 L1956.28 233.28 L1956.28 235.36 L1956.28 237.44 L1956.28 239.51 L1956.28 241.59 L1956.28 243.67 L1956.28 245.74 L1956.28 247.82 L1956.28 249.9 L1956.28 251.98 L1956.28 253.12 L1959.77 254.05 L1967.56 256.06 L1967.62 256.13 L1970 258.21 L1972.7 260.28 L1975.62 262.36 L1977.62 263.69 L1980.22 264.44Z"/>
<path fill="#bbc42f" fill-rule="evenodd" d="M1982.99 260.28 L1987.69 261.68 L1990.74 260.28 L1994.98 258.21 L1997.76 256.67 L1998.46 256.13 L2000.64 254.05 L2002.69 251.98 L2004.64 249.9 L2006.37 247.82 L2007.83 245.89 L2007.98 245.74 L2010.03 243.67 L2011.99 241.59 L2013.75 239.51 L2015.44 237.44 L2016.98 235.36 L2017.89 233.68 L2018.19 233.28 L2019.72 231.21 L2020.84 229.13 L2021.53 227.05 L2022.16 224.98 L2022.62 222.9 L2022.79 220.82 L2022.35 218.74 L2021.88 216.67 L2021.27 214.59 L2020.6 212.51 L2019.77 210.44 L2018.92 208.36 L2018.06 206.28 L2017.89 206.06 L2016.87 204.21 L2015.8 202.13 L2014.97 200.05 L2014.13 197.98 L2013.63 195.9 L2013.14 193.82 L2012.47 191.75 L2011.26 189.67 L2010.02 187.59 L2008.74 185.51 L2007.83 183.77 L2007.7 183.44 L2006.95 181.36 L2006.18 179.28 L2005.4 177.21 L2003.75 175.13 L2002.04 173.05 L2000.78 170.98 L1999.68 168.9 L1998.55 166.82 L1997.76 164.77 L1997.75 164.75 L1997.37 162.67 L1996.32 160.59 L1994.2 158.51 L1992 156.44 L1989.75 154.36 L1987.87 152.28 L1987.69 152.1 L1987.43 152.28 L1984.52 154.36 L1981.04 156.44 L1977.65 158.51 L1977.62 158.53 L1976.15 160.59 L1975.41 162.67 L1975.15 164.75 L1974.39 166.82 L1973.32 168.9 L1972.29 170.98 L1971.1 173.05 L1969.47 175.13 L1967.92 177.21 L1967.56 178.22 L1965.92 179.28 L1962.79 181.36 L1959.73 183.44 L1956.49 185.51 L1956.28 185.63 L1956.28 187.59 L1956.28 189.67 L1956.28 191.75 L1956.28 193.82 L1956.28 195.9 L1956.28 197.98 L1956.28 200.05 L1956.28 202.13 L1956.28 204.21 L1956.28 206.28 L1956.28 208.36 L1956.28 210.44 L1956.28 212.51 L1956.28 214.59 L1956.28 216.67 L1956.28 218.74 L1956.28 220.82 L1956.28 222.9 L1956.28 224.98 L1956.28 227.05 L1956.28 229.13 L1956.28 231.21 L1956.28 233.28 L1956.28 235.36 L1956.28 237.44 L1956.28 239.51 L1956.28 241.59 L1956.28 243.67 L1956.28 244.91 L1958.77 245.74 L1965.15 247.82 L1967.56 248.54 L1968.63 249.9 L1970.48 251.98 L1972.42 254.05 L1974.48 256.13 L1977.09 258.21 L1977.62 258.59 L1982.99 260.28Z"/>
<path fill="#eaba31" fill-rule="evenodd" d="M1985.79 256.13 L1987.69 256.78 L1988.93 256.13 L1992.12 254.05 L1995.15 251.98 L1997.76 250.09 L1997.95 249.9 L1999.84 247.82 L2001.54 245.74 L2003.18 243.67 L2004.75 241.59 L2006.15 239.51 L2007.49 237.44 L2007.83 236.88 L2009.05 235.36 L2010.29 233.28 L2011.49 231.21 L2012.38 229.13 L2012.93 227.05 L2013.43 224.98 L2013.79 222.9 L2013.92 220.82 L2013.58 218.74 L2013.2 216.67 L2012.72 214.59 L2012.19 212.51 L2011.53 210.44 L2010.86 208.36 L2010.18 206.28 L2008.93 204.21 L2007.83 202.25 L2007.78 202.13 L2007.12 200.05 L2006.45 197.98 L2006.05 195.9 L2005.66 193.82 L2005.13 191.75 L2004.16 189.67 L2003.17 187.59 L2002.15 185.51 L2001.29 183.44 L2000.47 181.36 L1999.63 179.28 L1998.78 177.21 L1997.76 176.02 L1996.71 175.13 L1994.18 173.05 L1992.34 170.98 L1990.72 168.9 L1989.06 166.82 L1987.88 164.75 L1987.69 163.78 L1987.4 164.75 L1985.58 166.82 L1983.02 168.9 L1980.53 170.98 L1977.68 173.05 L1977.62 173.08 L1975.88 175.13 L1974.18 177.21 L1973.37 179.28 L1972.58 181.36 L1971.81 183.44 L1970.99 185.51 L1970.03 187.59 L1969.09 189.67 L1968.18 191.75 L1967.67 193.82 L1967.56 194.45 L1966.46 195.9 L1964.82 197.98 L1962.09 200.05 L1959.41 202.13 L1956.28 203.99 L1956.28 204.21 L1956.28 206.28 L1956.28 208.36 L1956.28 210.44 L1956.28 212.51 L1956.28 214.59 L1956.28 216.67 L1956.28 218.74 L1956.28 220.82 L1956.28 222.9 L1956.28 224.98 L1956.28 227.05 L1956.28 229.13 L1956.28 231.21 L1956.28 233.28 L1956.28 235.36 L1956.28 235.66 L1960.58 237.44 L1966.07 239.51 L1967.56 240.06 L1968.54 241.59 L1970.02 243.67 L1971.56 245.74 L1973.18 247.82 L1974.96 249.9 L1976.97 251.98 L1977.62 252.63 L1980.85 254.05 L1985.79 256.13Z"/>
<path fill="#fec735" fill-rule="evenodd" d="M1985.67 249.9 L1987.69 250.79 L1989 249.9 L1991.75 247.82 L1994.25 245.74 L1996.63 243.67 L1997.76 242.66 L1998.62 241.59 L2000.14 239.51 L2001.6 237.44 L2002.92 235.36 L2003.91 233.28 L2004.86 231.21 L2005.57 229.13 L2006 227.05 L2006.39 224.98 L2006.68 222.9 L2006.78 220.82 L2006.51 218.74 L2006.21 216.67 L2005.83 214.59 L2005.42 212.51 L2004.89 210.44 L2004.36 208.36 L2003.82 206.28 L2002.84 204.21 L2001.91 202.13 L2001.2 200.05 L2000.47 197.98 L2000.03 195.9 L1999.62 193.82 L1999.03 191.75 L1997.99 189.67 L1997.76 189.22 L1996.62 187.59 L1995.13 185.51 L1993.87 183.44 L1992.67 181.36 L1991.45 179.28 L1990.2 177.21 L1987.69 175.22 L1983.82 177.21 L1981.9 179.28 L1980.01 181.36 L1978.16 183.44 L1977.62 184 L1976.98 185.51 L1975.94 187.59 L1974.93 189.67 L1973.94 191.75 L1973.39 193.82 L1972.99 195.9 L1972.58 197.98 L1971.89 200.05 L1971.22 202.13 L1970.34 204.21 L1969.41 206.28 L1968.9 208.36 L1968.4 210.44 L1967.9 212.51 L1967.56 214.32 L1967.34 214.59 L1965.79 216.67 L1964.57 218.74 L1963.47 220.82 L1963.89 222.9 L1965.07 224.98 L1966.67 227.05 L1967.56 228.1 L1967.76 229.13 L1968.43 231.21 L1969.33 233.28 L1970.26 235.36 L1971.51 237.44 L1972.89 239.51 L1974.33 241.59 L1975.93 243.67 L1977.61 245.74 L1977.62 245.77 L1981.43 247.82 L1985.67 249.9Z"/>
<path fill="#f5e128" fill-rule="evenodd" d="M1986.91 243.67 L1987.69 244.08 L1988.2 243.67 L1990.66 241.59 L1992.87 239.51 L1994.98 237.44 L1996.91 235.36 L1997.76 234.13 L1998.19 233.28 L1999.22 231.21 L1999.98 229.13 L2000.44 227.05 L2000.86 224.98 L2001.18 222.9 L2001.29 220.82 L2001 218.74 L2000.67 216.67 L2000.27 214.59 L1999.81 212.51 L1999.25 210.44 L1998.68 208.36 L1998.1 206.28 L1997.76 205.62 L1996.78 204.21 L1995.43 202.13 L1994.4 200.05 L1993.35 197.98 L1992.72 195.9 L1992.11 193.82 L1991.26 191.75 L1989.74 189.67 L1988.19 187.59 L1987.69 186.95 L1986.93 187.59 L1984.53 189.67 L1982.19 191.75 L1980.88 193.82 L1979.94 195.9 L1978.97 197.98 L1977.62 199.69 L1977.5 200.05 L1976.77 202.13 L1975.83 204.21 L1974.82 206.28 L1974.27 208.36 L1973.73 210.44 L1973.2 212.51 L1972.77 214.59 L1972.39 216.67 L1972.08 218.74 L1971.81 220.82 L1971.91 222.9 L1972.21 224.98 L1972.6 227.05 L1973.05 229.13 L1973.76 231.21 L1974.74 233.28 L1975.74 235.36 L1977.09 237.44 L1977.62 238.2 L1979.71 239.51 L1983.11 241.59 L1986.91 243.67Z"/>
<path fill="#f9fb15" fill-rule="evenodd" d="M1985.52 235.36 L1987.69 236.78 L1989.1 235.36 L1990.63 233.28 L1992.12 231.21 L1993.21 229.13 L1993.88 227.05 L1994.49 224.98 L1994.94 222.9 L1995.1 220.82 L1994.68 218.74 L1994.22 216.67 L1993.63 214.59 L1992.98 212.51 L1992.16 210.44 L1991.34 208.36 L1990.5 206.28 L1988.96 204.21 L1987.69 202.38 L1985.73 204.21 L1983.36 206.28 L1982.07 208.36 L1980.8 210.44 L1979.54 212.51 L1978.53 214.59 L1977.63 216.67 L1977.62 216.67 L1977.3 218.74 L1977 220.82 L1977.12 222.9 L1977.43 224.98 L1977.62 225.92 L1978.14 227.05 L1979.18 229.13 L1980.87 231.21 L1983.16 233.28 L1985.52 235.36Z"/>
<path class="cl" d="M1956.28 301.96 L1967.56 302.16 L1977.62 302.81 L1987.69 303.05 L1997.76 302.66 L2007.83 302.01 L2011.24 301.82 L2017.89 301.4 L2027.96 300.87 L2038.03 299.77 L2038.24 299.74 L2048.1 298.26 L2051.66 297.67 L2058.16 296.35 L2061.38 295.59 L2068.23 293.55 L2068.42 293.51 L2077.57 291.44 L2078.3 291.23 L2086.07 289.36 L2088.37 288.69 L2093.07 287.28 L2098.43 285.42 L2099.19 285.21 L2107.43 283.13 L2108.5 282.83 L2118.57 281.9 L2123.43 283.13 L2128.64 284.32 L2132 285.21 L2138.7 287.17 L2138.99 287.28 L2145.15 289.36 L2148.77 290.35 L2152.14 291.44 L2158.84 293.11 L2160.37 293.51 L2168.91 295.38 L2169.86 295.59 L2178.97 297.28 L2181.52 297.67 L2189.04 298.65 L2199.11 299.11 L2209.18 299.23 L2219.24 299.09 L2229.31 298.88 L2239.38 298.61 L2249.45 298.38 L2259.51 298.12 L2269.58 297.8 L2270.85 297.67 L2279.65 296.61 L2287.02 295.59 L2289.72 295.17 L2298.99 293.51 L2299.78 293.35 L2309.84 291.44 L2309.85 291.43 L2319.5 289.36 L2319.92 289.25 L2326.22 287.28 L2329.99 285.91 L2332.19 285.21 L2339.35 283.13 L2340.06 282.9 L2346.95 281.05 L2350.12 280.08 L2353.73 278.97 L2359.66 276.9 L2360.19 276.7 L2368.01 274.82 L2370.26 274.24 L2377.74 272.74 L2380.32 272.15 L2384.11 270.67 L2388.73 268.59 L2390.39 267.79 L2393.26 266.51 L2397.58 264.44 L2400.46 262.74 L2401.09 262.36 L2404.3 260.28 L2407.27 258.21 L2409.88 256.13 L2410.53 255.49 L2412.17 254.05 L2414.44 251.98 L2416.6 249.9 L2418.5 247.82 L2420.23 245.74 L2420.59 245.29 L2421.7 243.67 L2423.05 241.59 L2424.27 239.51 L2425.43 237.44 L2426.5 235.36 L2427.28 233.28 L2428.05 231.21 L2428.61 229.13 L2428.96 227.05 L2429.27 224.98 L2429.5 222.9 L2429.58 220.82 L2429.37 218.74 L2429.13 216.67 L2428.83 214.59 L2428.49 212.51 L2428.07 210.44 L2427.65 208.36 L2427.22 206.28 L2426.43 204.21 L2425.68 202.13 L2425.11 200.05 L2424.53 197.98 L2424.18 195.9 L2423.85 193.82 L2423.38 191.75 L2422.55 189.67 L2421.69 187.59 L2420.81 185.51 L2420.59 184.92 L2419.97 183.44 L2419.14 181.36 L2418.29 179.28 L2417.43 177.21 L2415.61 175.13 L2413.72 173.05 L2412.33 170.98 L2411.12 168.9 L2410.53 167.9 L2409.97 166.82 L2409.21 164.75 L2408.95 162.67 L2408.21 160.59 L2406.73 158.51 L2405.18 156.44 L2403.6 154.36 L2402.28 152.28 L2400.92 150.21 L2400.46 149.52 L2399.51 148.13 L2398.05 146.05 L2396.67 143.98 L2395.43 141.9 L2394.16 139.82 L2392.84 137.75 L2391.49 135.67 L2390.39 134.72 L2389.21 133.59 L2386.58 131.52 L2385.13 129.44 L2383.62 127.36 L2381.96 125.28 L2380.32 123.58 L2379.73 123.21 L2376.37 121.13 L2372.86 119.05 L2370.26 117.86 L2368.85 116.98 L2365.13 114.9 L2362.38 112.82 L2360.19 110.94 L2360.05 110.75 L2358.58 108.67 L2357.04 106.59 L2355.17 104.52 L2353.21 102.44 L2351.14 100.36 L2350.12 99.37 L2349.06 98.28 L2347.1 96.21 L2345.23 94.13 L2343.27 92.05 L2341.21 89.98 L2340.05 88.85 L2339.29 87.9 L2337.8 85.82 L2336.28 83.75 L2334.7 81.67 L2333.04 79.59 L2331.19 77.52 L2329.99 76.33 L2329.24 75.44 L2327.41 73.36 L2326.49 71.28 L2325.91 69.21 L2323.94 67.13 L2321.28 65.05 L2319.92 64.01 L2318.38 62.98 L2316.88 60.9 L2315.33 58.82 L2313.71 56.75 L2312.07 54.67 L2310.47 52.59 L2309.85 51.82 L2308.99 50.52 L2307.58 48.44 L2306.3 46.36 L2305.05 44.29 L2303.76 42.21 L2303.59 40.13 L2303.59 38.05 L2303.59 33.9M2156.97 33.9 L2156.97 38.05 L2156.97 40.13 L2156.84 42.21 L2155.84 44.29 L2154.88 46.36 L2153.89 48.44 L2152.79 50.52 L2151.74 52.59 L2150.72 54.67 L2149.68 56.75 L2148.77 58.59 L2148.63 58.82 L2147.33 60.9 L2146.08 62.98 L2143.54 65.05 L2141.1 67.13 L2139.28 69.21 L2138.75 71.28 L2138.7 71.38 L2137.58 73.36 L2135.25 75.44 L2133.04 77.52 L2131.12 79.59 L2129.4 81.67 L2128.64 82.62 L2127.51 83.75 L2125.5 85.82 L2123.52 87.9 L2121.33 89.98 L2119.24 92.05 L2118.57 92.74 L2116.71 92.05 L2110.9 89.98 L2108.5 89.15 L2107.35 87.9 L2105.64 85.82 L2103.9 83.75 L2102.08 81.67 L2100.17 79.59 L2098.43 77.89 L2098.14 77.52 L2096.3 75.44 L2094.34 73.36 L2093.35 71.28 L2092.73 69.21 L2090.62 67.13 L2088.37 65.47 L2087.81 65.05 L2085.05 62.98 L2083.7 60.9 L2082.29 58.82 L2080.83 56.75 L2079.35 54.67 L2078.3 53.16 L2078 52.59 L2076.87 50.52 L2075.69 48.44 L2074.64 46.36 L2073.6 44.29 L2072.54 42.21 L2072.39 40.13 L2072.39 38.05 L2072.39 33.9M1956.28 296.7 L1967.56 297.1 L1971.64 297.67 L1977.62 298.39 L1987.69 298.88 L1997.76 298.11 L2001.46 297.67 L2007.83 296.8 L2017.88 295.59 L2017.89 295.59 L2027.96 294.51 L2032.95 293.51 L2038.03 292.32 L2041.38 291.44 L2047.49 289.36 L2048.1 289.11 L2052.8 287.28 L2057.28 285.21 L2058.16 284.85 L2062.12 283.13 L2066.18 281.05 L2068.23 279.84 L2070.61 278.97 L2075.69 276.9 L2078.3 275.69 L2080.64 274.82 L2085.7 272.74 L2088.37 271.43 L2089.92 270.67 L2093.69 268.59 L2097.1 266.51 L2098.43 265.64 L2100.75 264.44 L2104.06 262.36 L2107.1 260.28 L2108.5 259.27 L2113.04 258.21 L2118.57 256.78 L2120.56 258.21 L2123.81 260.28 L2127.32 262.36 L2128.64 263.09 L2130.6 264.44 L2134.29 266.51 L2138.36 268.59 L2138.7 268.76 L2141.7 270.67 L2145.49 272.74 L2148.77 274.24 L2149.82 274.82 L2153.89 276.9 L2158.64 278.97 L2158.84 279.06 L2163.37 281.05 L2168.91 283.09 L2168.99 283.13 L2174.69 285.21 L2178.97 286.87 L2180.13 287.28 L2186.69 289.36 L2189.04 289.98 L2199.11 290.96 L2209.18 291.23 L2219.24 290.91 L2229.31 290.47 L2239.38 289.88 L2249.45 289.39 L2249.92 289.36 L2259.52 288.79 L2269.58 288.07 L2272.73 287.28 L2279.65 285.35 L2280.13 285.21 L2288.25 283.13 L2289.72 282.71 L2295.25 281.05 L2299.78 279.48 L2301.44 278.97 L2307.57 276.9 L2309.85 276.03 L2313.5 274.82 L2319.09 272.74 L2319.92 272.38 L2323.28 270.67 L2326.81 268.59 L2329.98 266.51 L2329.99 266.51 L2333.54 264.44 L2336.43 262.36 L2339.07 260.28 L2340.05 259.47 L2341.97 258.21 L2344.78 256.13 L2347 254.05 L2349.09 251.98 L2350.12 250.91 L2351.16 249.9 L2353.06 247.82 L2354.79 245.74 L2356.44 243.67 L2358.03 241.59 L2359.44 239.51 L2360.19 238.38 L2361.24 237.44 L2363.36 235.36 L2364.93 233.28 L2366.46 231.21 L2367.59 229.13 L2368.28 227.05 L2368.91 224.98 L2369.37 222.9 L2369.54 220.82 L2369.11 218.74 L2368.63 216.67 L2368.02 214.59 L2367.35 212.51 L2366.51 210.44 L2365.66 208.36 L2364.8 206.28 L2363.22 204.21 L2361.74 202.13 L2360.6 200.05 L2360.19 199.32 L2359.75 197.98 L2359.34 195.9 L2358.95 193.82 L2358.41 191.75 L2357.43 189.67 L2356.43 187.59 L2355.4 185.51 L2354.53 183.44 L2353.7 181.36 L2352.85 179.28 L2351.99 177.21 L2350.18 175.13 L2350.12 175.07 L2348.42 173.05 L2347.14 170.98 L2346.02 168.9 L2344.88 166.82 L2344.06 164.75 L2343.77 162.67 L2342.98 160.59 L2341.38 158.51 L2340.05 156.85 L2339.8 156.44 L2338.5 154.36 L2337.41 152.28 L2336.29 150.21 L2335.13 148.13 L2333.93 146.05 L2332.79 143.98 L2331.77 141.9 L2330.72 139.82 L2329.99 138.41 L2329.7 137.75 L2328.8 135.67 L2327.17 133.59 L2325.17 131.52 L2324.06 129.44 L2322.91 127.36 L2321.65 125.28 L2320.12 123.21 L2319.92 122.95 L2318.37 121.13 L2316.52 119.05 L2314.11 116.98 L2311.37 114.9 L2309.85 113.33 L2309.44 112.82 L2307.98 110.75 L2306.46 108.67 L2304.85 106.59 L2302.92 104.52 L2300.89 102.44 L2299.78 101.35 L2298.96 100.36 L2297.14 98.28 L2295.38 96.21 L2293.69 94.13 L2291.92 92.05 L2290.06 89.98 L2289.72 89.6 L2288.18 87.9 L2286.49 85.82 L2284.77 83.75 L2282.98 81.67 L2281.1 79.59 L2279.65 78.15 L2279.03 77.52 L2276.74 75.44 L2274.32 73.36 L2273.09 71.28 L2272.32 69.21 L2269.7 67.13 L2269.58 67.06 L2259.51 65.22 L2258.45 65.05 L2249.45 63.65 L2244.64 62.98 L2239.38 61.43 L2237.9 60.9 L2231.99 58.82 L2229.31 57.91 L2225 56.75 L2219.24 55.21 L2216.52 54.67 L2209.18 53.16 L2200.37 54.67 L2199.11 54.88 L2195.89 56.75 L2192.36 58.82 L2189.04 60.85 L2189.01 60.9 L2187.68 62.98 L2184.98 65.05 L2182.37 67.13 L2180.43 69.21 L2179.87 71.28 L2178.97 73.33 L2178.96 73.36 L2177.17 75.44 L2175.48 77.52 L2174.01 79.59 L2172.69 81.67 L2171.43 83.75 L2170.23 85.82 L2169.05 87.9 L2168.91 88.12 L2167.51 89.98 L2166.03 92.05 L2164.61 94.13 L2163.26 96.21 L2161.85 98.28 L2160.4 100.36 L2159.02 102.44 L2158.84 102.72 L2157.49 104.52 L2155.99 106.59 L2154.76 108.67 L2153.58 110.75 L2152.45 112.82 L2151.17 114.9 L2149.43 116.98 L2148.77 117.86 L2147.63 119.05 L2146.09 121.13 L2144.62 123.21 L2143.21 125.28 L2142.04 127.36 L2140.99 129.44 L2139.97 131.52 L2138.7 132.92 L2137.9 133.59 L2135.8 135.67 L2134.65 137.75 L2133.53 139.82 L2132.44 141.9 L2131.38 143.98 L2130.2 146.05 L2128.96 148.13 L2128.64 148.68 L2127.51 150.21 L2126.02 152.28 L2124.57 154.36 L2122.84 156.44 L2121.16 158.51 L2119.53 160.59 L2118.73 162.67 L2118.57 163.78 L2118.14 162.67 L2115.89 160.59 L2111.38 158.51 L2108.5 157.23 L2107.94 156.44 L2106.44 154.36 L2105.19 152.28 L2103.9 150.21 L2102.57 148.13 L2101.19 146.05 L2099.88 143.98 L2098.71 141.9 L2098.43 141.42 L2097.73 139.82 L2096.8 137.75 L2095.83 135.67 L2094.08 133.59 L2091.93 131.52 L2090.75 129.44 L2089.52 127.36 L2088.37 125.59 L2088.18 125.28 L2086.65 123.21 L2085.05 121.13 L2083.38 119.05 L2081.2 116.98 L2078.72 114.9 L2078.3 114.42 L2077.24 112.82 L2076.03 110.75 L2074.77 108.67 L2073.44 106.59 L2071.84 104.52 L2070.16 102.44 L2068.39 100.36 L2068.23 100.18 L2067.28 98.28 L2066.26 96.21 L2065.29 94.13 L2064.27 92.05 L2063.2 89.98 L2062.07 87.9 L2061.06 85.82 L2060.03 83.75 L2058.95 81.67 L2058.16 80.21 L2057.84 79.59 L2056.63 77.52 L2055.24 75.44 L2053.76 73.36 L2053.02 71.28 L2052.55 69.21 L2050.95 67.13 L2048.81 65.05 L2048.1 64.37 L2046.79 62.98 L2045.84 60.9 L2044.85 58.82 L2043.83 56.75 L2042.79 54.67 L2041.77 52.59 L2040.72 50.52 L2039.62 48.44 L2038.64 46.36 L2038.03 45.04 L2037.68 44.29 L2036.71 42.21 L2036.58 40.13 L2036.58 38.05 L2036.58 33.9M1956.28 291.43 L1956.33 291.44 L1967.56 292.04 L1974.94 293.51 L1977.62 293.98 L1987.69 294.71 L1997.76 293.55 L1997.97 293.51 L2007.83 291.59 L2008.79 291.44 L2017.89 289.64 L2019.62 289.36 L2027.96 287.81 L2029.58 287.28 L2035.27 285.21 L2038.03 284.29 L2041.29 283.13 L2046.37 281.05 L2048.1 280.25 L2050.99 278.97 L2055.09 276.9 L2058.16 275.1 L2058.63 274.82 L2061.82 272.74 L2064.41 270.67 L2066.63 268.59 L2068.23 266.95 L2068.95 266.51 L2072.19 264.44 L2074.82 262.36 L2077.22 260.28 L2078.3 259.3 L2079.84 258.21 L2082.45 256.13 L2084.5 254.05 L2086.45 251.98 L2088.3 249.9 L2088.37 249.81 L2090.04 247.82 L2091.63 245.74 L2093.14 243.67 L2094.6 241.59 L2095.9 239.51 L2097.15 237.44 L2098.29 235.36 L2098.43 235 L2099.35 233.28 L2100.44 231.21 L2101.24 229.13 L2101.73 227.05 L2102.17 224.98 L2102.5 222.9 L2102.62 220.82 L2102.31 218.74 L2101.97 216.67 L2101.54 214.59 L2101.07 212.51 L2100.47 210.44 L2099.87 208.36 L2099.26 206.28 L2098.43 204.75 L2098.21 204.21 L2097.41 202.13 L2096.8 200.05 L2096.18 197.98 L2095.81 195.9 L2095.45 193.82 L2094.95 191.75 L2094.05 189.67 L2093.13 187.59 L2092.19 185.51 L2091.39 183.44 L2090.63 181.36 L2089.85 179.28 L2089.05 177.21 L2088.37 176.34 L2087.45 175.13 L2085.83 173.05 L2084.64 170.98 L2083.6 168.9 L2082.54 166.82 L2081.78 164.75 L2081.51 162.67 L2080.78 160.59 L2079.29 158.51 L2078.3 157.17 L2077.89 156.44 L2076.7 154.36 L2075.71 152.28 L2074.69 150.21 L2073.63 148.13 L2072.54 146.05 L2071.5 143.98 L2070.57 141.9 L2069.62 139.82 L2068.63 137.75 L2068.23 136.92 L2067.89 135.67 L2066.86 133.59 L2065.6 131.52 L2064.9 129.44 L2064.18 127.36 L2063.38 125.28 L2062.42 123.21 L2061.41 121.13 L2060.36 119.05 L2058.98 116.98 L2058.16 115.87 L2057.45 114.9 L2056.34 112.82 L2055.36 110.75 L2054.34 108.67 L2053.27 106.59 L2051.98 104.52 L2050.62 102.44 L2049.19 100.36 L2048.1 98.84 L2047.74 98.28 L2046.47 96.21 L2045.25 94.13 L2043.98 92.05 L2042.64 89.98 L2041.24 87.9 L2039.97 85.82 L2038.68 83.75 L2038.03 82.73 L2037.35 81.67 L2035.98 79.59 L2034.44 77.52 L2032.67 75.44 L2030.8 73.36 L2029.85 71.28 L2029.26 69.21 L2027.96 67.87 L2026.8 67.13 L2022.47 65.05 L2017.97 62.98 L2017.89 62.91 L2016.34 60.9 L2014.68 58.82 L2012.95 56.75 L2011.19 54.67 L2009.47 52.59 L2007.83 50.68 L2007.72 50.52 L2006.37 48.44 L2005.15 46.36 L2003.96 44.29 L2002.73 42.21 L2002.56 40.13 L2002.56 38.05 L2002.56 33.9M2188.26 281.05 L2189.04 281.3 L2199.11 282.51 L2209.18 282.84 L2219.24 282.45 L2229.31 281.9 L2239.38 281.18 L2241.54 281.05 L2249.45 280.57 L2259.51 279.87 L2269.58 279.02 L2269.75 278.97 L2276.5 276.9 L2279.65 275.81 L2282.44 274.82 L2287.75 272.74 L2289.72 271.83 L2292.17 270.67 L2296.03 268.59 L2299.5 266.51 L2299.78 266.33 L2303.34 264.44 L2306.52 262.36 L2309.42 260.28 L2309.85 259.96 L2312.61 258.21 L2315.5 256.13 L2317.77 254.05 L2319.92 251.98 L2319.92 251.98 L2321.77 249.9 L2323.4 247.82 L2324.88 245.74 L2326.3 243.67 L2327.65 241.59 L2328.87 239.51 L2329.99 237.52 L2330.04 237.44 L2331.36 235.36 L2332.33 233.28 L2333.27 231.21 L2333.97 229.13 L2334.39 227.05 L2334.78 224.98 L2335.07 222.9 L2335.17 220.82 L2334.9 218.74 L2334.61 216.67 L2334.23 214.59 L2333.82 212.51 L2333.3 210.44 L2332.78 208.36 L2332.24 206.28 L2331.27 204.21 L2330.35 202.13 L2329.99 201.05 L2329.71 200.05 L2329.13 197.98 L2328.78 195.9 L2328.45 193.82 L2327.98 191.75 L2327.15 189.67 L2326.29 187.59 L2325.41 185.51 L2324.65 183.44 L2323.94 181.36 L2323.22 179.28 L2322.48 177.21 L2320.92 175.13 L2319.92 173.84 L2319.23 173.05 L2317.92 170.98 L2316.77 168.9 L2315.6 166.82 L2314.76 164.75 L2314.46 162.67 L2313.65 160.59 L2312.01 158.51 L2310.3 156.44 L2309.85 155.89 L2308.79 154.36 L2307.6 152.28 L2306.36 150.21 L2305.09 148.13 L2303.77 146.05 L2302.52 143.98 L2301.39 141.9 L2300.24 139.82 L2299.78 139.02 L2299.2 137.75 L2298.21 135.67 L2296.42 133.59 L2294.23 131.52 L2293.02 129.44 L2291.76 127.36 L2290.38 125.28 L2289.72 124.45 L2288.75 123.21 L2287.07 121.13 L2285.32 119.05 L2283.03 116.98 L2280.42 114.9 L2279.65 114.05 L2278.56 112.82 L2276.95 110.75 L2275.27 108.67 L2273.51 106.59 L2271.38 104.52 L2269.58 102.84 L2268.17 102.44 L2260.59 100.36 L2259.51 100.08 L2251.63 98.28 L2249.45 97.76 L2242.25 96.21 L2239.38 95.54 L2234.39 94.13 L2229.31 92.74 L2226.11 92.05 L2219.24 90.62 L2215.03 89.98 L2209.18 89.1 L2202.16 89.98 L2199.11 90.36 L2195.38 92.05 L2190.98 94.13 L2189.04 95.08 L2188.13 96.21 L2186.34 98.28 L2184.52 100.36 L2182.78 102.44 L2181.13 104.52 L2179.56 106.59 L2178.97 107.51 L2178.26 108.67 L2177.02 110.75 L2175.83 112.82 L2174.48 114.9 L2172.66 116.98 L2171.05 119.05 L2169.82 121.13 L2168.91 122.74 L2168.6 123.21 L2167.26 125.28 L2166.15 127.36 L2165.15 129.44 L2164.18 131.52 L2162.43 133.59 L2160.99 135.67 L2160.21 137.75 L2159.44 139.82 L2158.84 141.5 L2158.67 141.9 L2157.8 143.98 L2156.83 146.05 L2155.81 148.13 L2154.83 150.21 L2153.87 152.28 L2152.95 154.36 L2151.84 156.44 L2150.76 158.51 L2149.72 160.59 L2149.21 162.67 L2149.02 164.75 L2148.77 165.72 L2148.4 166.82 L2147.42 168.9 L2146.46 170.98 L2145.37 173.05 L2143.87 175.13 L2142.44 177.21 L2141.76 179.28 L2141.09 181.36 L2140.44 183.44 L2139.75 185.51 L2138.93 187.59 L2138.7 188.19 L2137.92 189.67 L2136.85 191.75 L2136.26 193.82 L2135.83 195.9 L2135.38 197.98 L2134.64 200.05 L2133.91 202.13 L2132.96 204.21 L2131.95 206.28 L2131.39 208.36 L2130.85 210.44 L2130.31 212.51 L2129.89 214.59 L2129.5 216.67 L2129.19 218.74 L2128.91 220.82 L2129.02 222.9 L2129.32 224.98 L2129.72 227.05 L2130.16 229.13 L2130.88 231.21 L2131.86 233.28 L2132.87 235.36 L2134.23 237.44 L2135.72 239.51 L2137.27 241.59 L2138.7 243.31 L2138.93 243.67 L2140.23 245.74 L2141.6 247.82 L2143.1 249.9 L2144.8 251.98 L2146.59 254.05 L2148.48 256.13 L2148.77 256.39 L2150.38 258.21 L2152.46 260.28 L2154.71 262.36 L2157.16 264.44 L2158.84 265.61 L2159.96 266.51 L2162.74 268.59 L2165.83 270.67 L2168.91 272.46 L2169.34 272.74 L2173.07 274.82 L2177.35 276.9 L2178.97 277.61 L2182.33 278.97ZM1970.6 33.9 L1970.6 38.05 L1970.6 40.13 L1970.45 42.21 L1969.28 44.29 L1968.15 46.36 L1967.56 47.43 L1965.16 48.44 L1959.64 50.52 L1956.28 51.82M1956.28 285.54 L1967.56 286.46 L1970.1 287.28 L1977.39 289.36 L1977.62 289.42 L1987.69 290.47 L1994.56 289.36 L1997.76 288.76 L2003.1 287.28 L2007.83 285.78 L2010.11 285.21 L2017.89 283.47 L2019.79 283.13 L2027.96 281.55 L2029.44 281.05 L2034.95 278.97 L2038.03 277.63 L2039.62 276.9 L2043.69 274.82 L2047.24 272.74 L2048.1 272.15 L2050.43 270.67 L2053.27 268.59 L2055.84 266.51 L2058.16 264.44 L2058.16 264.44 L2060.13 262.36 L2061.92 260.28 L2063.59 258.21 L2065.05 256.13 L2066.2 254.05 L2067.29 251.98 L2068.23 250.09 L2068.4 249.9 L2070.03 247.82 L2071.51 245.74 L2072.93 243.67 L2074.29 241.59 L2075.5 239.51 L2076.67 237.44 L2077.73 235.36 L2078.3 233.86 L2078.59 233.28 L2079.61 231.21 L2080.36 229.13 L2080.82 227.05 L2081.24 224.98 L2081.55 222.9 L2081.66 220.82 L2081.37 218.74 L2081.05 216.67 L2080.64 214.59 L2080.2 212.51 L2079.64 210.44 L2079.07 208.36 L2078.5 206.28 L2078.3 205.89 L2077.66 204.21 L2076.92 202.13 L2076.35 200.05 L2075.77 197.98 L2075.42 195.9 L2075.08 193.82 L2074.62 191.75 L2073.78 189.67 L2072.92 187.59 L2072.04 185.51 L2071.29 183.44 L2070.58 181.36 L2069.85 179.28 L2069.11 177.21 L2068.23 176.02 L2067.86 175.13 L2066.95 173.05 L2066.28 170.98 L2065.7 168.9 L2065.1 166.82 L2064.68 164.75 L2064.53 162.67 L2064.12 160.59 L2063.28 158.51 L2062.42 156.44 L2061.53 154.36 L2060.8 152.28 L2060.03 150.21 L2059.24 148.13 L2058.43 146.05 L2058.16 145.34 L2057.67 143.98 L2057.01 141.9 L2056.32 139.82 L2055.61 137.75 L2054.89 135.67 L2053.56 133.59 L2051.95 131.52 L2051.05 129.44 L2050.13 127.36 L2049.11 125.28 L2048.1 123.58 L2047.9 123.21 L2046.78 121.13 L2045.61 119.05 L2044.08 116.98 L2042.35 114.9 L2041.07 112.82 L2039.93 110.75 L2038.76 108.67 L2038.03 107.44 L2037.53 106.59 L2036.07 104.52 L2034.54 102.44 L2032.92 100.36 L2031.22 98.28 L2029.57 96.21 L2027.98 94.13 L2027.96 94.1 L2025.36 92.05 L2022.59 89.98 L2019.67 87.9 L2017.89 86.48 L2017.28 85.82 L2015.35 83.75 L2013.32 81.67 L2011.2 79.59 L2008.83 77.52 L2007.83 76.73 L2006.57 75.44 L2004.47 73.36 L2003.41 71.28 L2002.74 69.21 L2000.46 67.13 L1997.76 65.29 L1997.27 65.05 L1992.98 62.98 L1990.87 60.9 L1988.69 58.82 L1987.69 57.91 L1986.16 58.82 L1982.79 60.9 L1979.54 62.98 L1977.62 63.56 L1975.48 65.05 L1972.59 67.13 L1970.43 69.21 L1969.8 71.28 L1968.8 73.36 L1967.56 74.64 L1964.32 75.44 L1956.28 77.5M2196.36 274.82 L2199.11 275.25 L2209.18 275.69 L2219.24 275.16 L2223.98 274.82 L2229.31 274.43 L2239.38 273.45 L2248.02 272.74 L2249.45 272.61 L2259.51 271.6 L2267.15 270.67 L2269.58 270.35 L2273.51 268.59 L2277.73 266.51 L2279.65 265.5 L2281.66 264.44 L2284.94 262.36 L2287.93 260.28 L2289.72 258.96 L2290.75 258.21 L2293.29 256.13 L2295.28 254.05 L2297.18 251.98 L2298.97 249.9 L2299.78 248.84 L2300.74 247.82 L2302.53 245.74 L2304.24 243.67 L2305.88 241.59 L2307.34 239.51 L2308.75 237.44 L2309.85 235.66 L2310.07 235.36 L2311.23 233.28 L2312.36 231.21 L2313.19 229.13 L2313.7 227.05 L2314.16 224.98 L2314.5 222.9 L2314.62 220.82 L2314.3 218.74 L2313.95 216.67 L2313.5 214.59 L2313.01 212.51 L2312.39 210.44 L2311.77 208.36 L2311.13 206.28 L2309.97 204.21 L2309.85 203.99 L2309.05 202.13 L2308.36 200.05 L2307.66 197.98 L2307.24 195.9 L2306.84 193.82 L2306.27 191.75 L2305.27 189.67 L2304.23 187.59 L2303.17 185.51 L2302.26 183.44 L2301.4 181.36 L2300.53 179.28 L2299.78 177.56 L2299.66 177.21 L2298.15 175.13 L2296.57 173.05 L2295.42 170.98 L2294.41 168.9 L2293.37 166.82 L2292.63 164.75 L2292.38 162.67 L2291.66 160.59 L2290.22 158.51 L2289.72 157.82 L2288.76 156.44 L2287.28 154.36 L2286.05 152.28 L2284.78 150.21 L2283.46 148.13 L2282.1 146.05 L2280.81 143.98 L2279.65 141.9 L2279.65 141.89 L2278.52 139.82 L2277.36 137.75 L2276.17 135.67 L2273.99 133.59 L2271.33 131.52 L2269.86 129.44 L2269.58 129.06 L2265.55 127.36 L2260.14 125.28 L2259.51 125.08 L2252.75 123.21 L2249.45 122.32 L2244.6 121.13 L2239.38 119.88 L2236.54 119.05 L2229.31 117.41 L2226.89 116.98 L2219.24 115.74 L2212.09 114.9 L2209.18 114.42 L2205.68 114.9 L2199.11 115.54 L2195.01 116.98 L2189.75 119.05 L2189.04 119.41 L2187.69 121.13 L2186.12 123.21 L2184.62 125.28 L2183.38 127.36 L2182.25 129.44 L2181.17 131.52 L2179.2 133.59 L2178.97 133.88 L2177.6 135.67 L2176.71 137.75 L2175.85 139.82 L2175.02 141.9 L2174.21 143.98 L2173.3 146.05 L2172.35 148.13 L2171.43 150.21 L2170.54 152.28 L2169.68 154.36 L2168.91 155.89 L2168.59 156.44 L2167.39 158.51 L2166.24 160.59 L2165.66 162.67 L2165.46 164.75 L2164.87 166.82 L2164.04 168.9 L2163.23 170.98 L2162.31 173.05 L2161.04 175.13 L2159.83 177.21 L2159.26 179.28 L2158.84 180.81 L2158.66 181.36 L2158 183.44 L2157.3 185.51 L2156.48 187.59 L2155.68 189.67 L2154.9 191.75 L2154.46 193.82 L2154.15 195.9 L2153.82 197.98 L2153.28 200.05 L2152.75 202.13 L2152.06 204.21 L2151.32 206.28 L2150.92 208.36 L2150.52 210.44 L2150.13 212.51 L2149.82 214.59 L2149.53 216.67 L2149.31 218.74 L2149.11 220.82 L2149.18 222.9 L2149.4 224.98 L2149.69 227.05 L2150.02 229.13 L2150.54 231.21 L2151.26 233.28 L2151.99 235.36 L2152.98 237.44 L2154.07 239.51 L2155.2 241.59 L2156.47 243.67 L2157.79 245.74 L2158.84 247.33 L2159.12 247.82 L2160.39 249.9 L2161.82 251.98 L2163.34 254.05 L2164.93 256.13 L2166.97 258.21 L2168.91 259.96 L2169.22 260.28 L2171.32 262.36 L2173.61 264.44 L2176.44 266.51 L2178.97 268.22 L2179.56 268.59 L2183.01 270.67 L2187.05 272.74 L2189.04 273.61ZM1956.28 280.75 L1959.93 281.05 L1967.56 281.65 L1972.38 283.13 L1977.62 284.55 L1983.5 285.21 L1987.69 285.76 L1990.41 285.21 L1997.76 283.9 L2000.68 283.13 L2007.65 281.05 L2007.83 280.99 L2015.53 278.97 L2017.89 278.28 L2023.85 276.9 L2027.96 275.86 L2030.36 274.82 L2034.68 272.74 L2038.03 270.77 L2038.2 270.67 L2041.29 268.59 L2044.07 266.51 L2046.59 264.44 L2048.1 262.92 L2048.71 262.36 L2050.87 260.28 L2052.88 258.21 L2054.63 256.13 L2056.02 254.05 L2057.33 251.98 L2058.16 250.59 L2058.58 249.9 L2059.73 247.82 L2060.76 245.74 L2061.76 243.67 L2062.71 241.59 L2063.55 239.51 L2064.37 237.44 L2065.12 235.36 L2065.66 233.28 L2066.2 231.21 L2066.59 229.13 L2066.84 227.05 L2067.06 224.98 L2067.22 222.9 L2067.28 220.82 L2067.12 218.74 L2066.96 216.67 L2066.74 214.59 L2066.51 212.51 L2066.22 210.44 L2065.92 208.36 L2065.62 206.28 L2065.07 204.21 L2064.55 202.13 L2064.15 200.05 L2063.74 197.98 L2063.5 195.9 L2063.26 193.82 L2062.94 191.75 L2062.35 189.67 L2061.75 187.59 L2061.13 185.51 L2060.61 183.44 L2060.11 181.36 L2059.6 179.28 L2059.08 177.21 L2058.16 175.45 L2058 175.13 L2056.91 173.05 L2056.11 170.98 L2055.41 168.9 L2054.69 166.82 L2054.18 164.75 L2054 162.67 L2053.51 160.59 L2052.51 158.51 L2051.47 156.44 L2050.4 154.36 L2049.52 152.28 L2048.6 150.21 L2048.1 149.1 L2047.71 148.13 L2046.86 146.05 L2046.05 143.98 L2045.33 141.9 L2044.59 139.82 L2043.82 137.75 L2043.04 135.67 L2041.6 133.59 L2039.85 131.52 L2038.88 129.44 L2038.03 127.67 L2037.88 127.36 L2036.8 125.28 L2035.49 123.21 L2034.13 121.13 L2032.7 119.05 L2030.83 116.98 L2028.71 114.9 L2027.96 113.9 L2026.66 112.82 L2024.47 110.75 L2022.18 108.67 L2019.77 106.59 L2017.89 105.24 L2017.15 104.52 L2014.94 102.44 L2012.61 100.36 L2010.16 98.28 L2007.83 96.26 L2007.78 96.21 L2006.11 94.13 L2004.36 92.05 L2002.53 89.98 L2000.6 87.9 L1998.86 85.82 L1997.76 84.52 L1996.86 83.75 L1994.36 81.67 L1991.75 79.59 L1988.84 77.52 L1987.69 76.79 L1985.92 77.52 L1981.43 79.59 L1977.62 81.55 L1977.52 81.67 L1975.77 83.75 L1974.1 85.82 L1972.46 87.9 L1970.63 89.98 L1968.9 92.05 L1967.56 93.73 L1966.2 94.13 L1959.4 96.21 L1956.28 97.1M2195.07 266.51 L2199.11 267.41 L2209.18 268.04 L2219.24 267.29 L2226.77 266.51 L2229.31 266.25 L2239.38 264.87 L2243.15 264.44 L2249.45 263.6 L2257.86 262.36 L2259.51 262.11 L2269.52 260.28 L2269.58 260.27 L2272.86 258.21 L2275.75 256.13 L2278.03 254.05 L2279.65 252.5 L2280.21 251.98 L2282.36 249.9 L2284.27 247.82 L2285.99 245.74 L2287.65 243.67 L2289.23 241.59 L2289.72 240.89 L2290.68 239.51 L2292.1 237.44 L2293.39 235.36 L2294.35 233.28 L2295.28 231.21 L2295.96 229.13 L2296.38 227.05 L2296.76 224.98 L2297.05 222.9 L2297.15 220.82 L2296.88 218.74 L2296.59 216.67 L2296.22 214.59 L2295.82 212.51 L2295.31 210.44 L2294.79 208.36 L2294.27 206.28 L2293.31 204.21 L2292.4 202.13 L2291.71 200.05 L2291.01 197.98 L2290.58 195.9 L2290.18 193.82 L2289.72 192.14 L2289.61 191.75 L2288.64 189.67 L2287.64 187.59 L2286.61 185.51 L2285.73 183.44 L2284.9 181.36 L2284.06 179.28 L2283.19 177.21 L2281.38 175.13 L2279.65 173.23 L2279.49 173.05 L2278.18 170.98 L2277.03 168.9 L2275.85 166.82 L2275.01 164.75 L2274.71 162.67 L2273.9 160.59 L2272.25 158.51 L2270.54 156.44 L2269.58 155.29 L2267.03 154.36 L2262.32 152.28 L2259.51 151.08 L2257.16 150.21 L2251.43 148.13 L2249.45 147.43 L2245.21 146.05 L2239.38 144.05 L2239.2 143.98 L2234.86 141.9 L2230.4 139.82 L2229.31 139.32 L2224.94 137.75 L2219.24 135.74 L2218.96 135.67 L2209.18 134.24 L2199.11 135.46 L2198.63 135.67 L2195.91 137.75 L2193.28 139.82 L2190.71 141.9 L2189.04 143.28 L2188.71 143.98 L2187.58 146.05 L2186.39 148.13 L2185.23 150.21 L2184.12 152.28 L2183.04 154.36 L2181.75 156.44 L2180.48 158.51 L2179.27 160.59 L2178.97 161.6 L2178.67 162.67 L2178.45 164.75 L2177.83 166.82 L2176.96 168.9 L2176.11 170.98 L2175.14 173.05 L2173.81 175.13 L2172.54 177.21 L2171.93 179.28 L2171.34 181.36 L2170.76 183.44 L2170.15 185.51 L2169.42 187.59 L2168.91 189.12 L2168.69 189.67 L2167.87 191.75 L2167.42 193.82 L2167.1 195.9 L2166.76 197.98 L2166.19 200.05 L2165.64 202.13 L2164.92 204.21 L2164.15 206.28 L2163.73 208.36 L2163.32 210.44 L2162.91 212.51 L2162.58 214.59 L2162.29 216.67 L2162.06 218.74 L2161.85 220.82 L2161.93 222.9 L2162.15 224.98 L2162.46 227.05 L2162.79 229.13 L2163.34 231.21 L2164.08 233.28 L2164.85 235.36 L2165.88 237.44 L2167.02 239.51 L2168.19 241.59 L2168.91 242.72 L2169.42 243.67 L2170.58 245.74 L2171.79 247.82 L2173.12 249.9 L2174.63 251.98 L2176.22 254.05 L2177.9 256.13 L2178.97 257.19 L2180.04 258.21 L2182.47 260.28 L2185.09 262.36 L2187.96 264.44 L2189.04 265.09ZM1956.28 276.03 L1965.19 276.9 L1967.56 277.12 L1972.55 278.97 L1977.62 280.61 L1980.95 281.05 L1987.69 281.9 L1992.06 281.05 L1997.76 279.84 L2000.5 278.97 L2006.36 276.9 L2007.83 276.32 L2012.72 274.82 L2017.89 273.04 L2019.02 272.74 L2025.73 270.67 L2027.96 269.89 L2030.18 268.59 L2033.44 266.51 L2036.39 264.44 L2038.03 263.03 L2038.81 262.36 L2041.05 260.28 L2043.13 258.21 L2044.96 256.13 L2046.4 254.05 L2047.76 251.98 L2048.1 251.45 L2049.2 249.9 L2050.52 247.82 L2051.71 245.74 L2052.86 243.67 L2053.96 241.59 L2054.94 239.51 L2055.88 237.44 L2056.74 235.36 L2057.37 233.28 L2057.99 231.21 L2058.16 230.41 L2058.45 229.13 L2058.75 227.05 L2059.01 224.98 L2059.2 222.9 L2059.27 220.82 L2059.09 218.74 L2058.89 216.67 L2058.64 214.59 L2058.35 212.51 L2058.16 211.4 L2058.01 210.44 L2057.67 208.36 L2057.32 206.28 L2056.68 204.21 L2056.08 202.13 L2055.62 200.05 L2055.15 197.98 L2054.87 195.9 L2054.6 193.82 L2054.22 191.75 L2053.55 189.67 L2052.85 187.59 L2052.14 185.51 L2051.53 183.44 L2050.96 181.36 L2050.37 179.28 L2049.78 177.21 L2048.52 175.13 L2048.1 174.45 L2047.33 173.05 L2046.5 170.98 L2045.77 168.9 L2045.02 166.82 L2044.49 164.75 L2044.31 162.67 L2043.79 160.59 L2042.75 158.51 L2041.67 156.44 L2040.56 154.36 L2039.64 152.28 L2038.69 150.21 L2038.03 148.82 L2037.71 148.13 L2036.71 146.05 L2035.77 143.98 L2034.92 141.9 L2034.05 139.82 L2033.15 137.75 L2032.23 135.67 L2030.55 133.59 L2028.49 131.52 L2027.96 130.54 L2027 129.44 L2025.12 127.36 L2023.06 125.28 L2020.56 123.21 L2017.95 121.13 L2017.89 121.08 L2015.96 119.05 L2013.38 116.98 L2010.44 114.9 L2008.27 112.82 L2007.83 112.34 L2006.75 110.75 L2005.3 108.67 L2003.77 106.59 L2001.92 104.52 L1999.98 102.44 L1997.94 100.36 L1997.76 100.18 L1995.1 98.28 L1992.27 96.21 L1989.57 94.13 L1987.69 92.74 L1984.79 94.13 L1980.63 96.21 L1977.62 97.63 L1977.01 98.28 L1974.97 100.36 L1973.04 102.44 L1971.21 104.52 L1969.46 106.59 L1968.01 108.67 L1967.56 109.35 L1963.59 110.75 L1957.9 112.82 L1956.28 113.33M2198.29 258.21 L2199.11 258.45 L2209.18 259.3 L2219.24 258.28 L2219.77 258.21 L2229.31 256.78 L2232.65 256.13 L2239.38 254.52 L2241.75 254.05 L2249.45 252.5 L2251.79 251.98 L2259.51 250.2 L2260.65 249.9 L2267.64 247.82 L2269.58 247.2 L2270.95 245.74 L2272.83 243.67 L2274.64 241.59 L2276.25 239.51 L2277.8 237.44 L2279.21 235.36 L2279.65 234.49 L2280.29 233.28 L2281.36 231.21 L2282.15 229.13 L2282.63 227.05 L2283.07 224.98 L2283.39 222.9 L2283.51 220.82 L2283.21 218.74 L2282.87 216.67 L2282.45 214.59 L2281.98 212.51 L2281.39 210.44 L2280.8 208.36 L2280.19 206.28 L2279.65 205.26 L2279.12 204.21 L2278.13 202.13 L2277.37 200.05 L2276.6 197.98 L2276.14 195.9 L2275.69 193.82 L2275.07 191.75 L2273.96 189.67 L2272.82 187.59 L2271.65 185.51 L2270.65 183.44 L2269.71 181.36 L2269.58 181.09 L2266.87 179.28 L2263.7 177.21 L2259.51 175.89 L2256.69 175.13 L2249.45 173.23 L2248.7 173.05 L2242.47 170.98 L2239.38 169.79 L2237.49 168.9 L2233.01 166.82 L2229.82 164.75 L2229.31 163.78 L2228.57 162.67 L2224.7 160.59 L2219.24 159.13 L2216.12 158.51 L2209.18 157.17 L2200.85 158.51 L2199.11 158.8 L2196.02 160.59 L2194.25 162.67 L2193.61 164.75 L2191.77 166.82 L2189.2 168.9 L2189.04 169.03 L2188.09 170.98 L2186.92 173.05 L2185.33 175.13 L2183.8 177.21 L2183.08 179.28 L2182.36 181.36 L2181.67 183.44 L2180.93 185.51 L2180.07 187.59 L2179.22 189.67 L2178.97 190.29 L2178.4 191.75 L2177.94 193.82 L2177.62 195.9 L2177.27 197.98 L2176.71 200.05 L2176.15 202.13 L2175.42 204.21 L2174.64 206.28 L2174.22 208.36 L2173.8 210.44 L2173.39 212.51 L2173.06 214.59 L2172.77 216.67 L2172.53 218.74 L2172.32 220.82 L2172.4 222.9 L2172.63 224.98 L2172.93 227.05 L2173.27 229.13 L2173.83 231.21 L2174.58 233.28 L2175.35 235.36 L2176.39 237.44 L2177.54 239.51 L2178.73 241.59 L2178.97 241.99 L2180.06 243.67 L2181.45 245.74 L2182.9 247.82 L2184.5 249.9 L2186.31 251.98 L2188.22 254.05 L2189.04 254.91 L2191.99 256.13ZM1956.28 271.18 L1967.56 272.55 L1967.95 272.74 L1972.78 274.82 L1977.62 276.65 L1979.19 276.9 L1987.69 278.18 L1993.21 276.9 L1997.76 275.74 L2000.26 274.82 L2005.37 272.74 L2007.83 271.54 L2010.15 270.67 L2015.01 268.59 L2017.89 267.25 L2019.98 266.51 L2025.46 264.44 L2027.96 263.29 L2029.19 262.36 L2031.75 260.28 L2034.12 258.21 L2036.2 256.13 L2037.84 254.05 L2038.03 253.81 L2039.43 251.98 L2040.94 249.9 L2042.27 247.82 L2043.48 245.74 L2044.63 243.67 L2045.74 241.59 L2046.73 239.51 L2047.69 237.44 L2048.1 236.46 L2048.63 235.36 L2049.37 233.28 L2050.09 231.21 L2050.62 229.13 L2050.94 227.05 L2051.24 224.98 L2051.46 222.9 L2051.53 220.82 L2051.33 218.74 L2051.1 216.67 L2050.82 214.59 L2050.5 212.51 L2050.11 210.44 L2049.71 208.36 L2049.3 206.28 L2048.56 204.21 L2048.1 202.83 L2047.89 202.13 L2047.42 200.05 L2046.95 197.98 L2046.67 195.9 L2046.39 193.82 L2046.01 191.75 L2045.33 189.67 L2044.63 187.59 L2043.91 185.51 L2043.3 183.44 L2042.72 181.36 L2042.12 179.28 L2041.52 177.21 L2040.25 175.13 L2038.92 173.05 L2038.03 171.14 L2037.95 170.98 L2037.13 168.9 L2036.27 166.82 L2035.67 164.75 L2035.46 162.67 L2034.87 160.59 L2033.68 158.51 L2032.45 156.44 L2031.19 154.36 L2030.14 152.28 L2029.05 150.21 L2027.96 148.2 L2027.9 148.13 L2026.06 146.05 L2024.3 143.98 L2022.73 141.9 L2021.11 139.82 L2019.44 137.75 L2017.89 135.87 L2017.78 135.67 L2015.51 133.59 L2012.75 131.52 L2011.22 129.44 L2009.63 127.36 L2007.89 125.28 L2007.83 125.23 L2006.33 123.21 L2004.71 121.13 L2003.02 119.05 L2000.82 116.98 L1998.32 114.9 L1997.76 114.26 L1996.02 112.82 L1993.82 110.75 L1991.53 108.67 L1989.12 106.59 L1987.69 105.56 L1985.48 106.59 L1981.77 108.67 L1978.24 110.75 L1977.62 111.12 L1976.36 112.82 L1974.61 114.9 L1972.25 116.98 L1970.17 119.05 L1968.57 121.13 L1967.56 122.5 L1965.34 123.21 L1959.04 125.28 L1956.28 126.38M2206.64 247.82 L2209.18 248.16 L2211.29 247.82 L2219.24 246.47 L2222.35 245.74 L2229.31 244.08 L2230.68 243.67 L2237.34 241.59 L2239.38 240.89 L2244.25 239.51 L2249.45 238.01 L2251.27 237.44 L2257.32 235.36 L2259.51 234.35 L2261.52 233.28 L2265.34 231.21 L2268.16 229.13 L2269.58 227.42 L2269.68 227.05 L2270.16 224.98 L2270.52 222.9 L2270.65 220.82 L2270.31 218.74 L2269.94 216.67 L2269.58 215.07 L2269.23 214.59 L2267.56 212.51 L2265.46 210.44 L2263.34 208.36 L2261.18 206.28 L2259.51 205.4 L2256.91 204.21 L2252.68 202.13 L2249.45 200.06 L2249.44 200.05 L2245.88 197.98 L2243.75 195.9 L2241.7 193.82 L2239.38 192.14 L2238.95 191.75 L2234.85 189.67 L2230.64 187.59 L2229.31 186.95 L2225.58 185.51 L2220.98 183.44 L2219.24 182.6 L2215.76 181.36 L2209.83 179.28 L2209.18 179.06 L2208.39 179.28 L2201.28 181.36 L2199.11 182 L2197.73 183.44 L2195.62 185.51 L2193.14 187.59 L2190.72 189.67 L2189.04 191.14 L2188.77 191.75 L2188.23 193.82 L2187.85 195.9 L2187.45 197.98 L2186.79 200.05 L2186.13 202.13 L2185.28 204.21 L2184.38 206.28 L2183.89 208.36 L2183.4 210.44 L2182.92 212.51 L2182.54 214.59 L2182.19 216.67 L2181.92 218.74 L2181.67 220.82 L2181.76 222.9 L2182.03 224.98 L2182.39 227.05 L2182.78 229.13 L2183.43 231.21 L2184.3 233.28 L2185.2 235.36 L2186.42 237.44 L2187.76 239.51 L2189.04 241.44 L2189.29 241.59 L2193.11 243.67 L2197.11 245.74 L2199.11 246.75ZM1956.28 265.84 L1960.81 266.51 L1967.56 267.48 L1969.46 268.59 L1973.3 270.67 L1977.62 272.67 L1977.99 272.74 L1987.69 274.43 L1993.98 272.74 L1997.76 271.55 L1999.7 270.67 L2003.77 268.59 L2007.44 266.51 L2007.83 266.28 L2011.84 264.44 L2015.53 262.36 L2017.89 260.92 L2019.29 260.28 L2023.6 258.21 L2027.39 256.13 L2027.96 255.74 L2029.48 254.05 L2031.25 251.98 L2032.94 249.9 L2034.42 247.82 L2035.77 245.74 L2037.07 243.67 L2038.03 242.06 L2038.31 241.59 L2039.44 239.51 L2040.53 237.44 L2041.52 235.36 L2042.26 233.28 L2042.97 231.21 L2043.5 229.13 L2043.82 227.05 L2044.11 224.98 L2044.33 222.9 L2044.41 220.82 L2044.2 218.74 L2043.98 216.67 L2043.7 214.59 L2043.39 212.51 L2042.99 210.44 L2042.6 208.36 L2042.2 206.28 L2041.46 204.21 L2040.76 202.13 L2040.23 200.05 L2039.69 197.98 L2039.37 195.9 L2039.05 193.82 L2038.62 191.75 L2038.03 190.17 L2037.84 189.67 L2037.06 187.59 L2036.26 185.51 L2035.57 183.44 L2034.92 181.36 L2034.26 179.28 L2033.59 177.21 L2032.17 175.13 L2030.69 173.05 L2029.6 170.98 L2028.66 168.9 L2027.96 167.41 L2027.52 166.82 L2026.42 164.75 L2026.04 162.67 L2024.97 160.59 L2022.81 158.51 L2020.57 156.44 L2018.28 154.36 L2017.89 153.94 L2016.78 152.28 L2015.35 150.21 L2013.87 148.13 L2012.33 146.05 L2010.88 143.98 L2009.57 141.9 L2008.23 139.82 L2007.83 139.21 L2007.11 137.75 L2006.08 135.67 L2004.19 133.59 L2001.88 131.52 L2000.6 129.44 L1999.27 127.36 L1997.82 125.28 L1997.76 125.22 L1995.46 123.21 L1992.97 121.13 L1990.37 119.05 L1987.69 117.41 L1983.56 119.05 L1979.55 121.13 L1977.62 122.16 L1976.76 123.21 L1975.09 125.28 L1973.71 127.36 L1972.46 129.44 L1971.25 131.52 L1969.06 133.59 L1967.56 135.34 L1966.36 135.67 L1962.12 137.75 L1958.01 139.82 L1956.28 140.71M2206.77 233.28 L2209.18 233.86 L2211.19 233.28 L2218.33 231.21 L2219.24 230.85 L2222.5 229.13 L2224.92 227.05 L2227.12 224.98 L2228.74 222.9 L2229.31 220.82 L2227.8 218.74 L2226.12 216.67 L2224 214.59 L2221.66 212.51 L2219.24 210.8 L2218.55 210.44 L2214.59 208.36 L2210.56 206.28 L2209.18 205.89 L2207.52 206.28 L2202.69 208.36 L2199.11 209.92 L2198.77 210.44 L2197.42 212.51 L2196.34 214.59 L2195.37 216.67 L2194.6 218.74 L2193.9 220.82 L2194.17 222.9 L2194.91 224.98 L2195.92 227.05 L2197.04 229.13 L2198.85 231.21 L2199.11 231.43ZM1956.28 259.96 L1957.96 260.28 L1967.56 262.05 L1967.96 262.36 L1970.83 264.44 L1974.36 266.51 L1977.62 268.27 L1979.02 268.59 L1987.69 270.49 L1993.31 268.59 L1997.76 266.95 L1998.59 266.51 L2002.32 264.44 L2005.36 262.36 L2007.83 260.52 L2008.25 260.28 L2011.77 258.21 L2014.86 256.13 L2017.29 254.05 L2017.89 253.52 L2020.24 251.98 L2023.26 249.9 L2025.92 247.82 L2027.96 246.07 L2028.2 245.74 L2029.65 243.67 L2031.04 241.59 L2032.29 239.51 L2033.49 237.44 L2034.58 235.36 L2035.38 233.28 L2036.17 231.21 L2036.74 229.13 L2037.1 227.05 L2037.42 224.98 L2037.66 222.9 L2037.74 220.82 L2037.52 218.74 L2037.28 216.67 L2036.96 214.59 L2036.62 212.51 L2036.19 210.44 L2035.76 208.36 L2035.31 206.28 L2034.5 204.21 L2033.74 202.13 L2033.16 200.05 L2032.56 197.98 L2032.2 195.9 L2031.86 193.82 L2031.38 191.75 L2030.52 189.67 L2029.64 187.59 L2028.74 185.51 L2027.97 183.44 L2027.96 183.42 L2026.81 181.36 L2025.63 179.28 L2024.42 177.21 L2021.88 175.13 L2019.23 173.05 L2017.89 171.62 L2017.46 170.98 L2016.23 168.9 L2014.96 166.82 L2014.07 164.75 L2013.75 162.67 L2012.88 160.59 L2011.12 158.51 L2009.29 156.44 L2007.83 154.81 L2007.53 154.36 L2006.39 152.28 L2005.21 150.21 L2003.99 148.13 L2002.73 146.05 L2001.53 143.98 L2000.46 141.9 L1999.36 139.82 L1998.22 137.75 L1997.76 136.92 L1996.81 135.67 L1993.94 133.59 L1990.44 131.52 L1988.5 129.44 L1987.69 128.59 L1986.45 129.44 L1983.45 131.52 L1978.05 133.59 L1977.62 133.79 L1975.81 135.67 L1974.7 137.75 L1973.63 139.82 L1972.59 141.9 L1971.57 143.98 L1970.44 146.05 L1969.25 148.13 L1968.1 150.21 L1967.56 151.21 L1965.08 152.28 L1960.43 154.36 L1956.28 155.89M1956.28 253.12 L1959.77 254.05 L1967.56 256.06 L1967.62 256.13 L1970 258.21 L1972.7 260.28 L1975.62 262.36 L1977.62 263.69 L1980.22 264.44 L1987.69 266.25 L1992.54 264.44 L1997.08 262.36 L1997.76 262.03 L2000.34 260.28 L2003.2 258.21 L2005.71 256.13 L2007.69 254.05 L2007.83 253.9 L2010.2 251.98 L2012.63 249.9 L2014.78 247.82 L2016.72 245.74 L2017.89 244.45 L2018.85 243.67 L2021.31 241.59 L2023.51 239.51 L2025.63 237.44 L2027.55 235.36 L2027.96 234.77 L2028.6 233.28 L2029.47 231.21 L2030.12 229.13 L2030.51 227.05 L2030.87 224.98 L2031.13 222.9 L2031.23 220.82 L2030.98 218.74 L2030.71 216.67 L2030.36 214.59 L2029.98 212.51 L2029.5 210.44 L2029.02 208.36 L2028.53 206.28 L2027.96 204.98 L2027.43 204.21 L2026.08 202.13 L2025.05 200.05 L2023.99 197.98 L2023.36 195.9 L2022.75 193.82 L2021.91 191.75 L2020.39 189.67 L2018.84 187.59 L2017.89 186.36 L2017.42 185.51 L2016.43 183.44 L2015.49 181.36 L2014.54 179.28 L2013.56 177.21 L2011.52 175.13 L2009.38 173.05 L2007.83 170.99 L2007.82 170.98 L2006.82 168.9 L2005.8 166.82 L2005.07 164.75 L2004.81 162.67 L2004.11 160.59 L2002.68 158.51 L2001.19 156.44 L1999.67 154.36 L1998.4 152.28 L1997.76 151.25 L1996.86 150.21 L1995.04 148.13 L1993.15 146.05 L1991.36 143.98 L1989.75 141.9 L1988.1 139.82 L1987.69 139.32 L1987.07 139.82 L1984.52 141.9 L1982.04 143.98 L1979.27 146.05 L1977.62 147.22 L1977.05 148.13 L1975.77 150.21 L1974.53 152.28 L1973.33 154.36 L1971.89 156.44 L1970.49 158.51 L1969.14 160.59 L1968.47 162.67 L1968.23 164.75 L1967.56 166.77 L1967.48 166.82 L1963.3 168.9 L1959.24 170.98 L1956.28 172.29M1956.28 244.91 L1958.77 245.74 L1965.15 247.82 L1967.56 248.54 L1968.63 249.9 L1970.48 251.98 L1972.42 254.05 L1974.48 256.13 L1977.09 258.21 L1977.62 258.59 L1982.99 260.28 L1987.69 261.68 L1990.74 260.28 L1994.98 258.21 L1997.76 256.67 L1998.46 256.13 L2000.64 254.05 L2002.69 251.98 L2004.64 249.9 L2006.37 247.82 L2007.83 245.89 L2007.98 245.74 L2010.03 243.67 L2011.99 241.59 L2013.75 239.51 L2015.44 237.44 L2016.98 235.36 L2017.89 233.68 L2018.19 233.28 L2019.72 231.21 L2020.84 229.13 L2021.53 227.05 L2022.16 224.98 L2022.62 222.9 L2022.79 220.82 L2022.35 218.74 L2021.88 216.67 L2021.27 214.59 L2020.6 212.51 L2019.77 210.44 L2018.92 208.36 L2018.06 206.28 L2017.89 206.06 L2016.87 204.21 L2015.8 202.13 L2014.97 200.05 L2014.13 197.98 L2013.63 195.9 L2013.14 193.82 L2012.47 191.75 L2011.26 189.67 L2010.02 187.59 L2008.74 185.51 L2007.83 183.77 L2007.7 183.44 L2006.95 181.36 L2006.18 179.28 L2005.4 177.21 L2003.75 175.13 L2002.04 173.05 L2000.78 170.98 L1999.68 168.9 L1998.55 166.82 L1997.76 164.77 L1997.75 164.75 L1997.37 162.67 L1996.32 160.59 L1994.2 158.51 L1992 156.44 L1989.75 154.36 L1987.87 152.28 L1987.69 152.1 L1987.43 152.28 L1984.52 154.36 L1981.04 156.44 L1977.65 158.51 L1977.62 158.53 L1976.15 160.59 L1975.41 162.67 L1975.15 164.75 L1974.39 166.82 L1973.32 168.9 L1972.29 170.98 L1971.1 173.05 L1969.47 175.13 L1967.92 177.21 L1967.56 178.22 L1965.92 179.28 L1962.79 181.36 L1959.73 183.44 L1956.49 185.51 L1956.28 185.63M1956.28 235.66 L1960.58 237.44 L1966.07 239.51 L1967.56 240.06 L1968.54 241.59 L1970.02 243.67 L1971.56 245.74 L1973.18 247.82 L1974.96 249.9 L1976.97 251.98 L1977.62 252.63 L1980.85 254.05 L1985.79 256.13 L1987.69 256.78 L1988.93 256.13 L1992.12 254.05 L1995.15 251.98 L1997.76 250.09 L1997.95 249.9 L1999.84 247.82 L2001.54 245.74 L2003.18 243.67 L2004.75 241.59 L2006.15 239.51 L2007.49 237.44 L2007.83 236.88 L2009.05 235.36 L2010.29 233.28 L2011.49 231.21 L2012.38 229.13 L2012.93 227.05 L2013.43 224.98 L2013.79 222.9 L2013.92 220.82 L2013.58 218.74 L2013.2 216.67 L2012.72 214.59 L2012.19 212.51 L2011.53 210.44 L2010.86 208.36 L2010.18 206.28 L2008.93 204.21 L2007.83 202.25 L2007.78 202.13 L2007.12 200.05 L2006.45 197.98 L2006.05 195.9 L2005.66 193.82 L2005.13 191.75 L2004.16 189.67 L2003.17 187.59 L2002.15 185.51 L2001.29 183.44 L2000.47 181.36 L1999.63 179.28 L1998.78 177.21 L1997.76 176.02 L1996.71 175.13 L1994.18 173.05 L1992.34 170.98 L1990.72 168.9 L1989.06 166.82 L1987.88 164.75 L1987.69 163.78 L1987.4 164.75 L1985.58 166.82 L1983.02 168.9 L1980.53 170.98 L1977.68 173.05 L1977.62 173.08 L1975.88 175.13 L1974.18 177.21 L1973.37 179.28 L1972.58 181.36 L1971.81 183.44 L1970.99 185.51 L1970.03 187.59 L1969.09 189.67 L1968.18 191.75 L1967.67 193.82 L1967.56 194.45 L1966.46 195.9 L1964.82 197.98 L1962.09 200.05 L1959.41 202.13 L1956.28 203.99M1985.67 249.9 L1987.69 250.79 L1989 249.9 L1991.75 247.82 L1994.25 245.74 L1996.63 243.67 L1997.76 242.66 L1998.62 241.59 L2000.14 239.51 L2001.6 237.44 L2002.92 235.36 L2003.91 233.28 L2004.86 231.21 L2005.57 229.13 L2006 227.05 L2006.39 224.98 L2006.68 222.9 L2006.78 220.82 L2006.51 218.74 L2006.21 216.67 L2005.83 214.59 L2005.42 212.51 L2004.89 210.44 L2004.36 208.36 L2003.82 206.28 L2002.84 204.21 L2001.91 202.13 L2001.2 200.05 L2000.47 197.98 L2000.03 195.9 L1999.62 193.82 L1999.03 191.75 L1997.99 189.67 L1997.76 189.22 L1996.62 187.59 L1995.13 185.51 L1993.87 183.44 L1992.67 181.36 L1991.45 179.28 L1990.2 177.21 L1987.69 175.22 L1983.82 177.21 L1981.9 179.28 L1980.01 181.36 L1978.16 183.44 L1977.62 184 L1976.98 185.51 L1975.94 187.59 L1974.93 189.67 L1973.94 191.75 L1973.39 193.82 L1972.99 195.9 L1972.58 197.98 L1971.89 200.05 L1971.22 202.13 L1970.34 204.21 L1969.41 206.28 L1968.9 208.36 L1968.4 210.44 L1967.9 212.51 L1967.56 214.32 L1967.34 214.59 L1965.79 216.67 L1964.57 218.74 L1963.47 220.82 L1963.89 222.9 L1965.07 224.98 L1966.67 227.05 L1967.56 228.1 L1967.76 229.13 L1968.43 231.21 L1969.33 233.28 L1970.26 235.36 L1971.51 237.44 L1972.89 239.51 L1974.33 241.59 L1975.93 243.67 L1977.61 245.74 L1977.62 245.77 L1981.43 247.82ZM1986.91 243.67 L1987.69 244.08 L1988.2 243.67 L1990.66 241.59 L1992.87 239.51 L1994.98 237.44 L1996.91 235.36 L1997.76 234.13 L1998.19 233.28 L1999.22 231.21 L1999.98 229.13 L2000.44 227.05 L2000.86 224.98 L2001.18 222.9 L2001.29 220.82 L2001 218.74 L2000.67 216.67 L2000.27 214.59 L1999.81 212.51 L1999.25 210.44 L1998.68 208.36 L1998.1 206.28 L1997.76 205.62 L1996.78 204.21 L1995.43 202.13 L1994.4 200.05 L1993.35 197.98 L1992.72 195.9 L1992.11 193.82 L1991.26 191.75 L1989.74 189.67 L1988.19 187.59 L1987.69 186.95 L1986.93 187.59 L1984.53 189.67 L1982.19 191.75 L1980.88 193.82 L1979.94 195.9 L1978.97 197.98 L1977.62 199.69 L1977.5 200.05 L1976.77 202.13 L1975.83 204.21 L1974.82 206.28 L1974.27 208.36 L1973.73 210.44 L1973.2 212.51 L1972.77 214.59 L1972.39 216.67 L1972.08 218.74 L1971.81 220.82 L1971.91 222.9 L1972.21 224.98 L1972.6 227.05 L1973.05 229.13 L1973.76 231.21 L1974.74 233.28 L1975.74 235.36 L1977.09 237.44 L1977.62 238.2 L1979.71 239.51 L1983.11 241.59ZM1985.52 235.36 L1987.69 236.78 L1989.1 235.36 L1990.63 233.28 L1992.12 231.21 L1993.21 229.13 L1993.88 227.05 L1994.49 224.98 L1994.94 222.9 L1995.1 220.82 L1994.68 218.74 L1994.22 216.67 L1993.63 214.59 L1992.98 212.51 L1992.16 210.44 L1991.34 208.36 L1990.5 206.28 L1988.96 204.21 L1987.69 202.38 L1985.73 204.21 L1983.36 206.28 L1982.07 208.36 L1980.8 210.44 L1979.54 212.51 L1978.53 214.59 L1977.63 216.67 L1977.62 216.67 L1977.3 218.74 L1977 220.82 L1977.12 222.9 L1977.43 224.98 L1977.62 225.92 L1978.14 227.05 L1979.18 229.13 L1980.87 231.21 L1983.16 233.28Z"/>
</g>
<path class="ax" d="M1977.62 462.05v-5.2M1977.62 35v5.2M2078.3 462.05v-5.2M2078.3 35v5.2M2178.97 462.05v-5.2M2178.97 35v5.2M2279.65 462.05v-5.2M2279.65 35v5.2M2380.32 462.05v-5.2M2380.32 35v5.2M1957.85 448.45h5.2M2481 448.45h-5.2M1957.85 379.22h5.2M2481 379.22h-5.2M1957.85 309.99h5.2M2481 309.99h-5.2M1957.85 240.76h5.2M2481 240.76h-5.2M1957.85 171.53h5.2M2481 171.53h-5.2M1957.85 102.3h5.2M2481 102.3h-5.2"/>
<rect class="ax" x="1957.85" y="35" width="523.15" height="427.05"/>
<text class="t" transform="translate(1978.62 493.95) scale(1 1.04)" text-anchor="middle">250</text>
<text class="t" transform="translate(2079.3 493.95) scale(1 1.04)" text-anchor="middle">300</text>
<text class="t" transform="translate(2179.97 493.95) scale(1 1.04)" text-anchor="middle">350</text>
<text class="t" transform="translate(2280.65 493.95) scale(1 1.04)" text-anchor="middle">400</text>
<text class="t" transform="translate(2381.32 493.95) scale(1 1.04)" text-anchor="middle">450</text>
<text class="t" transform="translate(2482 493.95) scale(1 1.04)" text-anchor="middle">500</text>
<text class="h" x="2219.43" y="24.1" text-anchor="middle">Comp.4</text>
<text class="l" x="2219.43" y="528.6" text-anchor="middle">Ex. (nm)</text>
</g>
<g id="load4">
<clipPath id="cq3"><rect x="1955.8" y="592.15" width="527.25" height="431.8"/></clipPath>
<path class="gr" d="M1971.4 594.2V1021.9M2044.43 594.2V1021.9M2117.45 594.2V1021.9M2190.47 594.2V1021.9M2263.5 594.2V1021.9M2336.53 594.2V1021.9M2409.55 594.2V1021.9M1957.85 960.8H2481M1957.85 899.7H2481M1957.85 838.6H2481M1957.85 777.5H2481M1957.85 716.4H2481M1957.85 655.3H2481"/>
<path class="ax" d="M1971.4 1021.9v-5.2M1971.4 594.2v5.2M2044.43 1021.9v-5.2M2044.43 594.2v5.2M2117.45 1021.9v-5.2M2117.45 594.2v5.2M2190.47 1021.9v-5.2M2190.47 594.2v5.2M2263.5 1021.9v-5.2M2263.5 594.2v5.2M2336.53 1021.9v-5.2M2336.53 594.2v5.2M2409.55 1021.9v-5.2M2409.55 594.2v5.2M1957.85 960.8h5.2M2481 960.8h-5.2M1957.85 899.7h5.2M2481 899.7h-5.2M1957.85 838.6h5.2M2481 838.6h-5.2M1957.85 777.5h5.2M2481 777.5h-5.2M1957.85 716.4h5.2M2481 716.4h-5.2M1957.85 655.3h5.2M2481 655.3h-5.2"/>
<rect class="ax" x="1957.85" y="594.2" width="523.15" height="427.7"/>
<g clip-path="url(#cq3)">
<path class="em" stroke="#0072bd" d="M2030.4 1021.03 L2032.59 1021.21 L2034.79 1021.39 L2036.98 1021.58 L2039.17 1021.76 L2041.36 1021.94 L2043.55 1022.13 L2045.74 1022.2 L2047.93 1022.2 L2050.12 1022.2 L2052.31 1022.2 L2054.5 1022.2 L2056.69 1022.2 L2058.88 1022.2 L2061.07 1022.2 L2063.27 1022.2 L2065.46 1022.2 L2067.65 1022.2 L2069.84 1022.2 L2072.03 1022.2 L2074.22 1022.2 L2076.41 1022.2 L2078.6 1022.2 L2080.79 1022.2 L2082.98 1022.2 L2085.17 1022.2 L2087.36 1022.2 L2089.55 1022.2 L2091.75 1022.2 L2093.94 1022.2 L2096.13 1022.2 L2098.32 1022.2 L2100.51 1022.2 L2102.7 1022.2 L2104.89 1022.2 L2107.08 1022.2 L2109.27 1022.2 L2111.46 1022.2 L2113.65 1021.77 L2115.84 1021.31 L2118.03 1020.82 L2120.22 1020.2 L2122.42 1019.1 L2124.61 1016.66 L2126.8 1014.54 L2128.99 1013.32 L2131.18 1012.33 L2133.37 1011.96 L2135.56 1012.16 L2137.75 1012.41 L2139.94 1013.56 L2142.13 1014.79 L2144.32 1016.01 L2146.51 1017.23 L2148.7 1019.02 L2150.9 1020.86 L2153.09 1022.2 L2155.28 1022.2 L2157.47 1022.2 L2159.66 1022.2 L2161.85 1022.2 L2164.04 1022.2 L2166.23 1022.2 L2168.42 1022.2 L2170.61 1022.2 L2172.8 1022.2 L2174.99 1022.2 L2177.18 1022.2 L2179.38 1022.2 L2181.57 1022.2 L2183.76 1022.2 L2185.95 1022.2 L2188.14 1022.2 L2190.33 1022.2 L2192.52 1022.2 L2194.71 1017.07 L2196.9 1010.47 L2199.09 1003.14 L2201.28 995.8 L2203.47 988.47 L2205.66 981.14 L2207.85 973.81 L2210.05 966.48 L2212.24 959.69 L2214.43 953.28 L2216.62 946.86 L2218.81 938.74 L2221 930.49 L2223.19 922.27 L2225.38 914.12 L2227.57 905.97 L2229.76 897.83 L2231.95 890.31 L2234.14 883.11 L2236.33 875.91 L2238.53 868.71 L2240.72 862.32 L2242.91 855.99 L2245.1 849.65 L2247.29 843.68 L2249.48 838.68 L2251.67 833.68 L2253.86 828.68 L2256.05 824.03 L2258.24 819.62 L2260.43 815.21 L2262.62 810.79 L2264.81 806.69 L2267.01 802.59 L2269.2 798.72 L2271.39 795.77 L2273.58 792.82 L2275.77 790.59 L2277.96 789.21 L2280.15 787.93 L2282.34 786.99 L2284.53 786.65 L2286.72 787.54 L2288.91 788.28 L2291.1 788.65 L2293.29 789.02 L2295.48 789.79 L2297.68 791.67 L2299.87 793.56 L2302.06 795.4 L2304.25 797.23 L2306.44 798.82 L2308.63 800.39 L2310.82 801.96 L2313.01 803.53 L2315.2 805.42 L2317.39 808.17 L2319.58 810.92 L2321.77 813.67 L2323.96 816.47 L2326.16 819.41 L2328.35 822.36 L2330.54 825.31 L2332.73 828.98 L2334.92 833.29 L2337.11 837.14 L2339.3 839.71 L2341.49 842.27 L2343.68 844.84 L2345.87 845.58 L2348.06 846.19 L2350.25 849.31 L2352.44 852.61 L2354.64 855.91 L2356.83 858.8 L2359.02 861.42 L2361.21 864.04 L2363.4 866.66 L2365.59 869.28 L2367.78 871.41 L2369.97 873.5 L2372.16 875.59 L2374.35 877.69 L2376.54 880.35 L2378.73 884.58 L2380.92 887.75 L2383.11 889.99 L2385.31 892.22 L2387.5 894.88 L2389.69 897.65 L2391.88 900.42 L2394.07 903.42 L2396.26 907.09 L2398.45 910.35 L2400.64 912.52 L2402.83 914.69 L2405.02 916.85 L2407.21 919.23 L2409.4 921.76 L2411.59 924.28 L2413.79 926.8 L2415.98 929.33 L2418.17 931.45 L2420.36 933.58 L2422.55 935.7 L2424.74 937.83 L2426.93 939.82 L2429.12 941.59 L2431.31 943.37 L2433.5 945.15 L2435.69 946.93 L2437.88 948.97 L2440.07 951.03 L2442.27 952.71 L2444.46 953.32 L2446.65 954.44 L2448.84 956.96 L2451.03 959.48 L2453.22 961.16 L2455.41 962.29 L2457.6 963.42 L2459.79 964.54 L2461.98 965.6 L2464.17 966.63 L2466.36 967.67 L2468.55 968.66 L2470.74 969.51 L2472.94 970.36 L2475.13 970.88 L2477.32 970.88 L2480.82 970.88"/>
<path class="ex" stroke="#0072bd" stroke-dashoffset="0" d="M1956.8 714.26 L1964.1 702.04 L1971.4 654.99 L1978.7 633.6 L1986.01 666.6 L1993.31 711.08 L2000.61 743.58 L2007.91 767.17 L2015.22 804.68 L2022.52 841.34 L2029.82 873.12 L2037.12 903.67 L2044.43 920.77 L2051.73 933.6 L2059.03 945.58 L2066.33 954.62 L2073.64 955.72 L2080.94 949.61 L2088.24 939.59 L2095.54 925.66 L2102.85 907.33 L2110.15 885.34 L2117.45 859.19 L2124.75 833.03 L2132.06 821.06 L2139.36 816.9 L2146.66 821.06 L2153.96 827.9 L2161.26 834.01 L2168.57 838.9 L2175.87 844.15 L2183.17 850.14 L2190.47 869.45 L2197.78 887.78 L2205.08 905.38 L2212.38 919.55 L2219.68 931.16 L2226.99 943.99 L2234.29 954.38 L2241.59 962.32 L2248.89 969.65 L2256.2 973.93 L2263.5 976.99 L2270.8 981.87 L2278.11 986.15 L2285.41 990.43 L2292.71 994.09 L2300.01 998.37 L2307.32 1002.65 L2314.62 1005.7 L2321.92 1008.15 L2329.22 1010.22 L2336.53 1011.45"/>
<path class="em" stroke="#d95319" d="M2030.4 1021.03 L2032.59 1021.21 L2034.79 1021.39 L2036.98 1021.58 L2039.17 1021.76 L2041.36 1021.94 L2043.55 1022.13 L2045.74 1022.16 L2047.93 1022.1 L2050.12 1022.04 L2052.31 1021.98 L2054.5 1021.92 L2056.69 1021.86 L2058.88 1021.8 L2061.07 1021.74 L2063.27 1021.67 L2065.46 1021.61 L2067.65 1021.55 L2069.84 1021.49 L2072.03 1021.43 L2074.22 1021.37 L2076.41 1021.31 L2078.6 1021.25 L2080.79 1021.19 L2082.98 1021.12 L2085.17 1021.06 L2087.36 1021 L2089.55 1021.05 L2091.75 1021.16 L2093.94 1021.28 L2096.13 1021.39 L2098.32 1021.5 L2100.51 1021.62 L2102.7 1021.73 L2104.89 1021.85 L2107.08 1021.96 L2109.27 1022.08 L2111.46 1022.19 L2113.65 1021.77 L2115.84 1021.31 L2118.03 1020.86 L2120.22 1020.4 L2122.42 1019.94 L2124.61 1018.93 L2126.8 1017.56 L2128.99 1016.18 L2131.18 1015.66 L2133.37 1015.2 L2135.56 1014.62 L2137.75 1013.71 L2139.94 1013.4 L2142.13 1014.78 L2144.32 1013.68 L2146.51 1012.41 L2148.7 1014.96 L2150.9 1019.51 L2153.09 1022.2 L2155.28 1022.2 L2157.47 1022.2 L2159.66 1022.2 L2161.85 1022.2 L2164.04 1022.2 L2166.23 1022.2 L2168.42 1022.2 L2170.61 1022.2 L2172.8 1022.2 L2174.99 1022.2 L2177.18 1022.2 L2179.38 1022.2 L2181.57 1022.2 L2183.76 1022.2 L2185.95 1022.2 L2188.14 1022.2 L2190.33 1022.2 L2192.52 1022.2 L2194.71 1020.6 L2196.9 1017.92 L2199.09 1013.54 L2201.28 1009.16 L2203.47 1003.96 L2205.66 996.49 L2207.85 989.02 L2210.05 982.61 L2212.24 977.11 L2214.43 971.61 L2216.62 962.34 L2218.81 952.5 L2221 942.66 L2223.19 933.51 L2225.38 926.28 L2227.57 919.05 L2229.76 911.82 L2231.95 904.39 L2234.14 896.86 L2236.33 889.33 L2238.53 881.81 L2240.72 874.65 L2242.91 867.51 L2245.1 860.38 L2247.29 853.84 L2249.48 848.9 L2251.67 843.97 L2253.86 839.04 L2256.05 834.35 L2258.24 829.83 L2260.43 825.31 L2262.62 820.79 L2264.81 816.41 L2267.01 812.12 L2269.2 807.83 L2271.39 803.43 L2273.58 798.72 L2275.77 794.74 L2277.96 792.72 L2280.15 790.83 L2282.34 789.31 L2284.53 788.31 L2286.72 788.77 L2288.91 789.23 L2291.1 789.09 L2293.29 788.57 L2295.48 788.54 L2297.68 789.85 L2299.87 791.15 L2302.06 793.12 L2304.25 795.14 L2306.44 796.67 L2308.63 798.16 L2310.82 799.65 L2313.01 801.15 L2315.2 802.97 L2317.39 805.72 L2319.58 808.47 L2321.77 811.22 L2323.96 813.94 L2326.16 816.55 L2328.35 819.17 L2330.54 821.79 L2332.73 825.31 L2334.92 829.63 L2337.11 833.53 L2339.3 836.32 L2341.49 839.11 L2343.68 841.89 L2345.87 842.31 L2348.06 842.55 L2350.25 846.09 L2352.44 849.87 L2354.64 853.64 L2356.83 856.71 L2359.02 859.3 L2361.21 861.89 L2363.4 864.49 L2365.59 867.08 L2367.78 869.25 L2369.97 871.4 L2372.16 873.55 L2374.35 875.7 L2376.54 878.51 L2378.73 883.16 L2380.92 886.53 L2383.11 888.76 L2385.31 891 L2387.5 893.71 L2389.69 896.55 L2391.88 899.39 L2394.07 902.53 L2396.26 906.5 L2398.45 910 L2400.64 912.2 L2402.83 914.4 L2405.02 916.59 L2407.21 919.05 L2409.4 921.68 L2411.59 924.31 L2413.79 926.94 L2415.98 929.57 L2418.17 931.75 L2420.36 933.93 L2422.55 936.11 L2424.74 938.29 L2426.93 940.32 L2429.12 942.12 L2431.31 943.93 L2433.5 945.73 L2435.69 947.54 L2437.88 949.8 L2440.07 952.09 L2442.27 953.88 L2444.46 954.31 L2446.65 955.33 L2448.84 957.99 L2451.03 960.65 L2453.22 962.39 L2455.41 963.51 L2457.6 964.64 L2459.79 965.76 L2461.98 966.82 L2464.17 967.86 L2466.36 968.89 L2468.55 969.88 L2470.74 970.73 L2472.94 971.59 L2475.13 971.94 L2477.32 971.55 L2480.82 970.93"/>
<path class="ex" stroke="#d95319" stroke-dashoffset="0" d="M1956.8 706.07 L1964.1 694.7 L1971.4 626.27 L1978.7 615.27 L1986.01 665.38 L1993.31 711.08 L2000.61 746.03 L2007.91 770.47 L2015.22 807.13 L2022.52 845.01 L2029.82 875.56 L2037.12 911.49 L2044.43 933.6 L2051.73 953.77 L2059.03 970.88 L2066.33 978.82 L2073.64 983.1 L2080.94 979.8 L2088.24 967.7 L2095.54 951.69 L2102.85 933.6 L2110.15 911.49 L2117.45 885.34 L2124.75 853.2 L2132.06 833.03 L2139.36 824.97 L2146.66 824.24 L2153.96 827.9 L2161.26 832.79 L2168.57 837.07 L2175.87 841.34 L2183.17 845.01 L2190.47 863.34 L2197.78 883.26 L2205.08 899.39 L2212.38 915.52 L2219.68 928.11 L2226.99 941.55 L2234.29 952.55 L2241.59 961.1 L2248.89 968.43 L2256.2 972.71 L2263.5 975.76 L2270.8 980.65 L2278.11 984.93 L2285.41 989.21 L2292.71 993.48 L2300.01 997.76 L2307.32 1002.04 L2314.62 1005.09 L2321.92 1007.54 L2329.22 1009.98 L2336.53 1011.2"/>
<path class="em" stroke="#edb120" d="M2030.4 1021.03 L2032.59 1021.21 L2034.79 1021.39 L2036.98 1021.58 L2039.17 1021.76 L2041.36 1021.94 L2043.55 1022.13 L2045.74 1022.2 L2047.93 1022.2 L2050.12 1022.2 L2052.31 1022.2 L2054.5 1022.2 L2056.69 1022.2 L2058.88 1022.2 L2061.07 1022.2 L2063.27 1022.2 L2065.46 1022.2 L2067.65 1022.2 L2069.84 1022.2 L2072.03 1022.2 L2074.22 1022.2 L2076.41 1022.2 L2078.6 1022.2 L2080.79 1022.2 L2082.98 1022.2 L2085.17 1022.2 L2087.36 1022.2 L2089.55 1022.2 L2091.75 1022.2 L2093.94 1022.2 L2096.13 1022.2 L2098.32 1022.2 L2100.51 1022.2 L2102.7 1022.2 L2104.89 1022.2 L2107.08 1022.2 L2109.27 1022.2 L2111.46 1022.2 L2113.65 1020.49 L2115.84 1018.66 L2118.03 1018.05 L2120.22 1020.79 L2122.42 1021.83 L2124.61 1022.2 L2126.8 1022.2 L2128.99 1022.2 L2131.18 1022.2 L2133.37 1022.2 L2135.56 1022.2 L2137.75 1022.2 L2139.94 1022.2 L2142.13 1022.2 L2144.32 1022.2 L2146.51 1022.2 L2148.7 1022.2 L2150.9 1022.2 L2153.09 1022.2 L2155.28 1022.2 L2157.47 1022.2 L2159.66 1022.2 L2161.85 1022.2 L2164.04 1022.2 L2166.23 1022.2 L2168.42 1022.2 L2170.61 1022.2 L2172.8 1022.2 L2174.99 1022.2 L2177.18 1022.2 L2179.38 1022.2 L2181.57 1022.2 L2183.76 1022.2 L2185.95 1022.2 L2188.14 1022.2 L2190.33 1022.2 L2192.52 1020.24 L2194.71 1010.88 L2196.9 995.93 L2199.09 988.55 L2201.28 981.17 L2203.47 973.81 L2205.66 966.48 L2207.85 959.14 L2210.05 951.91 L2212.24 944.76 L2214.43 937.61 L2216.62 930.1 L2218.81 922.53 L2221 914.96 L2223.19 907.17 L2225.38 898.79 L2227.57 890.41 L2229.76 882.02 L2231.95 875.65 L2234.14 870.28 L2236.33 864.91 L2238.53 859.54 L2240.72 855.36 L2242.91 851.26 L2245.1 847.16 L2247.29 843.64 L2249.48 841.71 L2251.67 839.77 L2253.86 837.84 L2256.05 835.51 L2258.24 832.91 L2260.43 830.32 L2262.62 827.72 L2264.81 825.08 L2267.01 822.41 L2269.2 819.75 L2271.39 817.08 L2273.58 814.74 L2275.77 813.72 L2277.96 812.7 L2280.15 811.16 L2282.34 809.59 L2284.53 808.83 L2286.72 808.62 L2288.91 808.41 L2291.1 808.2 L2293.29 807.98 L2295.48 807.53 L2297.68 807.07 L2299.87 806.61 L2302.06 806.7 L2304.25 808.29 L2306.44 809.89 L2308.63 811.48 L2310.82 812.9 L2313.01 814.23 L2315.2 815.56 L2317.39 816.89 L2319.58 818.25 L2321.77 820.17 L2323.96 822.08 L2326.16 824 L2328.35 825.91 L2330.54 828.22 L2332.73 830.79 L2334.92 833.35 L2337.11 835.69 L2339.3 837.4 L2341.49 839.11 L2343.68 840.82 L2345.87 842.52 L2348.06 844.2 L2350.25 845.88 L2352.44 847.55 L2354.64 849.23 L2356.83 851.31 L2359.02 853.67 L2361.21 856.03 L2363.4 858.38 L2365.59 860.74 L2367.78 862.78 L2369.97 864.79 L2372.16 866.81 L2374.35 868.83 L2376.54 870.68 L2378.73 872.09 L2380.92 873.91 L2383.11 876.88 L2385.31 879.85 L2387.5 882.7 L2389.69 885.52 L2391.88 888.33 L2394.07 891.15 L2396.26 894.01 L2398.45 897.04 L2400.64 900.06 L2402.83 903.09 L2405.02 906.12 L2407.21 908.65 L2409.4 910.86 L2411.59 913.06 L2413.79 915.27 L2415.98 917.47 L2418.17 918.85 L2420.36 920.22 L2422.55 922.61 L2424.74 925.66 L2426.93 928.43 L2429.12 930.75 L2431.31 933.08 L2433.5 935.4 L2435.69 937.73 L2437.88 938.74 L2440.07 939.65 L2442.27 940.9 L2444.46 943.03 L2446.65 945.13 L2448.84 947.09 L2451.03 949.05 L2453.22 951.02 L2455.41 952.98 L2457.6 954.4 L2459.79 955.44 L2461.98 956.49 L2464.17 957.54 L2466.36 958.59 L2468.55 959.72 L2470.74 960.86 L2472.94 962 L2475.13 963.58 L2477.32 965.8 L2480.82 969.36"/>
<path class="ex" stroke="#edb120" stroke-dashoffset="0" d="M1956.8 676.01 L1964.1 734.17 L1971.4 715.11 L1978.7 689.82 L1986.01 695.93 L1993.31 711.08 L2000.61 735.03 L2007.91 755.19 L2015.22 784.28 L2022.52 807.98 L2029.82 831.08 L2037.12 851.12 L2044.43 869.45 L2051.73 885.34 L2059.03 901.47 L2066.33 910.51 L2073.64 911.49 L2080.94 905.38 L2088.24 897.56 L2095.54 891.45 L2102.85 883.26 L2110.15 869.45 L2117.45 851.12 L2124.75 837.07 L2132.06 831.08 L2139.36 831.08 L2146.66 836.09 L2153.96 844.15 L2161.26 851.12 L2168.57 857.23 L2175.87 863.34 L2183.17 871.28 L2190.47 887.29 L2197.78 903.67 L2205.08 917.47 L2212.38 929.57 L2219.68 939.1 L2226.99 950.1 L2234.29 958.66 L2241.59 965.99 L2248.89 973.32 L2256.2 976.99 L2263.5 980.04 L2270.8 984.93 L2278.11 988.59 L2285.41 992.26 L2292.71 996.54 L2300.01 1000.2 L2307.32 1003.87 L2314.62 1006.92 L2321.92 1009.37 L2329.22 1011.2 L2336.53 1012.42"/>
</g>
<text class="t" transform="translate(1972.3 1053.8) scale(1 1.04)" text-anchor="middle">250</text>
<text class="t" transform="translate(2045.33 1053.8) scale(1 1.04)" text-anchor="middle">300</text>
<text class="t" transform="translate(2118.35 1053.8) scale(1 1.04)" text-anchor="middle">350</text>
<text class="t" transform="translate(2191.38 1053.8) scale(1 1.04)" text-anchor="middle">400</text>
<text class="t" transform="translate(2264.4 1053.8) scale(1 1.04)" text-anchor="middle">450</text>
<text class="t" transform="translate(2337.43 1053.8) scale(1 1.04)" text-anchor="middle">500</text>
<text class="t" transform="translate(2410.45 1053.8) scale(1 1.04)" text-anchor="middle">550</text>
<text class="t" transform="translate(1949.45 1031.2) scale(1 1.04)" text-anchor="end">0</text>
<text class="t" transform="translate(1949.45 970.1) scale(1 1.04)" text-anchor="end">0.05</text>
<text class="t" transform="translate(1949.45 909) scale(1 1.04)" text-anchor="end">0.1</text>
<text class="t" transform="translate(1949.45 847.9) scale(1 1.04)" text-anchor="end">0.15</text>
<text class="t" transform="translate(1949.45 786.8) scale(1 1.04)" text-anchor="end">0.2</text>
<text class="t" transform="translate(1949.45 725.7) scale(1 1.04)" text-anchor="end">0.25</text>
<text class="t" transform="translate(1949.45 664.6) scale(1 1.04)" text-anchor="end">0.3</text>
<text class="t" transform="translate(1949.45 603.5) scale(1 1.04)" text-anchor="end">0.35</text>
<text class="l" x="2219.43" y="1088.5" text-anchor="middle">Wavelength (nm)</text>
</g>
<g id="legend">
<rect x="2203.5" y="612.7" width="259.6" height="146.6" fill="#fff" stroke="#2e2e2e" stroke-width="1.15"/>
<path d="M2209.8 629.4H2275.3" stroke="#808080" stroke-width="4.1" fill="none"/>
<path d="M2209.9 658.1H2275.3" stroke="#808080" stroke-width="4.1" stroke-dasharray="4 4.47" fill="none"/>
<rect x="2236.1" y="680.1" width="13.4" height="13.4" fill="#0072bd"/>
<rect x="2236.1" y="708.8" width="13.4" height="13.4" fill="#d95319"/>
<rect x="2236.1" y="737.5" width="13.4" height="13.4" fill="#edb120"/>
<text class="g" x="2280.7" y="637.1">Emission</text>
<text class="g" x="2280.7" y="665.8">Excitation</text>
<text class="g" x="2280.7" y="694.5">Overall</text>
<text class="g" x="2280.7" y="723.2">Split 1 (original)</text>
<text class="g" x="2280.7" y="751.9">Split 2 (acidified)</text>
</g>
</svg></body></html>
